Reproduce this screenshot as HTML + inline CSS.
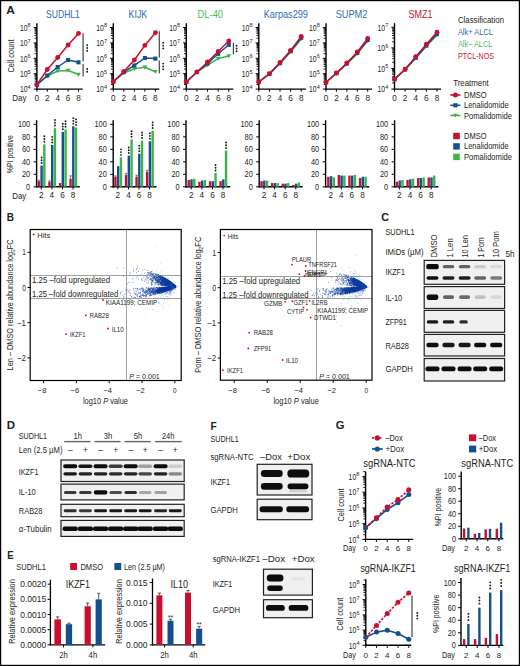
<!DOCTYPE html>
<html><head><meta charset="utf-8"><style>
html,body{margin:0;padding:0;background:#fff;}
svg{display:block;}
text{font-family:"Liberation Sans",sans-serif;}
</style></head><body>
<svg width="520" height="666" viewBox="0 0 520 666">
<defs><filter id="b1" x="-30%" y="-100%" width="160%" height="300%"><feGaussianBlur stdDeviation="0.55"/></filter><filter id="b2" x="-30%" y="-100%" width="160%" height="300%"><feGaussianBlur stdDeviation="0.6"/></filter></defs>
<rect width="520" height="666" fill="#fff"/>
<rect x="0.60" y="0.60" width="518.80" height="664.80" fill="none" stroke="#000" stroke-width="1.2"/>
<text x="6.30" y="14.40" font-size="11.5" fill="#231f20" font-weight="bold" textLength="8.60" lengthAdjust="spacingAndGlyphs">A</text>
<text x="6.80" y="221.00" font-size="11.5" fill="#231f20" font-weight="bold" textLength="7.20" lengthAdjust="spacingAndGlyphs">B</text>
<text x="381.20" y="221.20" font-size="11.5" fill="#231f20" font-weight="bold" textLength="7.80" lengthAdjust="spacingAndGlyphs">C</text>
<text x="6.80" y="429.30" font-size="11.5" fill="#231f20" font-weight="bold" textLength="8.30" lengthAdjust="spacingAndGlyphs">D</text>
<text x="7.30" y="558.80" font-size="11.5" fill="#231f20" font-weight="bold" textLength="6.40" lengthAdjust="spacingAndGlyphs">E</text>
<text x="210.40" y="429.70" font-size="11.5" fill="#231f20" font-weight="bold" textLength="6.20" lengthAdjust="spacingAndGlyphs">F</text>
<text x="335.80" y="429.20" font-size="11.5" fill="#231f20" font-weight="bold" textLength="8.80" lengthAdjust="spacingAndGlyphs">G</text>
<text x="62.95" y="18.40" font-size="10.6" fill="#2d6db0" text-anchor="middle" textLength="33.90" lengthAdjust="spacingAndGlyphs">SUDHL1</text>
<line x1="36.90" y1="23.20" x2="36.90" y2="89.70" stroke="#000" stroke-width="1.4"/>
<line x1="33.70" y1="89.10" x2="36.90" y2="89.10" stroke="#000" stroke-width="1"/>
<text x="27.50" y="92.30" font-size="8.3" fill="#231f20" text-anchor="end" textLength="7.60" lengthAdjust="spacingAndGlyphs">10</text>
<text x="27.60" y="89.00" font-size="6.0" fill="#231f20" textLength="3.10" lengthAdjust="spacingAndGlyphs">4</text>
<line x1="34.60" y1="84.46" x2="36.90" y2="84.46" stroke="#000" stroke-width="0.9"/>
<line x1="34.60" y1="81.75" x2="36.90" y2="81.75" stroke="#000" stroke-width="0.9"/>
<line x1="34.60" y1="79.83" x2="36.90" y2="79.83" stroke="#000" stroke-width="0.9"/>
<line x1="34.60" y1="78.34" x2="36.90" y2="78.34" stroke="#000" stroke-width="0.9"/>
<line x1="34.60" y1="77.12" x2="36.90" y2="77.12" stroke="#000" stroke-width="0.9"/>
<line x1="34.60" y1="76.09" x2="36.90" y2="76.09" stroke="#000" stroke-width="0.9"/>
<line x1="34.60" y1="75.19" x2="36.90" y2="75.19" stroke="#000" stroke-width="0.9"/>
<line x1="34.60" y1="74.40" x2="36.90" y2="74.40" stroke="#000" stroke-width="0.9"/>
<line x1="33.70" y1="73.70" x2="36.90" y2="73.70" stroke="#000" stroke-width="1"/>
<text x="27.50" y="76.90" font-size="8.3" fill="#231f20" text-anchor="end" textLength="7.60" lengthAdjust="spacingAndGlyphs">10</text>
<text x="27.60" y="73.60" font-size="6.0" fill="#231f20" textLength="3.10" lengthAdjust="spacingAndGlyphs">5</text>
<line x1="34.60" y1="69.06" x2="36.90" y2="69.06" stroke="#000" stroke-width="0.9"/>
<line x1="34.60" y1="66.35" x2="36.90" y2="66.35" stroke="#000" stroke-width="0.9"/>
<line x1="34.60" y1="64.43" x2="36.90" y2="64.43" stroke="#000" stroke-width="0.9"/>
<line x1="34.60" y1="62.94" x2="36.90" y2="62.94" stroke="#000" stroke-width="0.9"/>
<line x1="34.60" y1="61.72" x2="36.90" y2="61.72" stroke="#000" stroke-width="0.9"/>
<line x1="34.60" y1="60.69" x2="36.90" y2="60.69" stroke="#000" stroke-width="0.9"/>
<line x1="34.60" y1="59.79" x2="36.90" y2="59.79" stroke="#000" stroke-width="0.9"/>
<line x1="34.60" y1="59.00" x2="36.90" y2="59.00" stroke="#000" stroke-width="0.9"/>
<line x1="33.70" y1="58.30" x2="36.90" y2="58.30" stroke="#000" stroke-width="1"/>
<text x="27.50" y="61.50" font-size="8.3" fill="#231f20" text-anchor="end" textLength="7.60" lengthAdjust="spacingAndGlyphs">10</text>
<text x="27.60" y="58.20" font-size="6.0" fill="#231f20" textLength="3.10" lengthAdjust="spacingAndGlyphs">6</text>
<line x1="34.60" y1="53.66" x2="36.90" y2="53.66" stroke="#000" stroke-width="0.9"/>
<line x1="34.60" y1="50.95" x2="36.90" y2="50.95" stroke="#000" stroke-width="0.9"/>
<line x1="34.60" y1="49.03" x2="36.90" y2="49.03" stroke="#000" stroke-width="0.9"/>
<line x1="34.60" y1="47.54" x2="36.90" y2="47.54" stroke="#000" stroke-width="0.9"/>
<line x1="34.60" y1="46.32" x2="36.90" y2="46.32" stroke="#000" stroke-width="0.9"/>
<line x1="34.60" y1="45.29" x2="36.90" y2="45.29" stroke="#000" stroke-width="0.9"/>
<line x1="34.60" y1="44.39" x2="36.90" y2="44.39" stroke="#000" stroke-width="0.9"/>
<line x1="34.60" y1="43.60" x2="36.90" y2="43.60" stroke="#000" stroke-width="0.9"/>
<line x1="33.70" y1="42.90" x2="36.90" y2="42.90" stroke="#000" stroke-width="1"/>
<text x="27.50" y="46.10" font-size="8.3" fill="#231f20" text-anchor="end" textLength="7.60" lengthAdjust="spacingAndGlyphs">10</text>
<text x="27.60" y="42.80" font-size="6.0" fill="#231f20" textLength="3.10" lengthAdjust="spacingAndGlyphs">7</text>
<line x1="34.60" y1="38.26" x2="36.90" y2="38.26" stroke="#000" stroke-width="0.9"/>
<line x1="34.60" y1="35.55" x2="36.90" y2="35.55" stroke="#000" stroke-width="0.9"/>
<line x1="34.60" y1="33.63" x2="36.90" y2="33.63" stroke="#000" stroke-width="0.9"/>
<line x1="34.60" y1="32.14" x2="36.90" y2="32.14" stroke="#000" stroke-width="0.9"/>
<line x1="34.60" y1="30.92" x2="36.90" y2="30.92" stroke="#000" stroke-width="0.9"/>
<line x1="34.60" y1="29.89" x2="36.90" y2="29.89" stroke="#000" stroke-width="0.9"/>
<line x1="34.60" y1="28.99" x2="36.90" y2="28.99" stroke="#000" stroke-width="0.9"/>
<line x1="34.60" y1="28.20" x2="36.90" y2="28.20" stroke="#000" stroke-width="0.9"/>
<line x1="33.70" y1="27.50" x2="36.90" y2="27.50" stroke="#000" stroke-width="1"/>
<text x="27.50" y="30.70" font-size="8.3" fill="#231f20" text-anchor="end" textLength="7.60" lengthAdjust="spacingAndGlyphs">10</text>
<text x="27.60" y="27.40" font-size="6.0" fill="#231f20" textLength="3.10" lengthAdjust="spacingAndGlyphs">8</text>
<line x1="36.20" y1="89.10" x2="82.80" y2="89.10" stroke="#000" stroke-width="1.4"/>
<line x1="36.90" y1="89.10" x2="36.90" y2="91.70" stroke="#000" stroke-width="1"/>
<text x="36.90" y="100.80" font-size="8.2" fill="#231f20" text-anchor="middle">0</text>
<line x1="47.30" y1="89.10" x2="47.30" y2="91.70" stroke="#000" stroke-width="1"/>
<text x="47.30" y="100.80" font-size="8.2" fill="#231f20" text-anchor="middle">2</text>
<line x1="57.70" y1="89.10" x2="57.70" y2="91.70" stroke="#000" stroke-width="1"/>
<text x="57.70" y="100.80" font-size="8.2" fill="#231f20" text-anchor="middle">4</text>
<line x1="68.10" y1="89.10" x2="68.10" y2="91.70" stroke="#000" stroke-width="1"/>
<text x="68.10" y="100.80" font-size="8.2" fill="#231f20" text-anchor="middle">6</text>
<line x1="78.50" y1="89.10" x2="78.50" y2="91.70" stroke="#000" stroke-width="1"/>
<text x="78.50" y="100.80" font-size="8.2" fill="#231f20" text-anchor="middle">8</text>
<polyline points="36.90,84.70 47.30,76.00 57.70,71.00 68.10,70.50 78.50,74.50" fill="none" stroke="#3cb44b" stroke-width="1.5" stroke-linejoin="round"/>
<path d="M34.50,82.90L39.30,82.90L36.90,86.86Z" fill="#3cb44b"/>
<path d="M44.90,74.20L49.70,74.20L47.30,78.16Z" fill="#3cb44b"/>
<path d="M55.30,69.20L60.10,69.20L57.70,73.16Z" fill="#3cb44b"/>
<path d="M65.70,68.70L70.50,68.70L68.10,72.66Z" fill="#3cb44b"/>
<path d="M76.10,72.70L80.90,72.70L78.50,76.66Z" fill="#3cb44b"/>
<polyline points="36.90,84.70 47.30,75.50 57.70,67.00 68.10,60.00 78.50,62.30" fill="none" stroke="#15508e" stroke-width="1.5" stroke-linejoin="round"/>
<rect x="34.85" y="82.65" width="4.10" height="4.10" fill="#15508e"/>
<rect x="45.25" y="73.45" width="4.10" height="4.10" fill="#15508e"/>
<rect x="55.65" y="64.95" width="4.10" height="4.10" fill="#15508e"/>
<rect x="66.05" y="57.95" width="4.10" height="4.10" fill="#15508e"/>
<rect x="76.45" y="60.25" width="4.10" height="4.10" fill="#15508e"/>
<polyline points="36.90,84.70 47.30,69.50 57.70,57.50 68.10,45.00 78.50,33.40" fill="none" stroke="#c8102e" stroke-width="1.5" stroke-linejoin="round"/>
<circle cx="36.90" cy="84.70" r="2.45" fill="#c8102e"/>
<circle cx="47.30" cy="69.50" r="2.45" fill="#c8102e"/>
<circle cx="57.70" cy="57.50" r="2.45" fill="#c8102e"/>
<circle cx="68.10" cy="45.00" r="2.45" fill="#c8102e"/>
<circle cx="78.50" cy="33.40" r="2.45" fill="#c8102e"/>
<line x1="83.10" y1="33.00" x2="83.10" y2="61.60" stroke="#444" stroke-width="1.2"/>
<circle cx="87.20" cy="45.20" r="0.95" fill="#1a1a1a"/>
<circle cx="87.20" cy="48.00" r="0.95" fill="#1a1a1a"/>
<circle cx="87.20" cy="50.80" r="0.95" fill="#1a1a1a"/>
<line x1="83.10" y1="64.10" x2="83.10" y2="76.60" stroke="#444" stroke-width="1.2"/>
<circle cx="87.20" cy="69.00" r="0.95" fill="#1a1a1a"/>
<circle cx="87.20" cy="71.80" r="0.95" fill="#1a1a1a"/>
<text x="137.90" y="18.40" font-size="10.6" fill="#2d6db0" text-anchor="middle" textLength="18.80" lengthAdjust="spacingAndGlyphs">KIJK</text>
<line x1="113.30" y1="23.20" x2="113.30" y2="89.70" stroke="#000" stroke-width="1.4"/>
<line x1="110.10" y1="89.10" x2="113.30" y2="89.10" stroke="#000" stroke-width="1"/>
<text x="103.90" y="92.30" font-size="8.3" fill="#231f20" text-anchor="end" textLength="7.60" lengthAdjust="spacingAndGlyphs">10</text>
<text x="104.00" y="89.00" font-size="6.0" fill="#231f20" textLength="3.10" lengthAdjust="spacingAndGlyphs">4</text>
<line x1="111.00" y1="84.46" x2="113.30" y2="84.46" stroke="#000" stroke-width="0.9"/>
<line x1="111.00" y1="81.75" x2="113.30" y2="81.75" stroke="#000" stroke-width="0.9"/>
<line x1="111.00" y1="79.83" x2="113.30" y2="79.83" stroke="#000" stroke-width="0.9"/>
<line x1="111.00" y1="78.34" x2="113.30" y2="78.34" stroke="#000" stroke-width="0.9"/>
<line x1="111.00" y1="77.12" x2="113.30" y2="77.12" stroke="#000" stroke-width="0.9"/>
<line x1="111.00" y1="76.09" x2="113.30" y2="76.09" stroke="#000" stroke-width="0.9"/>
<line x1="111.00" y1="75.19" x2="113.30" y2="75.19" stroke="#000" stroke-width="0.9"/>
<line x1="111.00" y1="74.40" x2="113.30" y2="74.40" stroke="#000" stroke-width="0.9"/>
<line x1="110.10" y1="73.70" x2="113.30" y2="73.70" stroke="#000" stroke-width="1"/>
<text x="103.90" y="76.90" font-size="8.3" fill="#231f20" text-anchor="end" textLength="7.60" lengthAdjust="spacingAndGlyphs">10</text>
<text x="104.00" y="73.60" font-size="6.0" fill="#231f20" textLength="3.10" lengthAdjust="spacingAndGlyphs">5</text>
<line x1="111.00" y1="69.06" x2="113.30" y2="69.06" stroke="#000" stroke-width="0.9"/>
<line x1="111.00" y1="66.35" x2="113.30" y2="66.35" stroke="#000" stroke-width="0.9"/>
<line x1="111.00" y1="64.43" x2="113.30" y2="64.43" stroke="#000" stroke-width="0.9"/>
<line x1="111.00" y1="62.94" x2="113.30" y2="62.94" stroke="#000" stroke-width="0.9"/>
<line x1="111.00" y1="61.72" x2="113.30" y2="61.72" stroke="#000" stroke-width="0.9"/>
<line x1="111.00" y1="60.69" x2="113.30" y2="60.69" stroke="#000" stroke-width="0.9"/>
<line x1="111.00" y1="59.79" x2="113.30" y2="59.79" stroke="#000" stroke-width="0.9"/>
<line x1="111.00" y1="59.00" x2="113.30" y2="59.00" stroke="#000" stroke-width="0.9"/>
<line x1="110.10" y1="58.30" x2="113.30" y2="58.30" stroke="#000" stroke-width="1"/>
<text x="103.90" y="61.50" font-size="8.3" fill="#231f20" text-anchor="end" textLength="7.60" lengthAdjust="spacingAndGlyphs">10</text>
<text x="104.00" y="58.20" font-size="6.0" fill="#231f20" textLength="3.10" lengthAdjust="spacingAndGlyphs">6</text>
<line x1="111.00" y1="53.66" x2="113.30" y2="53.66" stroke="#000" stroke-width="0.9"/>
<line x1="111.00" y1="50.95" x2="113.30" y2="50.95" stroke="#000" stroke-width="0.9"/>
<line x1="111.00" y1="49.03" x2="113.30" y2="49.03" stroke="#000" stroke-width="0.9"/>
<line x1="111.00" y1="47.54" x2="113.30" y2="47.54" stroke="#000" stroke-width="0.9"/>
<line x1="111.00" y1="46.32" x2="113.30" y2="46.32" stroke="#000" stroke-width="0.9"/>
<line x1="111.00" y1="45.29" x2="113.30" y2="45.29" stroke="#000" stroke-width="0.9"/>
<line x1="111.00" y1="44.39" x2="113.30" y2="44.39" stroke="#000" stroke-width="0.9"/>
<line x1="111.00" y1="43.60" x2="113.30" y2="43.60" stroke="#000" stroke-width="0.9"/>
<line x1="110.10" y1="42.90" x2="113.30" y2="42.90" stroke="#000" stroke-width="1"/>
<text x="103.90" y="46.10" font-size="8.3" fill="#231f20" text-anchor="end" textLength="7.60" lengthAdjust="spacingAndGlyphs">10</text>
<text x="104.00" y="42.80" font-size="6.0" fill="#231f20" textLength="3.10" lengthAdjust="spacingAndGlyphs">7</text>
<line x1="111.00" y1="38.26" x2="113.30" y2="38.26" stroke="#000" stroke-width="0.9"/>
<line x1="111.00" y1="35.55" x2="113.30" y2="35.55" stroke="#000" stroke-width="0.9"/>
<line x1="111.00" y1="33.63" x2="113.30" y2="33.63" stroke="#000" stroke-width="0.9"/>
<line x1="111.00" y1="32.14" x2="113.30" y2="32.14" stroke="#000" stroke-width="0.9"/>
<line x1="111.00" y1="30.92" x2="113.30" y2="30.92" stroke="#000" stroke-width="0.9"/>
<line x1="111.00" y1="29.89" x2="113.30" y2="29.89" stroke="#000" stroke-width="0.9"/>
<line x1="111.00" y1="28.99" x2="113.30" y2="28.99" stroke="#000" stroke-width="0.9"/>
<line x1="111.00" y1="28.20" x2="113.30" y2="28.20" stroke="#000" stroke-width="0.9"/>
<line x1="110.10" y1="27.50" x2="113.30" y2="27.50" stroke="#000" stroke-width="1"/>
<text x="103.90" y="30.70" font-size="8.3" fill="#231f20" text-anchor="end" textLength="7.60" lengthAdjust="spacingAndGlyphs">10</text>
<text x="104.00" y="27.40" font-size="6.0" fill="#231f20" textLength="3.10" lengthAdjust="spacingAndGlyphs">8</text>
<line x1="112.60" y1="89.10" x2="159.30" y2="89.10" stroke="#000" stroke-width="1.4"/>
<line x1="113.30" y1="89.10" x2="113.30" y2="91.70" stroke="#000" stroke-width="1"/>
<text x="113.30" y="100.80" font-size="8.2" fill="#231f20" text-anchor="middle">0</text>
<line x1="123.83" y1="89.10" x2="123.83" y2="91.70" stroke="#000" stroke-width="1"/>
<text x="123.83" y="100.80" font-size="8.2" fill="#231f20" text-anchor="middle">2</text>
<line x1="134.35" y1="89.10" x2="134.35" y2="91.70" stroke="#000" stroke-width="1"/>
<text x="134.35" y="100.80" font-size="8.2" fill="#231f20" text-anchor="middle">4</text>
<line x1="144.88" y1="89.10" x2="144.88" y2="91.70" stroke="#000" stroke-width="1"/>
<text x="144.88" y="100.80" font-size="8.2" fill="#231f20" text-anchor="middle">6</text>
<line x1="155.40" y1="89.10" x2="155.40" y2="91.70" stroke="#000" stroke-width="1"/>
<text x="155.40" y="100.80" font-size="8.2" fill="#231f20" text-anchor="middle">8</text>
<polyline points="113.30,81.70 123.83,73.00 134.35,68.80 144.88,67.30 155.40,71.70" fill="none" stroke="#3cb44b" stroke-width="1.5" stroke-linejoin="round"/>
<path d="M110.90,79.90L115.70,79.90L113.30,83.86Z" fill="#3cb44b"/>
<path d="M121.42,71.20L126.23,71.20L123.83,75.16Z" fill="#3cb44b"/>
<path d="M131.95,67.00L136.75,67.00L134.35,70.96Z" fill="#3cb44b"/>
<path d="M142.47,65.50L147.28,65.50L144.88,69.46Z" fill="#3cb44b"/>
<path d="M153.00,69.90L157.80,69.90L155.40,73.86Z" fill="#3cb44b"/>
<polyline points="113.30,81.70 123.83,72.10 134.35,65.40 144.88,58.00 155.40,58.60" fill="none" stroke="#15508e" stroke-width="1.5" stroke-linejoin="round"/>
<rect x="111.25" y="79.65" width="4.10" height="4.10" fill="#15508e"/>
<rect x="121.78" y="70.05" width="4.10" height="4.10" fill="#15508e"/>
<rect x="132.30" y="63.35" width="4.10" height="4.10" fill="#15508e"/>
<rect x="142.82" y="55.95" width="4.10" height="4.10" fill="#15508e"/>
<rect x="153.35" y="56.55" width="4.10" height="4.10" fill="#15508e"/>
<polyline points="113.30,81.70 123.83,71.50 134.35,60.00 144.88,45.40 155.40,32.80" fill="none" stroke="#c8102e" stroke-width="1.5" stroke-linejoin="round"/>
<circle cx="113.30" cy="81.70" r="2.45" fill="#c8102e"/>
<circle cx="123.83" cy="71.50" r="2.45" fill="#c8102e"/>
<circle cx="134.35" cy="60.00" r="2.45" fill="#c8102e"/>
<circle cx="144.88" cy="45.40" r="2.45" fill="#c8102e"/>
<circle cx="155.40" cy="32.80" r="2.45" fill="#c8102e"/>
<line x1="159.30" y1="31.30" x2="159.30" y2="57.40" stroke="#444" stroke-width="1.2"/>
<circle cx="163.20" cy="42.80" r="0.95" fill="#1a1a1a"/>
<circle cx="163.20" cy="45.60" r="0.95" fill="#1a1a1a"/>
<circle cx="163.20" cy="48.40" r="0.95" fill="#1a1a1a"/>
<line x1="159.30" y1="60.50" x2="159.30" y2="73.20" stroke="#444" stroke-width="1.2"/>
<circle cx="163.20" cy="63.60" r="0.95" fill="#1a1a1a"/>
<circle cx="163.20" cy="66.40" r="0.95" fill="#1a1a1a"/>
<circle cx="163.20" cy="69.20" r="0.95" fill="#1a1a1a"/>
<text x="210.30" y="18.40" font-size="10.6" fill="#4cbb5e" text-anchor="middle" textLength="25.60" lengthAdjust="spacingAndGlyphs">DL-40</text>
<line x1="186.30" y1="23.20" x2="186.30" y2="89.70" stroke="#000" stroke-width="1.4"/>
<line x1="183.10" y1="89.10" x2="186.30" y2="89.10" stroke="#000" stroke-width="1"/>
<text x="176.90" y="92.30" font-size="8.3" fill="#231f20" text-anchor="end" textLength="7.60" lengthAdjust="spacingAndGlyphs">10</text>
<text x="177.00" y="89.00" font-size="6.0" fill="#231f20" textLength="3.10" lengthAdjust="spacingAndGlyphs">4</text>
<line x1="184.00" y1="84.46" x2="186.30" y2="84.46" stroke="#000" stroke-width="0.9"/>
<line x1="184.00" y1="81.75" x2="186.30" y2="81.75" stroke="#000" stroke-width="0.9"/>
<line x1="184.00" y1="79.83" x2="186.30" y2="79.83" stroke="#000" stroke-width="0.9"/>
<line x1="184.00" y1="78.34" x2="186.30" y2="78.34" stroke="#000" stroke-width="0.9"/>
<line x1="184.00" y1="77.12" x2="186.30" y2="77.12" stroke="#000" stroke-width="0.9"/>
<line x1="184.00" y1="76.09" x2="186.30" y2="76.09" stroke="#000" stroke-width="0.9"/>
<line x1="184.00" y1="75.19" x2="186.30" y2="75.19" stroke="#000" stroke-width="0.9"/>
<line x1="184.00" y1="74.40" x2="186.30" y2="74.40" stroke="#000" stroke-width="0.9"/>
<line x1="183.10" y1="73.70" x2="186.30" y2="73.70" stroke="#000" stroke-width="1"/>
<text x="176.90" y="76.90" font-size="8.3" fill="#231f20" text-anchor="end" textLength="7.60" lengthAdjust="spacingAndGlyphs">10</text>
<text x="177.00" y="73.60" font-size="6.0" fill="#231f20" textLength="3.10" lengthAdjust="spacingAndGlyphs">5</text>
<line x1="184.00" y1="69.06" x2="186.30" y2="69.06" stroke="#000" stroke-width="0.9"/>
<line x1="184.00" y1="66.35" x2="186.30" y2="66.35" stroke="#000" stroke-width="0.9"/>
<line x1="184.00" y1="64.43" x2="186.30" y2="64.43" stroke="#000" stroke-width="0.9"/>
<line x1="184.00" y1="62.94" x2="186.30" y2="62.94" stroke="#000" stroke-width="0.9"/>
<line x1="184.00" y1="61.72" x2="186.30" y2="61.72" stroke="#000" stroke-width="0.9"/>
<line x1="184.00" y1="60.69" x2="186.30" y2="60.69" stroke="#000" stroke-width="0.9"/>
<line x1="184.00" y1="59.79" x2="186.30" y2="59.79" stroke="#000" stroke-width="0.9"/>
<line x1="184.00" y1="59.00" x2="186.30" y2="59.00" stroke="#000" stroke-width="0.9"/>
<line x1="183.10" y1="58.30" x2="186.30" y2="58.30" stroke="#000" stroke-width="1"/>
<text x="176.90" y="61.50" font-size="8.3" fill="#231f20" text-anchor="end" textLength="7.60" lengthAdjust="spacingAndGlyphs">10</text>
<text x="177.00" y="58.20" font-size="6.0" fill="#231f20" textLength="3.10" lengthAdjust="spacingAndGlyphs">6</text>
<line x1="184.00" y1="53.66" x2="186.30" y2="53.66" stroke="#000" stroke-width="0.9"/>
<line x1="184.00" y1="50.95" x2="186.30" y2="50.95" stroke="#000" stroke-width="0.9"/>
<line x1="184.00" y1="49.03" x2="186.30" y2="49.03" stroke="#000" stroke-width="0.9"/>
<line x1="184.00" y1="47.54" x2="186.30" y2="47.54" stroke="#000" stroke-width="0.9"/>
<line x1="184.00" y1="46.32" x2="186.30" y2="46.32" stroke="#000" stroke-width="0.9"/>
<line x1="184.00" y1="45.29" x2="186.30" y2="45.29" stroke="#000" stroke-width="0.9"/>
<line x1="184.00" y1="44.39" x2="186.30" y2="44.39" stroke="#000" stroke-width="0.9"/>
<line x1="184.00" y1="43.60" x2="186.30" y2="43.60" stroke="#000" stroke-width="0.9"/>
<line x1="183.10" y1="42.90" x2="186.30" y2="42.90" stroke="#000" stroke-width="1"/>
<text x="176.90" y="46.10" font-size="8.3" fill="#231f20" text-anchor="end" textLength="7.60" lengthAdjust="spacingAndGlyphs">10</text>
<text x="177.00" y="42.80" font-size="6.0" fill="#231f20" textLength="3.10" lengthAdjust="spacingAndGlyphs">7</text>
<line x1="184.00" y1="38.26" x2="186.30" y2="38.26" stroke="#000" stroke-width="0.9"/>
<line x1="184.00" y1="35.55" x2="186.30" y2="35.55" stroke="#000" stroke-width="0.9"/>
<line x1="184.00" y1="33.63" x2="186.30" y2="33.63" stroke="#000" stroke-width="0.9"/>
<line x1="184.00" y1="32.14" x2="186.30" y2="32.14" stroke="#000" stroke-width="0.9"/>
<line x1="184.00" y1="30.92" x2="186.30" y2="30.92" stroke="#000" stroke-width="0.9"/>
<line x1="184.00" y1="29.89" x2="186.30" y2="29.89" stroke="#000" stroke-width="0.9"/>
<line x1="184.00" y1="28.99" x2="186.30" y2="28.99" stroke="#000" stroke-width="0.9"/>
<line x1="184.00" y1="28.20" x2="186.30" y2="28.20" stroke="#000" stroke-width="0.9"/>
<line x1="183.10" y1="27.50" x2="186.30" y2="27.50" stroke="#000" stroke-width="1"/>
<text x="176.90" y="30.70" font-size="8.3" fill="#231f20" text-anchor="end" textLength="7.60" lengthAdjust="spacingAndGlyphs">10</text>
<text x="177.00" y="27.40" font-size="6.0" fill="#231f20" textLength="3.10" lengthAdjust="spacingAndGlyphs">8</text>
<line x1="185.60" y1="89.10" x2="233.30" y2="89.10" stroke="#000" stroke-width="1.4"/>
<line x1="186.30" y1="89.10" x2="186.30" y2="91.70" stroke="#000" stroke-width="1"/>
<text x="186.30" y="100.80" font-size="8.2" fill="#231f20" text-anchor="middle">0</text>
<line x1="196.93" y1="89.10" x2="196.93" y2="91.70" stroke="#000" stroke-width="1"/>
<text x="196.93" y="100.80" font-size="8.2" fill="#231f20" text-anchor="middle">2</text>
<line x1="207.55" y1="89.10" x2="207.55" y2="91.70" stroke="#000" stroke-width="1"/>
<text x="207.55" y="100.80" font-size="8.2" fill="#231f20" text-anchor="middle">4</text>
<line x1="218.18" y1="89.10" x2="218.18" y2="91.70" stroke="#000" stroke-width="1"/>
<text x="218.18" y="100.80" font-size="8.2" fill="#231f20" text-anchor="middle">6</text>
<line x1="228.80" y1="89.10" x2="228.80" y2="91.70" stroke="#000" stroke-width="1"/>
<text x="228.80" y="100.80" font-size="8.2" fill="#231f20" text-anchor="middle">8</text>
<polyline points="186.30,82.00 196.93,72.00 207.55,65.00 218.18,58.60 228.80,56.00" fill="none" stroke="#3cb44b" stroke-width="1.5" stroke-linejoin="round"/>
<path d="M183.90,80.20L188.70,80.20L186.30,84.16Z" fill="#3cb44b"/>
<path d="M194.53,70.20L199.33,70.20L196.93,74.16Z" fill="#3cb44b"/>
<path d="M205.15,63.20L209.95,63.20L207.55,67.16Z" fill="#3cb44b"/>
<path d="M215.78,56.80L220.58,56.80L218.18,60.76Z" fill="#3cb44b"/>
<path d="M226.40,54.20L231.20,54.20L228.80,58.16Z" fill="#3cb44b"/>
<polyline points="186.30,82.00 196.93,72.00 207.55,63.50 218.18,53.80 228.80,44.80" fill="none" stroke="#15508e" stroke-width="1.5" stroke-linejoin="round"/>
<rect x="184.25" y="79.95" width="4.10" height="4.10" fill="#15508e"/>
<rect x="194.88" y="69.95" width="4.10" height="4.10" fill="#15508e"/>
<rect x="205.50" y="61.45" width="4.10" height="4.10" fill="#15508e"/>
<rect x="216.12" y="51.75" width="4.10" height="4.10" fill="#15508e"/>
<rect x="226.75" y="42.75" width="4.10" height="4.10" fill="#15508e"/>
<polyline points="186.30,82.00 196.93,72.00 207.55,62.00 218.18,51.50 228.80,41.00" fill="none" stroke="#c8102e" stroke-width="1.5" stroke-linejoin="round"/>
<circle cx="186.30" cy="82.00" r="2.45" fill="#c8102e"/>
<circle cx="196.93" cy="72.00" r="2.45" fill="#c8102e"/>
<circle cx="207.55" cy="62.00" r="2.45" fill="#c8102e"/>
<circle cx="218.18" cy="51.50" r="2.45" fill="#c8102e"/>
<circle cx="228.80" cy="41.00" r="2.45" fill="#c8102e"/>
<line x1="233.40" y1="42.70" x2="233.40" y2="54.40" stroke="#444" stroke-width="1.2"/>
<circle cx="236.60" cy="45.70" r="0.95" fill="#1a1a1a"/>
<circle cx="236.60" cy="48.50" r="0.95" fill="#1a1a1a"/>
<circle cx="236.60" cy="51.30" r="0.95" fill="#1a1a1a"/>
<text x="285.80" y="18.40" font-size="10.6" fill="#2d6db0" text-anchor="middle" textLength="44.20" lengthAdjust="spacingAndGlyphs">Karpas299</text>
<line x1="258.80" y1="23.20" x2="258.80" y2="89.70" stroke="#000" stroke-width="1.4"/>
<line x1="255.60" y1="89.10" x2="258.80" y2="89.10" stroke="#000" stroke-width="1"/>
<text x="249.40" y="92.30" font-size="8.3" fill="#231f20" text-anchor="end" textLength="7.60" lengthAdjust="spacingAndGlyphs">10</text>
<text x="249.50" y="89.00" font-size="6.0" fill="#231f20" textLength="3.10" lengthAdjust="spacingAndGlyphs">4</text>
<line x1="256.50" y1="84.46" x2="258.80" y2="84.46" stroke="#000" stroke-width="0.9"/>
<line x1="256.50" y1="81.75" x2="258.80" y2="81.75" stroke="#000" stroke-width="0.9"/>
<line x1="256.50" y1="79.83" x2="258.80" y2="79.83" stroke="#000" stroke-width="0.9"/>
<line x1="256.50" y1="78.34" x2="258.80" y2="78.34" stroke="#000" stroke-width="0.9"/>
<line x1="256.50" y1="77.12" x2="258.80" y2="77.12" stroke="#000" stroke-width="0.9"/>
<line x1="256.50" y1="76.09" x2="258.80" y2="76.09" stroke="#000" stroke-width="0.9"/>
<line x1="256.50" y1="75.19" x2="258.80" y2="75.19" stroke="#000" stroke-width="0.9"/>
<line x1="256.50" y1="74.40" x2="258.80" y2="74.40" stroke="#000" stroke-width="0.9"/>
<line x1="255.60" y1="73.70" x2="258.80" y2="73.70" stroke="#000" stroke-width="1"/>
<text x="249.40" y="76.90" font-size="8.3" fill="#231f20" text-anchor="end" textLength="7.60" lengthAdjust="spacingAndGlyphs">10</text>
<text x="249.50" y="73.60" font-size="6.0" fill="#231f20" textLength="3.10" lengthAdjust="spacingAndGlyphs">5</text>
<line x1="256.50" y1="69.06" x2="258.80" y2="69.06" stroke="#000" stroke-width="0.9"/>
<line x1="256.50" y1="66.35" x2="258.80" y2="66.35" stroke="#000" stroke-width="0.9"/>
<line x1="256.50" y1="64.43" x2="258.80" y2="64.43" stroke="#000" stroke-width="0.9"/>
<line x1="256.50" y1="62.94" x2="258.80" y2="62.94" stroke="#000" stroke-width="0.9"/>
<line x1="256.50" y1="61.72" x2="258.80" y2="61.72" stroke="#000" stroke-width="0.9"/>
<line x1="256.50" y1="60.69" x2="258.80" y2="60.69" stroke="#000" stroke-width="0.9"/>
<line x1="256.50" y1="59.79" x2="258.80" y2="59.79" stroke="#000" stroke-width="0.9"/>
<line x1="256.50" y1="59.00" x2="258.80" y2="59.00" stroke="#000" stroke-width="0.9"/>
<line x1="255.60" y1="58.30" x2="258.80" y2="58.30" stroke="#000" stroke-width="1"/>
<text x="249.40" y="61.50" font-size="8.3" fill="#231f20" text-anchor="end" textLength="7.60" lengthAdjust="spacingAndGlyphs">10</text>
<text x="249.50" y="58.20" font-size="6.0" fill="#231f20" textLength="3.10" lengthAdjust="spacingAndGlyphs">6</text>
<line x1="256.50" y1="53.66" x2="258.80" y2="53.66" stroke="#000" stroke-width="0.9"/>
<line x1="256.50" y1="50.95" x2="258.80" y2="50.95" stroke="#000" stroke-width="0.9"/>
<line x1="256.50" y1="49.03" x2="258.80" y2="49.03" stroke="#000" stroke-width="0.9"/>
<line x1="256.50" y1="47.54" x2="258.80" y2="47.54" stroke="#000" stroke-width="0.9"/>
<line x1="256.50" y1="46.32" x2="258.80" y2="46.32" stroke="#000" stroke-width="0.9"/>
<line x1="256.50" y1="45.29" x2="258.80" y2="45.29" stroke="#000" stroke-width="0.9"/>
<line x1="256.50" y1="44.39" x2="258.80" y2="44.39" stroke="#000" stroke-width="0.9"/>
<line x1="256.50" y1="43.60" x2="258.80" y2="43.60" stroke="#000" stroke-width="0.9"/>
<line x1="255.60" y1="42.90" x2="258.80" y2="42.90" stroke="#000" stroke-width="1"/>
<text x="249.40" y="46.10" font-size="8.3" fill="#231f20" text-anchor="end" textLength="7.60" lengthAdjust="spacingAndGlyphs">10</text>
<text x="249.50" y="42.80" font-size="6.0" fill="#231f20" textLength="3.10" lengthAdjust="spacingAndGlyphs">7</text>
<line x1="256.50" y1="38.26" x2="258.80" y2="38.26" stroke="#000" stroke-width="0.9"/>
<line x1="256.50" y1="35.55" x2="258.80" y2="35.55" stroke="#000" stroke-width="0.9"/>
<line x1="256.50" y1="33.63" x2="258.80" y2="33.63" stroke="#000" stroke-width="0.9"/>
<line x1="256.50" y1="32.14" x2="258.80" y2="32.14" stroke="#000" stroke-width="0.9"/>
<line x1="256.50" y1="30.92" x2="258.80" y2="30.92" stroke="#000" stroke-width="0.9"/>
<line x1="256.50" y1="29.89" x2="258.80" y2="29.89" stroke="#000" stroke-width="0.9"/>
<line x1="256.50" y1="28.99" x2="258.80" y2="28.99" stroke="#000" stroke-width="0.9"/>
<line x1="256.50" y1="28.20" x2="258.80" y2="28.20" stroke="#000" stroke-width="0.9"/>
<line x1="255.60" y1="27.50" x2="258.80" y2="27.50" stroke="#000" stroke-width="1"/>
<text x="249.40" y="30.70" font-size="8.3" fill="#231f20" text-anchor="end" textLength="7.60" lengthAdjust="spacingAndGlyphs">10</text>
<text x="249.50" y="27.40" font-size="6.0" fill="#231f20" textLength="3.10" lengthAdjust="spacingAndGlyphs">8</text>
<line x1="258.10" y1="89.10" x2="306.00" y2="89.10" stroke="#000" stroke-width="1.4"/>
<line x1="258.80" y1="89.10" x2="258.80" y2="91.70" stroke="#000" stroke-width="1"/>
<text x="258.80" y="100.80" font-size="8.2" fill="#231f20" text-anchor="middle">0</text>
<line x1="269.40" y1="89.10" x2="269.40" y2="91.70" stroke="#000" stroke-width="1"/>
<text x="269.40" y="100.80" font-size="8.2" fill="#231f20" text-anchor="middle">2</text>
<line x1="280.00" y1="89.10" x2="280.00" y2="91.70" stroke="#000" stroke-width="1"/>
<text x="280.00" y="100.80" font-size="8.2" fill="#231f20" text-anchor="middle">4</text>
<line x1="290.60" y1="89.10" x2="290.60" y2="91.70" stroke="#000" stroke-width="1"/>
<text x="290.60" y="100.80" font-size="8.2" fill="#231f20" text-anchor="middle">6</text>
<line x1="301.20" y1="89.10" x2="301.20" y2="91.70" stroke="#000" stroke-width="1"/>
<text x="301.20" y="100.80" font-size="8.2" fill="#231f20" text-anchor="middle">8</text>
<polyline points="258.80,82.00 269.40,74.00 280.00,63.50 290.60,52.00 301.20,39.00" fill="none" stroke="#3cb44b" stroke-width="1.5" stroke-linejoin="round"/>
<path d="M256.40,80.20L261.20,80.20L258.80,84.16Z" fill="#3cb44b"/>
<path d="M267.00,72.20L271.80,72.20L269.40,76.16Z" fill="#3cb44b"/>
<path d="M277.60,61.70L282.40,61.70L280.00,65.66Z" fill="#3cb44b"/>
<path d="M288.20,50.20L293.00,50.20L290.60,54.16Z" fill="#3cb44b"/>
<path d="M298.80,37.20L303.60,37.20L301.20,41.16Z" fill="#3cb44b"/>
<polyline points="258.80,82.00 269.40,73.90 280.00,63.20 290.60,51.20 301.20,37.80" fill="none" stroke="#15508e" stroke-width="1.5" stroke-linejoin="round"/>
<rect x="256.75" y="79.95" width="4.10" height="4.10" fill="#15508e"/>
<rect x="267.35" y="71.85" width="4.10" height="4.10" fill="#15508e"/>
<rect x="277.95" y="61.15" width="4.10" height="4.10" fill="#15508e"/>
<rect x="288.55" y="49.15" width="4.10" height="4.10" fill="#15508e"/>
<rect x="299.15" y="35.75" width="4.10" height="4.10" fill="#15508e"/>
<polyline points="258.80,82.00 269.40,73.70 280.00,62.50 290.60,50.40 301.20,36.50" fill="none" stroke="#c8102e" stroke-width="1.5" stroke-linejoin="round"/>
<circle cx="258.80" cy="82.00" r="2.45" fill="#c8102e"/>
<circle cx="269.40" cy="73.70" r="2.45" fill="#c8102e"/>
<circle cx="280.00" cy="62.50" r="2.45" fill="#c8102e"/>
<circle cx="290.60" cy="50.40" r="2.45" fill="#c8102e"/>
<circle cx="301.20" cy="36.50" r="2.45" fill="#c8102e"/>
<text x="351.50" y="18.40" font-size="10.6" fill="#2d6db0" text-anchor="middle" textLength="31.70" lengthAdjust="spacingAndGlyphs">SUPM2</text>
<line x1="326.00" y1="23.20" x2="326.00" y2="89.70" stroke="#000" stroke-width="1.4"/>
<line x1="322.80" y1="89.10" x2="326.00" y2="89.10" stroke="#000" stroke-width="1"/>
<text x="316.60" y="92.30" font-size="8.3" fill="#231f20" text-anchor="end" textLength="7.60" lengthAdjust="spacingAndGlyphs">10</text>
<text x="316.70" y="89.00" font-size="6.0" fill="#231f20" textLength="3.10" lengthAdjust="spacingAndGlyphs">4</text>
<line x1="323.70" y1="84.46" x2="326.00" y2="84.46" stroke="#000" stroke-width="0.9"/>
<line x1="323.70" y1="81.75" x2="326.00" y2="81.75" stroke="#000" stroke-width="0.9"/>
<line x1="323.70" y1="79.83" x2="326.00" y2="79.83" stroke="#000" stroke-width="0.9"/>
<line x1="323.70" y1="78.34" x2="326.00" y2="78.34" stroke="#000" stroke-width="0.9"/>
<line x1="323.70" y1="77.12" x2="326.00" y2="77.12" stroke="#000" stroke-width="0.9"/>
<line x1="323.70" y1="76.09" x2="326.00" y2="76.09" stroke="#000" stroke-width="0.9"/>
<line x1="323.70" y1="75.19" x2="326.00" y2="75.19" stroke="#000" stroke-width="0.9"/>
<line x1="323.70" y1="74.40" x2="326.00" y2="74.40" stroke="#000" stroke-width="0.9"/>
<line x1="322.80" y1="73.70" x2="326.00" y2="73.70" stroke="#000" stroke-width="1"/>
<text x="316.60" y="76.90" font-size="8.3" fill="#231f20" text-anchor="end" textLength="7.60" lengthAdjust="spacingAndGlyphs">10</text>
<text x="316.70" y="73.60" font-size="6.0" fill="#231f20" textLength="3.10" lengthAdjust="spacingAndGlyphs">5</text>
<line x1="323.70" y1="69.06" x2="326.00" y2="69.06" stroke="#000" stroke-width="0.9"/>
<line x1="323.70" y1="66.35" x2="326.00" y2="66.35" stroke="#000" stroke-width="0.9"/>
<line x1="323.70" y1="64.43" x2="326.00" y2="64.43" stroke="#000" stroke-width="0.9"/>
<line x1="323.70" y1="62.94" x2="326.00" y2="62.94" stroke="#000" stroke-width="0.9"/>
<line x1="323.70" y1="61.72" x2="326.00" y2="61.72" stroke="#000" stroke-width="0.9"/>
<line x1="323.70" y1="60.69" x2="326.00" y2="60.69" stroke="#000" stroke-width="0.9"/>
<line x1="323.70" y1="59.79" x2="326.00" y2="59.79" stroke="#000" stroke-width="0.9"/>
<line x1="323.70" y1="59.00" x2="326.00" y2="59.00" stroke="#000" stroke-width="0.9"/>
<line x1="322.80" y1="58.30" x2="326.00" y2="58.30" stroke="#000" stroke-width="1"/>
<text x="316.60" y="61.50" font-size="8.3" fill="#231f20" text-anchor="end" textLength="7.60" lengthAdjust="spacingAndGlyphs">10</text>
<text x="316.70" y="58.20" font-size="6.0" fill="#231f20" textLength="3.10" lengthAdjust="spacingAndGlyphs">6</text>
<line x1="323.70" y1="53.66" x2="326.00" y2="53.66" stroke="#000" stroke-width="0.9"/>
<line x1="323.70" y1="50.95" x2="326.00" y2="50.95" stroke="#000" stroke-width="0.9"/>
<line x1="323.70" y1="49.03" x2="326.00" y2="49.03" stroke="#000" stroke-width="0.9"/>
<line x1="323.70" y1="47.54" x2="326.00" y2="47.54" stroke="#000" stroke-width="0.9"/>
<line x1="323.70" y1="46.32" x2="326.00" y2="46.32" stroke="#000" stroke-width="0.9"/>
<line x1="323.70" y1="45.29" x2="326.00" y2="45.29" stroke="#000" stroke-width="0.9"/>
<line x1="323.70" y1="44.39" x2="326.00" y2="44.39" stroke="#000" stroke-width="0.9"/>
<line x1="323.70" y1="43.60" x2="326.00" y2="43.60" stroke="#000" stroke-width="0.9"/>
<line x1="322.80" y1="42.90" x2="326.00" y2="42.90" stroke="#000" stroke-width="1"/>
<text x="316.60" y="46.10" font-size="8.3" fill="#231f20" text-anchor="end" textLength="7.60" lengthAdjust="spacingAndGlyphs">10</text>
<text x="316.70" y="42.80" font-size="6.0" fill="#231f20" textLength="3.10" lengthAdjust="spacingAndGlyphs">7</text>
<line x1="323.70" y1="38.26" x2="326.00" y2="38.26" stroke="#000" stroke-width="0.9"/>
<line x1="323.70" y1="35.55" x2="326.00" y2="35.55" stroke="#000" stroke-width="0.9"/>
<line x1="323.70" y1="33.63" x2="326.00" y2="33.63" stroke="#000" stroke-width="0.9"/>
<line x1="323.70" y1="32.14" x2="326.00" y2="32.14" stroke="#000" stroke-width="0.9"/>
<line x1="323.70" y1="30.92" x2="326.00" y2="30.92" stroke="#000" stroke-width="0.9"/>
<line x1="323.70" y1="29.89" x2="326.00" y2="29.89" stroke="#000" stroke-width="0.9"/>
<line x1="323.70" y1="28.99" x2="326.00" y2="28.99" stroke="#000" stroke-width="0.9"/>
<line x1="323.70" y1="28.20" x2="326.00" y2="28.20" stroke="#000" stroke-width="0.9"/>
<line x1="322.80" y1="27.50" x2="326.00" y2="27.50" stroke="#000" stroke-width="1"/>
<text x="316.60" y="30.70" font-size="8.3" fill="#231f20" text-anchor="end" textLength="7.60" lengthAdjust="spacingAndGlyphs">10</text>
<text x="316.70" y="27.40" font-size="6.0" fill="#231f20" textLength="3.10" lengthAdjust="spacingAndGlyphs">8</text>
<line x1="325.30" y1="89.10" x2="372.00" y2="89.10" stroke="#000" stroke-width="1.4"/>
<line x1="326.00" y1="89.10" x2="326.00" y2="91.70" stroke="#000" stroke-width="1"/>
<text x="326.00" y="100.80" font-size="8.2" fill="#231f20" text-anchor="middle">0</text>
<line x1="336.43" y1="89.10" x2="336.43" y2="91.70" stroke="#000" stroke-width="1"/>
<text x="336.43" y="100.80" font-size="8.2" fill="#231f20" text-anchor="middle">2</text>
<line x1="346.85" y1="89.10" x2="346.85" y2="91.70" stroke="#000" stroke-width="1"/>
<text x="346.85" y="100.80" font-size="8.2" fill="#231f20" text-anchor="middle">4</text>
<line x1="357.27" y1="89.10" x2="357.27" y2="91.70" stroke="#000" stroke-width="1"/>
<text x="357.27" y="100.80" font-size="8.2" fill="#231f20" text-anchor="middle">6</text>
<line x1="367.70" y1="89.10" x2="367.70" y2="91.70" stroke="#000" stroke-width="1"/>
<text x="367.70" y="100.80" font-size="8.2" fill="#231f20" text-anchor="middle">8</text>
<polyline points="326.00,82.30 336.43,73.40 346.85,64.00 357.27,53.60 367.70,41.00" fill="none" stroke="#3cb44b" stroke-width="1.5" stroke-linejoin="round"/>
<path d="M323.60,80.50L328.40,80.50L326.00,84.46Z" fill="#3cb44b"/>
<path d="M334.03,71.60L338.82,71.60L336.43,75.56Z" fill="#3cb44b"/>
<path d="M344.45,62.20L349.25,62.20L346.85,66.16Z" fill="#3cb44b"/>
<path d="M354.88,51.80L359.67,51.80L357.27,55.76Z" fill="#3cb44b"/>
<path d="M365.30,39.20L370.10,39.20L367.70,43.16Z" fill="#3cb44b"/>
<polyline points="326.00,82.30 336.43,73.20 346.85,63.50 357.27,53.00 367.70,40.00" fill="none" stroke="#15508e" stroke-width="1.5" stroke-linejoin="round"/>
<rect x="323.95" y="80.25" width="4.10" height="4.10" fill="#15508e"/>
<rect x="334.38" y="71.15" width="4.10" height="4.10" fill="#15508e"/>
<rect x="344.80" y="61.45" width="4.10" height="4.10" fill="#15508e"/>
<rect x="355.22" y="50.95" width="4.10" height="4.10" fill="#15508e"/>
<rect x="365.65" y="37.95" width="4.10" height="4.10" fill="#15508e"/>
<polyline points="326.00,82.30 336.43,73.00 346.85,63.00 357.27,52.00 367.70,38.50" fill="none" stroke="#c8102e" stroke-width="1.5" stroke-linejoin="round"/>
<circle cx="326.00" cy="82.30" r="2.45" fill="#c8102e"/>
<circle cx="336.43" cy="73.00" r="2.45" fill="#c8102e"/>
<circle cx="346.85" cy="63.00" r="2.45" fill="#c8102e"/>
<circle cx="357.27" cy="52.00" r="2.45" fill="#c8102e"/>
<circle cx="367.70" cy="38.50" r="2.45" fill="#c8102e"/>
<text x="420.50" y="18.40" font-size="10.6" fill="#c8102e" text-anchor="middle" textLength="24.00" lengthAdjust="spacingAndGlyphs">SMZ1</text>
<line x1="394.50" y1="23.20" x2="394.50" y2="89.70" stroke="#000" stroke-width="1.4"/>
<line x1="391.30" y1="89.10" x2="394.50" y2="89.10" stroke="#000" stroke-width="1"/>
<text x="385.10" y="92.30" font-size="8.3" fill="#231f20" text-anchor="end" textLength="7.60" lengthAdjust="spacingAndGlyphs">10</text>
<text x="385.20" y="89.00" font-size="6.0" fill="#231f20" textLength="3.10" lengthAdjust="spacingAndGlyphs">4</text>
<line x1="392.20" y1="82.90" x2="394.50" y2="82.90" stroke="#000" stroke-width="0.9"/>
<line x1="392.20" y1="79.27" x2="394.50" y2="79.27" stroke="#000" stroke-width="0.9"/>
<line x1="392.20" y1="76.70" x2="394.50" y2="76.70" stroke="#000" stroke-width="0.9"/>
<line x1="392.20" y1="74.70" x2="394.50" y2="74.70" stroke="#000" stroke-width="0.9"/>
<line x1="392.20" y1="73.07" x2="394.50" y2="73.07" stroke="#000" stroke-width="0.9"/>
<line x1="392.20" y1="71.69" x2="394.50" y2="71.69" stroke="#000" stroke-width="0.9"/>
<line x1="392.20" y1="70.50" x2="394.50" y2="70.50" stroke="#000" stroke-width="0.9"/>
<line x1="392.20" y1="69.44" x2="394.50" y2="69.44" stroke="#000" stroke-width="0.9"/>
<line x1="391.30" y1="68.50" x2="394.50" y2="68.50" stroke="#000" stroke-width="1"/>
<text x="385.10" y="71.70" font-size="8.3" fill="#231f20" text-anchor="end" textLength="7.60" lengthAdjust="spacingAndGlyphs">10</text>
<text x="385.20" y="68.40" font-size="6.0" fill="#231f20" textLength="3.10" lengthAdjust="spacingAndGlyphs">5</text>
<line x1="392.20" y1="62.30" x2="394.50" y2="62.30" stroke="#000" stroke-width="0.9"/>
<line x1="392.20" y1="58.67" x2="394.50" y2="58.67" stroke="#000" stroke-width="0.9"/>
<line x1="392.20" y1="56.10" x2="394.50" y2="56.10" stroke="#000" stroke-width="0.9"/>
<line x1="392.20" y1="54.10" x2="394.50" y2="54.10" stroke="#000" stroke-width="0.9"/>
<line x1="392.20" y1="52.47" x2="394.50" y2="52.47" stroke="#000" stroke-width="0.9"/>
<line x1="392.20" y1="51.09" x2="394.50" y2="51.09" stroke="#000" stroke-width="0.9"/>
<line x1="392.20" y1="49.90" x2="394.50" y2="49.90" stroke="#000" stroke-width="0.9"/>
<line x1="392.20" y1="48.84" x2="394.50" y2="48.84" stroke="#000" stroke-width="0.9"/>
<line x1="391.30" y1="47.90" x2="394.50" y2="47.90" stroke="#000" stroke-width="1"/>
<text x="385.10" y="51.10" font-size="8.3" fill="#231f20" text-anchor="end" textLength="7.60" lengthAdjust="spacingAndGlyphs">10</text>
<text x="385.20" y="47.80" font-size="6.0" fill="#231f20" textLength="3.10" lengthAdjust="spacingAndGlyphs">6</text>
<line x1="392.20" y1="41.70" x2="394.50" y2="41.70" stroke="#000" stroke-width="0.9"/>
<line x1="392.20" y1="38.07" x2="394.50" y2="38.07" stroke="#000" stroke-width="0.9"/>
<line x1="392.20" y1="35.50" x2="394.50" y2="35.50" stroke="#000" stroke-width="0.9"/>
<line x1="392.20" y1="33.50" x2="394.50" y2="33.50" stroke="#000" stroke-width="0.9"/>
<line x1="392.20" y1="31.87" x2="394.50" y2="31.87" stroke="#000" stroke-width="0.9"/>
<line x1="392.20" y1="30.49" x2="394.50" y2="30.49" stroke="#000" stroke-width="0.9"/>
<line x1="392.20" y1="29.30" x2="394.50" y2="29.30" stroke="#000" stroke-width="0.9"/>
<line x1="392.20" y1="28.24" x2="394.50" y2="28.24" stroke="#000" stroke-width="0.9"/>
<line x1="391.30" y1="27.30" x2="394.50" y2="27.30" stroke="#000" stroke-width="1"/>
<text x="385.10" y="30.50" font-size="8.3" fill="#231f20" text-anchor="end" textLength="7.60" lengthAdjust="spacingAndGlyphs">10</text>
<text x="385.20" y="27.20" font-size="6.0" fill="#231f20" textLength="3.10" lengthAdjust="spacingAndGlyphs">7</text>
<line x1="393.80" y1="89.10" x2="441.00" y2="89.10" stroke="#000" stroke-width="1.4"/>
<line x1="394.50" y1="89.10" x2="394.50" y2="91.70" stroke="#000" stroke-width="1"/>
<text x="394.50" y="100.80" font-size="8.2" fill="#231f20" text-anchor="middle">0</text>
<line x1="405.12" y1="89.10" x2="405.12" y2="91.70" stroke="#000" stroke-width="1"/>
<text x="405.12" y="100.80" font-size="8.2" fill="#231f20" text-anchor="middle">2</text>
<line x1="415.75" y1="89.10" x2="415.75" y2="91.70" stroke="#000" stroke-width="1"/>
<text x="415.75" y="100.80" font-size="8.2" fill="#231f20" text-anchor="middle">4</text>
<line x1="426.38" y1="89.10" x2="426.38" y2="91.70" stroke="#000" stroke-width="1"/>
<text x="426.38" y="100.80" font-size="8.2" fill="#231f20" text-anchor="middle">6</text>
<line x1="437.00" y1="89.10" x2="437.00" y2="91.70" stroke="#000" stroke-width="1"/>
<text x="437.00" y="100.80" font-size="8.2" fill="#231f20" text-anchor="middle">8</text>
<polyline points="394.50,79.20 405.12,69.60 415.75,58.20 426.38,46.20 437.00,35.00" fill="none" stroke="#3cb44b" stroke-width="1.5" stroke-linejoin="round"/>
<path d="M392.10,77.40L396.90,77.40L394.50,81.36Z" fill="#3cb44b"/>
<path d="M402.73,67.80L407.52,67.80L405.12,71.76Z" fill="#3cb44b"/>
<path d="M413.35,56.40L418.15,56.40L415.75,60.36Z" fill="#3cb44b"/>
<path d="M423.98,44.40L428.77,44.40L426.38,48.36Z" fill="#3cb44b"/>
<path d="M434.60,33.20L439.40,33.20L437.00,37.16Z" fill="#3cb44b"/>
<polyline points="394.50,79.20 405.12,69.50 415.75,57.80 426.38,45.60 437.00,34.00" fill="none" stroke="#15508e" stroke-width="1.5" stroke-linejoin="round"/>
<rect x="392.45" y="77.15" width="4.10" height="4.10" fill="#15508e"/>
<rect x="403.07" y="67.45" width="4.10" height="4.10" fill="#15508e"/>
<rect x="413.70" y="55.75" width="4.10" height="4.10" fill="#15508e"/>
<rect x="424.32" y="43.55" width="4.10" height="4.10" fill="#15508e"/>
<rect x="434.95" y="31.95" width="4.10" height="4.10" fill="#15508e"/>
<polyline points="394.50,79.20 405.12,69.20 415.75,56.70 426.38,44.20 437.00,32.30" fill="none" stroke="#c8102e" stroke-width="1.5" stroke-linejoin="round"/>
<circle cx="394.50" cy="79.20" r="2.45" fill="#c8102e"/>
<circle cx="405.12" cy="69.20" r="2.45" fill="#c8102e"/>
<circle cx="415.75" cy="56.70" r="2.45" fill="#c8102e"/>
<circle cx="426.38" cy="44.20" r="2.45" fill="#c8102e"/>
<circle cx="437.00" cy="32.30" r="2.45" fill="#c8102e"/>
<text x="13.50" y="56.00" font-size="8.5" fill="#231f20" text-anchor="middle" textLength="33.00" lengthAdjust="spacingAndGlyphs" transform="rotate(-90 13.50 56.00)">Cell count</text>
<text x="12.20" y="101.00" font-size="8.5" fill="#231f20" textLength="14.20" lengthAdjust="spacingAndGlyphs">Day</text>
<text x="457.90" y="23.20" font-size="8.6" fill="#231f20" textLength="46.10" lengthAdjust="spacingAndGlyphs">Classification</text>
<text x="457.90" y="35.30" font-size="8.6" fill="#2d6db0" textLength="35.10" lengthAdjust="spacingAndGlyphs">Alk+ ALCL</text>
<text x="457.90" y="46.90" font-size="8.6" fill="#4cbb5e" textLength="34.50" lengthAdjust="spacingAndGlyphs">Alk– ALCL</text>
<text x="457.90" y="59.00" font-size="8.6" fill="#c8102e" textLength="36.20" lengthAdjust="spacingAndGlyphs">PTCL-NOS</text>
<text x="453.20" y="86.20" font-size="8.6" fill="#231f20" textLength="35.60" lengthAdjust="spacingAndGlyphs">Treatment</text>
<line x1="450.30" y1="95.00" x2="460.40" y2="95.00" stroke="#c8102e" stroke-width="1.6"/>
<circle cx="455.40" cy="95.00" r="2.5" fill="#c8102e"/>
<text x="464.00" y="98.00" font-size="8.6" fill="#231f20" textLength="22.60" lengthAdjust="spacingAndGlyphs">DMSO</text>
<line x1="450.30" y1="105.30" x2="460.40" y2="105.30" stroke="#15508e" stroke-width="1.6"/>
<rect x="453.30" y="103.20" width="4.20" height="4.20" fill="#15508e"/>
<text x="464.00" y="108.30" font-size="8.6" fill="#231f20" textLength="44.60" lengthAdjust="spacingAndGlyphs">Lenalidomide</text>
<line x1="450.30" y1="115.50" x2="460.40" y2="115.50" stroke="#3cb44b" stroke-width="1.6"/>
<path d="M453.10,113.78L457.70,113.78L455.40,117.57Z" fill="#3cb44b"/>
<text x="464.00" y="118.50" font-size="8.6" fill="#231f20" textLength="48.00" lengthAdjust="spacingAndGlyphs">Pomalidomide</text>
<rect x="453.20" y="132.80" width="6.60" height="6.40" fill="#c8102e"/>
<text x="464.00" y="139.00" font-size="8.6" fill="#231f20" textLength="22.60" lengthAdjust="spacingAndGlyphs">DMSO</text>
<rect x="453.20" y="143.20" width="6.60" height="6.40" fill="#15508e"/>
<text x="464.00" y="149.40" font-size="8.6" fill="#231f20" textLength="44.60" lengthAdjust="spacingAndGlyphs">Lenalidomide</text>
<rect x="453.20" y="153.70" width="6.60" height="6.40" fill="#3cb44b"/>
<text x="464.00" y="159.90" font-size="8.6" fill="#231f20" textLength="48.00" lengthAdjust="spacingAndGlyphs">Pomalidomide</text>
<line x1="36.60" y1="120.20" x2="36.60" y2="187.40" stroke="#000" stroke-width="1.4"/>
<line x1="35.90" y1="186.80" x2="79.80" y2="186.80" stroke="#000" stroke-width="1.4"/>
<line x1="33.60" y1="186.80" x2="36.60" y2="186.80" stroke="#000" stroke-width="1"/>
<text x="30.20" y="189.80" font-size="8.5" fill="#231f20" text-anchor="end" textLength="4.10" lengthAdjust="spacingAndGlyphs">0</text>
<line x1="33.60" y1="174.32" x2="36.60" y2="174.32" stroke="#000" stroke-width="1"/>
<text x="30.20" y="177.32" font-size="8.5" fill="#231f20" text-anchor="end" textLength="8.20" lengthAdjust="spacingAndGlyphs">20</text>
<line x1="33.60" y1="161.84" x2="36.60" y2="161.84" stroke="#000" stroke-width="1"/>
<text x="30.20" y="164.84" font-size="8.5" fill="#231f20" text-anchor="end" textLength="8.20" lengthAdjust="spacingAndGlyphs">40</text>
<line x1="33.60" y1="149.36" x2="36.60" y2="149.36" stroke="#000" stroke-width="1"/>
<text x="30.20" y="152.36" font-size="8.5" fill="#231f20" text-anchor="end" textLength="8.20" lengthAdjust="spacingAndGlyphs">60</text>
<line x1="33.60" y1="136.88" x2="36.60" y2="136.88" stroke="#000" stroke-width="1"/>
<text x="30.20" y="139.88" font-size="8.5" fill="#231f20" text-anchor="end" textLength="8.20" lengthAdjust="spacingAndGlyphs">80</text>
<line x1="33.60" y1="124.40" x2="36.60" y2="124.40" stroke="#000" stroke-width="1"/>
<text x="30.20" y="127.40" font-size="8.5" fill="#231f20" text-anchor="end" textLength="12.30" lengthAdjust="spacingAndGlyphs">100</text>
<line x1="41.30" y1="186.80" x2="41.30" y2="189.40" stroke="#000" stroke-width="1"/>
<text x="41.30" y="198.40" font-size="8.2" fill="#231f20" text-anchor="middle">2</text>
<rect x="37.65" y="181.18" width="2.40" height="5.62" fill="#c8102e"/>
<line x1="38.85" y1="180.25" x2="38.85" y2="181.18" stroke="#555" stroke-width="0.8"/>
<line x1="37.65" y1="180.25" x2="40.05" y2="180.25" stroke="#555" stroke-width="0.8"/>
<rect x="40.40" y="165.58" width="2.40" height="21.22" fill="#15508e"/>
<circle cx="41.60" cy="162.98" r="0.95" fill="#1a1a1a"/>
<circle cx="41.60" cy="160.23" r="0.95" fill="#1a1a1a"/>
<circle cx="41.60" cy="157.48" r="0.95" fill="#1a1a1a"/>
<rect x="43.15" y="144.37" width="2.40" height="42.43" fill="#3cb44b"/>
<circle cx="44.35" cy="141.77" r="0.95" fill="#1a1a1a"/>
<circle cx="44.35" cy="139.02" r="0.95" fill="#1a1a1a"/>
<circle cx="44.35" cy="136.27" r="0.95" fill="#1a1a1a"/>
<line x1="51.90" y1="186.80" x2="51.90" y2="189.40" stroke="#000" stroke-width="1"/>
<text x="51.90" y="198.40" font-size="8.2" fill="#231f20" text-anchor="middle">4</text>
<rect x="48.25" y="181.81" width="2.40" height="4.99" fill="#c8102e"/>
<line x1="49.45" y1="180.87" x2="49.45" y2="181.81" stroke="#555" stroke-width="0.8"/>
<line x1="48.25" y1="180.87" x2="50.65" y2="180.87" stroke="#555" stroke-width="0.8"/>
<rect x="51.00" y="144.99" width="2.40" height="41.81" fill="#15508e"/>
<circle cx="52.20" cy="142.39" r="0.95" fill="#1a1a1a"/>
<circle cx="52.20" cy="139.64" r="0.95" fill="#1a1a1a"/>
<circle cx="52.20" cy="136.89" r="0.95" fill="#1a1a1a"/>
<rect x="53.75" y="128.14" width="2.40" height="58.66" fill="#3cb44b"/>
<circle cx="54.95" cy="125.54" r="0.95" fill="#1a1a1a"/>
<circle cx="54.95" cy="122.79" r="0.95" fill="#1a1a1a"/>
<circle cx="54.95" cy="120.04" r="0.95" fill="#1a1a1a"/>
<line x1="62.50" y1="186.80" x2="62.50" y2="189.40" stroke="#000" stroke-width="1"/>
<text x="62.50" y="198.40" font-size="8.2" fill="#231f20" text-anchor="middle">6</text>
<rect x="58.85" y="183.06" width="2.40" height="3.74" fill="#c8102e"/>
<rect x="61.60" y="131.89" width="2.40" height="54.91" fill="#15508e"/>
<circle cx="62.80" cy="129.29" r="0.95" fill="#1a1a1a"/>
<circle cx="62.80" cy="126.54" r="0.95" fill="#1a1a1a"/>
<circle cx="62.80" cy="123.79" r="0.95" fill="#1a1a1a"/>
<rect x="64.35" y="129.39" width="2.40" height="57.41" fill="#3cb44b"/>
<circle cx="65.55" cy="126.79" r="0.95" fill="#1a1a1a"/>
<circle cx="65.55" cy="124.04" r="0.95" fill="#1a1a1a"/>
<circle cx="65.55" cy="121.29" r="0.95" fill="#1a1a1a"/>
<line x1="73.00" y1="186.80" x2="73.00" y2="189.40" stroke="#000" stroke-width="1"/>
<text x="73.00" y="198.40" font-size="8.2" fill="#231f20" text-anchor="middle">8</text>
<rect x="69.35" y="178.69" width="2.40" height="8.11" fill="#c8102e"/>
<line x1="70.55" y1="175.88" x2="70.55" y2="178.69" stroke="#555" stroke-width="0.8"/>
<line x1="69.35" y1="175.88" x2="71.75" y2="175.88" stroke="#555" stroke-width="0.8"/>
<rect x="72.10" y="126.27" width="2.40" height="60.53" fill="#15508e"/>
<circle cx="73.30" cy="123.67" r="0.95" fill="#1a1a1a"/>
<circle cx="73.30" cy="120.92" r="0.95" fill="#1a1a1a"/>
<circle cx="73.30" cy="118.17" r="0.95" fill="#1a1a1a"/>
<rect x="74.85" y="127.52" width="2.40" height="59.28" fill="#3cb44b"/>
<circle cx="76.05" cy="124.92" r="0.95" fill="#1a1a1a"/>
<circle cx="76.05" cy="122.17" r="0.95" fill="#1a1a1a"/>
<circle cx="76.05" cy="119.42" r="0.95" fill="#1a1a1a"/>
<line x1="113.20" y1="120.20" x2="113.20" y2="187.40" stroke="#000" stroke-width="1.4"/>
<line x1="112.50" y1="186.80" x2="156.50" y2="186.80" stroke="#000" stroke-width="1.4"/>
<line x1="110.20" y1="186.80" x2="113.20" y2="186.80" stroke="#000" stroke-width="1"/>
<text x="106.80" y="189.80" font-size="8.5" fill="#231f20" text-anchor="end" textLength="4.10" lengthAdjust="spacingAndGlyphs">0</text>
<line x1="110.20" y1="174.32" x2="113.20" y2="174.32" stroke="#000" stroke-width="1"/>
<text x="106.80" y="177.32" font-size="8.5" fill="#231f20" text-anchor="end" textLength="8.20" lengthAdjust="spacingAndGlyphs">20</text>
<line x1="110.20" y1="161.84" x2="113.20" y2="161.84" stroke="#000" stroke-width="1"/>
<text x="106.80" y="164.84" font-size="8.5" fill="#231f20" text-anchor="end" textLength="8.20" lengthAdjust="spacingAndGlyphs">40</text>
<line x1="110.20" y1="149.36" x2="113.20" y2="149.36" stroke="#000" stroke-width="1"/>
<text x="106.80" y="152.36" font-size="8.5" fill="#231f20" text-anchor="end" textLength="8.20" lengthAdjust="spacingAndGlyphs">60</text>
<line x1="110.20" y1="136.88" x2="113.20" y2="136.88" stroke="#000" stroke-width="1"/>
<text x="106.80" y="139.88" font-size="8.5" fill="#231f20" text-anchor="end" textLength="8.20" lengthAdjust="spacingAndGlyphs">80</text>
<line x1="110.20" y1="124.40" x2="113.20" y2="124.40" stroke="#000" stroke-width="1"/>
<text x="106.80" y="127.40" font-size="8.5" fill="#231f20" text-anchor="end" textLength="12.30" lengthAdjust="spacingAndGlyphs">100</text>
<line x1="117.90" y1="186.80" x2="117.90" y2="189.40" stroke="#000" stroke-width="1"/>
<text x="117.90" y="198.40" font-size="8.2" fill="#231f20" text-anchor="middle">2</text>
<rect x="114.25" y="176.82" width="2.40" height="9.98" fill="#c8102e"/>
<line x1="115.45" y1="175.88" x2="115.45" y2="176.82" stroke="#555" stroke-width="0.8"/>
<line x1="114.25" y1="175.88" x2="116.65" y2="175.88" stroke="#555" stroke-width="0.8"/>
<rect x="117.00" y="166.21" width="2.40" height="20.59" fill="#15508e"/>
<rect x="119.75" y="157.47" width="2.40" height="29.33" fill="#3cb44b"/>
<circle cx="120.95" cy="154.87" r="0.95" fill="#1a1a1a"/>
<circle cx="120.95" cy="152.12" r="0.95" fill="#1a1a1a"/>
<circle cx="120.95" cy="149.37" r="0.95" fill="#1a1a1a"/>
<line x1="128.50" y1="186.80" x2="128.50" y2="189.40" stroke="#000" stroke-width="1"/>
<text x="128.50" y="198.40" font-size="8.2" fill="#231f20" text-anchor="middle">4</text>
<rect x="124.85" y="174.94" width="2.40" height="11.86" fill="#c8102e"/>
<line x1="126.05" y1="173.38" x2="126.05" y2="174.94" stroke="#555" stroke-width="0.8"/>
<line x1="124.85" y1="173.38" x2="127.25" y2="173.38" stroke="#555" stroke-width="0.8"/>
<rect x="127.60" y="155.60" width="2.40" height="31.20" fill="#15508e"/>
<circle cx="128.80" cy="153.00" r="0.95" fill="#1a1a1a"/>
<circle cx="128.80" cy="150.25" r="0.95" fill="#1a1a1a"/>
<circle cx="128.80" cy="147.50" r="0.95" fill="#1a1a1a"/>
<rect x="130.35" y="139.38" width="2.40" height="47.42" fill="#3cb44b"/>
<circle cx="131.55" cy="136.78" r="0.95" fill="#1a1a1a"/>
<circle cx="131.55" cy="134.03" r="0.95" fill="#1a1a1a"/>
<circle cx="131.55" cy="131.28" r="0.95" fill="#1a1a1a"/>
<line x1="139.00" y1="186.80" x2="139.00" y2="189.40" stroke="#000" stroke-width="1"/>
<text x="139.00" y="198.40" font-size="8.2" fill="#231f20" text-anchor="middle">6</text>
<rect x="135.35" y="176.82" width="2.40" height="9.98" fill="#c8102e"/>
<line x1="136.55" y1="175.26" x2="136.55" y2="176.82" stroke="#555" stroke-width="0.8"/>
<line x1="135.35" y1="175.26" x2="137.75" y2="175.26" stroke="#555" stroke-width="0.8"/>
<rect x="138.10" y="153.73" width="2.40" height="33.07" fill="#15508e"/>
<circle cx="139.30" cy="151.13" r="0.95" fill="#1a1a1a"/>
<circle cx="139.30" cy="148.38" r="0.95" fill="#1a1a1a"/>
<circle cx="139.30" cy="145.63" r="0.95" fill="#1a1a1a"/>
<rect x="140.85" y="140.62" width="2.40" height="46.18" fill="#3cb44b"/>
<circle cx="142.05" cy="138.02" r="0.95" fill="#1a1a1a"/>
<circle cx="142.05" cy="135.27" r="0.95" fill="#1a1a1a"/>
<circle cx="142.05" cy="132.52" r="0.95" fill="#1a1a1a"/>
<line x1="149.60" y1="186.80" x2="149.60" y2="189.40" stroke="#000" stroke-width="1"/>
<text x="149.60" y="198.40" font-size="8.2" fill="#231f20" text-anchor="middle">8</text>
<rect x="145.95" y="171.82" width="2.40" height="14.98" fill="#c8102e"/>
<line x1="147.15" y1="170.26" x2="147.15" y2="171.82" stroke="#555" stroke-width="0.8"/>
<line x1="145.95" y1="170.26" x2="148.35" y2="170.26" stroke="#555" stroke-width="0.8"/>
<rect x="148.70" y="141.25" width="2.40" height="45.55" fill="#15508e"/>
<circle cx="149.90" cy="138.65" r="0.95" fill="#1a1a1a"/>
<circle cx="149.90" cy="135.90" r="0.95" fill="#1a1a1a"/>
<circle cx="149.90" cy="133.15" r="0.95" fill="#1a1a1a"/>
<rect x="151.45" y="130.64" width="2.40" height="56.16" fill="#3cb44b"/>
<circle cx="152.65" cy="128.04" r="0.95" fill="#1a1a1a"/>
<circle cx="152.65" cy="125.29" r="0.95" fill="#1a1a1a"/>
<circle cx="152.65" cy="122.54" r="0.95" fill="#1a1a1a"/>
<line x1="186.00" y1="120.20" x2="186.00" y2="187.40" stroke="#000" stroke-width="1.4"/>
<line x1="185.30" y1="186.80" x2="230.20" y2="186.80" stroke="#000" stroke-width="1.4"/>
<line x1="183.00" y1="186.80" x2="186.00" y2="186.80" stroke="#000" stroke-width="1"/>
<text x="179.60" y="189.80" font-size="8.5" fill="#231f20" text-anchor="end" textLength="4.10" lengthAdjust="spacingAndGlyphs">0</text>
<line x1="183.00" y1="174.32" x2="186.00" y2="174.32" stroke="#000" stroke-width="1"/>
<text x="179.60" y="177.32" font-size="8.5" fill="#231f20" text-anchor="end" textLength="8.20" lengthAdjust="spacingAndGlyphs">20</text>
<line x1="183.00" y1="161.84" x2="186.00" y2="161.84" stroke="#000" stroke-width="1"/>
<text x="179.60" y="164.84" font-size="8.5" fill="#231f20" text-anchor="end" textLength="8.20" lengthAdjust="spacingAndGlyphs">40</text>
<line x1="183.00" y1="149.36" x2="186.00" y2="149.36" stroke="#000" stroke-width="1"/>
<text x="179.60" y="152.36" font-size="8.5" fill="#231f20" text-anchor="end" textLength="8.20" lengthAdjust="spacingAndGlyphs">60</text>
<line x1="183.00" y1="136.88" x2="186.00" y2="136.88" stroke="#000" stroke-width="1"/>
<text x="179.60" y="139.88" font-size="8.5" fill="#231f20" text-anchor="end" textLength="8.20" lengthAdjust="spacingAndGlyphs">80</text>
<line x1="183.00" y1="124.40" x2="186.00" y2="124.40" stroke="#000" stroke-width="1"/>
<text x="179.60" y="127.40" font-size="8.5" fill="#231f20" text-anchor="end" textLength="12.30" lengthAdjust="spacingAndGlyphs">100</text>
<line x1="191.20" y1="186.80" x2="191.20" y2="189.40" stroke="#000" stroke-width="1"/>
<text x="191.20" y="198.40" font-size="8.2" fill="#231f20" text-anchor="middle">2</text>
<rect x="187.55" y="179.94" width="2.40" height="6.86" fill="#c8102e"/>
<rect x="190.30" y="179.31" width="2.40" height="7.49" fill="#15508e"/>
<rect x="193.05" y="178.69" width="2.40" height="8.11" fill="#3cb44b"/>
<line x1="201.90" y1="186.80" x2="201.90" y2="189.40" stroke="#000" stroke-width="1"/>
<text x="201.90" y="198.40" font-size="8.2" fill="#231f20" text-anchor="middle">4</text>
<rect x="198.25" y="181.81" width="2.40" height="4.99" fill="#c8102e"/>
<rect x="201.00" y="180.56" width="2.40" height="6.24" fill="#15508e"/>
<rect x="203.75" y="179.94" width="2.40" height="6.86" fill="#3cb44b"/>
<line x1="212.50" y1="186.80" x2="212.50" y2="189.40" stroke="#000" stroke-width="1"/>
<text x="212.50" y="198.40" font-size="8.2" fill="#231f20" text-anchor="middle">6</text>
<rect x="208.85" y="181.18" width="2.40" height="5.62" fill="#c8102e"/>
<rect x="211.60" y="181.18" width="2.40" height="5.62" fill="#15508e"/>
<rect x="214.35" y="173.07" width="2.40" height="13.73" fill="#3cb44b"/>
<circle cx="215.55" cy="170.47" r="0.95" fill="#1a1a1a"/>
<circle cx="215.55" cy="167.72" r="0.95" fill="#1a1a1a"/>
<circle cx="215.55" cy="164.97" r="0.95" fill="#1a1a1a"/>
<line x1="223.00" y1="186.80" x2="223.00" y2="189.40" stroke="#000" stroke-width="1"/>
<text x="223.00" y="198.40" font-size="8.2" fill="#231f20" text-anchor="middle">8</text>
<rect x="219.35" y="181.18" width="2.40" height="5.62" fill="#c8102e"/>
<rect x="222.10" y="179.31" width="2.40" height="7.49" fill="#15508e"/>
<rect x="224.85" y="150.61" width="2.40" height="36.19" fill="#3cb44b"/>
<circle cx="226.05" cy="148.01" r="0.95" fill="#1a1a1a"/>
<circle cx="226.05" cy="145.26" r="0.95" fill="#1a1a1a"/>
<circle cx="226.05" cy="142.51" r="0.95" fill="#1a1a1a"/>
<line x1="259.20" y1="120.20" x2="259.20" y2="187.40" stroke="#000" stroke-width="1.4"/>
<line x1="258.50" y1="186.80" x2="302.70" y2="186.80" stroke="#000" stroke-width="1.4"/>
<line x1="256.20" y1="186.80" x2="259.20" y2="186.80" stroke="#000" stroke-width="1"/>
<text x="252.80" y="189.80" font-size="8.5" fill="#231f20" text-anchor="end" textLength="4.10" lengthAdjust="spacingAndGlyphs">0</text>
<line x1="256.20" y1="174.32" x2="259.20" y2="174.32" stroke="#000" stroke-width="1"/>
<text x="252.80" y="177.32" font-size="8.5" fill="#231f20" text-anchor="end" textLength="8.20" lengthAdjust="spacingAndGlyphs">20</text>
<line x1="256.20" y1="161.84" x2="259.20" y2="161.84" stroke="#000" stroke-width="1"/>
<text x="252.80" y="164.84" font-size="8.5" fill="#231f20" text-anchor="end" textLength="8.20" lengthAdjust="spacingAndGlyphs">40</text>
<line x1="256.20" y1="149.36" x2="259.20" y2="149.36" stroke="#000" stroke-width="1"/>
<text x="252.80" y="152.36" font-size="8.5" fill="#231f20" text-anchor="end" textLength="8.20" lengthAdjust="spacingAndGlyphs">60</text>
<line x1="256.20" y1="136.88" x2="259.20" y2="136.88" stroke="#000" stroke-width="1"/>
<text x="252.80" y="139.88" font-size="8.5" fill="#231f20" text-anchor="end" textLength="8.20" lengthAdjust="spacingAndGlyphs">80</text>
<line x1="256.20" y1="124.40" x2="259.20" y2="124.40" stroke="#000" stroke-width="1"/>
<text x="252.80" y="127.40" font-size="8.5" fill="#231f20" text-anchor="end" textLength="12.30" lengthAdjust="spacingAndGlyphs">100</text>
<line x1="264.00" y1="186.80" x2="264.00" y2="189.40" stroke="#000" stroke-width="1"/>
<text x="264.00" y="198.40" font-size="8.2" fill="#231f20" text-anchor="middle">2</text>
<rect x="260.35" y="181.18" width="2.40" height="5.62" fill="#c8102e"/>
<rect x="263.10" y="180.56" width="2.40" height="6.24" fill="#15508e"/>
<rect x="265.85" y="180.56" width="2.40" height="6.24" fill="#3cb44b"/>
<line x1="274.60" y1="186.80" x2="274.60" y2="189.40" stroke="#000" stroke-width="1"/>
<text x="274.60" y="198.40" font-size="8.2" fill="#231f20" text-anchor="middle">4</text>
<rect x="270.95" y="183.06" width="2.40" height="3.74" fill="#c8102e"/>
<rect x="273.70" y="183.06" width="2.40" height="3.74" fill="#15508e"/>
<rect x="276.45" y="183.06" width="2.40" height="3.74" fill="#3cb44b"/>
<line x1="285.20" y1="186.80" x2="285.20" y2="189.40" stroke="#000" stroke-width="1"/>
<text x="285.20" y="198.40" font-size="8.2" fill="#231f20" text-anchor="middle">6</text>
<rect x="281.55" y="183.68" width="2.40" height="3.12" fill="#c8102e"/>
<rect x="284.30" y="183.68" width="2.40" height="3.12" fill="#15508e"/>
<rect x="287.05" y="183.06" width="2.40" height="3.74" fill="#3cb44b"/>
<line x1="295.80" y1="186.80" x2="295.80" y2="189.40" stroke="#000" stroke-width="1"/>
<text x="295.80" y="198.40" font-size="8.2" fill="#231f20" text-anchor="middle">8</text>
<rect x="292.15" y="184.93" width="2.40" height="1.87" fill="#c8102e"/>
<rect x="294.90" y="183.68" width="2.40" height="3.12" fill="#15508e"/>
<rect x="297.65" y="182.43" width="2.40" height="4.37" fill="#3cb44b"/>
<line x1="325.60" y1="120.20" x2="325.60" y2="187.40" stroke="#000" stroke-width="1.4"/>
<line x1="324.90" y1="186.80" x2="369.20" y2="186.80" stroke="#000" stroke-width="1.4"/>
<line x1="322.60" y1="186.80" x2="325.60" y2="186.80" stroke="#000" stroke-width="1"/>
<text x="319.20" y="189.80" font-size="8.5" fill="#231f20" text-anchor="end" textLength="4.10" lengthAdjust="spacingAndGlyphs">0</text>
<line x1="322.60" y1="174.32" x2="325.60" y2="174.32" stroke="#000" stroke-width="1"/>
<text x="319.20" y="177.32" font-size="8.5" fill="#231f20" text-anchor="end" textLength="8.20" lengthAdjust="spacingAndGlyphs">20</text>
<line x1="322.60" y1="161.84" x2="325.60" y2="161.84" stroke="#000" stroke-width="1"/>
<text x="319.20" y="164.84" font-size="8.5" fill="#231f20" text-anchor="end" textLength="8.20" lengthAdjust="spacingAndGlyphs">40</text>
<line x1="322.60" y1="149.36" x2="325.60" y2="149.36" stroke="#000" stroke-width="1"/>
<text x="319.20" y="152.36" font-size="8.5" fill="#231f20" text-anchor="end" textLength="8.20" lengthAdjust="spacingAndGlyphs">60</text>
<line x1="322.60" y1="136.88" x2="325.60" y2="136.88" stroke="#000" stroke-width="1"/>
<text x="319.20" y="139.88" font-size="8.5" fill="#231f20" text-anchor="end" textLength="8.20" lengthAdjust="spacingAndGlyphs">80</text>
<line x1="322.60" y1="124.40" x2="325.60" y2="124.40" stroke="#000" stroke-width="1"/>
<text x="319.20" y="127.40" font-size="8.5" fill="#231f20" text-anchor="end" textLength="12.30" lengthAdjust="spacingAndGlyphs">100</text>
<line x1="330.80" y1="186.80" x2="330.80" y2="189.40" stroke="#000" stroke-width="1"/>
<text x="330.80" y="198.40" font-size="8.2" fill="#231f20" text-anchor="middle">2</text>
<rect x="327.15" y="176.82" width="2.40" height="9.98" fill="#c8102e"/>
<rect x="329.90" y="176.19" width="2.40" height="10.61" fill="#15508e"/>
<rect x="332.65" y="177.44" width="2.40" height="9.36" fill="#3cb44b"/>
<line x1="341.30" y1="186.80" x2="341.30" y2="189.40" stroke="#000" stroke-width="1"/>
<text x="341.30" y="198.40" font-size="8.2" fill="#231f20" text-anchor="middle">4</text>
<rect x="337.65" y="174.94" width="2.40" height="11.86" fill="#c8102e"/>
<rect x="340.40" y="175.57" width="2.40" height="11.23" fill="#15508e"/>
<rect x="343.15" y="175.57" width="2.40" height="11.23" fill="#3cb44b"/>
<line x1="351.90" y1="186.80" x2="351.90" y2="189.40" stroke="#000" stroke-width="1"/>
<text x="351.90" y="198.40" font-size="8.2" fill="#231f20" text-anchor="middle">6</text>
<rect x="348.25" y="175.57" width="2.40" height="11.23" fill="#c8102e"/>
<rect x="351.00" y="175.57" width="2.40" height="11.23" fill="#15508e"/>
<rect x="353.75" y="174.94" width="2.40" height="11.86" fill="#3cb44b"/>
<line x1="362.50" y1="186.80" x2="362.50" y2="189.40" stroke="#000" stroke-width="1"/>
<text x="362.50" y="198.40" font-size="8.2" fill="#231f20" text-anchor="middle">8</text>
<rect x="358.85" y="178.06" width="2.40" height="8.74" fill="#c8102e"/>
<rect x="361.60" y="176.82" width="2.40" height="9.98" fill="#15508e"/>
<rect x="364.35" y="176.82" width="2.40" height="9.98" fill="#3cb44b"/>
<line x1="394.60" y1="120.20" x2="394.60" y2="187.40" stroke="#000" stroke-width="1.4"/>
<line x1="393.90" y1="186.80" x2="438.30" y2="186.80" stroke="#000" stroke-width="1.4"/>
<line x1="391.60" y1="186.80" x2="394.60" y2="186.80" stroke="#000" stroke-width="1"/>
<text x="388.20" y="189.80" font-size="8.5" fill="#231f20" text-anchor="end" textLength="4.10" lengthAdjust="spacingAndGlyphs">0</text>
<line x1="391.60" y1="174.32" x2="394.60" y2="174.32" stroke="#000" stroke-width="1"/>
<text x="388.20" y="177.32" font-size="8.5" fill="#231f20" text-anchor="end" textLength="8.20" lengthAdjust="spacingAndGlyphs">20</text>
<line x1="391.60" y1="161.84" x2="394.60" y2="161.84" stroke="#000" stroke-width="1"/>
<text x="388.20" y="164.84" font-size="8.5" fill="#231f20" text-anchor="end" textLength="8.20" lengthAdjust="spacingAndGlyphs">40</text>
<line x1="391.60" y1="149.36" x2="394.60" y2="149.36" stroke="#000" stroke-width="1"/>
<text x="388.20" y="152.36" font-size="8.5" fill="#231f20" text-anchor="end" textLength="8.20" lengthAdjust="spacingAndGlyphs">60</text>
<line x1="391.60" y1="136.88" x2="394.60" y2="136.88" stroke="#000" stroke-width="1"/>
<text x="388.20" y="139.88" font-size="8.5" fill="#231f20" text-anchor="end" textLength="8.20" lengthAdjust="spacingAndGlyphs">80</text>
<line x1="391.60" y1="124.40" x2="394.60" y2="124.40" stroke="#000" stroke-width="1"/>
<text x="388.20" y="127.40" font-size="8.5" fill="#231f20" text-anchor="end" textLength="12.30" lengthAdjust="spacingAndGlyphs">100</text>
<line x1="399.40" y1="186.80" x2="399.40" y2="189.40" stroke="#000" stroke-width="1"/>
<text x="399.40" y="198.40" font-size="8.2" fill="#231f20" text-anchor="middle">2</text>
<rect x="395.75" y="181.81" width="2.40" height="4.99" fill="#c8102e"/>
<rect x="398.50" y="180.56" width="2.40" height="6.24" fill="#15508e"/>
<rect x="401.25" y="179.94" width="2.40" height="6.86" fill="#3cb44b"/>
<line x1="410.00" y1="186.80" x2="410.00" y2="189.40" stroke="#000" stroke-width="1"/>
<text x="410.00" y="198.40" font-size="8.2" fill="#231f20" text-anchor="middle">4</text>
<rect x="406.35" y="179.94" width="2.40" height="6.86" fill="#c8102e"/>
<rect x="409.10" y="179.31" width="2.40" height="7.49" fill="#15508e"/>
<rect x="411.85" y="178.69" width="2.40" height="8.11" fill="#3cb44b"/>
<line x1="420.60" y1="186.80" x2="420.60" y2="189.40" stroke="#000" stroke-width="1"/>
<text x="420.60" y="198.40" font-size="8.2" fill="#231f20" text-anchor="middle">6</text>
<rect x="416.95" y="178.06" width="2.40" height="8.74" fill="#c8102e"/>
<rect x="419.70" y="178.06" width="2.40" height="8.74" fill="#15508e"/>
<rect x="422.45" y="177.44" width="2.40" height="9.36" fill="#3cb44b"/>
<line x1="431.20" y1="186.80" x2="431.20" y2="189.40" stroke="#000" stroke-width="1"/>
<text x="431.20" y="198.40" font-size="8.2" fill="#231f20" text-anchor="middle">8</text>
<rect x="427.55" y="177.44" width="2.40" height="9.36" fill="#c8102e"/>
<rect x="430.30" y="177.44" width="2.40" height="9.36" fill="#15508e"/>
<rect x="433.05" y="175.57" width="2.40" height="11.23" fill="#3cb44b"/>
<text x="13.30" y="154.20" font-size="8.5" fill="#231f20" text-anchor="middle" textLength="38.00" lengthAdjust="spacingAndGlyphs" transform="rotate(-90 13.30 154.20)">%PI positive</text>
<text x="12.30" y="198.60" font-size="8.5" fill="#231f20" textLength="14.00" lengthAdjust="spacingAndGlyphs">Day</text>
<path d="M171.6,288.4h.01M162.7,288.5h.01M167.3,289.8h.01M173.2,285.6h.01M166.5,281.9h.01M166.4,289.1h.01M166.4,280.1h.01M169.1,287.2h.01M149.7,295.4h.01M169.4,286.0h.01M163.4,281.1h.01M163.8,280.4h.01M169.6,282.7h.01M167.1,283.3h.01M171.9,284.2h.01M170.3,289.0h.01M169.3,289.1h.01M173.7,287.1h.01M171.7,287.6h.01M174.9,286.9h.01M153.9,280.4h.01M170.3,285.0h.01M154.0,294.5h.01M167.9,281.3h.01M173.2,285.8h.01M164.7,280.4h.01M171.5,284.1h.01M167.7,289.5h.01M171.7,287.6h.01M169.4,284.8h.01M161.8,276.9h.01M164.8,281.9h.01M169.2,284.9h.01M173.0,285.4h.01M134.5,292.0h.01M166.0,279.0h.01M171.2,286.1h.01M173.1,285.4h.01M164.3,287.5h.01M173.7,286.2h.01M151.7,274.2h.01M166.8,289.0h.01M172.5,286.1h.01M173.6,287.7h.01M151.0,291.8h.01M173.1,287.5h.01M169.2,284.6h.01M170.6,287.8h.01M170.5,285.6h.01M174.1,287.1h.01M174.8,286.1h.01M175.4,286.8h.01M169.5,281.9h.01M170.6,284.3h.01M174.2,286.4h.01M174.4,286.2h.01M171.0,289.1h.01M167.6,281.6h.01M165.7,290.3h.01M174.2,287.1h.01M165.3,290.5h.01M143.3,294.1h.01M157.1,290.8h.01M171.9,284.5h.01M172.4,285.0h.01M165.2,281.5h.01M171.3,284.3h.01M173.2,285.3h.01M164.2,291.0h.01M157.0,280.4h.01M174.2,287.2h.01M167.5,284.0h.01M142.5,294.1h.01M157.1,289.7h.01M175.5,286.5h.01M173.5,287.6h.01M171.7,286.9h.01M174.2,286.8h.01M159.9,290.2h.01M172.0,284.4h.01M169.7,282.2h.01M168.7,289.0h.01M158.6,293.3h.01M175.3,286.7h.01M175.8,286.7h.01M170.0,289.5h.01M157.2,292.3h.01M172.9,284.5h.01M162.1,277.9h.01M173.4,286.1h.01M165.2,283.4h.01M174.6,287.1h.01M167.3,283.3h.01M172.7,287.4h.01M168.9,282.7h.01M171.5,287.7h.01M170.5,283.5h.01M152.5,280.4h.01M153.4,277.4h.01M173.7,285.9h.01M170.6,287.5h.01M171.9,287.6h.01M173.0,285.9h.01M173.3,287.6h.01M173.4,287.4h.01M167.8,280.6h.01M133.9,293.0h.01M164.8,291.2h.01M170.1,284.4h.01M173.0,285.1h.01M169.7,288.1h.01M169.5,287.7h.01M171.3,285.2h.01M161.9,291.2h.01M174.6,286.2h.01M158.1,291.5h.01M152.0,289.2h.01M147.0,275.1h.01M172.9,284.6h.01M157.8,292.1h.01M172.7,284.4h.01M173.8,287.1h.01M162.2,289.5h.01M162.1,285.4h.01M173.0,287.5h.01M170.0,282.9h.01M174.3,285.6h.01M165.2,278.5h.01M163.1,284.6h.01M144.4,281.4h.01M164.1,289.8h.01M172.4,287.0h.01M173.2,286.0h.01M170.1,282.4h.01M162.3,289.2h.01M172.1,283.4h.01M161.1,289.6h.01M174.0,286.0h.01M171.2,287.4h.01M164.3,289.0h.01M168.7,289.9h.01M173.9,287.1h.01M171.4,284.1h.01M162.9,291.8h.01M169.7,283.6h.01M174.2,287.0h.01M157.9,282.2h.01M172.9,284.3h.01M173.9,286.4h.01M162.9,289.6h.01M173.9,286.5h.01M170.7,289.3h.01M150.3,294.5h.01M173.4,287.3h.01M149.3,288.9h.01M162.7,288.8h.01M175.1,286.6h.01M168.2,283.1h.01M169.8,281.8h.01M165.0,282.4h.01M147.5,278.3h.01M172.7,288.1h.01M172.8,287.3h.01M174.1,286.6h.01M174.1,286.8h.01M162.8,283.9h.01M172.3,287.3h.01M170.0,287.8h.01M171.1,283.6h.01M167.1,290.1h.01M164.2,280.9h.01M167.1,287.9h.01M165.3,288.2h.01M158.2,276.6h.01M172.4,285.6h.01M167.8,285.6h.01M174.4,286.8h.01M169.4,289.0h.01M167.8,288.8h.01M174.7,286.0h.01M167.6,287.3h.01M175.0,286.9h.01M170.5,288.4h.01M165.8,289.0h.01M157.8,291.5h.01M169.3,283.2h.01M173.6,285.9h.01M168.5,284.4h.01M172.8,285.4h.01M136.6,272.6h.01M173.5,286.2h.01M150.9,290.9h.01M165.3,279.9h.01M164.0,290.4h.01M174.9,286.6h.01M156.5,291.8h.01M172.7,285.7h.01M168.9,281.8h.01M171.8,288.4h.01M160.3,289.4h.01M172.2,288.6h.01M171.5,287.5h.01M169.8,287.9h.01M133.2,271.9h.01M151.9,295.0h.01M170.1,282.1h.01M163.1,291.6h.01M172.7,288.1h.01M173.1,287.5h.01M171.1,285.3h.01M174.8,286.0h.01M176.0,286.6h.01M158.1,275.0h.01M167.6,289.8h.01M172.6,287.9h.01M160.3,282.7h.01M169.5,289.3h.01M174.2,286.9h.01M172.3,284.2h.01M171.8,287.6h.01M155.0,293.2h.01M166.6,279.7h.01M145.2,295.3h.01M171.5,288.5h.01M168.4,289.6h.01M171.9,285.4h.01M165.0,288.7h.01M149.2,289.7h.01M156.6,290.4h.01M170.7,287.2h.01M171.8,285.7h.01M167.9,289.7h.01M155.4,291.4h.01M175.1,286.8h.01M163.4,279.2h.01M173.5,285.8h.01M167.0,288.0h.01M174.5,285.9h.01M173.2,287.1h.01M155.8,288.5h.01M175.0,286.3h.01M169.3,283.8h.01M167.4,282.3h.01M162.0,289.5h.01M166.8,284.8h.01M155.6,278.7h.01M166.6,282.9h.01M171.1,289.4h.01M167.2,289.7h.01M170.2,282.2h.01M172.6,284.4h.01M172.6,287.0h.01M174.7,286.5h.01M150.5,278.3h.01M172.4,285.8h.01M170.7,282.3h.01M171.4,284.8h.01M166.8,288.0h.01M160.6,288.0h.01M159.7,276.6h.01M170.4,286.3h.01M168.4,288.2h.01M148.0,272.7h.01M160.9,277.9h.01M175.0,286.6h.01M170.2,282.4h.01M173.9,287.1h.01M165.8,281.9h.01M163.3,282.5h.01M171.9,287.7h.01M169.6,287.8h.01M174.2,285.3h.01M148.7,274.6h.01M172.5,288.3h.01M172.5,285.0h.01M167.7,287.4h.01M160.5,282.9h.01M174.0,287.1h.01M159.9,289.3h.01M168.7,287.6h.01M159.2,288.5h.01M172.2,284.6h.01M171.5,285.0h.01M164.3,283.0h.01M167.7,288.5h.01M175.0,286.3h.01M171.4,285.9h.01M165.4,287.4h.01M162.1,292.5h.01M169.3,288.4h.01M174.0,285.3h.01M171.0,284.9h.01M136.3,291.8h.01M154.3,292.6h.01M166.1,289.4h.01M161.0,289.8h.01M172.2,287.5h.01M173.4,286.9h.01M175.1,286.7h.01M170.2,284.9h.01M154.0,288.2h.01M161.0,279.0h.01M173.4,287.5h.01M168.8,287.2h.01M150.4,288.0h.01M166.8,280.1h.01M173.4,284.9h.01M165.9,284.0h.01M170.8,285.1h.01M159.3,291.1h.01M166.5,288.7h.01M171.7,284.5h.01M163.9,289.3h.01M169.1,288.2h.01M171.5,284.8h.01M143.2,296.0h.01M172.4,287.7h.01M174.2,286.4h.01M172.0,285.4h.01M157.5,290.1h.01M138.0,296.7h.01M168.6,285.0h.01M165.8,290.2h.01M165.4,287.4h.01M173.7,287.4h.01M168.4,282.9h.01M170.9,284.6h.01M163.3,288.2h.01M159.6,282.2h.01M175.0,286.5h.01M172.2,288.0h.01M158.2,275.4h.01M170.3,289.0h.01M173.2,285.5h.01M165.7,290.3h.01M173.9,286.0h.01M170.8,288.3h.01M160.8,279.2h.01M173.5,285.4h.01M168.9,281.8h.01M165.7,284.9h.01M167.3,281.5h.01M161.9,291.4h.01M169.7,284.0h.01M167.4,285.9h.01M169.2,287.3h.01M170.1,289.0h.01M163.2,289.1h.01M171.8,284.1h.01M149.2,273.8h.01M172.1,285.6h.01M174.5,286.1h.01M173.7,285.5h.01M168.1,282.5h.01M165.6,278.9h.01M170.9,284.3h.01M161.7,287.3h.01M162.2,278.2h.01M164.7,284.4h.01M169.2,289.1h.01M167.5,283.7h.01M168.4,287.1h.01M161.8,280.2h.01M170.4,283.1h.01M157.9,287.9h.01M169.2,287.6h.01M166.9,283.7h.01M173.2,287.2h.01M168.0,288.5h.01M173.0,286.4h.01M157.1,280.7h.01M169.5,282.5h.01M171.3,287.2h.01M160.1,289.6h.01M167.4,285.2h.01M167.4,289.8h.01M171.4,285.2h.01M173.2,285.8h.01M174.5,286.5h.01M172.8,287.7h.01M156.8,282.7h.01M163.4,281.3h.01M172.1,287.2h.01M170.2,283.8h.01M158.1,281.3h.01M173.1,286.0h.01M147.9,288.8h.01M170.4,289.2h.01M173.2,287.1h.01M173.5,286.9h.01M167.0,288.0h.01M168.7,289.6h.01M173.8,287.3h.01M172.4,287.3h.01M168.1,281.1h.01M172.6,285.3h.01M147.2,290.6h.01M172.3,284.1h.01M128.0,291.4h.01M165.8,288.1h.01M148.4,273.0h.01M174.9,286.7h.01M171.1,285.5h.01M163.0,278.3h.01M170.3,283.5h.01M161.8,290.2h.01M164.4,288.4h.01M143.5,295.8h.01M166.4,282.3h.01M162.7,287.7h.01M171.5,288.1h.01M171.4,287.3h.01M169.4,287.6h.01M171.9,284.1h.01M162.2,281.8h.01M171.3,287.2h.01M174.3,286.8h.01M173.4,286.0h.01M165.4,287.3h.01M162.5,282.3h.01M167.4,288.2h.01M173.8,287.5h.01M172.6,284.4h.01M155.2,292.0h.01M174.6,286.3h.01M164.6,289.2h.01M173.8,285.0h.01M174.7,286.3h.01M173.9,287.3h.01M171.2,288.4h.01M173.1,287.1h.01M151.1,282.8h.01M146.0,295.5h.01M162.6,290.6h.01M175.0,286.8h.01M168.4,285.5h.01M172.8,284.6h.01M148.1,289.4h.01M173.2,287.8h.01M171.3,283.1h.01M169.2,288.7h.01M167.8,283.6h.01M170.8,284.4h.01M173.9,286.9h.01M171.8,285.0h.01M170.2,285.4h.01M168.1,288.1h.01M170.8,288.5h.01M172.4,287.1h.01M164.4,288.8h.01M170.3,283.3h.01M169.8,288.2h.01M170.3,287.6h.01M164.6,289.5h.01M156.1,294.6h.01M163.7,283.9h.01M141.8,288.7h.01M175.3,286.6h.01M173.4,286.9h.01M170.6,284.1h.01M169.3,281.4h.01M149.9,293.2h.01M170.6,284.5h.01M174.4,285.9h.01M164.9,291.3h.01M158.3,275.7h.01M159.5,289.7h.01M173.2,287.9h.01M165.2,282.3h.01M164.5,289.3h.01M172.2,284.7h.01M174.7,286.4h.01M169.2,288.1h.01M164.3,289.5h.01M166.5,290.3h.01M143.0,291.9h.01M155.2,290.9h.01M155.0,290.2h.01M160.9,278.6h.01M164.1,278.3h.01M172.7,285.5h.01M166.9,283.9h.01M163.9,284.9h.01M170.0,287.7h.01M168.0,282.8h.01M168.0,282.4h.01M172.5,283.7h.01M137.8,289.2h.01M137.3,288.8h.01M175.3,286.7h.01M172.2,285.5h.01M166.7,280.0h.01M172.9,287.6h.01M157.8,280.4h.01M165.0,290.0h.01M172.7,285.2h.01M147.4,292.6h.01M175.0,286.5h.01M167.6,283.0h.01M172.2,284.9h.01M166.2,284.7h.01M170.6,288.8h.01M153.2,292.9h.01M173.8,286.0h.01M173.9,287.2h.01M172.8,286.4h.01M169.6,282.7h.01M168.8,289.2h.01M170.6,284.0h.01M174.4,286.6h.01M140.8,290.3h.01M165.9,289.9h.01M175.1,286.3h.01M165.4,290.8h.01M166.0,289.5h.01M173.3,285.4h.01M170.1,281.7h.01M171.8,288.1h.01M174.5,285.6h.01M175.0,286.7h.01M173.2,284.8h.01M164.0,289.2h.01M169.1,283.5h.01M168.6,281.6h.01M170.1,288.6h.01M171.8,287.4h.01M175.0,286.1h.01M170.4,289.0h.01M174.0,286.1h.01M158.7,285.9h.01M164.8,284.4h.01M174.7,286.6h.01M168.8,282.3h.01M170.1,287.1h.01M171.7,287.6h.01M173.6,285.1h.01M168.4,282.3h.01M172.2,285.7h.01M171.7,287.2h.01M170.9,283.0h.01M173.0,287.0h.01M173.2,287.8h.01M164.8,288.1h.01M173.9,287.2h.01M163.2,290.5h.01M168.5,282.6h.01M174.0,286.2h.01M163.7,283.4h.01M158.9,275.2h.01M174.3,286.4h.01M174.2,286.5h.01M169.8,288.1h.01M170.5,284.4h.01M175.1,286.5h.01M171.2,285.5h.01M170.2,285.5h.01M172.2,288.1h.01M173.0,286.1h.01M157.1,284.0h.01M168.1,280.4h.01M172.6,286.1h.01M172.0,284.9h.01M174.5,286.4h.01M167.1,280.0h.01M171.8,285.8h.01M174.7,286.7h.01M163.1,277.5h.01M163.8,292.0h.01M172.7,285.3h.01M168.8,284.0h.01M143.8,290.1h.01M173.1,286.4h.01M164.6,287.6h.01M171.3,288.7h.01M173.8,287.3h.01M170.2,283.0h.01M147.3,294.9h.01M166.6,289.9h.01M167.8,289.4h.01M174.3,285.7h.01M172.4,288.6h.01M173.3,287.0h.01M171.4,285.0h.01M166.4,279.8h.01M165.9,283.0h.01M169.9,288.0h.01M168.5,289.0h.01M172.8,287.9h.01M159.1,289.4h.01M168.7,287.7h.01M149.4,293.5h.01M165.2,288.5h.01M174.0,287.4h.01M168.9,288.6h.01M169.4,284.1h.01M164.6,285.2h.01M173.8,285.7h.01M162.1,287.9h.01M173.5,286.9h.01M172.9,284.6h.01M168.9,287.3h.01M160.3,292.6h.01M169.5,284.1h.01M158.6,284.8h.01M158.7,283.1h.01M164.1,283.7h.01M167.8,284.7h.01M161.0,276.9h.01M170.2,288.4h.01M175.0,286.4h.01M170.9,287.5h.01M152.0,292.4h.01M169.9,288.8h.01M173.6,286.3h.01M174.5,286.2h.01M170.2,289.1h.01M171.7,286.3h.01M172.2,284.8h.01M159.3,287.9h.01M172.5,287.9h.01M163.3,280.2h.01M171.7,286.2h.01M126.2,291.0h.01M165.6,283.1h.01M173.7,287.5h.01M174.8,286.5h.01M160.9,293.3h.01M159.3,276.9h.01M171.2,284.3h.01M171.8,284.7h.01M163.0,289.5h.01M168.4,287.7h.01M160.9,282.0h.01M164.6,279.6h.01M169.8,288.6h.01M144.2,289.6h.01M172.4,284.1h.01M147.6,294.0h.01M173.5,285.7h.01M160.5,290.5h.01M171.0,285.1h.01M154.4,291.3h.01M150.3,295.6h.01M168.9,287.9h.01M167.3,283.2h.01M160.2,292.0h.01M170.6,289.0h.01M172.1,285.1h.01M170.0,283.0h.01M160.5,288.5h.01M167.9,288.3h.01M172.3,284.5h.01M153.8,291.0h.01M174.5,285.7h.01M171.7,285.1h.01M173.7,286.9h.01M172.5,284.5h.01M168.5,282.5h.01M174.1,285.4h.01M173.0,284.8h.01M174.0,285.5h.01M168.6,285.6h.01M171.7,284.7h.01M168.3,283.0h.01M160.3,277.9h.01M171.8,285.6h.01M174.4,286.8h.01M162.9,292.2h.01M168.6,280.8h.01M155.2,289.0h.01M168.6,285.2h.01M170.7,284.3h.01M166.0,279.0h.01M166.5,287.6h.01M172.2,284.5h.01M172.1,288.6h.01M161.5,279.6h.01M175.1,286.9h.01M172.2,288.9h.01M129.9,292.8h.01M174.2,286.0h.01M160.6,291.3h.01M152.9,274.7h.01M173.0,287.4h.01M172.4,284.1h.01M157.7,276.9h.01M171.3,287.3h.01M169.5,282.3h.01M173.5,285.6h.01M173.6,287.0h.01M175.4,286.6h.01M161.5,284.1h.01M173.0,285.3h.01M166.7,283.2h.01M170.8,285.5h.01M167.4,289.5h.01M163.0,290.3h.01M142.3,290.9h.01M158.4,288.7h.01M154.8,278.1h.01M174.3,286.8h.01M162.5,287.7h.01M171.1,287.9h.01M160.9,290.8h.01M170.3,287.7h.01M171.5,283.6h.01M173.9,287.3h.01M171.5,284.9h.01M156.1,282.8h.01M174.9,286.9h.01M169.9,288.1h.01M172.3,285.5h.01M171.9,287.4h.01M174.6,287.0h.01M161.2,283.5h.01M156.7,278.4h.01M165.4,281.5h.01M163.9,289.7h.01M163.2,289.2h.01M172.1,287.1h.01M169.7,281.6h.01M159.8,292.8h.01M175.4,286.7h.01M166.6,281.0h.01M172.0,285.9h.01M173.5,286.1h.01M171.4,286.9h.01M169.9,289.4h.01M171.4,284.3h.01M170.2,285.8h.01M165.1,279.7h.01M171.8,285.7h.01M167.0,287.3h.01M164.2,280.8h.01M174.6,285.9h.01M171.2,284.3h.01M173.7,287.5h.01M169.5,288.9h.01M172.0,284.7h.01M163.6,278.4h.01M167.4,281.0h.01M174.6,287.0h.01M171.7,287.6h.01M172.9,285.8h.01M171.8,288.5h.01M174.9,286.1h.01M169.9,288.5h.01M168.5,283.0h.01M171.3,288.4h.01M171.8,285.3h.01M169.4,285.4h.01M164.2,287.8h.01M169.3,283.2h.01M170.9,282.7h.01M172.0,282.9h.01M170.6,282.0h.01M158.4,279.6h.01M165.5,283.3h.01M172.2,285.3h.01M171.0,284.3h.01M172.6,286.0h.01M152.5,290.0h.01M170.1,282.4h.01M169.9,282.7h.01M174.3,286.5h.01M156.4,287.8h.01M175.0,286.7h.01M171.7,283.4h.01M152.7,290.8h.01M174.7,286.3h.01M175.4,286.9h.01M173.1,287.1h.01M162.7,277.0h.01M170.9,287.2h.01M167.5,281.5h.01M172.5,285.1h.01M161.4,279.5h.01M174.9,286.7h.01M154.5,289.0h.01M174.4,286.3h.01M173.1,286.9h.01M171.8,284.6h.01M174.1,285.5h.01M161.3,291.6h.01M174.3,287.3h.01M151.7,275.8h.01M150.6,293.5h.01M168.4,280.4h.01M167.9,280.2h.01M169.5,282.5h.01M161.1,288.5h.01M157.7,275.0h.01M173.8,287.3h.01M170.7,287.8h.01M165.7,282.4h.01M160.4,289.6h.01M173.2,286.3h.01M159.1,290.8h.01M171.8,288.7h.01M168.2,289.0h.01M169.8,288.4h.01M171.3,284.0h.01M174.9,286.8h.01M170.8,284.9h.01M174.0,286.8h.01M174.2,286.9h.01M166.7,290.2h.01M169.1,281.4h.01M163.5,279.5h.01M150.8,288.5h.01M175.8,286.7h.01M163.4,281.7h.01M167.3,288.3h.01M142.7,280.3h.01M174.1,286.1h.01M174.1,286.8h.01M173.2,285.5h.01M174.6,286.6h.01M132.8,278.8h.01M173.5,286.4h.01M167.9,282.7h.01M173.6,285.6h.01M171.8,288.0h.01M169.1,289.8h.01M146.1,291.3h.01M166.2,287.8h.01M173.4,285.7h.01M164.8,279.8h.01M174.3,286.3h.01M172.1,285.7h.01M159.6,291.5h.01M165.4,283.2h.01M169.4,281.4h.01M164.5,291.3h.01M173.9,286.3h.01M154.9,277.2h.01M161.9,290.9h.01M156.8,290.6h.01M168.3,281.4h.01M170.6,287.9h.01M161.4,281.0h.01M171.1,284.1h.01M147.4,291.5h.01M171.0,284.0h.01M175.5,286.6h.01M164.7,290.4h.01M174.9,286.8h.01M172.7,283.5h.01M174.5,287.4h.01M174.4,286.4h.01M168.0,288.5h.01M157.7,277.8h.01M169.3,284.7h.01M161.7,283.8h.01M155.3,292.7h.01M174.3,285.0h.01M160.3,290.0h.01M168.2,289.6h.01M160.2,290.8h.01M169.6,282.2h.01M166.7,290.0h.01M173.4,287.3h.01M140.1,292.8h.01M172.3,285.6h.01M166.3,285.8h.01M171.3,283.6h.01M162.0,282.0h.01M175.1,286.7h.01M174.1,286.4h.01M165.4,283.6h.01M163.5,280.6h.01M166.2,281.8h.01M170.2,282.8h.01M164.8,289.1h.01M167.0,281.6h.01M173.2,284.9h.01M170.7,287.8h.01M148.9,273.0h.01M166.8,282.4h.01M171.6,287.6h.01M167.9,288.7h.01M148.7,287.9h.01M173.1,284.7h.01M167.2,280.9h.01M167.5,280.3h.01M172.1,285.0h.01M164.6,281.0h.01M160.9,275.7h.01M163.6,290.5h.01M169.6,282.2h.01M173.1,284.8h.01M172.4,287.9h.01M169.4,284.8h.01M169.4,283.1h.01M173.6,284.9h.01M173.8,286.8h.01M149.6,289.9h.01M166.6,288.5h.01M170.3,288.2h.01M171.1,283.6h.01M152.8,281.0h.01M173.2,287.2h.01M166.5,288.7h.01M168.4,288.7h.01M173.8,286.9h.01M170.9,284.5h.01M167.3,282.0h.01M157.0,290.4h.01M173.7,286.0h.01M170.5,284.6h.01M167.1,287.5h.01M157.5,292.7h.01M171.7,287.3h.01M172.0,283.5h.01M174.8,286.6h.01M153.5,274.5h.01M174.8,286.9h.01M172.3,287.3h.01M165.5,278.5h.01M161.7,288.0h.01M173.0,284.7h.01M169.2,282.8h.01M171.6,284.2h.01M172.0,284.0h.01M170.7,284.8h.01M173.3,286.3h.01M159.5,293.3h.01M174.4,286.5h.01M169.5,288.0h.01M154.0,289.3h.01M172.7,285.3h.01M172.4,285.7h.01M175.1,286.7h.01M165.1,279.4h.01M170.6,283.7h.01M166.7,281.6h.01M162.7,290.8h.01M173.6,286.8h.01M168.6,283.8h.01M172.5,284.5h.01M175.0,286.6h.01M174.1,286.1h.01M175.0,286.8h.01M169.2,288.9h.01M173.4,285.0h.01M173.1,284.7h.01M175.0,286.6h.01M159.4,289.1h.01M165.0,290.1h.01M171.7,287.5h.01M165.0,288.4h.01M160.0,281.5h.01M174.5,287.0h.01M174.6,285.8h.01M161.6,288.9h.01M159.0,279.0h.01M172.3,285.4h.01M169.6,289.1h.01M173.1,287.5h.01M169.4,283.8h.01M174.6,286.6h.01M148.9,290.9h.01M175.4,286.3h.01M174.3,286.7h.01M170.3,282.1h.01M157.4,291.6h.01M174.8,286.4h.01M170.2,285.3h.01M172.4,284.1h.01M139.8,292.7h.01M175.0,286.3h.01M173.2,287.9h.01M155.9,291.8h.01M172.2,284.9h.01M167.8,285.7h.01M169.7,288.5h.01M169.6,282.1h.01M167.5,288.3h.01M174.4,286.1h.01M174.4,287.1h.01M166.8,283.0h.01M164.7,290.6h.01M159.9,287.7h.01M171.7,284.5h.01M173.5,287.2h.01M169.4,288.5h.01M172.2,286.0h.01M172.9,284.2h.01M174.7,286.2h.01M170.7,283.2h.01M164.7,290.7h.01M171.3,282.3h.01M168.3,287.4h.01M165.5,288.2h.01M168.5,288.5h.01M155.1,293.8h.01M171.3,287.4h.01M150.6,273.3h.01M155.1,289.7h.01M171.9,283.4h.01M162.5,289.2h.01M163.8,287.2h.01M170.9,287.8h.01M172.6,287.8h.01M174.7,286.3h.01M169.4,284.6h.01M151.8,271.9h.01M173.7,285.9h.01M168.5,281.3h.01M168.8,288.7h.01M173.9,287.5h.01M172.4,285.7h.01M165.5,279.4h.01M174.4,286.0h.01M170.8,285.9h.01M173.6,285.9h.01M173.1,287.9h.01M167.6,284.9h.01M174.1,286.1h.01M167.4,279.9h.01M174.0,287.2h.01M168.0,282.3h.01M172.7,284.6h.01M175.0,286.4h.01M172.6,287.1h.01M174.2,286.3h.01M162.2,292.1h.01M170.3,284.3h.01M145.3,292.2h.01M168.5,284.3h.01M160.1,277.1h.01M174.0,287.0h.01M129.9,299.1h.01M160.9,283.5h.01M174.0,285.3h.01M165.1,289.2h.01M158.4,282.5h.01M168.9,282.1h.01M170.2,288.7h.01M169.1,283.4h.01M168.8,283.5h.01M166.0,281.4h.01M172.9,285.5h.01M172.1,283.9h.01M161.3,288.5h.01M163.0,283.4h.01M171.7,283.3h.01M173.4,287.0h.01M164.3,288.6h.01M174.3,287.0h.01M169.8,285.3h.01M174.8,286.7h.01M173.9,287.0h.01M171.3,283.5h.01M159.2,288.8h.01M166.9,284.9h.01M155.9,278.8h.01M164.9,283.0h.01M139.0,293.7h.01M124.0,297.4h.01M170.1,287.2h.01M172.6,284.3h.01M154.2,291.8h.01M173.1,287.2h.01M174.8,286.2h.01M172.1,283.7h.01M171.6,287.7h.01M173.5,285.7h.01M158.3,292.9h.01M152.1,292.0h.01M174.9,286.6h.01M170.4,288.5h.01M172.6,285.6h.01M170.1,284.1h.01M170.7,283.8h.01M149.1,289.5h.01M159.6,276.9h.01M173.5,286.9h.01M155.5,280.4h.01M143.5,290.4h.01M170.2,288.2h.01M172.3,283.7h.01M171.9,287.4h.01M174.3,287.2h.01M160.0,279.5h.01M156.4,279.8h.01M167.8,285.9h.01M171.6,287.9h.01M171.2,283.8h.01M169.7,285.2h.01M171.3,283.6h.01M169.3,287.6h.01M173.6,287.3h.01M172.9,287.6h.01M148.6,281.0h.01M168.3,290.1h.01M174.6,286.6h.01M170.7,282.2h.01M168.7,288.4h.01M174.0,286.0h.01M175.3,286.7h.01M161.0,289.5h.01M162.2,282.0h.01M170.0,289.2h.01M173.5,286.2h.01M173.1,287.1h.01M166.5,281.9h.01M156.4,277.5h.01M151.8,291.2h.01M174.2,286.2h.01M164.1,283.5h.01M174.2,286.6h.01M152.2,278.7h.01M170.4,288.5h.01M155.7,289.0h.01M162.5,291.4h.01M165.6,282.2h.01M174.0,286.9h.01M144.0,295.4h.01M172.5,285.3h.01M172.7,287.3h.01M164.5,283.3h.01M173.4,287.4h.01M148.1,290.1h.01M169.7,288.4h.01M173.5,287.0h.01M173.0,287.8h.01M164.9,281.3h.01M174.4,287.1h.01M172.9,284.4h.01M172.3,284.8h.01M165.5,282.9h.01M162.8,290.9h.01M169.9,287.9h.01M164.6,288.0h.01M167.8,282.2h.01M173.7,285.6h.01M172.2,285.0h.01M142.8,295.3h.01M161.6,291.0h.01M157.7,277.5h.01M151.2,292.0h.01M172.9,287.1h.01M173.4,285.6h.01M151.8,280.7h.01M175.2,286.5h.01M166.2,289.8h.01M167.1,288.8h.01M164.6,282.2h.01M171.5,284.9h.01M172.7,286.2h.01M166.6,287.6h.01M171.5,288.7h.01M149.7,288.4h.01M152.9,273.4h.01M174.3,286.2h.01M172.6,287.0h.01M168.8,289.6h.01M170.0,288.4h.01M169.6,283.8h.01M170.1,287.9h.01M173.6,286.1h.01M145.5,290.1h.01M159.7,280.6h.01M172.4,285.8h.01M174.1,287.0h.01M168.6,282.9h.01M172.0,288.2h.01M166.3,289.0h.01M175.5,286.6h.01M174.3,286.6h.01M172.8,287.1h.01M171.8,285.7h.01M160.4,290.3h.01M166.3,289.6h.01M170.2,284.3h.01M174.6,286.3h.01M164.5,289.3h.01M168.8,281.3h.01M159.0,280.4h.01M174.0,286.5h.01M173.0,286.3h.01M173.8,285.3h.01M175.1,286.8h.01M170.0,288.8h.01M151.8,292.3h.01M165.4,279.1h.01M133.3,268.1h.01M173.4,285.4h.01M160.4,289.5h.01M153.7,278.3h.01M174.3,286.4h.01M170.0,287.3h.01M170.1,282.5h.01M170.9,283.4h.01M160.0,287.8h.01M171.4,284.2h.01M174.9,286.8h.01M165.0,283.2h.01M170.0,285.4h.01M166.8,283.5h.01M131.8,296.5h.01M165.6,282.4h.01M173.3,287.9h.01M171.0,287.7h.01M168.3,289.4h.01M172.0,284.2h.01M168.4,282.6h.01M174.1,286.0h.01M173.5,287.5h.01M172.3,287.5h.01M156.6,279.2h.01M161.3,287.5h.01M155.2,291.0h.01M171.9,287.0h.01M165.7,289.1h.01M168.3,289.0h.01M164.5,287.9h.01M172.5,283.5h.01M174.0,286.6h.01M170.4,288.2h.01M162.4,279.4h.01M171.4,283.0h.01M163.9,290.1h.01M170.0,287.4h.01M173.8,287.1h.01M171.1,288.1h.01M172.0,285.6h.01M171.7,288.0h.01M158.3,289.5h.01M173.2,286.2h.01M175.3,286.7h.01M172.1,285.2h.01M166.6,289.0h.01M164.1,282.3h.01M163.9,279.8h.01M168.0,287.1h.01M166.3,288.6h.01M163.4,288.0h.01M172.0,287.3h.01M168.7,281.9h.01M166.5,280.9h.01M173.9,285.2h.01M174.3,286.4h.01M174.7,286.2h.01M171.5,288.5h.01M166.3,289.0h.01M158.1,292.6h.01M161.3,277.7h.01M173.2,284.9h.01M151.7,293.0h.01M156.4,274.4h.01M174.0,287.0h.01M174.4,286.5h.01M173.7,287.4h.01M175.1,286.4h.01M174.7,286.5h.01M164.0,289.4h.01M174.3,287.0h.01M172.9,287.7h.01M172.7,288.0h.01M173.6,286.4h.01M166.3,283.1h.01M171.4,287.2h.01M166.7,288.4h.01M171.0,285.7h.01M171.4,287.8h.01M171.7,285.5h.01M160.7,283.4h.01M171.9,286.9h.01M149.2,291.9h.01M168.1,287.2h.01M171.8,287.2h.01M171.7,283.4h.01M173.6,286.8h.01M174.4,286.3h.01M171.1,285.0h.01M172.8,286.2h.01M170.6,284.6h.01M166.9,280.6h.01M167.9,282.3h.01M170.3,284.8h.01M129.2,282.5h.01M167.3,283.4h.01M172.9,287.3h.01M170.8,288.7h.01M160.7,276.8h.01M162.7,290.4h.01M174.4,286.8h.01M171.6,284.7h.01M146.9,290.6h.01M173.4,286.2h.01M156.2,291.4h.01M170.3,287.3h.01M172.4,285.1h.01M172.5,287.4h.01M174.6,287.1h.01M173.6,287.4h.01M173.8,286.9h.01M173.7,287.5h.01M166.6,282.4h.01M171.3,288.1h.01M167.7,283.5h.01M168.2,283.9h.01M166.5,288.0h.01M165.6,279.9h.01M174.5,286.2h.01M173.6,286.9h.01M157.9,291.7h.01M161.7,290.1h.01M162.4,277.4h.01M170.3,289.2h.01M174.4,286.6h.01M174.7,287.0h.01M143.7,290.1h.01M174.9,287.2h.01M166.9,279.7h.01M170.4,283.0h.01M152.9,291.8h.01M160.0,281.1h.01M171.7,288.8h.01M169.8,284.2h.01M173.2,285.9h.01M171.7,287.1h.01M171.6,288.8h.01M164.9,288.9h.01M168.4,289.3h.01M167.1,280.3h.01M166.3,290.5h.01M150.5,279.1h.01M172.9,286.8h.01M164.4,283.7h.01M171.6,285.4h.01M173.8,285.8h.01M163.9,291.1h.01M174.5,286.9h.01M161.8,290.2h.01M174.8,286.8h.01M169.8,281.8h.01M109.9,291.8h.01M160.3,283.7h.01M162.1,289.4h.01M172.6,286.2h.01M168.9,288.4h.01M171.8,283.9h.01M174.0,285.6h.01M173.0,285.1h.01M175.1,286.5h.01M166.2,279.8h.01M170.5,288.1h.01M173.4,287.0h.01M172.3,286.4h.01M174.8,286.3h.01M175.0,286.8h.01M170.3,286.2h.01M157.0,287.9h.01M172.6,285.5h.01M168.6,281.3h.01M163.2,278.2h.01M173.7,285.7h.01M166.2,282.0h.01M172.8,284.3h.01M163.5,288.1h.01M174.9,286.8h.01M173.3,285.0h.01M171.5,288.8h.01M169.1,283.0h.01M159.7,291.0h.01M168.4,284.3h.01M174.1,286.6h.01M173.7,287.4h.01M173.3,287.4h.01M168.5,281.9h.01M173.7,285.9h.01M172.1,288.2h.01M173.9,287.1h.01M170.6,289.1h.01M158.7,290.1h.01M168.3,289.8h.01M153.9,292.7h.01M171.4,288.0h.01M165.1,278.9h.01M167.1,284.8h.01M173.0,287.4h.01M147.9,290.9h.01M173.6,285.1h.01M156.6,276.5h.01M173.3,286.2h.01M163.9,290.7h.01M170.3,285.5h.01M148.1,293.4h.01M157.0,277.2h.01M168.6,290.1h.01M172.8,287.5h.01M171.9,285.7h.01M167.3,285.2h.01M172.4,286.1h.01M173.4,287.4h.01M174.5,286.4h.01M167.4,282.1h.01M168.6,283.9h.01M172.8,284.8h.01M160.0,292.8h.01M160.1,290.5h.01M174.6,287.3h.01M155.8,292.7h.01M171.5,287.8h.01M163.2,277.2h.01M165.3,289.2h.01M166.9,290.6h.01M149.7,292.1h.01M164.2,291.7h.01M175.4,286.9h.01M173.8,285.9h.01M172.9,287.4h.01M173.8,286.3h.01M164.8,280.1h.01M170.1,284.6h.01M157.3,280.0h.01M174.3,285.8h.01M170.0,283.8h.01M170.1,285.9h.01M174.9,286.8h.01M174.2,287.4h.01M166.2,287.8h.01M164.6,291.2h.01M169.7,281.8h.01M168.9,285.3h.01M168.8,283.4h.01M172.0,284.8h.01M175.1,286.7h.01M154.0,277.6h.01M174.7,287.0h.01M172.7,287.3h.01M166.8,284.9h.01M173.9,287.4h.01M174.4,285.5h.01M174.2,286.3h.01M166.7,281.6h.01M173.9,285.1h.01M173.5,286.1h.01M171.6,284.8h.01M170.9,287.3h.01M173.2,285.0h.01M169.2,283.5h.01M174.1,287.4h.01M172.7,284.3h.01M155.5,293.3h.01M162.2,291.8h.01M171.8,287.8h.01M147.0,276.8h.01M172.9,285.2h.01M171.4,284.2h.01M172.0,283.8h.01M167.0,280.4h.01M157.2,282.0h.01M169.1,289.7h.01M157.6,290.3h.01M159.4,288.0h.01M163.8,289.8h.01M166.4,280.9h.01M171.2,288.1h.01M168.3,286.0h.01M174.5,286.2h.01M172.7,287.2h.01M174.8,286.0h.01M165.3,282.9h.01M174.4,286.5h.01M174.2,286.9h.01M174.3,285.4h.01M173.9,286.6h.01M162.8,290.0h.01M168.6,282.5h.01M172.3,288.0h.01M173.2,285.7h.01M173.0,287.5h.01M174.2,286.3h.01M170.7,287.6h.01M155.9,290.2h.01M170.0,287.3h.01M172.5,283.3h.01M172.5,285.3h.01M174.9,286.5h.01M165.7,284.5h.01M170.8,284.4h.01M170.8,283.4h.01M171.6,288.9h.01M163.6,291.4h.01M147.1,291.3h.01M162.4,291.1h.01M175.2,286.5h.01M163.8,280.2h.01M138.6,278.9h.01M175.6,286.6h.01M159.3,277.1h.01M162.5,288.2h.01M165.5,283.4h.01M170.0,284.5h.01M166.5,279.3h.01M169.3,289.3h.01M172.0,287.2h.01M149.1,289.6h.01M161.4,277.1h.01M171.8,283.3h.01M172.5,286.2h.01M169.5,283.4h.01M173.0,287.7h.01M168.4,289.2h.01M173.8,287.1h.01M174.5,286.1h.01M174.1,286.4h.01M172.5,288.1h.01M165.7,288.7h.01M172.3,288.3h.01M156.7,281.1h.01M173.4,285.7h.01M161.4,292.7h.01M146.6,295.8h.01M167.6,283.4h.01M173.9,285.9h.01M172.0,284.4h.01M166.3,279.6h.01M169.0,288.4h.01M167.8,287.9h.01M170.2,289.6h.01M170.5,286.0h.01M167.1,283.0h.01M166.9,288.4h.01M139.9,288.7h.01M172.7,285.2h.01M175.6,286.5h.01M153.4,294.5h.01M161.6,290.3h.01M169.8,283.0h.01M168.0,281.8h.01M168.2,288.3h.01M170.2,284.8h.01M167.3,288.2h.01M171.8,287.9h.01M175.2,286.2h.01M159.5,281.5h.01M150.3,274.1h.01M168.4,282.8h.01M170.6,284.0h.01M160.7,282.4h.01M157.8,279.4h.01M171.8,283.6h.01M166.7,290.5h.01M158.0,281.5h.01M148.8,283.1h.01M163.3,290.3h.01M175.3,286.7h.01M171.0,284.3h.01M169.4,282.0h.01M174.7,286.8h.01M160.3,284.0h.01M166.7,288.6h.01M172.8,287.2h.01M169.7,283.7h.01M162.6,281.9h.01M135.3,293.8h.01M169.6,283.6h.01M160.4,290.5h.01M156.6,293.0h.01M168.0,289.7h.01M172.4,287.6h.01M151.2,279.5h.01M171.4,288.0h.01M175.0,285.9h.01M169.2,282.2h.01M173.2,284.9h.01M173.6,285.2h.01M173.6,287.4h.01M173.1,287.2h.01M165.3,280.5h.01M171.1,284.6h.01M159.8,282.5h.01M172.9,284.8h.01M173.7,287.2h.01M172.0,288.5h.01M173.5,287.0h.01M153.0,292.9h.01M169.9,287.3h.01M171.0,285.0h.01M165.7,282.3h.01M174.2,286.4h.01M164.8,288.8h.01M170.5,284.3h.01M167.0,279.8h.01M168.6,283.8h.01M175.0,286.3h.01M171.7,288.3h.01M170.2,283.9h.01M171.7,285.7h.01M174.6,286.8h.01M157.1,293.3h.01M169.5,289.9h.01M172.6,287.8h.01M165.4,280.3h.01M169.7,289.2h.01M173.1,287.2h.01M172.5,284.4h.01M160.1,276.0h.01M163.2,278.6h.01M169.4,283.0h.01M165.4,283.1h.01M170.6,285.1h.01M171.8,284.9h.01M172.3,285.8h.01M172.1,285.4h.01M168.0,281.6h.01M173.9,285.8h.01M167.6,282.5h.01M170.5,287.4h.01M150.8,279.5h.01M171.2,283.9h.01M169.8,289.0h.01M167.6,282.3h.01M164.0,284.3h.01M172.9,287.3h.01M168.1,288.8h.01M171.9,287.6h.01M165.0,288.1h.01M170.9,287.4h.01M159.6,291.5h.01M174.8,286.6h.01M162.0,290.7h.01M172.4,284.1h.01M167.1,283.0h.01M167.7,284.6h.01M172.9,285.0h.01M170.9,283.2h.01M167.3,288.7h.01M145.9,288.1h.01M174.8,287.2h.01M169.8,282.6h.01M174.9,286.8h.01M128.1,298.1h.01M163.1,279.7h.01M164.9,285.9h.01M160.0,276.2h.01M174.3,286.3h.01M169.2,281.8h.01M173.5,287.0h.01M174.8,286.5h.01M167.5,288.1h.01M170.4,289.0h.01M171.0,287.7h.01M174.0,285.8h.01M167.7,287.8h.01M168.9,288.1h.01M123.8,296.7h.01M168.5,282.5h.01M172.0,287.9h.01M168.3,287.7h.01M174.6,286.4h.01M173.3,285.5h.01M174.5,285.6h.01M170.6,284.4h.01M170.6,281.8h.01M165.8,281.5h.01M171.9,284.4h.01M143.0,294.9h.01M175.3,286.7h.01M161.2,283.2h.01M170.4,282.1h.01M165.7,279.6h.01M150.3,275.9h.01M172.7,287.4h.01M165.8,281.1h.01M174.6,287.2h.01M149.4,279.7h.01M169.7,282.5h.01M166.7,287.5h.01M169.7,287.6h.01M162.4,282.8h.01M158.4,277.4h.01M169.5,283.3h.01M174.2,286.4h.01M171.0,287.0h.01M168.7,288.7h.01M171.7,288.1h.01M168.2,289.8h.01M169.8,282.1h.01M170.6,286.0h.01M166.9,284.0h.01M165.2,288.3h.01M174.5,286.3h.01M168.4,283.4h.01M175.0,286.8h.01M173.7,285.5h.01M167.3,281.8h.01M172.2,284.0h.01M171.1,288.4h.01M153.9,275.8h.01M165.9,284.2h.01M170.6,285.4h.01M122.9,295.1h.01M164.5,282.4h.01M175.0,286.8h.01M173.5,285.7h.01M163.5,289.4h.01M169.7,284.0h.01M169.2,288.7h.01M159.3,284.2h.01M171.5,288.8h.01M167.3,290.8h.01M160.5,278.7h.01M174.1,285.5h.01M157.7,293.1h.01M172.5,284.9h.01M166.7,284.6h.01M120.1,296.0h.01M169.0,284.2h.01M173.7,285.7h.01M168.6,282.9h.01M169.8,283.0h.01M162.8,281.0h.01M172.0,284.9h.01M173.7,285.0h.01M168.7,285.4h.01M175.2,286.5h.01M170.2,288.3h.01M172.1,284.8h.01M166.3,281.8h.01M157.2,291.9h.01M170.7,283.8h.01M171.3,284.7h.01M166.9,281.7h.01M164.0,283.8h.01M175.0,286.7h.01M173.3,287.5h.01M174.2,287.2h.01M173.8,286.5h.01M172.7,285.0h.01M169.8,281.7h.01M175.2,286.6h.01M170.4,289.0h.01M162.2,277.1h.01M170.6,285.1h.01M174.9,286.7h.01M174.1,287.4h.01M170.1,286.3h.01M162.9,290.8h.01M165.9,279.7h.01M167.0,290.4h.01M175.0,286.6h.01M159.6,289.4h.01M175.1,286.3h.01M169.8,284.6h.01M162.5,291.8h.01M171.6,287.7h.01M174.3,286.8h.01M170.2,288.6h.01M172.5,285.8h.01M164.0,279.3h.01M167.9,282.9h.01M172.7,284.2h.01M168.0,288.9h.01M165.7,283.8h.01M173.3,286.4h.01M171.8,283.9h.01M158.6,282.5h.01M173.8,285.9h.01M168.3,284.9h.01M173.7,287.3h.01M172.9,287.5h.01M171.1,284.3h.01M174.1,287.1h.01M157.8,291.3h.01M171.4,284.5h.01M174.0,287.1h.01M163.2,288.4h.01M174.4,287.2h.01M174.2,285.7h.01M173.0,287.8h.01M172.0,286.9h.01M174.1,286.1h.01M167.7,280.1h.01M173.8,287.0h.01M170.0,287.2h.01M166.9,286.0h.01M171.6,287.6h.01M168.6,282.5h.01M173.3,287.1h.01M170.3,284.0h.01M174.7,286.4h.01M172.4,285.1h.01M169.5,283.8h.01M151.0,295.2h.01M166.9,280.0h.01M171.5,284.6h.01M173.5,287.8h.01M173.9,285.5h.01M166.1,280.4h.01M155.6,292.3h.01M166.7,279.9h.01M143.5,288.5h.01M174.3,286.9h.01M161.9,285.0h.01M172.8,287.5h.01M174.1,287.1h.01M173.4,287.8h.01M173.3,285.0h.01M157.8,281.1h.01M175.1,286.7h.01M172.1,285.3h.01M159.4,280.0h.01M159.1,292.3h.01M154.6,290.3h.01M162.3,278.2h.01M149.7,290.9h.01M173.4,286.1h.01M171.8,284.9h.01M174.1,285.9h.01M162.7,291.9h.01M169.5,282.5h.01M174.6,286.8h.01M163.4,288.4h.01M174.6,286.3h.01M172.6,288.2h.01M169.5,281.4h.01M173.0,287.7h.01M170.2,287.4h.01M152.5,291.4h.01M154.1,287.9h.01M169.4,287.2h.01M173.3,287.5h.01M174.2,285.7h.01M138.5,292.9h.01M152.5,274.5h.01M172.8,284.3h.01M159.1,275.8h.01M175.1,286.9h.01M171.2,287.1h.01M168.7,282.7h.01M164.2,291.7h.01M173.5,285.6h.01M171.5,283.4h.01M158.1,289.5h.01M170.6,288.8h.01M167.1,289.8h.01M152.8,278.1h.01M170.3,283.8h.01M173.8,287.0h.01M171.2,285.4h.01M162.2,288.8h.01M166.5,289.0h.01M174.2,286.1h.01M165.4,290.0h.01M171.5,284.2h.01M172.8,287.0h.01M170.5,287.9h.01M171.4,283.6h.01M170.9,287.3h.01M170.4,288.0h.01M160.0,288.8h.01M173.4,284.7h.01M173.8,287.6h.01M174.3,286.8h.01M173.7,285.0h.01M154.0,290.9h.01M173.8,286.9h.01M173.3,285.9h.01M165.5,288.5h.01M173.1,285.8h.01M171.7,288.0h.01M163.6,291.8h.01M163.6,288.8h.01M171.8,284.6h.01M164.6,288.4h.01M172.4,287.8h.01M165.8,287.5h.01M160.7,283.2h.01M168.4,288.7h.01M167.2,287.4h.01M173.1,285.9h.01M169.1,284.2h.01M174.4,286.0h.01M172.5,284.3h.01M173.9,285.5h.01M170.7,284.6h.01M168.8,283.1h.01M169.8,289.4h.01M173.4,285.2h.01M173.1,287.8h.01M151.9,273.7h.01M173.3,285.9h.01M174.5,287.3h.01M162.9,281.8h.01M150.7,295.2h.01M158.8,276.0h.01M172.9,287.1h.01M163.9,291.4h.01M168.6,282.9h.01M174.2,286.0h.01M153.4,291.2h.01M168.0,282.6h.01M163.9,289.8h.01M171.9,284.6h.01M158.1,274.6h.01M168.5,289.8h.01M173.1,287.2h.01M173.4,287.6h.01M164.8,289.4h.01M174.3,286.4h.01M171.1,288.6h.01M162.1,292.8h.01M175.3,286.7h.01M161.5,290.8h.01M166.0,288.9h.01M169.0,280.8h.01M171.1,288.9h.01M169.2,288.2h.01M171.1,287.2h.01M157.8,291.0h.01M175.0,286.9h.01M160.1,288.5h.01M172.1,284.6h.01M161.4,288.9h.01M169.5,282.9h.01M174.1,287.0h.01M174.3,285.9h.01M162.1,280.7h.01M170.2,288.0h.01M173.5,286.4h.01M136.5,269.0h.01M173.0,285.2h.01M157.2,291.7h.01M172.9,284.8h.01M166.8,288.6h.01M170.9,283.8h.01M173.9,286.5h.01M171.5,288.5h.01M173.2,287.6h.01M173.4,287.3h.01M171.4,287.7h.01M166.9,281.8h.01M167.2,290.6h.01M173.4,286.9h.01M155.5,279.5h.01M170.6,288.7h.01M157.2,293.1h.01M173.6,286.2h.01M173.4,287.3h.01M150.2,274.5h.01M175.4,286.7h.01M174.5,287.2h.01M171.2,283.0h.01M169.8,287.2h.01M173.8,285.3h.01M171.1,283.0h.01M139.7,296.5h.01M165.1,290.0h.01M164.5,283.7h.01M172.9,285.9h.01M175.1,286.8h.01M168.7,288.8h.01M170.2,288.8h.01M173.7,285.1h.01M167.6,280.3h.01M175.0,286.6h.01M171.6,284.2h.01M171.5,283.4h.01M174.8,286.5h.01M167.0,280.4h.01M173.3,285.6h.01M174.0,286.3h.01M161.9,285.1h.01M148.6,288.2h.01M144.0,292.5h.01M158.0,289.8h.01M162.0,291.9h.01M153.6,293.7h.01M173.1,287.8h.01M174.2,286.2h.01M174.6,286.8h.01M165.1,284.4h.01M166.4,290.6h.01M174.3,287.4h.01M163.3,289.2h.01M162.6,281.7h.01M172.1,287.1h.01M165.1,278.8h.01M173.2,287.7h.01M166.7,281.8h.01M175.1,286.6h.01M174.2,286.0h.01M172.0,285.0h.01M171.3,287.7h.01M162.3,281.7h.01M169.9,285.8h.01M166.9,289.5h.01M167.2,287.8h.01M171.7,287.2h.01M151.6,271.6h.01M151.6,276.6h.01M171.7,287.9h.01M156.7,280.9h.01M172.8,285.8h.01M173.9,285.7h.01M116.8,268.1h.01M165.2,289.5h.01M174.1,287.5h.01M173.7,287.1h.01M171.7,288.3h.01M171.1,287.4h.01M170.5,287.0h.01M173.6,286.5h.01M173.8,286.1h.01M171.4,284.0h.01M169.3,288.9h.01M174.6,286.8h.01M158.5,289.4h.01M171.6,284.4h.01M163.3,291.7h.01M173.5,285.8h.01M173.8,287.2h.01M162.7,290.8h.01M160.6,288.0h.01M164.1,290.1h.01M166.6,287.3h.01M172.8,287.5h.01M166.4,280.0h.01M174.7,286.7h.01M160.5,279.9h.01M174.0,285.3h.01M169.9,282.3h.01M168.8,285.1h.01M170.9,283.6h.01M171.6,287.2h.01M168.8,282.2h.01M170.0,283.3h.01M175.5,287.1h.01M141.7,278.7h.01M152.4,276.4h.01M174.7,286.6h.01M173.0,285.3h.01M167.9,281.0h.01M125.8,290.2h.01M145.7,279.3h.01M130.0,289.6h.01M172.0,287.9h.01M171.9,287.1h.01M163.0,285.6h.01M166.2,283.4h.01M171.9,284.3h.01M169.0,286.2h.01M165.7,288.9h.01M170.5,284.8h.01M167.2,288.6h.01M172.9,286.9h.01M174.5,286.5h.01M173.9,286.4h.01M162.4,290.6h.01M160.8,291.5h.01M174.3,285.9h.01M173.0,286.8h.01M174.7,286.3h.01M169.4,282.9h.01M158.6,274.8h.01M164.2,290.9h.01M169.7,282.4h.01M174.2,285.6h.01M172.4,287.7h.01M151.3,284.9h.01M167.6,290.2h.01M162.2,290.0h.01M165.8,287.7h.01M174.8,286.1h.01M156.7,290.3h.01M171.9,284.2h.01M164.7,281.2h.01M172.3,284.7h.01M164.6,279.4h.01M162.8,279.7h.01M173.6,287.3h.01M173.2,287.8h.01M153.3,278.4h.01M173.0,284.9h.01M164.2,278.8h.01M150.7,289.6h.01M173.8,287.3h.01M160.3,293.1h.01M171.0,285.5h.01M172.2,287.0h.01M173.7,287.1h.01M170.8,285.1h.01M174.9,286.8h.01M168.0,288.5h.01M171.2,288.5h.01M171.8,284.0h.01M172.3,288.1h.01M172.9,286.9h.01M172.9,285.3h.01M162.9,279.7h.01M174.5,286.6h.01M169.2,287.2h.01M173.7,287.0h.01M175.1,286.4h.01M129.0,290.3h.01M168.8,289.5h.01M155.7,274.5h.01M170.7,288.9h.01M171.0,288.0h.01M164.9,280.8h.01M174.2,286.3h.01M171.5,287.6h.01M158.6,290.7h.01M174.6,286.5h.01M163.2,277.8h.01M172.4,283.4h.01M158.6,289.0h.01M163.8,290.4h.01M173.4,287.3h.01M159.0,291.6h.01M153.1,294.3h.01M155.7,289.9h.01M175.0,287.2h.01M172.7,284.6h.01M169.1,284.3h.01M173.2,285.4h.01M165.7,290.6h.01M162.4,284.9h.01M166.8,282.9h.01M165.2,283.8h.01M172.6,285.2h.01M174.1,286.8h.01M170.2,287.2h.01M174.2,286.9h.01M172.5,284.2h.01M171.8,285.2h.01M166.3,283.2h.01M171.1,287.4h.01M168.6,280.8h.01M167.7,287.5h.01M167.2,283.0h.01M170.2,284.7h.01M174.6,286.7h.01M175.4,286.5h.01M174.7,286.6h.01M171.2,285.7h.01M166.9,290.1h.01M164.1,279.4h.01M167.5,288.8h.01M167.3,281.6h.01M160.2,291.8h.01M173.0,284.8h.01M173.1,286.0h.01M166.3,289.0h.01M157.3,290.8h.01M168.5,289.6h.01M168.4,283.7h.01M164.4,289.7h.01M164.2,281.5h.01M172.1,288.5h.01M162.8,288.2h.01M161.9,289.9h.01M164.8,289.3h.01M171.1,287.7h.01M172.8,288.0h.01M167.8,283.4h.01M173.8,287.0h.01M166.9,287.4h.01M171.5,284.9h.01M162.0,280.3h.01M156.3,291.3h.01M173.0,287.5h.01M173.8,284.6h.01M151.8,292.1h.01M171.5,285.2h.01M169.3,289.0h.01M163.7,290.4h.01M160.8,280.0h.01M174.5,286.0h.01M172.6,285.2h.01M166.7,281.0h.01M137.0,288.5h.01M167.0,289.0h.01M160.3,291.0h.01M173.1,285.7h.01M172.1,287.2h.01M173.8,286.4h.01M172.7,288.0h.01M172.7,287.7h.01M173.9,285.9h.01M173.2,286.9h.01M135.5,294.1h.01M171.3,288.6h.01M168.3,288.7h.01M173.2,287.1h.01M173.2,285.6h.01M172.8,284.9h.01M173.1,286.9h.01M165.1,288.7h.01M173.9,286.0h.01M166.8,288.9h.01M166.6,284.6h.01M168.2,286.1h.01M169.5,285.7h.01M172.4,288.3h.01M173.0,285.8h.01M167.5,283.4h.01M165.0,282.9h.01M174.5,286.6h.01M139.1,289.5h.01M172.5,284.9h.01M169.5,285.7h.01M160.0,290.9h.01M171.5,284.7h.01M169.9,284.7h.01M173.8,287.4h.01M159.3,287.8h.01M153.8,289.2h.01M162.8,280.3h.01M156.2,287.5h.01M173.5,285.7h.01M164.0,282.5h.01M171.5,283.3h.01M154.2,287.9h.01M172.2,287.8h.01M171.2,285.5h.01M175.0,286.5h.01M173.5,287.0h.01M170.6,287.2h.01M174.1,285.7h.01M172.3,284.3h.01M153.4,287.6h.01M170.0,289.3h.01M171.9,284.4h.01M170.6,284.2h.01M170.4,281.8h.01M173.9,285.9h.01M174.1,285.8h.01M175.0,286.2h.01M173.1,287.3h.01M169.5,282.7h.01M163.5,287.8h.01M152.0,287.8h.01M152.7,281.2h.01M174.0,287.1h.01M165.3,285.0h.01M161.3,289.2h.01M173.5,287.8h.01M170.9,288.2h.01M169.4,284.6h.01M170.3,289.3h.01M172.9,287.1h.01M137.0,295.1h.01M172.4,287.9h.01M170.5,283.4h.01M171.6,288.2h.01M172.2,287.6h.01M166.5,289.5h.01M160.0,284.6h.01M171.5,287.1h.01M160.0,281.4h.01M167.4,288.7h.01M172.9,284.6h.01M173.7,285.9h.01M165.8,289.7h.01M162.3,277.3h.01M169.2,285.0h.01M174.4,286.6h.01M175.4,286.8h.01M172.5,284.3h.01M172.2,285.0h.01M173.4,287.5h.01M163.5,289.9h.01M166.0,290.6h.01M151.0,295.1h.01M173.7,285.9h.01M173.3,287.0h.01M171.8,289.1h.01M166.7,288.3h.01M175.3,286.8h.01M172.3,284.6h.01M168.8,284.1h.01M165.8,287.3h.01M173.0,287.7h.01M172.3,286.3h.01M170.6,283.2h.01M161.8,292.4h.01M175.7,286.5h.01M171.8,287.9h.01M173.7,285.6h.01M173.8,287.1h.01M174.9,286.6h.01M174.7,286.6h.01M171.5,284.7h.01M173.9,287.0h.01M154.4,294.4h.01M161.8,283.7h.01M163.1,291.1h.01M171.6,287.2h.01M160.7,277.2h.01M173.2,287.5h.01M174.9,285.9h.01M164.5,290.0h.01M174.2,286.3h.01M149.0,289.9h.01M162.2,278.4h.01M149.9,291.0h.01M167.2,282.5h.01M169.0,282.9h.01M172.1,287.0h.01M173.5,286.0h.01M170.5,283.4h.01M167.2,284.4h.01M130.2,295.6h.01M160.7,279.5h.01M172.2,285.9h.01M172.9,286.3h.01M174.0,285.0h.01M166.0,290.6h.01M173.1,284.5h.01M171.1,287.9h.01M170.9,288.9h.01M159.8,289.0h.01M172.7,284.8h.01M174.7,286.1h.01M167.1,282.2h.01M174.6,286.4h.01M170.7,285.7h.01M158.8,287.5h.01M169.2,288.9h.01M171.5,284.5h.01M154.0,279.5h.01M173.6,287.2h.01M154.9,292.4h.01M143.6,275.6h.01M172.1,287.2h.01M152.1,293.6h.01M174.2,287.2h.01M173.5,287.4h.01M167.5,289.9h.01M165.5,281.9h.01M167.7,289.3h.01M174.0,286.4h.01M167.4,290.2h.01M171.6,283.8h.01M174.5,286.6h.01M174.4,286.9h.01M171.9,284.0h.01M172.5,287.5h.01M139.8,297.5h.01M174.3,286.8h.01M164.1,289.2h.01M169.7,287.2h.01M172.8,287.1h.01M167.2,288.2h.01M173.0,287.5h.01M165.5,279.5h.01M171.2,284.7h.01M166.8,283.9h.01M166.4,279.3h.01M173.2,284.9h.01M174.3,287.0h.01M172.8,284.9h.01M171.9,284.9h.01M173.0,287.6h.01M172.4,284.9h.01M173.2,285.0h.01M168.0,289.2h.01M165.3,291.4h.01M174.4,285.5h.01M170.9,285.6h.01M166.5,281.6h.01M172.0,287.2h.01M167.0,288.2h.01M164.4,281.2h.01M153.6,289.4h.01M166.3,279.8h.01M172.6,287.8h.01M168.9,282.7h.01M165.9,282.9h.01M172.7,285.4h.01M175.2,286.4h.01M167.5,288.0h.01M151.3,290.6h.01M167.1,287.5h.01M157.0,291.3h.01M174.9,286.5h.01M155.9,282.5h.01M175.3,286.8h.01M172.6,287.5h.01M145.5,275.8h.01M172.4,288.1h.01M140.4,292.9h.01M168.7,288.8h.01M171.2,285.4h.01M169.3,288.3h.01M162.9,281.1h.01M166.8,281.8h.01M165.1,280.8h.01M173.3,285.9h.01M171.7,284.5h.01M165.9,287.6h.01M140.9,296.5h.01M142.2,288.0h.01M174.1,285.2h.01M160.3,277.1h.01M172.3,288.2h.01M173.8,287.2h.01M164.2,280.1h.01M175.1,286.6h.01M174.2,286.9h.01M162.1,287.4h.01M165.3,288.4h.01M157.6,292.6h.01M161.9,283.5h.01M172.3,285.4h.01M154.2,292.9h.01M166.5,287.9h.01M166.5,288.3h.01M155.7,283.1h.01M174.6,286.4h.01M169.8,284.9h.01M174.4,286.9h.01M168.0,290.5h.01M167.7,283.6h.01M164.8,291.0h.01M166.4,281.9h.01M169.8,283.8h.01M146.0,293.9h.01M165.4,281.8h.01M168.4,281.4h.01M172.4,284.7h.01M151.1,278.9h.01M170.5,284.4h.01M170.1,286.0h.01M172.5,286.9h.01M173.7,285.8h.01M174.4,286.2h.01M171.4,287.9h.01M173.1,286.4h.01M173.7,285.0h.01M139.6,296.4h.01M133.2,297.6h.01M158.2,291.7h.01M170.6,288.4h.01M174.2,286.1h.01M174.6,286.7h.01M168.4,289.9h.01M174.2,287.2h.01M174.1,285.8h.01M166.2,282.2h.01M163.0,289.8h.01M171.0,289.1h.01M151.9,288.9h.01M171.4,283.3h.01M172.4,287.9h.01M172.7,287.5h.01M163.4,288.5h.01M170.1,288.8h.01M173.5,285.7h.01M145.7,296.5h.01M140.4,295.1h.01M174.9,286.8h.01M160.4,283.9h.01M172.0,287.5h.01M171.7,284.8h.01M175.0,286.7h.01M155.0,291.8h.01M165.7,281.9h.01M170.0,288.9h.01M146.3,292.0h.01M173.5,286.2h.01M171.0,288.3h.01M172.7,284.6h.01M173.5,285.7h.01M174.9,286.7h.01M165.4,290.0h.01M170.7,284.9h.01M164.1,282.3h.01M168.1,280.5h.01M172.8,287.0h.01M174.9,286.4h.01M146.6,287.8h.01M172.5,287.5h.01M137.7,288.9h.01M171.0,282.8h.01M170.2,284.1h.01M150.5,289.3h.01M172.4,288.1h.01M164.1,288.3h.01M162.4,291.6h.01M144.6,295.7h.01M173.4,287.5h.01M159.7,279.6h.01M172.3,284.6h.01M166.4,283.3h.01M174.9,286.5h.01M171.1,285.8h.01M169.7,284.8h.01M167.6,283.6h.01M171.0,283.2h.01M174.6,286.3h.01M173.2,287.1h.01M166.7,290.0h.01M157.7,290.7h.01M151.3,288.9h.01M173.6,287.4h.01M157.9,282.3h.01M172.0,285.3h.01M171.4,288.5h.01M168.9,289.1h.01M166.7,283.7h.01M172.6,285.6h.01M140.4,289.0h.01M169.5,289.1h.01M120.5,293.7h.01M175.3,286.7h.01M173.6,287.7h.01M159.5,289.2h.01M173.2,284.7h.01M173.3,285.8h.01M164.5,289.4h.01M170.8,283.3h.01M168.1,288.6h.01M166.6,281.5h.01M169.3,289.0h.01M146.2,296.5h.01M168.2,285.8h.01M173.5,286.8h.01M172.7,287.2h.01M169.7,289.3h.01M168.0,285.1h.01M169.9,283.8h.01M170.5,288.9h.01M170.3,288.6h.01M158.1,289.5h.01M162.6,290.7h.01M163.6,285.1h.01M174.1,286.7h.01M172.6,287.8h.01M165.9,288.4h.01M173.1,284.1h.01M171.2,287.5h.01M165.5,280.0h.01M172.5,287.3h.01M168.9,288.2h.01M173.8,286.9h.01M173.6,286.3h.01M172.4,284.7h.01M175.2,286.6h.01M175.0,286.8h.01M167.6,282.3h.01M163.7,280.4h.01M171.9,283.1h.01M161.9,281.3h.01M160.4,290.5h.01M174.5,286.9h.01M170.3,287.9h.01M171.2,287.6h.01M160.1,289.7h.01M173.3,285.2h.01M162.1,277.6h.01M168.2,287.9h.01M172.2,285.5h.01M174.3,287.2h.01M167.8,284.4h.01M174.6,287.2h.01M174.5,286.2h.01M175.2,286.5h.01M174.3,286.5h.01M159.6,292.9h.01M174.2,286.9h.01M168.9,287.8h.01M171.5,283.4h.01M163.8,278.1h.01M166.2,289.1h.01M174.3,286.7h.01M145.1,291.6h.01M175.0,286.9h.01M172.4,287.4h.01M165.8,284.8h.01M141.7,295.1h.01M172.7,285.8h.01M173.2,286.3h.01M171.7,284.3h.01M158.2,291.4h.01M170.6,288.3h.01M174.2,286.8h.01M172.4,283.7h.01M167.3,287.9h.01M171.2,287.6h.01M166.4,288.6h.01M174.4,286.9h.01M172.9,286.9h.01M170.5,284.2h.01M171.4,284.4h.01M174.2,286.6h.01M171.5,288.1h.01M162.2,277.3h.01M171.8,284.2h.01M174.9,286.0h.01M173.1,285.3h.01M173.6,286.0h.01M164.5,281.5h.01M167.5,288.8h.01M161.4,279.7h.01M172.7,285.0h.01M155.9,291.2h.01M142.1,295.0h.01M170.5,288.3h.01M174.1,287.1h.01M174.2,287.0h.01M172.0,284.1h.01M159.6,279.5h.01M165.5,288.3h.01M171.2,285.1h.01M172.6,286.9h.01M173.7,285.6h.01M157.0,277.2h.01M168.1,289.7h.01M174.3,286.1h.01M170.4,285.8h.01M171.2,288.2h.01M174.1,286.1h.01M170.6,288.3h.01M151.5,284.6h.01M164.4,282.3h.01M173.9,285.4h.01M167.6,281.4h.01M175.1,286.6h.01M168.6,287.8h.01M171.5,284.6h.01M171.0,285.4h.01M164.4,278.6h.01M157.0,290.8h.01M153.7,292.5h.01M174.2,286.2h.01M153.4,288.6h.01M158.5,291.0h.01M161.3,282.9h.01M172.4,285.9h.01M170.4,287.3h.01M174.2,286.6h.01M173.7,287.0h.01M167.4,281.2h.01M167.4,282.9h.01M173.7,285.9h.01M159.2,277.2h.01M168.0,284.6h.01M171.3,285.9h.01M170.0,282.9h.01M172.8,287.2h.01M164.9,280.4h.01M175.2,286.6h.01M172.7,283.6h.01M157.4,293.4h.01M173.8,285.7h.01M171.4,288.0h.01M171.4,285.2h.01M166.8,288.7h.01M174.8,286.6h.01M175.3,286.5h.01M174.1,286.4h.01M174.4,287.1h.01M167.4,280.7h.01M173.6,285.9h.01M174.5,286.1h.01M169.8,287.2h.01M172.6,285.9h.01M174.6,285.9h.01M166.9,287.8h.01M154.4,293.2h.01M158.5,289.4h.01M174.9,286.7h.01M167.4,281.3h.01M173.7,286.1h.01M165.7,279.2h.01M175.0,286.8h.01M173.0,285.6h.01M174.6,286.5h.01M164.4,287.8h.01M144.3,292.3h.01M166.0,290.0h.01M170.6,284.0h.01M174.5,286.4h.01M165.2,287.4h.01M167.2,288.3h.01M166.7,289.9h.01M162.5,289.2h.01M171.6,287.1h.01M171.6,285.7h.01M168.0,289.0h.01M172.0,283.8h.01M163.1,280.9h.01M170.3,283.0h.01M168.2,280.7h.01M172.3,284.5h.01M173.1,286.1h.01M173.3,284.9h.01M174.0,287.0h.01M174.4,286.0h.01M174.5,286.3h.01M150.5,294.2h.01M164.4,289.9h.01M170.8,287.6h.01M165.9,290.6h.01M120.7,292.7h.01M158.8,291.8h.01M172.8,287.8h.01M148.9,277.7h.01M158.1,275.8h.01M131.6,296.8h.01M171.7,284.4h.01M172.7,287.1h.01M165.7,280.8h.01M173.5,284.7h.01M166.5,290.0h.01M168.6,289.9h.01M174.7,286.4h.01M171.5,285.4h.01M173.5,287.2h.01M163.0,288.7h.01M151.4,282.5h.01M160.4,287.8h.01M173.5,287.2h.01M146.2,295.6h.01M169.4,287.2h.01M148.7,290.1h.01M168.6,288.7h.01M167.1,289.7h.01M167.5,289.2h.01M175.2,286.4h.01M174.3,286.4h.01M166.6,287.7h.01M174.2,286.2h.01M167.7,287.4h.01M157.5,292.9h.01M174.1,287.3h.01M170.7,283.5h.01M169.7,282.2h.01M173.8,286.8h.01M164.0,277.6h.01M172.1,287.3h.01M164.6,281.0h.01M168.0,282.2h.01M172.6,285.3h.01M164.9,284.5h.01M171.4,285.0h.01M174.3,286.3h.01M170.6,288.3h.01M163.8,291.2h.01M174.3,286.2h.01M173.3,286.0h.01M173.2,285.9h.01M161.9,290.2h.01M167.1,284.9h.01M172.3,287.5h.01M165.0,284.0h.01M171.9,284.7h.01M172.7,285.1h.01M147.1,288.0h.01M170.5,282.8h.01M173.8,287.0h.01M159.1,291.8h.01M174.8,286.4h.01M169.4,285.0h.01M171.7,287.6h.01M174.5,286.8h.01M168.4,281.8h.01M167.6,282.0h.01M174.0,286.4h.01M167.3,289.6h.01M169.3,288.8h.01M165.6,288.6h.01M173.0,287.5h.01M170.2,288.5h.01M165.4,282.7h.01M173.5,287.7h.01M171.0,282.7h.01M147.0,290.6h.01M170.8,283.2h.01M172.6,286.0h.01M140.6,296.5h.01M173.9,286.0h.01M159.0,288.5h.01M157.3,288.3h.01M172.7,287.6h.01M170.3,285.9h.01M157.9,291.7h.01M174.3,286.8h.01M170.0,283.5h.01M160.4,290.6h.01M170.6,284.6h.01M170.5,285.4h.01M171.7,284.2h.01M174.4,285.7h.01M163.5,289.2h.01M171.6,288.3h.01M172.3,286.2h.01M172.4,285.1h.01M173.7,287.7h.01M154.6,279.0h.01M173.9,285.6h.01M160.1,289.5h.01M175.0,287.0h.01M148.6,288.3h.01M172.3,287.2h.01M170.5,282.6h.01M168.7,284.2h.01M164.4,288.7h.01M165.3,289.0h.01M175.2,286.6h.01M173.9,285.8h.01M171.9,284.9h.01M171.1,284.8h.01M162.0,280.6h.01M168.0,281.2h.01M174.0,286.1h.01M157.0,280.3h.01M169.0,289.8h.01M166.9,283.6h.01M159.4,290.3h.01M164.4,289.3h.01M169.8,287.8h.01M169.2,284.7h.01M175.7,286.7h.01M167.3,279.5h.01M174.1,287.4h.01M174.3,286.8h.01M163.1,278.2h.01M174.8,286.7h.01M162.5,289.1h.01M164.2,285.2h.01M173.0,287.5h.01M171.0,284.9h.01M172.4,285.2h.01M173.0,288.1h.01M168.3,289.5h.01M173.5,287.2h.01M160.2,275.8h.01M170.6,285.0h.01M170.3,285.7h.01M161.3,277.8h.01M168.3,283.5h.01M148.6,289.8h.01M169.4,289.6h.01M171.3,287.1h.01M163.4,291.0h.01M159.5,291.7h.01M157.1,287.7h.01M171.8,288.5h.01M165.6,289.7h.01M158.0,292.4h.01M163.6,291.0h.01M174.5,285.8h.01M174.5,286.4h.01M173.9,287.0h.01M169.7,282.1h.01M146.1,291.9h.01M169.1,282.0h.01M172.4,286.2h.01M169.0,284.4h.01M170.3,285.8h.01M174.0,285.8h.01M171.1,285.4h.01M153.1,292.5h.01M169.0,281.3h.01M174.5,286.5h.01M152.8,289.3h.01M167.3,288.4h.01M155.6,279.9h.01M168.5,286.0h.01M172.5,288.3h.01M172.6,286.2h.01M171.1,285.1h.01M170.1,288.0h.01M175.1,286.2h.01M173.9,286.2h.01M173.6,286.8h.01M169.8,289.2h.01M174.5,286.6h.01M174.1,285.3h.01M174.1,286.2h.01M167.3,288.0h.01M167.0,283.5h.01M175.6,286.7h.01M174.7,286.1h.01M166.4,287.9h.01M174.4,287.0h.01M165.4,278.5h.01M171.7,287.8h.01M164.2,289.1h.01M171.9,283.7h.01M170.3,288.3h.01M174.7,286.6h.01M174.4,286.9h.01M161.4,279.0h.01M172.2,286.1h.01M169.8,284.8h.01M172.9,287.1h.01M175.5,286.7h.01M136.7,293.9h.01M170.4,283.6h.01M159.5,281.0h.01M174.0,285.7h.01M175.3,286.8h.01M140.8,295.8h.01M171.7,283.5h.01M162.4,282.6h.01M171.8,287.7h.01M171.2,284.4h.01M159.0,291.8h.01M174.7,286.9h.01M174.9,286.6h.01M168.9,289.5h.01M147.0,282.9h.01M171.6,285.4h.01M167.8,281.7h.01M173.8,285.8h.01M153.3,277.1h.01M175.1,286.7h.01M172.4,288.3h.01M156.9,274.2h.01M174.8,285.9h.01M162.2,289.0h.01M167.0,289.3h.01M173.2,287.8h.01M169.6,287.9h.01M161.6,290.4h.01M167.0,287.7h.01M169.7,288.1h.01M164.4,284.6h.01M164.2,278.4h.01M174.9,286.7h.01M167.6,281.3h.01M158.9,275.5h.01M163.2,290.5h.01M159.3,293.1h.01M165.6,283.4h.01M163.0,289.0h.01M174.2,285.6h.01M169.0,287.3h.01M173.3,287.5h.01M162.5,289.5h.01M163.4,279.4h.01M172.8,287.4h.01M158.5,276.1h.01M154.4,276.9h.01M171.9,287.4h.01M167.0,283.0h.01M173.3,285.1h.01M174.8,287.0h.01M175.0,286.6h.01M174.3,286.8h.01M173.4,287.3h.01M171.5,283.8h.01M171.0,288.4h.01M162.0,289.7h.01M173.0,287.2h.01M158.6,290.4h.01M162.8,291.1h.01M170.1,283.9h.01M174.1,287.1h.01M169.8,284.7h.01M164.8,280.0h.01M174.3,286.3h.01M168.4,281.8h.01M163.8,287.3h.01M174.4,286.8h.01M166.0,283.8h.01M153.4,290.4h.01M170.8,285.4h.01M173.4,287.0h.01M163.8,279.8h.01M160.5,290.1h.01M167.6,288.3h.01M174.0,285.7h.01M158.1,282.2h.01M162.4,284.5h.01M163.8,287.4h.01M174.5,285.5h.01M169.1,289.1h.01M172.7,285.0h.01M174.9,286.9h.01M166.9,290.7h.01M174.8,286.4h.01M174.9,286.4h.01M167.5,288.9h.01M171.7,283.4h.01M174.4,286.6h.01M173.3,286.2h.01M172.0,287.4h.01M175.1,286.1h.01M170.2,282.9h.01M170.8,288.4h.01M171.9,287.6h.01M169.4,288.7h.01M173.5,285.4h.01M163.4,281.0h.01M174.5,286.5h.01M173.8,287.3h.01M159.5,289.8h.01M170.5,285.6h.01M158.0,291.5h.01M158.2,282.0h.01M157.0,287.9h.01M171.9,288.3h.01M151.0,295.6h.01M160.7,288.7h.01M175.3,286.5h.01M170.4,287.4h.01M171.6,284.1h.01M171.1,288.7h.01M165.7,288.8h.01M173.2,287.1h.01M148.7,292.5h.01M169.8,284.5h.01M173.2,286.9h.01M160.7,283.3h.01M168.9,284.8h.01M168.8,280.6h.01M168.3,289.1h.01M173.3,287.4h.01M173.9,286.9h.01M157.9,278.6h.01M164.0,280.3h.01M173.0,288.0h.01M170.3,283.2h.01M166.1,289.0h.01M172.2,286.2h.01M162.1,285.5h.01M164.8,282.9h.01M171.5,283.1h.01M159.5,279.4h.01M170.3,285.4h.01M165.6,290.1h.01M151.7,284.1h.01M174.2,286.1h.01M172.9,285.8h.01M170.0,283.3h.01M169.7,284.4h.01M161.0,284.3h.01M168.7,289.2h.01M173.5,285.7h.01M171.2,285.5h.01M171.0,288.7h.01M167.2,281.0h.01M172.0,287.6h.01M136.0,290.4h.01M171.8,284.6h.01M160.4,277.6h.01M172.5,288.1h.01M174.5,286.8h.01M141.4,297.5h.01M166.6,287.3h.01M170.5,288.3h.01M168.5,290.3h.01M174.3,287.3h.01M161.7,282.5h.01M164.2,285.6h.01M168.0,283.8h.01M172.5,288.0h.01M171.8,287.7h.01M174.9,286.7h.01M169.9,284.3h.01M162.3,288.7h.01M170.1,285.0h.01M171.2,284.0h.01M171.9,287.4h.01M173.1,284.9h.01M168.8,284.0h.01M174.0,287.2h.01M164.2,289.1h.01M170.5,288.3h.01M169.0,284.1h.01M169.9,287.5h.01M157.5,293.2h.01M167.5,281.4h.01M166.7,280.0h.01M166.2,290.0h.01M164.5,278.2h.01M156.0,280.1h.01M172.5,287.5h.01M168.5,283.0h.01M173.6,285.1h.01M169.7,282.5h.01M169.4,287.4h.01M171.7,287.7h.01M163.7,281.5h.01M171.2,287.2h.01M163.8,281.5h.01M169.8,288.2h.01M174.2,285.9h.01M152.2,289.1h.01M174.2,286.9h.01M165.5,290.7h.01M174.8,286.2h.01M174.7,286.6h.01M163.3,288.5h.01M159.1,288.5h.01M173.8,286.0h.01M173.8,286.1h.01M145.2,269.7h.01M163.2,290.0h.01M175.5,286.6h.01M174.7,286.7h.01M173.9,284.9h.01M169.5,287.8h.01M175.3,286.4h.01M169.9,287.6h.01M166.1,289.2h.01M172.0,283.8h.01M146.0,290.4h.01M168.7,286.3h.01M149.1,293.9h.01M171.8,286.1h.01M172.7,285.7h.01M170.4,287.8h.01M169.3,282.0h.01M156.5,280.9h.01M152.2,288.4h.01M174.1,285.5h.01M169.9,283.8h.01M167.8,288.6h.01M166.4,287.4h.01M164.8,280.1h.01M163.8,283.5h.01M163.9,289.6h.01M165.2,285.4h.01M175.3,286.7h.01M174.1,287.2h.01M147.9,270.6h.01M167.8,288.6h.01M175.4,286.5h.01M172.7,285.6h.01M174.8,287.1h.01M167.9,281.4h.01M161.8,282.4h.01M150.8,288.5h.01M170.1,289.2h.01M173.2,287.1h.01M160.2,276.7h.01M173.8,286.5h.01M161.9,280.7h.01M171.2,284.6h.01M171.9,284.7h.01M174.2,287.0h.01M167.4,282.3h.01M172.1,284.7h.01M166.8,289.3h.01M170.5,282.1h.01M167.7,290.4h.01M158.2,289.5h.01M173.2,287.5h.01M169.4,283.0h.01M175.3,286.7h.01M168.6,280.6h.01M169.8,283.8h.01M175.0,286.7h.01M145.3,280.0h.01M167.2,280.5h.01M154.2,290.2h.01M171.9,285.6h.01M158.0,278.9h.01M164.7,291.5h.01M167.1,279.9h.01M168.9,282.6h.01M162.8,287.4h.01M173.6,286.3h.01M172.2,285.7h.01M169.7,288.3h.01M173.4,285.7h.01M172.0,287.4h.01M149.6,291.1h.01M172.3,287.7h.01M168.1,281.4h.01M170.4,282.5h.01M173.8,287.0h.01M173.9,287.4h.01M166.2,280.2h.01M172.7,284.8h.01M166.9,282.7h.01M164.8,284.5h.01M151.0,274.0h.01M167.3,280.3h.01M171.4,287.1h.01M161.7,278.6h.01M150.6,272.1h.01M170.3,285.9h.01M174.6,286.5h.01M172.3,284.2h.01M152.5,289.0h.01M170.4,284.8h.01M164.7,285.1h.01M170.0,288.3h.01M175.2,286.8h.01M168.9,289.8h.01M174.3,286.8h.01M175.0,286.2h.01M167.2,284.2h.01M173.8,285.8h.01M162.1,292.7h.01M173.0,287.7h.01M133.6,270.9h.01M166.8,290.3h.01M166.2,289.2h.01M170.9,289.1h.01M167.0,285.0h.01M172.2,284.3h.01M154.5,273.7h.01M172.3,288.1h.01M172.5,288.1h.01M171.8,287.8h.01M168.7,287.9h.01M163.4,291.6h.01M171.3,284.9h.01M174.9,286.7h.01M166.3,281.2h.01M167.5,287.4h.01M168.0,282.0h.01M162.5,291.4h.01M168.1,289.2h.01M167.4,281.0h.01M169.7,287.5h.01M164.1,288.5h.01M171.8,283.6h.01M171.2,287.1h.01M170.8,284.1h.01M174.5,286.9h.01M172.9,287.3h.01M138.1,291.0h.01M172.8,284.6h.01M169.2,287.8h.01M171.5,288.4h.01M173.8,285.8h.01M173.5,286.0h.01M153.1,273.7h.01M166.2,279.4h.01M170.9,282.9h.01M170.0,287.1h.01M172.0,287.9h.01M167.4,283.1h.01M168.8,288.3h.01M175.1,286.8h.01M157.7,290.0h.01M167.4,289.4h.01M165.7,281.1h.01M174.4,286.8h.01M165.3,279.3h.01M164.0,279.4h.01M166.0,282.2h.01M164.7,288.4h.01M160.6,291.5h.01M174.8,286.3h.01M168.5,288.8h.01M173.1,286.9h.01M162.3,291.7h.01M167.2,282.9h.01M167.9,280.3h.01M173.9,285.3h.01M169.9,288.3h.01M173.1,285.1h.01M165.8,279.5h.01M166.6,280.1h.01M168.7,282.7h.01M163.4,285.8h.01M168.1,281.7h.01M166.3,288.6h.01M166.5,279.6h.01M159.5,291.2h.01M172.6,287.5h.01M167.9,282.6h.01M167.1,289.0h.01M167.2,287.9h.01M168.4,282.3h.01M172.5,287.5h.01M171.7,288.1h.01M163.7,280.5h.01M165.1,289.0h.01M174.2,286.2h.01M169.8,284.5h.01M175.1,286.5h.01M166.2,280.9h.01M173.7,284.8h.01M170.3,285.1h.01M162.8,285.0h.01M174.8,286.8h.01M158.7,290.5h.01M173.9,286.5h.01M171.5,282.9h.01M173.0,288.3h.01M169.3,284.3h.01M164.8,284.0h.01M172.8,288.0h.01M169.7,281.9h.01M174.7,286.8h.01M173.3,286.9h.01M172.9,285.1h.01M163.6,280.6h.01M170.2,288.6h.01M158.3,277.0h.01M173.9,287.1h.01M163.4,291.2h.01M156.0,274.4h.01M159.4,287.4h.01M175.1,286.8h.01M170.5,285.7h.01M173.4,285.2h.01M172.3,284.1h.01M151.6,291.7h.01M174.4,286.6h.01M170.0,283.9h.01M160.9,290.5h.01M166.4,285.6h.01M170.3,288.3h.01M170.8,283.5h.01M164.6,284.1h.01M159.8,278.2h.01M173.6,286.9h.01M174.2,287.1h.01M163.4,278.9h.01M174.1,286.0h.01M149.7,272.3h.01M153.2,276.0h.01M164.0,277.9h.01M134.4,297.2h.01M173.8,285.6h.01M172.2,284.7h.01M175.3,286.7h.01M168.2,282.3h.01M160.8,287.9h.01M161.3,284.9h.01M155.2,293.9h.01M174.2,285.7h.01M156.8,291.6h.01M172.6,287.5h.01M171.3,284.6h.01M163.3,288.3h.01M169.5,289.8h.01M141.7,288.9h.01M156.8,289.3h.01M171.1,283.0h.01M160.2,275.6h.01M166.8,288.3h.01M173.6,287.3h.01M173.6,285.9h.01M164.9,279.0h.01M172.4,284.0h.01M146.3,290.3h.01M170.3,282.3h.01M166.0,289.7h.01M172.4,287.8h.01M155.6,293.7h.01M153.2,291.1h.01M170.8,287.9h.01M172.6,287.7h.01M160.7,283.6h.01M173.6,287.4h.01M173.1,285.9h.01M167.1,289.6h.01M173.0,285.5h.01M169.1,288.1h.01M168.2,284.7h.01M174.6,287.0h.01M164.8,288.4h.01M167.4,290.0h.01M174.4,287.3h.01M175.0,286.5h.01M169.3,289.4h.01M173.2,285.2h.01M173.6,284.6h.01M166.0,289.3h.01M175.2,286.7h.01M155.2,293.4h.01M168.7,283.8h.01M149.0,289.2h.01M167.5,290.3h.01M173.7,287.1h.01M173.2,286.1h.01M157.1,288.1h.01M169.4,285.1h.01M161.6,291.3h.01M168.0,287.5h.01M172.9,287.6h.01M169.9,288.0h.01M164.0,290.4h.01M164.1,288.9h.01M174.5,286.5h.01M174.7,286.3h.01M174.5,287.0h.01M169.8,288.5h.01M168.4,289.5h.01M170.4,283.7h.01M174.5,286.2h.01M167.7,282.0h.01M170.0,289.4h.01M160.3,289.9h.01M168.4,284.1h.01M171.0,285.8h.01M172.3,284.9h.01M174.1,286.0h.01M173.7,285.8h.01M172.1,287.8h.01M169.4,282.6h.01M161.8,291.9h.01M167.8,283.8h.01M172.9,286.9h.01M167.6,282.1h.01M137.6,294.3h.01M144.9,293.5h.01M174.0,286.1h.01M174.1,287.2h.01M170.0,287.1h.01M171.4,288.5h.01M172.6,284.6h.01M155.9,290.8h.01M153.9,291.9h.01M168.8,288.1h.01M166.1,281.6h.01M164.9,281.4h.01M166.7,287.9h.01M160.8,283.2h.01M173.1,285.7h.01M172.2,284.5h.01M161.6,288.8h.01M168.2,288.4h.01M165.6,288.5h.01M171.7,288.2h.01M164.0,279.4h.01M169.3,288.9h.01M174.6,287.0h.01M175.6,286.8h.01M171.3,287.5h.01M172.8,285.3h.01M171.6,284.0h.01M150.5,290.9h.01M170.9,283.5h.01M173.4,285.3h.01M168.0,288.3h.01M169.3,287.7h.01M165.7,288.9h.01M172.5,287.1h.01M174.3,286.3h.01M159.7,288.3h.01M171.3,285.1h.01M164.7,284.5h.01M160.7,291.6h.01M159.0,291.9h.01M173.5,287.3h.01M169.4,283.6h.01M170.2,283.6h.01M171.8,287.2h.01M168.8,288.8h.01M174.0,286.1h.01M160.7,288.9h.01M172.2,284.6h.01M167.0,285.7h.01M171.0,288.7h.01M167.6,280.5h.01M150.4,292.6h.01M166.5,287.6h.01M173.8,285.1h.01M173.9,286.8h.01M167.0,279.9h.01M166.2,280.1h.01M173.4,285.2h.01M175.9,286.7h.01M171.1,287.4h.01M168.3,288.4h.01M172.7,285.2h.01M169.0,284.8h.01M174.1,286.9h.01M169.0,288.1h.01M157.4,293.4h.01M172.3,286.1h.01M142.3,290.2h.01M167.7,288.8h.01M168.4,289.0h.01M174.5,285.9h.01M171.5,288.9h.01M174.7,286.4h.01M171.6,285.3h.01M162.0,290.6h.01M171.1,288.4h.01M164.4,280.4h.01M173.6,284.9h.01M171.6,284.6h.01M172.9,287.0h.01M171.5,287.1h.01M169.8,282.8h.01M174.9,286.8h.01M163.4,290.7h.01M170.8,282.1h.01M161.8,287.9h.01M173.7,286.2h.01M174.1,286.3h.01M173.5,287.1h.01M174.8,286.7h.01M174.0,286.3h.01M161.1,291.7h.01M172.2,285.6h.01M173.2,284.8h.01M171.1,288.4h.01M171.1,285.4h.01M167.7,281.4h.01M174.0,287.5h.01M159.6,289.8h.01M163.1,289.0h.01M174.5,285.9h.01M174.3,287.0h.01M173.4,287.0h.01M169.5,282.2h.01M168.3,288.5h.01M174.0,285.8h.01M172.9,288.3h.01M173.1,285.2h.01M173.9,286.1h.01M168.1,282.5h.01M172.0,288.0h.01M163.1,277.7h.01M169.7,289.5h.01M169.5,282.2h.01M172.3,283.4h.01M168.3,281.9h.01M173.9,287.1h.01M144.7,273.2h.01M174.4,286.8h.01M167.5,282.1h.01M162.0,292.3h.01M165.2,290.2h.01M166.2,282.1h.01M175.2,286.6h.01M167.5,281.5h.01M152.0,281.0h.01M170.5,284.2h.01M169.4,288.8h.01M160.2,292.9h.01M173.1,285.1h.01M173.7,285.2h.01M168.6,287.7h.01M166.3,283.7h.01M161.4,279.5h.01M174.0,286.2h.01M170.1,284.9h.01M169.0,283.5h.01M173.8,286.9h.01M170.6,283.6h.01M172.2,285.7h.01M167.8,287.5h.01M162.9,284.2h.01M171.6,283.6h.01M170.5,282.0h.01M173.4,286.3h.01M175.1,286.9h.01M163.7,277.9h.01M153.6,275.8h.01M172.6,285.2h.01M158.5,280.6h.01M169.6,288.4h.01M171.8,284.2h.01M172.0,284.8h.01M168.6,285.1h.01M170.6,288.3h.01M171.4,283.7h.01M171.9,287.4h.01M172.6,287.5h.01M174.7,286.2h.01M174.5,286.4h.01M166.4,290.6h.01M165.9,281.4h.01M171.7,283.5h.01M170.3,283.7h.01M170.9,288.2h.01M172.3,288.1h.01M168.6,287.8h.01M171.9,288.1h.01M169.8,282.8h.01M168.8,289.4h.01M126.0,293.7h.01M163.7,288.7h.01M174.2,286.9h.01M174.1,287.2h.01M173.5,287.6h.01M163.3,279.9h.01M163.6,284.9h.01M172.8,284.1h.01M173.3,287.3h.01M166.4,288.3h.01M163.0,290.2h.01M170.0,283.8h.01M151.4,273.6h.01M174.8,286.7h.01M174.4,286.0h.01M170.6,284.3h.01M167.9,280.9h.01M174.6,287.4h.01M172.6,288.3h.01M171.4,282.6h.01M160.4,277.1h.01M172.7,285.8h.01M171.0,288.7h.01M170.2,289.1h.01M154.6,277.8h.01M170.7,287.3h.01M159.2,284.4h.01M169.4,283.5h.01M171.0,288.1h.01M159.4,289.4h.01M173.2,287.6h.01M174.2,285.9h.01M169.7,284.3h.01M166.1,283.0h.01M174.7,286.9h.01M174.1,286.9h.01M170.3,287.6h.01M164.8,283.9h.01M174.4,286.8h.01M173.2,285.3h.01M172.6,288.3h.01M173.9,287.1h.01M173.7,287.3h.01M173.5,287.0h.01M174.2,286.5h.01M166.7,281.2h.01M174.1,287.0h.01M174.3,286.9h.01M175.1,286.3h.01M174.4,286.3h.01M172.5,287.6h.01M158.2,291.9h.01M163.5,289.4h.01M174.5,285.4h.01M171.3,288.9h.01M163.9,288.1h.01M170.0,287.2h.01M170.6,288.1h.01M170.1,288.3h.01M141.9,288.1h.01M174.1,286.5h.01M173.2,286.3h.01M171.3,288.9h.01M168.4,288.1h.01M174.1,287.6h.01M160.4,277.9h.01M173.1,285.9h.01M164.7,290.4h.01M168.2,288.7h.01M170.0,282.5h.01M171.7,287.0h.01M171.6,284.6h.01M170.7,287.3h.01M149.7,276.0h.01M172.2,285.2h.01M143.7,291.1h.01M174.0,286.2h.01M164.9,278.0h.01M171.6,284.4h.01M166.2,284.8h.01M167.3,284.7h.01M174.5,286.3h.01M135.6,297.6h.01M168.7,283.9h.01M171.0,287.3h.01M172.5,288.3h.01M172.9,287.1h.01M175.1,286.0h.01M161.7,290.5h.01M173.6,285.9h.01M172.5,285.4h.01M164.7,292.1h.01M175.2,286.7h.01M170.2,285.9h.01M172.5,285.1h.01M175.0,287.0h.01M173.5,285.5h.01M154.1,285.2h.01M169.8,286.2h.01M174.7,286.7h.01M174.8,286.0h.01M170.7,288.6h.01M173.0,285.7h.01M170.4,282.0h.01M175.0,286.8h.01M165.5,289.2h.01M163.1,290.8h.01M158.1,277.8h.01M169.9,289.4h.01M174.4,286.5h.01M170.0,287.9h.01M167.0,281.4h.01M173.6,286.4h.01M173.1,287.4h.01M173.5,287.0h.01M162.8,291.8h.01M171.2,287.8h.01M165.4,283.6h.01M173.9,285.5h.01M169.5,288.2h.01M159.8,283.3h.01M171.2,287.5h.01M170.3,287.0h.01M169.4,284.6h.01M174.2,286.0h.01M174.9,286.4h.01M169.9,284.0h.01M174.2,286.5h.01M162.5,280.3h.01M137.0,295.9h.01M163.8,279.5h.01M167.5,288.8h.01M173.9,285.7h.01M174.2,286.3h.01M165.1,289.2h.01M174.2,286.7h.01M164.1,289.7h.01M169.2,282.3h.01M123.2,299.3h.01M168.7,288.1h.01M147.0,276.8h.01M174.1,286.1h.01M164.3,280.8h.01M152.2,278.3h.01M162.1,283.1h.01M172.4,284.0h.01M170.0,284.0h.01M161.4,283.9h.01M166.4,283.3h.01M173.6,285.5h.01M171.7,284.6h.01M169.7,287.8h.01M169.2,284.2h.01M173.3,287.2h.01M168.7,281.2h.01M174.6,286.9h.01M160.3,276.1h.01M168.4,283.9h.01M162.7,278.9h.01M166.4,289.5h.01M159.3,277.9h.01M167.2,287.5h.01M171.2,287.3h.01M173.6,285.4h.01M152.8,274.9h.01M157.4,279.9h.01M170.9,285.9h.01M162.7,291.1h.01M157.5,284.2h.01M171.3,287.5h.01M172.4,284.6h.01M175.0,286.6h.01M174.7,286.8h.01M168.4,283.4h.01M158.3,289.0h.01M167.2,283.1h.01M172.7,284.3h.01M173.2,285.2h.01M173.0,286.4h.01M164.1,291.1h.01M167.4,288.0h.01M173.2,285.1h.01M162.0,290.5h.01M174.4,287.5h.01M168.5,281.5h.01M158.1,289.2h.01M172.5,284.5h.01M159.4,292.2h.01M154.9,277.5h.01M174.1,286.3h.01M165.0,280.3h.01M172.4,287.9h.01M170.2,282.8h.01M171.7,288.0h.01M165.2,288.1h.01M170.1,281.8h.01M174.5,286.2h.01M172.9,287.8h.01M169.8,284.3h.01M158.2,276.9h.01M173.0,285.7h.01M173.4,286.9h.01M135.4,288.6h.01M121.8,291.5h.01M168.0,289.0h.01M170.6,283.5h.01M168.8,289.2h.01M172.1,287.5h.01M174.7,286.4h.01M152.9,289.0h.01M173.4,285.0h.01M161.6,290.5h.01M174.0,287.1h.01M173.2,288.1h.01M167.5,290.6h.01M160.9,287.6h.01M172.2,284.7h.01M169.4,282.5h.01M173.2,286.2h.01M165.0,287.7h.01M169.5,285.3h.01M173.3,284.4h.01M171.2,284.5h.01M167.1,290.5h.01M174.5,286.5h.01M170.3,287.4h.01M174.7,286.7h.01M173.2,287.0h.01M171.5,287.8h.01M166.0,282.1h.01M171.2,284.4h.01M173.0,285.0h.01M172.8,284.9h.01M174.5,286.2h.01M173.5,285.8h.01M170.8,285.9h.01M163.8,278.4h.01M147.9,278.7h.01M167.2,289.1h.01M173.6,287.0h.01M168.6,281.6h.01M171.5,283.9h.01M172.5,284.4h.01M173.3,285.2h.01M169.7,285.3h.01M173.6,285.3h.01M174.8,286.4h.01M164.6,289.7h.01M174.5,285.7h.01M171.6,288.1h.01M146.6,280.0h.01M171.1,286.1h.01M175.4,286.4h.01M174.4,286.1h.01M173.0,285.2h.01M172.4,285.8h.01M166.6,289.3h.01M172.0,284.2h.01M172.8,284.7h.01M152.4,281.1h.01M162.3,287.3h.01M172.0,287.2h.01M169.0,289.4h.01M173.7,285.5h.01M174.4,286.8h.01M170.7,287.1h.01M167.6,282.7h.01M168.2,289.4h.01M174.1,287.5h.01M160.9,280.3h.01M157.8,282.8h.01M158.1,291.2h.01M174.8,286.1h.01M172.1,284.4h.01M170.7,288.2h.01M165.8,288.4h.01M173.9,286.2h.01M170.9,283.9h.01M172.6,287.3h.01M174.9,287.1h.01M171.7,284.6h.01M170.5,288.1h.01M166.1,280.9h.01M160.1,290.7h.01M164.4,283.8h.01M170.9,287.7h.01M172.4,285.8h.01M163.6,288.6h.01M174.2,286.2h.01M165.8,282.3h.01M152.0,279.2h.01M173.7,286.2h.01M160.7,278.4h.01M161.3,282.5h.01M157.6,292.7h.01M162.3,284.6h.01M161.5,291.1h.01M147.9,274.5h.01M157.6,287.9h.01M165.8,288.9h.01M170.8,287.7h.01M175.0,286.8h.01M172.4,285.8h.01M166.5,282.8h.01M170.3,283.3h.01M162.6,291.4h.01M167.5,282.7h.01M173.9,287.1h.01M133.0,282.3h.01M171.1,287.7h.01M169.3,281.9h.01M165.0,289.9h.01M174.8,287.1h.01M172.1,285.7h.01M165.0,289.0h.01M172.6,283.9h.01M174.5,286.5h.01M152.5,284.3h.01M152.8,282.2h.01M173.9,287.2h.01M158.4,279.5h.01M170.2,285.8h.01M174.4,286.4h.01M170.9,287.7h.01M161.9,290.6h.01M169.1,284.4h.01M163.7,289.2h.01M164.7,290.3h.01M170.2,288.4h.01M162.9,277.1h.01M170.4,283.6h.01M163.9,278.1h.01M173.3,287.1h.01M172.4,287.9h.01M173.2,285.9h.01M156.6,292.2h.01M174.6,286.6h.01M155.8,277.1h.01M172.2,287.9h.01M173.4,287.5h.01M173.8,285.6h.01M172.5,285.5h.01M162.4,282.8h.01M162.2,290.7h.01M172.8,285.2h.01M171.1,289.1h.01M171.8,288.5h.01M155.8,278.9h.01M169.5,289.7h.01M170.5,283.5h.01M160.8,288.6h.01M163.3,280.3h.01M174.5,285.6h.01M174.7,286.2h.01M173.8,285.1h.01M165.4,279.7h.01M172.8,286.4h.01M167.4,284.2h.01M161.4,281.0h.01M173.7,286.2h.01M174.2,286.8h.01M173.7,286.9h.01M174.7,286.5h.01M167.2,290.3h.01M171.4,288.2h.01M164.3,283.3h.01M173.6,285.3h.01M169.9,288.9h.01M172.3,283.8h.01M166.4,283.8h.01M152.5,293.8h.01M174.8,286.8h.01M169.2,289.7h.01M169.3,285.6h.01M174.1,286.6h.01M174.6,286.6h.01M165.3,285.5h.01M159.5,291.7h.01M164.5,288.4h.01M154.0,276.3h.01M174.3,286.6h.01M165.6,283.0h.01M173.7,286.3h.01M172.4,287.3h.01M161.5,289.9h.01M161.5,281.0h.01M148.7,294.5h.01M163.4,288.8h.01M171.1,283.6h.01M152.9,292.6h.01M168.8,288.2h.01M151.5,291.9h.01M155.8,278.7h.01M172.4,285.7h.01M171.8,283.8h.01M173.6,287.3h.01M170.9,289.3h.01M167.4,281.4h.01M165.4,290.4h.01M169.7,284.2h.01M169.5,288.4h.01M165.6,288.4h.01M174.7,286.7h.01M174.9,287.0h.01M175.1,286.7h.01M173.0,285.6h.01M167.8,290.3h.01M173.4,287.4h.01M159.5,281.0h.01M168.5,281.1h.01M171.2,285.5h.01M168.3,281.3h.01M171.9,285.2h.01M172.7,284.2h.01M174.6,286.4h.01M156.6,275.1h.01M157.9,289.3h.01M174.4,287.2h.01M160.5,285.2h.01M172.1,287.2h.01M157.3,292.2h.01M166.6,282.4h.01M170.6,288.5h.01M173.1,286.3h.01M152.0,277.9h.01M137.6,267.1h.01M171.8,287.6h.01M175.1,286.7h.01M146.3,292.8h.01M130.4,299.2h.01M167.6,280.4h.01M173.4,287.3h.01M173.4,285.4h.01M166.8,279.3h.01M173.4,286.9h.01M172.5,284.5h.01M171.1,288.8h.01M173.7,286.1h.01M164.1,278.6h.01M169.3,287.7h.01M163.9,282.2h.01M168.0,289.4h.01M158.3,281.3h.01M167.0,281.7h.01M161.7,289.2h.01M174.8,286.7h.01M161.4,282.8h.01M173.1,286.0h.01M172.7,287.1h.01M166.3,282.8h.01M147.3,292.8h.01M168.0,289.5h.01M168.5,287.3h.01M175.3,286.7h.01M174.6,286.9h.01M172.4,284.2h.01M168.8,287.6h.01M174.8,286.8h.01M165.7,279.3h.01M172.2,284.5h.01M170.7,282.9h.01M170.2,284.4h.01M174.7,286.8h.01M172.9,287.0h.01M172.9,286.0h.01M171.7,287.3h.01M150.5,289.8h.01M164.2,285.7h.01M130.6,273.2h.01M174.0,286.1h.01M166.9,289.5h.01M166.8,288.5h.01M143.9,277.5h.01M174.0,286.8h.01M171.2,288.9h.01M169.6,287.9h.01M169.9,281.9h.01M168.0,281.2h.01M171.5,284.6h.01M174.7,286.9h.01M156.1,275.9h.01M173.4,285.6h.01M162.6,289.7h.01M169.0,284.8h.01M161.0,289.2h.01M123.6,268.0h.01M173.4,286.1h.01M172.1,284.0h.01M174.6,286.6h.01M169.6,282.0h.01M174.0,286.1h.01M172.1,287.3h.01M174.1,285.7h.01M170.7,287.3h.01M173.7,286.0h.01M159.7,288.3h.01M173.3,287.1h.01M145.1,292.2h.01M170.6,288.3h.01M143.7,295.9h.01M165.8,282.1h.01M165.7,279.3h.01M173.4,286.1h.01M174.7,286.4h.01M166.2,289.0h.01M166.6,280.1h.01M172.1,283.9h.01M172.4,287.3h.01M171.1,284.6h.01M168.2,288.3h.01M170.6,284.2h.01M146.1,277.6h.01M172.1,283.9h.01M175.3,286.6h.01M171.9,287.1h.01M150.2,272.9h.01M166.0,279.0h.01M133.8,288.4h.01M170.1,289.8h.01M172.1,285.4h.01M172.5,285.2h.01M164.4,281.6h.01M172.5,285.4h.01M166.3,281.5h.01M173.2,286.2h.01M167.0,288.5h.01M161.5,284.8h.01M174.9,286.8h.01M166.7,290.1h.01M171.0,286.0h.01M172.9,286.4h.01M175.1,286.2h.01M127.3,283.7h.01M171.6,283.6h.01M162.3,290.7h.01M172.7,285.6h.01M164.7,280.7h.01M172.8,287.5h.01M169.5,282.2h.01M141.9,274.1h.01M171.0,285.6h.01M173.5,285.8h.01M168.1,288.2h.01M174.2,286.0h.01M174.4,286.1h.01M167.3,289.4h.01M175.2,286.6h.01M171.2,288.4h.01M169.7,282.5h.01M175.0,286.8h.01M173.8,287.4h.01M174.5,286.4h.01M145.9,294.5h.01M157.6,275.4h.01M172.3,288.3h.01M144.0,291.8h.01M172.6,285.1h.01M175.3,286.8h.01M170.8,284.1h.01M168.9,281.2h.01M168.8,289.2h.01M171.8,287.8h.01M173.8,287.1h.01M151.0,291.8h.01M156.3,290.6h.01M171.5,288.5h.01M173.4,287.5h.01M151.4,275.2h.01M163.9,283.4h.01M171.0,285.4h.01M175.5,286.4h.01M172.3,284.0h.01M170.3,288.4h.01M174.7,286.8h.01M175.1,286.8h.01M167.3,282.4h.01M164.7,282.8h.01M162.5,281.5h.01M171.1,288.2h.01M166.2,285.4h.01M167.1,283.2h.01M169.0,288.9h.01M165.7,283.5h.01M174.0,287.2h.01M161.2,277.0h.01M173.0,284.8h.01M172.2,284.4h.01M161.7,278.4h.01M166.4,289.5h.01M174.0,286.3h.01M166.9,281.7h.01M172.4,287.2h.01M165.4,281.7h.01M174.9,286.8h.01M160.4,292.9h.01M170.7,288.1h.01M157.9,290.8h.01M165.3,287.2h.01M173.4,285.9h.01M165.3,290.7h.01M166.6,281.9h.01M174.3,286.4h.01M172.1,284.3h.01M158.5,274.6h.01M157.6,280.7h.01M139.8,275.0h.01M174.4,286.7h.01M173.8,285.4h.01M170.3,284.9h.01M162.6,280.0h.01M173.1,285.3h.01M151.2,287.8h.01M172.5,285.4h.01M168.8,287.4h.01M168.5,282.5h.01M171.2,285.5h.01M159.6,287.9h.01M173.1,284.9h.01M158.2,290.0h.01M168.2,282.6h.01M166.3,285.6h.01M170.9,283.3h.01M163.9,291.0h.01M173.2,284.7h.01M173.0,287.4h.01M172.9,284.2h.01M174.8,286.8h.01M169.9,284.5h.01M173.2,284.8h.01M173.0,287.5h.01M167.3,290.7h.01M168.6,283.4h.01M174.1,285.2h.01M174.4,286.6h.01M167.8,288.3h.01M138.5,271.4h.01M149.6,291.1h.01M174.3,287.0h.01M152.9,289.1h.01M162.3,277.4h.01M168.8,281.8h.01M172.6,286.1h.01M167.0,283.1h.01M163.9,282.9h.01M171.7,287.8h.01M164.7,280.8h.01M171.8,287.2h.01M175.0,286.7h.01M174.6,286.7h.01M158.3,284.2h.01M170.1,284.4h.01M166.6,288.9h.01M149.4,296.0h.01M174.0,286.9h.01M174.1,286.4h.01M171.7,285.0h.01M171.4,287.5h.01M171.5,287.3h.01M166.7,286.0h.01M171.3,287.8h.01M172.7,284.8h.01M165.8,291.1h.01M173.8,285.9h.01M172.8,287.3h.01M130.8,293.6h.01M156.0,276.6h.01M165.2,279.4h.01M173.7,285.8h.01M175.4,286.5h.01M171.2,283.3h.01M173.5,285.1h.01M164.9,283.3h.01M162.3,285.1h.01M174.4,285.8h.01M168.7,289.4h.01M169.3,283.5h.01M173.5,287.6h.01M123.4,276.1h.01M160.3,279.8h.01M137.4,296.0h.01M173.3,286.0h.01M175.1,286.2h.01M173.2,284.1h.01M147.9,293.6h.01M169.1,285.1h.01M157.6,278.1h.01M175.3,286.7h.01M169.3,280.9h.01M173.1,287.5h.01M174.2,286.1h.01M165.9,289.8h.01M174.0,287.5h.01M148.9,277.8h.01M171.8,283.6h.01M172.2,288.3h.01M174.1,286.3h.01M175.2,286.7h.01M174.1,285.7h.01M166.0,280.9h.01M152.9,289.5h.01M141.8,279.7h.01M156.5,291.3h.01M171.6,283.9h.01M171.6,284.0h.01M162.8,281.4h.01M173.6,285.1h.01M162.5,280.0h.01M158.1,293.0h.01M169.4,289.5h.01M168.5,281.9h.01M175.0,286.8h.01M173.4,285.7h.01M171.9,284.8h.01M160.3,282.4h.01M167.3,288.6h.01M161.7,281.0h.01M175.0,286.8h.01M174.0,285.7h.01M166.9,288.9h.01M173.2,285.0h.01M171.9,284.0h.01M170.8,289.2h.01M173.8,286.5h.01M173.4,287.3h.01M157.6,291.3h.01M175.7,286.5h.01M172.9,285.4h.01M173.9,285.5h.01M173.6,285.3h.01M158.4,274.7h.01M175.0,286.6h.01M173.8,287.3h.01M157.2,289.4h.01M170.0,287.2h.01M173.3,285.3h.01M174.0,285.6h.01M174.0,287.1h.01M171.2,288.2h.01M160.3,289.1h.01M172.4,286.3h.01M159.4,278.0h.01M174.2,287.3h.01M142.4,269.9h.01M169.6,283.2h.01M172.0,287.3h.01M163.7,280.0h.01M173.3,287.0h.01M165.6,282.4h.01M174.7,286.3h.01M174.6,285.8h.01M165.6,289.9h.01M169.2,284.6h.01M172.5,287.0h.01M168.3,282.6h.01M167.1,290.4h.01M172.3,284.0h.01M172.8,286.0h.01M173.7,286.3h.01M174.8,286.7h.01M158.3,280.0h.01M161.1,290.1h.01M161.2,278.7h.01M174.0,287.2h.01M175.4,286.8h.01M174.6,285.3h.01M173.7,285.8h.01M162.1,289.6h.01M172.6,287.7h.01M160.0,288.3h.01M158.7,276.1h.01M173.1,287.3h.01M173.3,285.3h.01M169.2,281.2h.01M172.3,287.8h.01M170.4,282.6h.01M170.1,282.9h.01M169.1,283.2h.01M169.9,282.7h.01M174.9,286.5h.01M170.8,288.0h.01M168.2,280.1h.01M159.9,288.1h.01M159.9,292.7h.01M169.5,287.9h.01M166.0,291.0h.01M173.6,285.6h.01M174.4,285.7h.01M173.8,285.8h.01M174.8,285.7h.01M167.6,282.9h.01M157.1,289.8h.01M165.9,287.5h.01M173.6,286.9h.01M173.7,286.5h.01M173.7,287.4h.01M165.3,288.6h.01M169.3,283.2h.01M136.8,277.8h.01M167.4,281.0h.01M167.6,283.9h.01M171.6,288.5h.01M166.2,281.8h.01M152.1,280.3h.01M174.0,285.3h.01M165.1,287.7h.01M164.9,282.5h.01M157.4,291.8h.01M171.5,284.0h.01M170.1,287.5h.01M165.3,290.3h.01M167.8,287.3h.01M166.3,287.3h.01M151.1,281.0h.01M171.9,284.3h.01M169.9,283.6h.01M169.6,283.1h.01M174.7,286.4h.01M171.4,287.0h.01M173.4,284.9h.01M173.7,285.4h.01M174.0,287.5h.01M173.0,287.7h.01M166.9,288.4h.01M174.3,286.3h.01M159.2,277.8h.01M166.8,288.4h.01M171.3,285.1h.01M167.4,290.0h.01M171.2,284.5h.01M172.4,285.9h.01M163.5,289.3h.01M155.1,292.5h.01M168.6,288.4h.01M158.3,289.2h.01M171.6,287.3h.01M174.1,286.5h.01M154.3,276.7h.01M173.9,285.6h.01M172.4,287.6h.01M162.7,277.1h.01M174.5,286.3h.01M161.5,281.4h.01M172.5,285.1h.01M171.7,284.2h.01M162.9,287.7h.01M169.4,287.6h.01M167.8,280.2h.01M172.8,284.1h.01M164.1,283.8h.01M169.8,284.5h.01M170.0,283.9h.01M168.3,281.7h.01M174.0,285.7h.01M170.9,282.9h.01M162.0,290.7h.01M167.6,285.3h.01M124.7,294.6h.01M168.6,289.1h.01M156.7,280.4h.01M173.1,287.3h.01M173.2,287.2h.01M175.4,286.6h.01M174.5,286.7h.01M171.6,284.4h.01M151.3,283.8h.01M174.5,286.2h.01M174.6,286.5h.01M170.7,288.3h.01M175.3,286.5h.01M167.3,281.1h.01M174.2,287.4h.01M173.6,286.3h.01M166.2,281.8h.01M162.0,288.7h.01M151.8,291.2h.01M170.4,288.4h.01M168.8,285.6h.01M170.0,288.6h.01M163.4,280.9h.01M166.5,288.0h.01M166.1,283.6h.01M171.4,284.5h.01M171.4,288.8h.01M169.2,287.9h.01M170.0,288.6h.01M163.7,278.0h.01M161.6,279.2h.01M173.5,286.0h.01M171.6,286.0h.01M173.1,285.6h.01M155.4,276.2h.01M167.9,284.0h.01M174.1,286.3h.01M172.7,287.9h.01M162.7,282.2h.01M127.2,289.5h.01M163.2,282.3h.01M174.6,286.0h.01M172.0,287.5h.01M171.6,283.7h.01M174.8,286.7h.01M173.7,285.8h.01M169.7,284.1h.01M173.8,284.9h.01M171.6,287.8h.01M163.2,289.0h.01M174.4,286.5h.01M171.8,288.6h.01M174.7,286.4h.01M148.5,290.3h.01M170.7,284.7h.01M172.8,285.7h.01M142.6,291.4h.01M171.6,282.8h.01M173.2,287.1h.01M174.1,286.9h.01M167.8,283.3h.01M160.2,290.5h.01M175.1,286.5h.01M173.1,287.7h.01M174.3,285.8h.01M166.6,280.0h.01M169.5,283.8h.01M174.3,286.0h.01M173.8,285.5h.01M173.8,286.8h.01M173.7,287.1h.01M145.8,293.0h.01M146.1,294.6h.01M155.1,282.4h.01M170.8,287.0h.01M174.2,286.9h.01M166.1,280.1h.01M165.0,282.0h.01M169.4,281.8h.01M163.8,281.5h.01M170.4,284.2h.01M172.0,284.9h.01M164.8,290.5h.01M170.7,284.6h.01M166.0,287.7h.01M165.9,281.0h.01M173.7,287.1h.01M170.6,287.2h.01M172.1,284.5h.01M171.8,288.1h.01M171.2,283.2h.01M170.4,282.7h.01M172.8,287.3h.01M173.3,285.3h.01M164.9,288.0h.01M172.8,285.2h.01M174.0,285.8h.01M174.3,287.2h.01M168.0,290.1h.01M164.2,287.7h.01M164.2,282.8h.01M155.9,287.6h.01M168.3,283.0h.01M174.5,286.9h.01M172.8,284.3h.01M168.6,287.6h.01M171.3,287.5h.01M174.4,285.7h.01M170.5,282.8h.01M174.8,285.8h.01M166.3,290.4h.01M173.1,286.4h.01M162.7,288.3h.01M171.2,287.5h.01M165.6,285.4h.01M169.2,290.0h.01M158.4,279.0h.01M172.7,285.1h.01M173.5,285.8h.01M158.9,290.9h.01M147.5,272.6h.01M173.2,287.2h.01M170.4,287.2h.01M171.6,287.9h.01M168.0,284.2h.01M166.4,289.4h.01M170.4,288.2h.01M165.1,281.0h.01M170.9,285.5h.01M152.4,290.6h.01M149.7,292.7h.01M155.0,277.2h.01M173.6,285.1h.01M163.6,292.1h.01M159.9,280.5h.01M168.4,290.4h.01M166.5,291.4h.01M171.8,283.2h.01M165.7,290.8h.01M159.1,291.0h.01M162.9,290.0h.01M173.5,287.2h.01M174.7,286.8h.01M175.2,286.8h.01M166.6,281.8h.01M173.1,284.5h.01M145.4,291.7h.01M170.0,282.2h.01M174.2,286.9h.01M167.2,289.6h.01M144.8,292.7h.01M175.1,287.0h.01M170.1,289.2h.01M167.3,288.3h.01M166.0,289.3h.01M172.4,288.4h.01M170.6,285.7h.01M171.7,285.5h.01M164.1,289.7h.01M137.5,276.2h.01M171.5,287.5h.01M168.2,283.7h.01M152.3,291.3h.01M137.0,269.0h.01M142.4,289.2h.01M172.3,287.5h.01M171.7,287.7h.01M174.8,286.3h.01M171.9,283.5h.01M174.1,286.8h.01M173.6,285.6h.01M175.2,286.7h.01M172.3,287.6h.01M167.8,289.2h.01M161.5,285.2h.01M173.9,287.3h.01M174.6,286.7h.01M173.2,286.3h.01M175.1,286.9h.01M162.9,291.0h.01M167.8,288.9h.01M169.5,283.3h.01M170.4,288.2h.01M173.3,287.5h.01M172.6,286.1h.01M174.3,286.8h.01M172.5,284.4h.01M167.5,288.6h.01M163.8,291.3h.01M172.7,287.8h.01M174.8,286.7h.01M172.5,285.0h.01M170.9,285.0h.01M170.8,287.5h.01M154.5,277.0h.01M169.6,283.8h.01M164.7,284.9h.01M168.8,287.4h.01M161.9,280.6h.01M164.2,289.3h.01M174.3,286.9h.01M175.5,286.8h.01M166.9,290.5h.01M172.4,287.2h.01M170.6,282.7h.01M174.8,286.6h.01M171.6,288.4h.01M170.9,287.6h.01M156.2,291.3h.01M174.2,287.0h.01M173.1,286.1h.01M174.6,286.4h.01M172.7,288.1h.01M150.2,292.0h.01M172.2,284.6h.01M168.3,280.6h.01M170.2,281.9h.01M173.5,285.6h.01M166.7,279.7h.01M163.5,277.7h.01M173.1,285.3h.01M173.8,286.3h.01M172.4,285.4h.01M174.0,286.1h.01M167.4,281.9h.01M173.8,285.3h.01M128.8,292.2h.01M166.4,288.3h.01M162.4,283.2h.01M170.6,283.6h.01M153.8,282.7h.01M166.2,291.5h.01M170.4,285.2h.01M167.1,288.2h.01M152.5,291.4h.01M135.2,293.9h.01M173.7,287.3h.01M158.3,281.7h.01M174.5,286.2h.01M170.9,284.8h.01M165.0,288.5h.01M170.0,287.7h.01M160.4,282.6h.01M170.8,285.6h.01M174.2,285.6h.01M155.8,282.4h.01M173.3,284.7h.01M164.9,284.1h.01M169.3,289.3h.01M170.7,284.4h.01M171.9,287.5h.01M167.9,282.7h.01M156.0,281.1h.01M166.0,281.6h.01M173.9,285.6h.01M158.7,291.0h.01M173.8,285.5h.01M168.6,286.0h.01M146.6,292.4h.01M140.7,292.5h.01M168.2,284.0h.01M155.8,279.8h.01M159.5,292.6h.01M153.6,279.7h.01M155.4,274.2h.01M174.1,286.1h.01M174.6,287.3h.01M170.2,285.4h.01M175.1,286.7h.01M165.5,286.1h.01M159.7,282.1h.01M173.0,285.9h.01M160.7,288.3h.01M173.5,287.4h.01M160.3,275.8h.01M172.6,288.1h.01M171.2,283.6h.01M162.0,288.5h.01M167.7,282.2h.01M170.2,288.5h.01M168.9,285.9h.01M167.7,290.6h.01M169.7,284.8h.01M173.3,287.5h.01M167.4,282.4h.01M163.7,289.8h.01M165.6,288.9h.01M173.3,287.5h.01M174.7,286.5h.01M171.6,284.3h.01M174.5,286.8h.01M174.8,286.7h.01M174.6,286.3h.01M174.3,286.2h.01M149.9,288.9h.01M174.6,286.8h.01M175.4,286.7h.01M172.9,285.7h.01M172.8,284.9h.01M169.0,283.1h.01M172.9,285.4h.01M158.6,276.3h.01M174.9,286.7h.01M171.3,288.4h.01M169.6,283.5h.01M171.7,288.6h.01M173.9,285.3h.01M174.4,286.4h.01M166.8,288.2h.01M165.8,281.0h.01M175.1,286.2h.01M159.0,288.0h.01M171.2,285.3h.01M164.6,280.0h.01M168.6,288.0h.01M154.9,278.0h.01M168.4,288.2h.01M157.3,280.3h.01M169.5,288.5h.01M166.7,285.6h.01M171.4,283.3h.01M174.2,287.0h.01M172.4,287.8h.01M174.7,286.5h.01M175.1,286.7h.01M172.0,285.9h.01M173.3,284.7h.01M156.5,277.5h.01M169.2,289.1h.01M168.9,289.5h.01M169.1,288.8h.01M173.1,287.9h.01M168.3,281.2h.01M170.3,282.0h.01M172.8,284.4h.01M170.0,285.0h.01M173.8,287.2h.01M171.7,284.7h.01M158.4,289.3h.01M170.7,288.9h.01M151.8,291.2h.01M173.7,287.5h.01M163.9,287.8h.01M155.3,284.3h.01M174.7,286.9h.01M170.2,282.5h.01M174.5,286.8h.01M166.1,281.3h.01M166.6,289.5h.01M173.9,285.1h.01M170.6,287.5h.01M171.1,286.9h.01M171.3,283.7h.01M158.4,291.2h.01M133.6,290.0h.01M170.0,287.3h.01M168.2,283.8h.01M173.5,285.6h.01M166.4,280.0h.01M162.3,283.6h.01M173.1,288.1h.01M174.7,286.9h.01M170.1,288.9h.01M163.7,278.8h.01M173.8,285.7h.01M157.3,290.6h.01M166.5,288.9h.01M152.3,281.2h.01M162.1,277.7h.01M160.3,277.0h.01" stroke="#0b3a9e" stroke-width="1.0" stroke-linecap="round" opacity="0.62" fill="none"/>
<path d="M169.9,290.4h.01M155.2,294.6h.01M170.3,295.0h.01M159.2,302.5h.01M168.0,291.9h.01M171.3,284.7h.01M173.5,285.2h.01M170.5,290.3h.01M165.8,293.9h.01M162.8,278.1h.01M161.7,305.5h.01M160.5,276.0h.01M172.6,289.1h.01M171.9,285.7h.01M167.1,299.3h.01M173.7,286.2h.01M174.2,286.4h.01M172.1,289.0h.01M165.2,293.1h.01M165.7,280.1h.01M174.7,286.7h.01M173.7,281.2h.01M160.6,282.2h.01M168.0,291.8h.01M173.8,287.3h.01M165.4,273.9h.01M169.9,284.4h.01M172.8,293.3h.01M172.5,287.9h.01M154.0,296.0h.01M170.4,283.6h.01M171.5,286.7h.01M160.4,296.8h.01M171.9,290.4h.01M171.9,284.6h.01M156.9,279.9h.01M172.2,290.0h.01M171.8,286.4h.01M171.1,283.9h.01M170.6,292.1h.01M158.4,300.0h.01M166.4,290.8h.01M159.8,275.8h.01M164.4,283.4h.01M163.3,279.5h.01M172.0,286.8h.01M171.9,290.6h.01M165.1,279.4h.01M166.2,297.7h.01M169.9,284.1h.01M170.0,286.5h.01M173.0,288.0h.01M174.1,288.6h.01M174.0,286.8h.01M159.6,303.3h.01M174.1,288.3h.01M157.4,311.9h.01M167.7,296.9h.01M163.2,291.6h.01M163.7,296.8h.01M176.4,287.2h.01M149.5,298.8h.01M172.0,282.2h.01M171.0,288.1h.01M176.3,286.2h.01M162.7,279.3h.01M174.5,289.3h.01M152.2,278.0h.01M170.9,285.7h.01M170.9,292.4h.01M174.1,287.4h.01M166.9,280.7h.01M163.4,296.0h.01M173.4,285.6h.01M170.3,292.0h.01M172.3,285.7h.01M170.0,293.6h.01M167.5,281.3h.01M165.0,279.4h.01M172.1,288.3h.01M170.0,286.2h.01M167.6,285.2h.01M170.1,283.7h.01M169.5,291.0h.01M165.8,281.5h.01M165.9,294.2h.01M170.0,289.3h.01M172.6,287.6h.01M168.5,306.0h.01M165.4,293.1h.01M172.5,285.8h.01M171.9,286.7h.01M169.5,283.3h.01M156.7,298.4h.01M168.0,284.1h.01M158.4,303.1h.01M171.4,278.5h.01M161.8,278.6h.01M168.8,294.7h.01M165.3,275.8h.01M161.0,297.8h.01M171.2,285.6h.01M155.0,298.8h.01M174.4,288.2h.01M173.9,292.5h.01M171.3,289.7h.01M170.2,289.7h.01M175.0,289.1h.01M171.7,290.8h.01M171.6,283.5h.01M173.1,287.9h.01M172.2,288.9h.01M169.2,297.1h.01M144.8,297.1h.01M165.0,298.5h.01M160.9,271.0h.01M152.7,309.6h.01M167.6,296.3h.01M167.9,291.0h.01M175.4,287.1h.01M175.5,289.3h.01M167.6,279.0h.01M171.4,283.9h.01M169.5,294.1h.01M158.3,297.8h.01M170.0,284.0h.01M167.3,278.0h.01M163.0,280.8h.01M164.9,279.4h.01M171.6,287.4h.01M172.4,284.0h.01M167.7,292.6h.01M171.0,289.1h.01M154.9,283.6h.01M172.4,288.1h.01M158.5,302.7h.01M168.8,289.0h.01M173.4,288.2h.01M168.0,292.1h.01M163.6,303.5h.01M168.3,280.9h.01M169.9,292.1h.01M174.4,292.7h.01M164.7,283.2h.01M175.4,282.4h.01M162.7,292.8h.01M167.1,293.4h.01M168.6,278.2h.01M170.0,290.9h.01M162.4,280.6h.01M139.4,268.4h.01M161.8,294.8h.01M174.3,287.9h.01M163.9,308.1h.01M165.6,280.7h.01M174.4,289.2h.01M129.5,272.5h.01M166.4,280.1h.01M175.0,286.5h.01M162.4,317.4h.01M172.9,285.8h.01M171.6,285.8h.01M158.1,298.2h.01M169.3,293.1h.01M160.0,272.6h.01M166.9,279.6h.01M166.0,294.1h.01M174.7,287.0h.01M171.1,284.7h.01M173.4,289.5h.01M158.8,281.0h.01M168.6,290.2h.01M153.1,303.6h.01M165.8,279.2h.01M172.8,289.5h.01M154.0,301.8h.01M175.3,288.3h.01M162.2,275.2h.01M174.8,283.9h.01M167.5,279.9h.01M167.8,293.2h.01M170.2,283.2h.01M172.6,287.8h.01M171.8,286.2h.01M169.4,292.5h.01M169.1,280.3h.01M161.4,275.8h.01M155.1,246.2h.01M171.1,290.4h.01M174.6,285.0h.01M172.0,291.5h.01M171.2,285.6h.01M167.0,293.0h.01M168.1,280.3h.01M162.4,275.0h.01M171.9,295.4h.01M166.7,283.1h.01M167.3,285.0h.01M172.4,285.9h.01M168.8,282.7h.01M171.5,290.9h.01M173.1,285.7h.01M169.7,285.5h.01M171.7,289.7h.01M165.1,282.5h.01M170.2,283.8h.01M173.7,287.6h.01M172.2,282.4h.01M165.5,283.7h.01M165.4,280.5h.01M153.1,303.6h.01M169.9,284.2h.01M166.3,283.4h.01M168.1,290.7h.01M159.2,282.1h.01M162.2,272.1h.01M155.3,273.7h.01M163.4,280.0h.01M152.9,270.4h.01M170.4,290.7h.01M173.9,288.5h.01M169.4,299.2h.01M170.9,292.7h.01M171.3,289.4h.01M170.6,291.0h.01M170.0,289.8h.01M174.8,284.5h.01M171.6,293.0h.01M164.5,302.3h.01M160.4,263.7h.01M164.1,291.1h.01M138.5,299.4h.01M172.4,288.8h.01M172.5,289.1h.01M175.2,288.0h.01M164.8,294.7h.01M172.4,286.1h.01M165.9,292.8h.01M145.9,314.9h.01M158.5,296.0h.01M164.4,299.8h.01M170.0,291.6h.01M163.0,293.8h.01M171.5,282.6h.01M166.1,291.1h.01M157.8,298.1h.01M168.3,281.5h.01M170.2,281.8h.01M171.8,286.1h.01M156.4,276.8h.01M170.4,291.2h.01M169.8,291.3h.01M169.6,280.7h.01M172.2,289.2h.01M170.0,293.2h.01M162.6,292.7h.01M165.5,277.8h.01M171.3,287.8h.01M175.2,286.6h.01M159.6,276.3h.01M164.2,278.6h.01M170.4,285.5h.01M155.7,302.2h.01M145.5,298.3h.01M165.9,292.6h.01M170.3,289.7h.01M170.5,290.9h.01M168.2,293.0h.01M170.0,286.0h.01M166.5,285.3h.01M161.1,294.8h.01M173.0,290.3h.01M167.9,281.5h.01M163.8,291.6h.01M175.8,285.9h.01M171.3,290.4h.01M171.2,285.3h.01M169.8,291.0h.01M170.9,294.5h.01M162.7,294.8h.01M155.9,297.6h.01M169.4,294.0h.01M162.4,308.0h.01M162.0,278.6h.01M173.6,287.9h.01M156.1,271.2h.01M166.1,296.5h.01M166.8,281.7h.01M173.2,288.8h.01M164.0,292.3h.01M173.1,288.4h.01M158.7,293.7h.01M171.1,288.4h.01M165.0,281.9h.01M174.5,285.2h.01M165.9,281.9h.01M163.4,275.9h.01M166.6,292.0h.01M172.8,282.7h.01M172.3,286.4h.01" stroke="#2a5ab8" stroke-width="0.9" stroke-linecap="round" opacity="0.35" fill="none"/>
<line x1="126.50" y1="229.50" x2="126.50" y2="380.50" stroke="#888" stroke-width="0.8"/>
<line x1="30.20" y1="275.50" x2="181.20" y2="275.50" stroke="#888" stroke-width="0.8"/>
<line x1="30.20" y1="298.50" x2="181.20" y2="298.50" stroke="#888" stroke-width="0.8"/>
<rect x="30.20" y="229.50" width="151.00" height="151.00" fill="none" stroke="#000" stroke-width="1.2"/>
<line x1="27.50" y1="252.30" x2="30.20" y2="252.30" stroke="#000" stroke-width="1"/>
<text x="25.90" y="255.30" font-size="8.6" fill="#231f20" text-anchor="end" textLength="3.60" lengthAdjust="spacingAndGlyphs">1</text>
<line x1="27.50" y1="287.50" x2="30.20" y2="287.50" stroke="#000" stroke-width="1"/>
<text x="25.90" y="290.50" font-size="8.6" fill="#231f20" text-anchor="end" textLength="3.60" lengthAdjust="spacingAndGlyphs">0</text>
<line x1="27.50" y1="322.70" x2="30.20" y2="322.70" stroke="#000" stroke-width="1"/>
<text x="25.90" y="325.70" font-size="8.6" fill="#231f20" text-anchor="end" textLength="9.00" lengthAdjust="spacingAndGlyphs">−1</text>
<line x1="27.50" y1="357.90" x2="30.20" y2="357.90" stroke="#000" stroke-width="1"/>
<text x="25.90" y="360.90" font-size="8.6" fill="#231f20" text-anchor="end" textLength="9.00" lengthAdjust="spacingAndGlyphs">−2</text>
<line x1="43.60" y1="380.50" x2="43.60" y2="383.20" stroke="#000" stroke-width="1"/>
<text x="42.10" y="393.40" font-size="8" fill="#231f20" text-anchor="middle" textLength="8.60" lengthAdjust="spacingAndGlyphs">−8</text>
<line x1="76.40" y1="380.50" x2="76.40" y2="383.20" stroke="#000" stroke-width="1"/>
<text x="74.90" y="393.40" font-size="8" fill="#231f20" text-anchor="middle" textLength="8.60" lengthAdjust="spacingAndGlyphs">−6</text>
<line x1="109.20" y1="380.50" x2="109.20" y2="383.20" stroke="#000" stroke-width="1"/>
<text x="107.70" y="393.40" font-size="8" fill="#231f20" text-anchor="middle" textLength="8.60" lengthAdjust="spacingAndGlyphs">−4</text>
<line x1="142.00" y1="380.50" x2="142.00" y2="383.20" stroke="#000" stroke-width="1"/>
<text x="140.50" y="393.40" font-size="8" fill="#231f20" text-anchor="middle" textLength="8.60" lengthAdjust="spacingAndGlyphs">−2</text>
<line x1="174.80" y1="380.50" x2="174.80" y2="383.20" stroke="#000" stroke-width="1"/>
<text x="174.80" y="393.40" font-size="8" fill="#231f20" text-anchor="middle" textLength="3.60" lengthAdjust="spacingAndGlyphs">0</text>
<text x="82.90" y="404.3" font-size="8.3" fill="#231f20" textLength="45.10" lengthAdjust="spacingAndGlyphs">log10 <tspan font-style="italic">P</tspan> value</text>
<text x="13.30" y="370.40" font-size="8.3" fill="#231f20" transform="rotate(-90 13.30 370.40)" textLength="131" lengthAdjust="spacingAndGlyphs">Len – DMSO relative abundance log<tspan font-size="5.5" dy="2">2</tspan><tspan dy="-2">FC</tspan></text>
<circle cx="33.70" cy="234.40" r="0.9" fill="#c8102e"/>
<text x="37.30" y="237.80" font-size="7" fill="#231f20" textLength="12.90" lengthAdjust="spacingAndGlyphs">Hits</text>
<text x="32.00" y="282.80" font-size="8.3" fill="#231f20" textLength="78.00" lengthAdjust="spacingAndGlyphs">1.25 –fold upregulated</text>
<text x="32.00" y="296.80" font-size="8.3" fill="#231f20" textLength="86.30" lengthAdjust="spacingAndGlyphs">1.25 –fold downregulated</text>
<text x="129.30" y="378.60" font-size="1" fill="#231f20"></text>
<text x="129.30" y="378.5" font-size="7.8" fill="#231f20" textLength="30.5" lengthAdjust="spacingAndGlyphs"><tspan font-style="italic">P</tspan> = 0.001</text>
<circle cx="103.00" cy="300.00" r="0.9" fill="#c8102e"/>
<text x="105.80" y="305.00" font-size="6.6" fill="#231f20" textLength="51.50" lengthAdjust="spacingAndGlyphs">KIAA1199; CEMIP</text>
<circle cx="85.80" cy="315.40" r="0.9" fill="#c8102e"/>
<text x="89.60" y="318.40" font-size="6.6" fill="#231f20" textLength="19.20" lengthAdjust="spacingAndGlyphs">RAB28</text>
<circle cx="107.90" cy="328.50" r="0.9" fill="#c8102e"/>
<text x="111.70" y="331.50" font-size="6.6" fill="#231f20" textLength="12.10" lengthAdjust="spacingAndGlyphs">IL10</text>
<circle cx="66.00" cy="334.20" r="0.9" fill="#c8102e"/>
<text x="70.00" y="337.20" font-size="6.6" fill="#231f20" textLength="15.40" lengthAdjust="spacingAndGlyphs">IKZF1</text>
<path d="M358.7,284.5h.01M362.3,285.7h.01M317.3,289.3h.01M364.0,286.0h.01M359.4,283.3h.01M357.5,289.3h.01M361.6,284.8h.01M365.6,286.8h.01M363.9,287.1h.01M351.6,291.4h.01M358.2,283.3h.01M362.3,284.2h.01M365.1,287.2h.01M345.7,278.4h.01M360.8,284.9h.01M355.1,287.8h.01M361.1,288.1h.01M363.6,284.8h.01M356.7,290.4h.01M363.2,287.3h.01M365.5,287.0h.01M363.2,286.5h.01M360.7,289.5h.01M352.4,284.4h.01M365.2,286.7h.01M354.4,287.8h.01M357.1,280.8h.01M364.2,287.3h.01M361.9,287.4h.01M342.1,277.9h.01M365.6,286.7h.01M361.9,285.3h.01M353.4,279.6h.01M358.2,290.1h.01M363.3,284.6h.01M361.5,285.5h.01M362.5,287.9h.01M366.1,286.7h.01M340.4,293.9h.01M365.6,286.8h.01M358.8,282.3h.01M348.4,280.2h.01M352.1,282.2h.01M364.3,286.2h.01M365.9,286.9h.01M361.6,288.9h.01M359.1,284.9h.01M355.6,280.8h.01M345.7,278.3h.01M361.8,288.9h.01M363.9,286.0h.01M364.0,287.4h.01M364.5,286.5h.01M359.8,283.1h.01M347.1,293.7h.01M350.1,292.9h.01M358.9,284.3h.01M361.1,282.1h.01M358.9,283.3h.01M362.8,285.4h.01M363.3,286.2h.01M359.6,289.2h.01M363.2,285.9h.01M362.5,285.6h.01M364.9,287.0h.01M357.0,282.0h.01M363.5,284.8h.01M361.6,288.3h.01M338.2,292.8h.01M361.2,285.3h.01M363.7,287.1h.01M362.7,285.3h.01M365.3,286.3h.01M359.0,282.2h.01M348.1,280.3h.01M364.1,287.6h.01M365.3,286.6h.01M362.1,287.6h.01M365.6,286.7h.01M361.4,284.1h.01M364.7,285.9h.01M348.2,290.4h.01M365.8,287.1h.01M361.3,284.3h.01M357.8,284.0h.01M364.0,284.9h.01M365.2,287.1h.01M365.1,286.7h.01M363.4,284.4h.01M365.1,286.5h.01M363.0,286.3h.01M354.2,288.6h.01M364.9,287.2h.01M362.7,287.8h.01M360.0,287.4h.01M363.3,287.5h.01M342.7,288.9h.01M355.6,287.8h.01M356.8,280.7h.01M341.2,292.9h.01M365.7,286.9h.01M359.8,285.1h.01M352.1,289.7h.01M358.2,290.6h.01M356.1,290.1h.01M360.0,285.9h.01M360.6,283.5h.01M353.8,284.1h.01M356.7,288.2h.01M355.7,284.7h.01M356.6,282.4h.01M366.1,286.7h.01M357.4,283.7h.01M345.5,294.3h.01M361.6,288.1h.01M359.5,282.8h.01M361.4,283.0h.01M363.7,284.5h.01M326.3,295.1h.01M360.5,285.4h.01M351.0,282.8h.01M361.0,283.9h.01M348.0,292.9h.01M358.0,289.4h.01M359.8,284.1h.01M351.4,291.7h.01M342.4,285.0h.01M363.6,284.3h.01M357.9,282.2h.01M360.9,285.0h.01M363.5,287.5h.01M364.5,285.7h.01M357.8,282.5h.01M362.5,287.6h.01M348.7,290.7h.01M361.2,289.3h.01M357.7,290.0h.01M361.1,286.0h.01M361.5,287.8h.01M356.3,291.2h.01M363.5,285.6h.01M363.3,285.3h.01M365.2,286.3h.01M355.1,289.1h.01M362.4,287.4h.01M359.5,287.4h.01M361.7,288.2h.01M365.7,286.0h.01M323.6,290.2h.01M352.1,281.4h.01M362.1,284.1h.01M356.4,285.1h.01M364.0,285.8h.01M361.9,285.7h.01M363.7,287.4h.01M360.2,288.6h.01M357.3,283.2h.01M365.4,287.0h.01M363.6,286.4h.01M357.9,289.2h.01M361.3,283.8h.01M365.6,287.1h.01M363.2,286.4h.01M356.6,288.9h.01M364.8,287.4h.01M363.4,285.7h.01M363.1,285.4h.01M360.7,287.5h.01M362.9,286.0h.01M363.6,285.8h.01M365.7,287.0h.01M338.1,275.9h.01M365.2,286.4h.01M363.7,287.4h.01M346.6,289.1h.01M355.6,291.5h.01M362.5,288.0h.01M349.2,291.7h.01M358.6,281.7h.01M364.1,287.3h.01M363.7,284.7h.01M346.2,291.0h.01M361.7,286.3h.01M356.1,282.7h.01M365.8,286.9h.01M360.5,287.5h.01M364.5,287.3h.01M362.3,288.8h.01M360.3,288.0h.01M363.7,286.1h.01M351.4,291.5h.01M359.3,286.2h.01M355.5,287.5h.01M364.0,287.5h.01M365.0,287.3h.01M349.8,292.1h.01M360.9,282.6h.01M345.5,290.2h.01M356.2,282.7h.01M332.8,291.3h.01M347.8,283.2h.01M364.8,286.7h.01M358.2,287.8h.01M363.6,286.4h.01M363.5,284.5h.01M347.9,288.2h.01M364.1,285.6h.01M351.3,288.1h.01M363.1,286.0h.01M360.8,287.3h.01M365.3,286.6h.01M360.4,285.4h.01M361.2,284.4h.01M364.4,287.8h.01M358.1,283.3h.01M361.9,284.9h.01M360.2,285.2h.01M361.3,283.4h.01M363.9,287.7h.01M364.1,285.8h.01M360.4,288.4h.01M365.1,287.1h.01M353.9,282.7h.01M364.2,286.2h.01M363.8,285.3h.01M365.6,287.0h.01M348.1,291.1h.01M362.8,285.1h.01M365.1,286.1h.01M361.7,288.6h.01M360.1,289.0h.01M341.3,284.2h.01M365.7,286.7h.01M352.3,290.8h.01M358.2,288.2h.01M358.9,284.7h.01M365.6,286.6h.01M363.4,285.5h.01M351.2,282.5h.01M358.7,284.5h.01M362.0,284.8h.01M365.3,286.8h.01M356.9,284.5h.01M359.1,287.8h.01M361.3,288.0h.01M365.5,286.6h.01M358.8,284.7h.01M358.6,284.5h.01M360.6,289.3h.01M365.7,287.0h.01M359.3,285.6h.01M349.3,287.7h.01M358.1,288.0h.01M365.0,286.8h.01M345.7,291.5h.01M352.4,278.8h.01M362.8,285.6h.01M363.4,287.6h.01M363.5,285.6h.01M360.0,288.2h.01M362.9,287.3h.01M364.5,287.7h.01M364.2,286.1h.01M361.3,285.1h.01M340.7,292.8h.01M363.6,287.6h.01M358.2,288.8h.01M364.8,287.0h.01M355.5,289.3h.01M358.3,283.7h.01M361.3,285.5h.01M363.7,285.2h.01M364.1,287.7h.01M360.2,283.7h.01M355.1,290.2h.01M358.4,285.8h.01M355.9,281.3h.01M334.7,294.5h.01M364.4,285.1h.01M354.3,280.2h.01M365.2,286.6h.01M365.0,287.2h.01M353.7,286.3h.01M363.1,285.9h.01M353.0,282.2h.01M341.0,293.4h.01M365.1,286.4h.01M363.2,285.8h.01M354.6,283.1h.01M354.9,282.4h.01M356.8,289.2h.01M365.5,286.7h.01M362.1,288.5h.01M344.4,290.5h.01M356.9,290.1h.01M365.4,287.3h.01M350.9,282.8h.01M361.2,288.1h.01M366.1,286.8h.01M358.5,281.5h.01M360.2,282.7h.01M314.3,295.9h.01M356.1,280.2h.01M364.9,286.1h.01M365.6,286.6h.01M340.1,289.8h.01M364.9,286.6h.01M364.3,285.9h.01M363.4,287.1h.01M364.3,285.7h.01M365.3,286.8h.01M364.1,287.1h.01M361.8,289.0h.01M365.9,287.1h.01M356.7,281.4h.01M337.1,292.5h.01M361.6,283.4h.01M362.4,286.2h.01M364.0,287.2h.01M358.0,281.2h.01M361.4,284.2h.01M363.6,286.3h.01M354.7,279.0h.01M360.5,284.3h.01M363.9,287.1h.01M362.1,289.0h.01M363.6,285.5h.01M365.0,284.8h.01M351.3,287.8h.01M365.4,286.4h.01M362.6,285.8h.01M354.3,283.1h.01M360.6,282.9h.01M364.5,286.6h.01M354.1,288.3h.01M364.8,287.3h.01M361.5,288.0h.01M350.8,290.9h.01M364.3,285.1h.01M361.7,289.0h.01M364.5,286.4h.01M357.9,284.7h.01M362.7,288.7h.01M354.5,289.5h.01M330.2,292.5h.01M351.7,288.1h.01M343.6,292.0h.01M352.8,280.9h.01M358.1,285.6h.01M361.6,284.7h.01M361.6,284.5h.01M353.9,291.6h.01M364.8,285.6h.01M364.4,286.3h.01M364.2,287.4h.01M350.6,281.6h.01M361.0,287.5h.01M365.0,286.8h.01M364.7,285.8h.01M361.0,287.6h.01M355.1,288.6h.01M361.0,285.1h.01M365.6,286.7h.01M351.1,289.4h.01M357.0,282.0h.01M357.5,282.7h.01M361.8,283.9h.01M361.0,283.1h.01M363.3,288.0h.01M366.2,286.9h.01M361.9,287.9h.01M364.8,286.1h.01M360.3,283.2h.01M357.9,290.5h.01M365.8,286.6h.01M365.6,286.8h.01M365.3,286.7h.01M364.1,285.2h.01M359.3,281.3h.01M364.8,286.4h.01M364.2,287.4h.01M359.0,283.6h.01M359.7,285.8h.01M365.7,286.9h.01M347.3,291.5h.01M365.5,286.4h.01M355.8,281.0h.01M363.3,288.1h.01M364.3,287.3h.01M356.5,288.1h.01M363.2,286.6h.01M364.2,286.7h.01M365.4,287.4h.01M358.9,288.4h.01M363.2,287.7h.01M355.2,290.5h.01M361.6,285.9h.01M330.4,271.6h.01M360.4,288.4h.01M365.6,287.1h.01M357.1,291.0h.01M359.8,288.4h.01M357.7,281.8h.01M359.3,283.1h.01M357.8,288.1h.01M365.8,286.8h.01M354.7,290.6h.01M359.6,288.2h.01M346.8,290.8h.01M360.3,286.4h.01M365.2,286.2h.01M364.5,287.3h.01M356.7,284.3h.01M312.2,295.1h.01M364.7,285.9h.01M352.1,278.7h.01M360.0,285.8h.01M315.8,293.2h.01M358.6,288.2h.01M361.8,285.3h.01M353.3,287.4h.01M337.7,289.2h.01M365.3,286.7h.01M356.6,289.2h.01M358.4,287.7h.01M360.8,289.4h.01M336.9,280.3h.01M361.8,287.3h.01M365.1,286.4h.01M341.2,291.9h.01M361.2,289.3h.01M360.0,284.9h.01M350.7,279.7h.01M362.8,286.3h.01M363.7,285.0h.01M360.6,288.8h.01M365.6,286.9h.01M361.2,282.6h.01M364.7,286.5h.01M361.0,283.5h.01M350.1,291.8h.01M365.3,286.4h.01M365.0,287.2h.01M351.4,289.6h.01M364.1,287.6h.01M365.8,286.8h.01M365.3,287.2h.01M359.3,288.6h.01M362.7,288.2h.01M364.8,287.2h.01M364.5,287.2h.01M361.6,286.1h.01M362.2,288.1h.01M363.7,285.7h.01M365.2,286.2h.01M345.5,291.4h.01M354.7,280.8h.01M356.2,288.5h.01M359.4,282.3h.01M359.3,287.9h.01M364.9,287.0h.01M357.8,288.2h.01M353.8,287.6h.01M350.9,278.2h.01M354.5,279.4h.01M357.4,281.2h.01M358.0,283.5h.01M360.5,283.0h.01M356.0,282.1h.01M357.5,280.4h.01M332.8,291.2h.01M364.7,286.3h.01M361.7,288.5h.01M355.7,280.4h.01M365.4,286.9h.01M360.2,287.9h.01M361.2,286.0h.01M352.4,291.3h.01M356.7,283.6h.01M362.3,285.3h.01M364.9,286.2h.01M355.1,280.9h.01M362.8,284.8h.01M365.5,287.2h.01M364.5,285.4h.01M357.0,282.1h.01M365.2,287.3h.01M360.3,282.5h.01M358.0,283.4h.01M364.5,285.5h.01M361.0,287.1h.01M352.4,287.6h.01M365.2,287.2h.01M361.9,288.3h.01M353.4,279.5h.01M364.4,287.1h.01M357.6,283.4h.01M354.5,283.1h.01M362.6,287.7h.01M357.8,289.3h.01M365.8,286.9h.01M359.7,282.9h.01M340.9,279.6h.01M366.0,286.3h.01M365.3,287.0h.01M358.6,289.6h.01M358.9,289.4h.01M354.8,291.0h.01M355.0,289.5h.01M338.2,284.0h.01M361.8,288.6h.01M361.6,285.2h.01M359.9,283.9h.01M358.0,287.5h.01M345.3,292.6h.01M364.3,287.3h.01M362.6,287.3h.01M365.0,286.6h.01M361.1,288.1h.01M363.1,288.1h.01M358.1,288.4h.01M358.5,288.3h.01M364.1,286.1h.01M354.6,287.5h.01M362.4,285.7h.01M359.1,288.2h.01M358.5,284.2h.01M354.4,290.9h.01M347.9,283.4h.01M364.8,288.0h.01M346.1,293.4h.01M355.5,290.9h.01M358.8,289.9h.01M366.1,286.9h.01M365.5,286.8h.01M360.5,284.7h.01M361.2,288.1h.01M365.0,287.0h.01M361.4,288.5h.01M363.6,285.1h.01M350.5,278.5h.01M363.2,284.3h.01M366.1,286.5h.01M362.6,285.3h.01M365.6,286.9h.01M363.1,284.7h.01M365.3,287.2h.01M357.5,280.8h.01M362.7,285.4h.01M353.2,279.6h.01M363.5,287.6h.01M356.3,279.8h.01M357.2,286.1h.01M356.8,289.1h.01M340.8,274.2h.01M348.6,289.6h.01M362.4,285.6h.01M355.0,288.7h.01M366.3,286.8h.01M365.4,286.6h.01M360.1,288.7h.01M360.5,287.7h.01M361.5,288.4h.01M363.9,287.5h.01M350.4,288.0h.01M346.6,293.6h.01M359.6,287.3h.01M343.4,280.7h.01M364.5,287.0h.01M347.7,277.4h.01M363.5,285.1h.01M361.6,283.2h.01M361.0,285.0h.01M365.8,286.2h.01M355.1,282.2h.01M343.1,289.1h.01M360.6,288.6h.01M357.7,290.5h.01M346.0,291.6h.01M327.7,297.1h.01M361.3,289.2h.01M358.8,289.5h.01M360.5,287.9h.01M365.8,286.8h.01M357.0,285.9h.01M365.3,287.1h.01M348.3,279.2h.01M356.5,287.9h.01M363.9,286.5h.01M363.6,285.0h.01M363.4,287.3h.01M358.7,285.0h.01M363.6,285.6h.01M361.5,283.0h.01M364.3,285.7h.01M359.5,283.7h.01M353.1,289.6h.01M363.5,285.1h.01M363.4,285.0h.01M362.3,287.8h.01M363.9,287.3h.01M344.0,278.4h.01M363.4,286.4h.01M364.9,286.1h.01M364.3,285.9h.01M337.4,280.4h.01M356.7,283.0h.01M364.2,286.4h.01M364.5,285.9h.01M364.0,284.9h.01M344.6,288.0h.01M364.1,285.4h.01M363.4,284.6h.01M362.9,285.4h.01M356.2,281.6h.01M359.8,285.8h.01M360.3,285.3h.01M365.5,286.9h.01M343.8,289.0h.01M365.3,286.7h.01M365.9,286.5h.01M362.5,284.9h.01M351.1,283.1h.01M361.1,283.4h.01M348.5,288.9h.01M365.1,286.8h.01M364.7,286.5h.01M359.0,289.3h.01M364.8,287.5h.01M350.6,280.8h.01M361.0,288.1h.01M364.3,286.1h.01M349.2,282.6h.01M365.9,286.9h.01M357.2,289.6h.01M364.7,287.5h.01M343.1,293.0h.01M361.8,288.2h.01M363.7,287.4h.01M341.4,288.8h.01M359.8,285.7h.01M364.8,287.3h.01M346.8,277.5h.01M337.7,277.5h.01M361.0,283.3h.01M365.6,286.6h.01M357.8,290.2h.01M336.5,288.7h.01M365.4,287.1h.01M364.5,286.5h.01M362.9,284.5h.01M364.5,284.7h.01M365.0,287.5h.01M365.4,286.9h.01M364.4,287.5h.01M356.4,289.9h.01M353.5,279.8h.01M363.5,287.9h.01M358.3,284.0h.01M345.2,290.0h.01M365.9,286.8h.01M356.3,289.3h.01M359.4,287.5h.01M353.4,278.4h.01M365.7,286.5h.01M355.0,288.5h.01M350.7,283.3h.01M361.2,285.7h.01M353.5,278.2h.01M364.1,285.8h.01M343.8,292.1h.01M342.8,289.0h.01M357.5,285.0h.01M360.8,288.9h.01M340.5,294.7h.01M365.2,286.7h.01M354.6,283.7h.01M363.4,288.1h.01M354.8,281.2h.01M350.1,293.1h.01M364.4,286.3h.01M362.8,287.6h.01M336.6,291.2h.01M362.6,284.8h.01M365.5,287.1h.01M353.8,280.2h.01M357.1,282.5h.01M361.2,283.1h.01M352.0,279.8h.01M354.4,288.4h.01M364.6,286.2h.01M353.1,290.2h.01M350.5,281.2h.01M328.7,295.1h.01M362.1,283.3h.01M363.9,285.6h.01M352.0,278.0h.01M365.3,286.2h.01M364.4,285.8h.01M365.0,286.1h.01M350.1,290.7h.01M353.9,292.0h.01M329.0,292.2h.01M364.1,285.5h.01M353.1,289.4h.01M364.4,286.5h.01M365.8,287.2h.01M365.2,287.2h.01M364.7,287.2h.01M364.2,286.3h.01M357.1,280.5h.01M349.0,291.1h.01M362.2,289.1h.01M342.3,291.7h.01M360.3,284.0h.01M362.3,286.3h.01M364.0,287.7h.01M364.2,285.8h.01M360.9,288.8h.01M355.1,291.0h.01M360.2,285.5h.01M357.6,284.7h.01M362.2,284.2h.01M361.9,287.6h.01M357.6,288.2h.01M365.9,286.6h.01M358.8,284.0h.01M349.2,291.6h.01M361.3,285.4h.01M357.4,287.4h.01M361.7,287.2h.01M323.2,288.6h.01M357.2,282.3h.01M330.1,292.8h.01M326.4,292.3h.01M363.4,287.3h.01M355.4,280.3h.01M337.8,291.0h.01M359.2,283.8h.01M357.6,281.2h.01M361.4,285.0h.01M361.3,283.2h.01M359.1,283.2h.01M342.0,276.0h.01M357.8,288.0h.01M363.5,287.5h.01M349.0,289.5h.01M353.6,288.9h.01M366.0,286.8h.01M360.1,285.0h.01M363.1,284.5h.01M359.2,285.0h.01M362.8,285.1h.01M364.4,285.8h.01M358.1,282.1h.01M349.8,283.6h.01M365.3,287.0h.01M364.2,285.3h.01M357.5,288.8h.01M350.3,284.1h.01M359.3,284.1h.01M365.5,286.3h.01M363.5,286.7h.01M360.4,283.1h.01M359.2,287.5h.01M348.0,290.2h.01M357.7,284.5h.01M364.0,287.4h.01M347.4,290.9h.01M363.0,287.5h.01M361.2,284.0h.01M333.5,290.7h.01M361.8,286.6h.01M360.6,288.1h.01M365.0,287.0h.01M355.2,287.7h.01M363.1,288.2h.01M358.1,287.5h.01M364.6,286.4h.01M365.0,287.0h.01M363.5,287.3h.01M366.0,286.7h.01M352.1,288.3h.01M361.4,287.8h.01M359.2,282.9h.01M365.5,287.5h.01M358.5,286.1h.01M353.3,284.9h.01M345.9,284.7h.01M362.2,284.8h.01M341.8,290.0h.01M338.0,290.0h.01M363.8,285.1h.01M339.0,279.1h.01M362.7,286.3h.01M354.9,289.4h.01M360.7,285.6h.01M365.6,286.8h.01M360.5,284.0h.01M351.0,284.9h.01M348.4,276.7h.01M365.6,287.1h.01M360.7,282.7h.01M364.7,287.0h.01M361.3,285.0h.01M349.1,292.2h.01M361.4,284.8h.01M359.5,283.5h.01M356.2,279.7h.01M314.5,298.4h.01M358.1,289.4h.01M361.8,288.1h.01M365.4,286.6h.01M343.5,283.4h.01M358.9,283.4h.01M360.8,282.8h.01M362.3,287.7h.01M355.6,283.9h.01M340.7,284.0h.01M362.8,284.4h.01M360.7,289.2h.01M359.7,284.0h.01M359.6,283.2h.01M345.4,289.5h.01M355.2,288.4h.01M365.5,286.6h.01M362.5,285.5h.01M352.3,288.3h.01M356.8,282.2h.01M360.2,287.7h.01M359.2,285.0h.01M357.8,290.8h.01M364.1,285.4h.01M356.7,285.7h.01M343.7,290.2h.01M363.8,285.8h.01M364.1,287.3h.01M365.0,286.9h.01M362.1,284.5h.01M355.1,290.0h.01M344.8,287.8h.01M363.8,287.2h.01M359.3,282.0h.01M364.3,285.8h.01M362.8,284.4h.01M354.6,288.0h.01M353.5,290.7h.01M364.9,286.5h.01M359.3,282.9h.01M355.7,290.5h.01M359.8,285.4h.01M362.5,286.2h.01M363.7,287.4h.01M361.8,284.6h.01M359.6,284.0h.01M351.4,285.5h.01M342.7,292.0h.01M363.0,286.2h.01M356.6,280.0h.01M364.3,287.1h.01M366.5,286.8h.01M358.2,284.6h.01M365.1,287.1h.01M365.8,286.9h.01M322.6,295.5h.01M365.3,287.0h.01M353.5,287.4h.01M361.5,288.4h.01M363.5,287.1h.01M364.1,285.7h.01M357.9,282.9h.01M365.1,287.2h.01M365.2,287.2h.01M354.8,291.5h.01M362.7,285.8h.01M363.5,287.8h.01M363.6,284.9h.01M364.0,287.6h.01M349.3,289.9h.01M364.5,286.5h.01M363.6,285.8h.01M363.6,287.7h.01M318.5,288.9h.01M357.6,287.3h.01M361.3,283.3h.01M341.5,275.2h.01M354.2,282.6h.01M352.9,290.3h.01M357.7,290.5h.01M356.2,285.0h.01M364.2,287.3h.01M364.1,287.5h.01M358.4,283.3h.01M364.8,287.1h.01M366.2,286.9h.01M361.9,285.6h.01M363.3,284.7h.01M354.4,282.0h.01M361.1,289.0h.01M362.6,283.8h.01M359.5,288.8h.01M365.5,286.4h.01M342.0,290.1h.01M353.3,278.3h.01M352.1,282.3h.01M360.4,283.6h.01M331.8,291.5h.01M347.7,289.0h.01M355.9,290.7h.01M355.2,289.3h.01M361.9,289.0h.01M354.8,288.6h.01M359.0,285.7h.01M361.8,285.3h.01M364.5,287.6h.01M355.9,281.7h.01M363.5,288.1h.01M363.3,286.3h.01M364.9,286.6h.01M363.9,286.5h.01M362.8,285.0h.01M351.0,288.6h.01M339.1,278.4h.01M346.8,292.6h.01M365.1,286.2h.01M363.4,285.2h.01M364.1,285.0h.01M358.6,281.5h.01M363.1,285.7h.01M357.7,288.7h.01M365.4,286.9h.01M361.9,288.1h.01M365.2,286.4h.01M361.6,284.2h.01M362.0,284.1h.01M364.4,287.0h.01M365.2,286.6h.01M358.4,288.7h.01M365.1,286.4h.01M358.3,290.1h.01M364.9,286.7h.01M356.2,282.5h.01M364.3,285.3h.01M365.4,287.1h.01M362.5,287.3h.01M361.8,283.0h.01M363.4,285.7h.01M352.1,291.5h.01M362.7,284.9h.01M364.8,285.9h.01M356.5,287.3h.01M364.5,287.5h.01M361.5,283.9h.01M360.8,287.9h.01M362.1,287.8h.01M347.6,279.8h.01M364.0,287.3h.01M362.4,287.5h.01M364.2,287.6h.01M364.0,287.5h.01M362.0,287.4h.01M363.2,287.9h.01M345.5,291.0h.01M362.5,284.3h.01M364.4,287.1h.01M360.7,288.3h.01M358.9,282.2h.01M354.2,289.4h.01M364.8,285.7h.01M364.5,287.2h.01M355.1,290.8h.01M361.1,283.2h.01M364.2,287.4h.01M361.2,284.6h.01M362.9,284.5h.01M361.0,283.8h.01M363.3,285.8h.01M347.8,290.7h.01M363.8,285.3h.01M365.7,286.7h.01M364.7,287.1h.01M359.9,284.4h.01M351.9,289.4h.01M353.0,278.7h.01M354.5,289.4h.01M360.5,282.9h.01M358.5,287.7h.01M357.3,288.0h.01M348.9,292.8h.01M360.9,283.1h.01M364.0,287.6h.01M359.1,284.6h.01M360.6,287.9h.01M364.1,287.3h.01M364.7,286.1h.01M360.4,282.4h.01M360.5,287.4h.01M362.3,289.2h.01M361.6,288.2h.01M365.5,286.8h.01M362.2,288.1h.01M365.3,286.7h.01M358.5,283.8h.01M356.0,289.4h.01M365.3,287.5h.01M355.2,289.9h.01M360.6,283.1h.01M353.1,281.6h.01M356.0,290.3h.01M361.6,284.4h.01M363.6,285.7h.01M349.0,288.4h.01M365.3,287.2h.01M364.8,285.9h.01M353.7,289.5h.01M357.9,282.7h.01M364.9,286.1h.01M361.8,284.9h.01M359.8,284.2h.01M358.9,288.5h.01M345.1,280.5h.01M346.8,276.2h.01M358.2,289.2h.01M354.6,288.9h.01M344.7,290.5h.01M359.7,285.7h.01M346.5,291.8h.01M356.1,284.5h.01M344.3,282.9h.01M360.1,288.7h.01M361.2,283.5h.01M352.9,280.1h.01M364.4,285.6h.01M364.6,286.6h.01M354.7,279.0h.01M355.5,289.6h.01M346.7,280.8h.01M359.8,284.7h.01M362.6,284.9h.01M364.0,287.5h.01M362.9,283.8h.01M365.3,286.8h.01M351.4,291.7h.01M362.7,287.2h.01M360.6,283.6h.01M360.2,287.3h.01M358.6,283.6h.01M365.5,286.7h.01M347.1,289.3h.01M359.7,285.7h.01M361.2,284.0h.01M363.4,285.7h.01M360.2,285.3h.01M365.3,287.3h.01M355.9,288.3h.01M364.0,286.4h.01M364.5,285.8h.01M356.2,289.0h.01M364.4,287.2h.01M362.6,288.1h.01M363.9,287.6h.01M359.2,284.8h.01M362.9,287.8h.01M358.3,288.3h.01M365.4,286.5h.01M361.9,284.5h.01M366.0,286.8h.01M343.6,289.5h.01M349.8,289.9h.01M360.2,282.5h.01M356.8,290.1h.01M334.1,289.1h.01M346.9,276.3h.01M360.0,282.7h.01M356.5,282.7h.01M362.8,286.1h.01M364.7,285.3h.01M362.8,287.3h.01M357.4,281.1h.01M360.7,284.8h.01M356.0,289.9h.01M363.2,284.4h.01M361.6,285.5h.01M363.2,284.8h.01M349.8,285.6h.01M362.3,284.9h.01M365.8,286.9h.01M364.3,287.1h.01M354.3,287.7h.01M363.6,288.0h.01M348.0,292.1h.01M363.1,283.9h.01M358.2,288.1h.01M355.3,289.2h.01M360.5,285.7h.01M357.2,283.8h.01M356.7,281.9h.01M361.3,287.6h.01M365.1,286.3h.01M364.4,286.2h.01M355.6,289.0h.01M358.6,289.6h.01M360.8,289.4h.01M353.7,291.8h.01M363.4,284.7h.01M361.7,286.2h.01M355.8,290.2h.01M360.6,287.9h.01M364.0,287.2h.01M355.6,284.0h.01M356.6,290.7h.01M364.9,286.5h.01M358.5,284.2h.01M347.8,287.5h.01M360.0,284.5h.01M355.0,281.5h.01M336.1,289.5h.01M345.5,293.8h.01M355.1,278.6h.01M362.3,287.6h.01M359.6,289.2h.01M341.3,289.0h.01M360.6,285.0h.01M360.5,283.2h.01M361.3,284.2h.01M359.5,281.8h.01M359.9,287.8h.01M355.0,289.0h.01M363.7,284.7h.01M359.9,284.8h.01M361.3,283.3h.01M349.3,290.1h.01M364.9,287.0h.01M365.0,286.0h.01M363.4,287.4h.01M364.5,287.5h.01M354.3,287.7h.01M359.4,285.1h.01M349.6,289.6h.01M350.2,290.4h.01M364.6,287.3h.01M358.8,283.2h.01M361.6,284.3h.01M362.5,284.6h.01M361.6,283.8h.01M358.1,282.2h.01M364.5,287.3h.01M365.4,286.9h.01M359.9,289.4h.01M365.2,287.1h.01M346.8,285.1h.01M363.8,286.5h.01M352.8,284.2h.01M353.6,288.3h.01M363.0,288.3h.01M364.6,287.6h.01M343.1,294.7h.01M364.1,287.5h.01M356.0,289.2h.01M356.5,290.2h.01M364.5,287.3h.01M363.2,287.2h.01M364.4,287.1h.01M351.8,291.7h.01M363.0,284.8h.01M364.4,286.1h.01M361.9,287.7h.01M350.5,278.8h.01M364.9,286.1h.01M363.4,285.5h.01M364.7,287.5h.01M362.2,285.0h.01M359.6,289.3h.01M350.8,281.0h.01M356.7,290.4h.01M355.0,290.7h.01M354.8,291.4h.01M366.3,286.6h.01M363.7,287.7h.01M363.1,287.9h.01M361.2,287.3h.01M344.2,277.6h.01M359.0,285.5h.01M312.2,295.6h.01M355.8,288.9h.01M361.6,284.8h.01M363.4,287.5h.01M359.5,287.7h.01M356.9,282.6h.01M347.8,291.1h.01M357.1,281.0h.01M362.2,283.9h.01M360.6,284.5h.01M358.9,282.8h.01M346.3,288.6h.01M359.5,287.4h.01M365.5,286.5h.01M357.5,282.1h.01M364.9,286.2h.01M352.9,289.8h.01M350.9,292.6h.01M339.4,282.1h.01M365.4,286.7h.01M364.2,285.0h.01M360.4,284.5h.01M365.5,287.0h.01M363.6,288.1h.01M364.0,286.2h.01M327.0,288.3h.01M360.0,284.7h.01M364.1,286.0h.01M359.7,289.1h.01M364.9,286.2h.01M363.5,287.7h.01M317.4,293.5h.01M363.8,285.6h.01M363.5,287.3h.01M364.1,286.2h.01M353.4,291.0h.01M362.0,283.7h.01M365.6,287.1h.01M350.4,288.7h.01M336.3,288.7h.01M364.4,285.7h.01M362.4,288.2h.01M365.6,286.8h.01M345.6,292.4h.01M359.2,285.5h.01M359.7,282.8h.01M359.0,289.1h.01M359.9,283.0h.01M357.7,289.3h.01M362.3,285.2h.01M357.7,287.8h.01M364.1,287.8h.01M356.3,289.6h.01M365.0,286.4h.01M355.0,283.2h.01M364.3,287.5h.01M364.5,286.5h.01M364.5,285.9h.01M360.6,288.0h.01M357.6,284.0h.01M363.0,287.5h.01M353.5,289.5h.01M357.9,287.5h.01M365.4,286.7h.01M364.9,287.2h.01M363.7,287.8h.01M363.7,287.2h.01M364.8,287.2h.01M363.2,284.9h.01M363.5,287.9h.01M362.4,288.4h.01M365.2,286.7h.01M360.9,283.3h.01M360.7,288.6h.01M349.2,283.4h.01M343.5,279.6h.01M364.1,288.1h.01M363.3,287.7h.01M348.2,288.9h.01M359.9,287.3h.01M357.0,288.0h.01M364.1,285.6h.01M352.2,282.5h.01M361.2,284.4h.01M363.2,285.0h.01M364.3,287.3h.01M362.2,285.3h.01M361.5,285.8h.01M363.0,284.5h.01M351.8,278.3h.01M360.4,287.5h.01M354.4,283.7h.01M363.0,284.4h.01M364.3,287.2h.01M365.0,286.2h.01M353.9,281.8h.01M365.5,287.0h.01M357.4,283.3h.01M365.7,287.0h.01M357.7,290.8h.01M364.8,286.2h.01M355.3,291.1h.01M351.4,280.4h.01M365.4,287.3h.01M365.6,286.1h.01M359.6,284.5h.01M356.6,283.6h.01M359.8,283.8h.01M363.9,285.6h.01M360.9,284.0h.01M365.2,286.7h.01M364.8,286.2h.01M356.5,287.9h.01M343.5,282.3h.01M354.7,283.0h.01M365.1,287.3h.01M359.8,284.1h.01M365.4,287.0h.01M319.4,291.1h.01M355.2,291.0h.01M365.2,286.4h.01M365.2,286.9h.01M362.1,285.3h.01M363.9,286.4h.01M345.3,288.3h.01M359.1,285.4h.01M363.0,287.1h.01M358.2,288.0h.01M364.5,285.9h.01M349.1,289.4h.01M363.5,285.6h.01M338.2,292.2h.01M351.5,283.1h.01M357.6,281.5h.01M355.1,288.9h.01M364.7,285.9h.01M356.1,284.9h.01M344.1,292.3h.01M360.6,283.5h.01M355.7,283.9h.01M362.7,286.3h.01M353.8,288.2h.01M347.1,288.0h.01M362.6,287.4h.01M364.7,286.0h.01M361.6,284.0h.01M363.8,285.7h.01M360.8,284.4h.01M359.2,284.2h.01M361.5,287.9h.01M363.4,284.8h.01M362.2,284.7h.01M359.2,288.7h.01M364.4,286.5h.01M362.7,284.0h.01M357.2,288.5h.01M344.4,292.7h.01M359.2,283.8h.01M363.0,287.6h.01M365.1,285.7h.01M363.5,287.5h.01M365.2,287.3h.01M358.4,290.7h.01M366.1,286.8h.01M363.9,285.4h.01M352.2,289.9h.01M360.3,282.0h.01M359.8,282.0h.01M345.8,292.9h.01M357.8,288.3h.01M354.5,291.5h.01M364.7,286.3h.01M363.2,287.2h.01M353.5,281.6h.01M361.2,283.9h.01M365.8,286.8h.01M361.7,285.6h.01M358.3,280.6h.01M364.3,286.3h.01M365.5,287.6h.01M358.6,282.0h.01M359.5,281.8h.01M363.5,287.8h.01M361.0,288.3h.01M340.2,293.5h.01M364.5,287.2h.01M364.5,287.3h.01M363.2,285.9h.01M365.0,287.2h.01M354.4,282.1h.01M335.8,289.5h.01M365.3,286.8h.01M362.6,286.4h.01M359.3,283.1h.01M364.2,286.0h.01M358.0,287.6h.01M360.5,289.2h.01M364.2,287.6h.01M361.0,285.8h.01M358.9,281.4h.01M364.4,286.4h.01M358.0,289.4h.01M364.6,286.2h.01M359.1,282.7h.01M365.3,286.7h.01M359.5,287.8h.01M364.3,287.1h.01M361.7,286.4h.01M363.8,287.6h.01M355.7,284.2h.01M360.5,288.7h.01M358.4,281.4h.01M362.2,284.1h.01M359.8,287.6h.01M364.9,286.8h.01M363.3,286.3h.01M361.9,287.6h.01M356.4,289.8h.01M341.1,288.5h.01M362.3,284.2h.01M362.5,284.0h.01M365.3,286.9h.01M364.7,285.6h.01M361.6,285.0h.01M363.5,285.5h.01M364.8,287.2h.01M364.2,285.4h.01M361.2,288.9h.01M364.2,285.3h.01M364.3,286.0h.01M360.2,283.8h.01M363.4,284.7h.01M365.5,286.5h.01M365.0,285.7h.01M361.0,288.7h.01M365.8,287.0h.01M362.9,286.0h.01M363.4,286.0h.01M357.7,289.1h.01M350.5,282.7h.01M352.7,281.9h.01M365.1,287.2h.01M364.4,285.7h.01M357.0,289.1h.01M351.6,292.0h.01M363.1,286.1h.01M364.0,286.2h.01M362.1,284.7h.01M363.7,288.1h.01M364.5,287.1h.01M359.7,284.6h.01M355.8,283.9h.01M359.5,283.3h.01M363.3,285.9h.01M347.8,283.3h.01M364.3,287.8h.01M350.3,289.7h.01M355.8,290.3h.01M363.3,287.8h.01M339.3,290.7h.01M360.2,287.7h.01M363.4,285.2h.01M361.5,287.7h.01M363.2,286.3h.01M353.7,277.9h.01M365.0,287.0h.01M349.6,280.9h.01M354.5,282.7h.01M340.6,288.2h.01M360.9,284.0h.01M360.4,283.7h.01M365.0,286.1h.01M361.6,283.4h.01M341.8,289.4h.01M361.8,286.1h.01M350.5,290.4h.01M357.2,280.3h.01M355.3,288.7h.01M362.8,288.4h.01M353.2,289.1h.01M361.0,288.3h.01M366.1,286.9h.01M364.9,286.7h.01M359.8,288.5h.01M361.4,284.7h.01M356.8,283.3h.01M357.9,288.8h.01M353.0,289.2h.01M357.2,289.0h.01M362.6,285.6h.01M358.7,288.9h.01M361.3,283.7h.01M361.4,289.0h.01M362.8,285.4h.01M357.6,289.2h.01M359.9,285.9h.01M360.0,283.0h.01M358.6,289.0h.01M365.3,287.2h.01M340.6,290.7h.01M360.1,284.4h.01M364.3,286.5h.01M363.6,287.8h.01M362.7,287.1h.01M365.5,287.1h.01M365.8,287.0h.01M358.0,290.1h.01M362.9,286.0h.01M362.2,285.0h.01M331.4,277.8h.01M349.4,291.5h.01M353.0,284.4h.01M341.2,288.8h.01M365.2,287.2h.01M365.6,287.0h.01M349.1,289.6h.01M358.5,283.5h.01M349.1,293.2h.01M363.0,286.0h.01M361.7,286.2h.01M362.0,285.5h.01M338.1,290.6h.01M360.6,287.6h.01M361.5,285.4h.01M365.2,286.1h.01M356.8,288.8h.01M364.4,287.0h.01M360.4,284.0h.01M363.1,284.1h.01M360.0,288.6h.01M364.8,287.1h.01M355.0,289.3h.01M358.9,283.7h.01M365.1,286.3h.01M335.6,293.6h.01M360.4,282.2h.01M352.0,278.7h.01M365.9,286.4h.01M363.2,288.7h.01M343.5,276.4h.01M362.8,286.2h.01M355.1,291.2h.01M354.2,290.7h.01M352.6,289.6h.01M365.7,286.4h.01M364.3,287.6h.01M354.9,285.9h.01M364.1,287.2h.01M339.6,293.0h.01M360.9,288.3h.01M325.7,291.4h.01M363.2,285.9h.01M352.8,288.2h.01M359.5,284.1h.01M363.5,288.1h.01M364.8,286.2h.01M364.6,287.3h.01M349.3,282.8h.01M364.4,286.6h.01M338.1,291.6h.01M357.9,288.6h.01M362.0,288.6h.01M365.3,286.5h.01M364.0,287.6h.01M359.2,287.3h.01M363.0,288.0h.01M364.2,285.4h.01M358.2,285.5h.01M323.3,288.7h.01M363.5,285.1h.01M354.4,289.4h.01M362.5,284.4h.01M364.3,286.1h.01M359.6,283.6h.01M363.1,285.8h.01M349.1,289.4h.01M360.7,287.2h.01M352.8,291.0h.01M361.5,288.2h.01M361.6,287.6h.01M353.9,282.7h.01M363.3,284.9h.01M362.0,284.5h.01M351.5,277.3h.01M362.6,287.9h.01M360.6,289.1h.01M356.6,291.2h.01M364.3,287.3h.01M352.0,291.8h.01M360.4,288.4h.01M357.6,284.8h.01M349.4,283.0h.01M364.8,286.5h.01M365.5,286.5h.01M352.1,289.5h.01M361.7,285.9h.01M362.3,284.7h.01M342.4,291.0h.01M361.6,286.6h.01M362.1,284.7h.01M350.3,292.3h.01M364.1,286.5h.01M353.9,280.7h.01M356.1,289.8h.01M358.4,284.0h.01M354.3,288.1h.01M349.5,290.7h.01M361.4,286.6h.01M362.5,284.1h.01M357.3,287.7h.01M355.4,281.3h.01M361.4,284.2h.01M333.1,294.2h.01M354.7,282.7h.01M365.1,287.0h.01M356.8,290.0h.01M328.8,293.9h.01M354.6,279.7h.01M344.2,293.6h.01M366.2,286.9h.01M364.0,285.0h.01M364.6,286.1h.01M360.9,284.3h.01M336.1,279.3h.01M362.8,284.0h.01M342.7,293.2h.01M362.9,285.5h.01M360.2,284.0h.01M344.8,276.4h.01M365.8,286.7h.01M364.6,287.7h.01M352.4,289.1h.01M358.5,282.0h.01M348.3,288.1h.01M361.6,283.8h.01M361.8,285.4h.01M331.9,291.4h.01M356.9,290.2h.01M364.8,286.6h.01M364.2,287.5h.01M349.3,290.2h.01M353.7,280.4h.01M363.6,286.5h.01M358.1,283.2h.01M360.3,283.2h.01M356.9,280.8h.01M355.4,282.2h.01M358.7,287.8h.01M352.8,290.4h.01M362.4,285.9h.01M359.7,286.6h.01M346.1,278.3h.01M363.9,286.0h.01M359.2,283.2h.01M364.7,286.5h.01M355.3,290.9h.01M354.4,282.1h.01M365.7,286.9h.01M362.3,288.2h.01M362.9,284.6h.01M361.2,289.1h.01M352.9,278.3h.01M365.7,286.8h.01M358.1,283.2h.01M356.6,290.1h.01M364.5,286.3h.01M362.7,288.1h.01M365.5,286.1h.01M363.4,285.1h.01M353.5,288.9h.01M343.6,293.8h.01M364.8,286.5h.01M348.7,292.5h.01M361.9,288.1h.01M360.4,285.0h.01M351.8,291.1h.01M359.5,289.0h.01M357.4,285.2h.01M360.6,288.7h.01M364.7,287.1h.01M342.5,291.6h.01M353.4,288.3h.01M364.4,287.4h.01M358.6,289.3h.01M360.2,283.8h.01M358.0,288.6h.01M359.3,288.9h.01M352.5,290.4h.01M366.0,286.9h.01M354.2,284.7h.01M345.2,277.0h.01M357.5,288.3h.01M360.5,285.1h.01M358.1,285.4h.01M338.0,288.3h.01M362.5,285.9h.01M362.3,283.2h.01M365.2,286.3h.01M365.2,286.7h.01M363.4,287.5h.01M365.3,286.2h.01M349.4,284.6h.01M364.9,286.6h.01M363.5,284.3h.01M352.0,289.2h.01M359.1,284.8h.01M362.6,284.0h.01M349.9,292.6h.01M356.5,281.6h.01M363.9,285.8h.01M362.4,284.5h.01M363.0,288.7h.01M362.1,286.2h.01M356.7,281.3h.01M361.4,285.4h.01M341.8,277.9h.01M339.7,274.1h.01M342.5,292.7h.01M325.8,289.3h.01M350.1,288.4h.01M365.5,287.2h.01M353.1,287.6h.01M364.0,287.8h.01M354.4,290.4h.01M364.6,287.3h.01M348.3,280.4h.01M360.7,283.0h.01M355.1,289.4h.01M363.7,285.5h.01M354.2,281.9h.01M361.7,288.4h.01M355.0,282.6h.01M364.4,287.5h.01M354.9,291.6h.01M363.2,285.2h.01M362.7,288.8h.01M365.3,286.4h.01M359.1,286.2h.01M361.6,287.3h.01M353.5,287.4h.01M362.0,287.1h.01M365.7,286.4h.01M363.1,287.4h.01M362.2,287.1h.01M347.1,289.9h.01M360.3,288.4h.01M363.4,285.4h.01M364.6,287.7h.01M337.1,293.2h.01M364.3,287.9h.01M366.1,287.0h.01M362.2,283.7h.01M364.4,287.2h.01M362.7,284.1h.01M364.8,285.9h.01M361.6,284.4h.01M359.2,282.3h.01M353.7,290.5h.01M363.9,286.2h.01M363.1,288.1h.01M350.2,279.6h.01M361.3,287.8h.01M364.3,286.6h.01M359.2,284.3h.01M357.8,283.7h.01M356.4,289.3h.01M358.8,281.7h.01M363.1,284.1h.01M355.6,289.8h.01M361.0,283.2h.01M362.2,284.5h.01M358.9,283.7h.01M342.2,287.9h.01M359.4,281.5h.01M359.4,283.8h.01M366.1,286.9h.01M359.7,289.2h.01M357.7,289.7h.01M359.0,283.3h.01M339.0,288.0h.01M361.9,284.2h.01M363.3,284.6h.01M355.8,281.6h.01M354.3,291.4h.01M362.2,287.2h.01M362.4,288.4h.01M364.0,285.2h.01M356.5,288.6h.01M339.5,291.0h.01M335.9,292.0h.01M358.0,282.1h.01M350.7,279.9h.01M362.1,284.8h.01M358.8,286.1h.01M361.5,283.5h.01M358.1,289.9h.01M352.3,290.6h.01M365.1,286.8h.01M363.6,285.3h.01M359.1,289.4h.01M358.0,287.3h.01M360.0,288.5h.01M355.1,290.0h.01M349.5,290.9h.01M364.4,286.0h.01M358.1,288.5h.01M365.4,286.9h.01M364.1,287.1h.01M365.5,286.8h.01M363.1,284.9h.01M353.0,278.7h.01M361.2,286.0h.01M365.0,286.4h.01M365.6,287.1h.01M363.6,285.6h.01M365.8,286.7h.01M359.8,283.0h.01M351.9,280.2h.01M365.4,287.1h.01M346.0,275.9h.01M365.4,287.1h.01M358.1,290.5h.01M364.4,287.3h.01M345.8,290.8h.01M362.1,285.0h.01M357.7,286.4h.01M362.0,286.1h.01M363.8,286.3h.01M363.9,287.2h.01M359.9,283.3h.01M363.5,287.1h.01M357.5,282.5h.01M354.6,285.4h.01M364.3,287.3h.01M363.4,285.1h.01M358.6,284.4h.01M353.5,279.3h.01M364.5,287.2h.01M356.4,287.9h.01M341.4,280.9h.01M362.2,284.1h.01M360.5,286.2h.01M361.9,283.4h.01M366.0,287.0h.01M363.8,286.5h.01M364.0,287.2h.01M358.5,289.5h.01M361.2,287.9h.01M354.8,279.7h.01M363.1,287.5h.01M362.9,284.6h.01M363.8,287.3h.01M360.0,289.3h.01M363.6,287.8h.01M364.0,284.8h.01M359.3,287.8h.01M365.5,287.0h.01M363.6,284.9h.01M365.1,287.0h.01M362.9,284.8h.01M366.2,287.0h.01M355.9,289.7h.01M364.5,287.2h.01M363.0,285.3h.01M358.4,283.4h.01M365.4,287.0h.01M363.5,286.3h.01M364.8,285.7h.01M358.6,282.7h.01M341.6,287.8h.01M363.7,285.1h.01M364.2,287.4h.01M346.1,288.5h.01M357.5,290.1h.01M352.0,291.0h.01M365.8,286.5h.01M346.2,289.8h.01M355.8,280.0h.01M364.0,286.0h.01M357.0,280.3h.01M358.6,283.3h.01M354.6,280.3h.01M363.8,285.2h.01M344.5,292.8h.01M353.7,289.7h.01M361.5,283.2h.01M364.3,285.9h.01M363.8,286.2h.01M344.0,284.5h.01M364.3,285.4h.01M365.3,287.0h.01M358.7,284.0h.01M362.6,287.8h.01M363.8,287.8h.01M357.6,289.2h.01M365.1,286.5h.01M363.2,285.8h.01M349.7,292.8h.01M364.4,287.2h.01M356.4,289.0h.01M361.5,286.0h.01M358.4,281.4h.01M355.2,287.4h.01M362.7,285.1h.01M353.5,282.0h.01M362.0,286.6h.01M348.4,291.8h.01M365.4,286.9h.01M363.7,287.3h.01M349.5,284.0h.01M363.8,285.1h.01M343.1,289.2h.01M364.7,287.1h.01M365.5,286.8h.01M355.5,289.8h.01M362.9,284.2h.01M365.3,287.3h.01M365.4,287.3h.01M355.5,280.7h.01M365.5,286.8h.01M352.8,286.3h.01M365.1,286.0h.01M358.8,289.6h.01M339.9,293.3h.01M363.0,287.3h.01M361.7,283.8h.01M358.4,287.9h.01M353.2,287.5h.01M360.8,282.9h.01M353.8,280.5h.01M360.2,282.8h.01M364.5,287.2h.01M362.6,285.0h.01M359.9,289.0h.01M361.7,284.5h.01M362.8,284.2h.01M364.7,287.1h.01M364.8,287.3h.01M363.6,287.5h.01M356.9,291.0h.01M364.2,284.8h.01M358.9,289.0h.01M362.3,288.7h.01M354.4,289.4h.01M359.7,289.5h.01M358.1,283.1h.01M353.8,290.3h.01M364.3,286.3h.01M356.3,287.9h.01M363.4,284.8h.01M347.2,276.4h.01M355.0,289.9h.01M350.3,282.2h.01M351.0,290.3h.01M361.1,284.1h.01M363.2,285.9h.01M364.9,286.7h.01M356.0,288.1h.01M361.6,288.1h.01M358.7,287.5h.01M363.3,285.8h.01M352.6,292.2h.01M360.7,285.0h.01M350.1,289.4h.01M339.8,287.7h.01M349.0,276.7h.01M363.2,287.9h.01M363.4,285.5h.01M357.9,288.7h.01M357.0,283.1h.01M350.9,292.4h.01M364.5,287.5h.01M361.0,284.7h.01M364.5,286.4h.01M354.7,288.5h.01M361.9,284.7h.01M364.3,286.6h.01M363.3,286.5h.01M362.8,286.5h.01M364.0,285.2h.01M363.5,285.5h.01M361.6,289.3h.01M356.0,282.1h.01M354.1,281.5h.01M366.0,286.7h.01M356.6,282.6h.01M360.2,286.5h.01M354.2,288.9h.01M361.5,288.2h.01M343.6,291.6h.01M356.3,289.5h.01M355.5,285.7h.01M362.6,287.9h.01M354.4,288.5h.01M356.2,290.0h.01M364.9,285.9h.01M359.4,287.4h.01M361.4,284.5h.01M342.6,293.0h.01M355.7,290.6h.01M358.5,288.4h.01M357.1,285.0h.01M358.2,289.9h.01M364.2,285.1h.01M350.4,280.0h.01M360.3,284.1h.01M351.3,291.4h.01M359.6,285.4h.01M365.6,286.8h.01M351.5,291.8h.01M362.5,284.4h.01M354.5,278.7h.01M354.8,279.3h.01M354.2,288.6h.01M362.4,287.2h.01M361.9,287.6h.01M365.3,286.5h.01M366.0,286.8h.01M364.2,287.7h.01M365.0,287.1h.01M360.4,287.3h.01M362.9,285.3h.01M363.1,285.1h.01M365.4,286.3h.01M357.3,289.5h.01M364.4,286.1h.01M364.3,288.0h.01M361.0,286.1h.01M365.0,286.6h.01M359.6,288.7h.01M359.1,288.3h.01M361.6,284.1h.01M355.8,285.6h.01M357.9,284.3h.01M355.5,281.3h.01M361.7,287.9h.01M364.7,285.4h.01M358.5,288.7h.01M358.9,289.4h.01M363.3,287.9h.01M365.0,286.3h.01M359.5,282.8h.01M359.5,282.0h.01M360.2,285.5h.01M363.2,285.7h.01M365.5,286.8h.01M365.7,287.0h.01M365.0,286.4h.01M349.1,290.0h.01M358.0,281.7h.01M363.2,285.6h.01M351.4,290.1h.01M358.4,282.8h.01M356.3,282.9h.01M357.6,286.0h.01M363.3,287.1h.01M364.7,286.3h.01M362.7,287.4h.01M352.4,278.6h.01M358.9,288.7h.01M343.8,280.2h.01M364.2,286.7h.01M363.7,286.2h.01M356.8,286.3h.01M364.8,287.0h.01M366.0,286.7h.01M362.4,287.3h.01M359.8,288.1h.01M363.7,285.8h.01M329.0,293.6h.01M363.2,287.8h.01M358.1,282.1h.01M362.1,283.9h.01M361.9,285.7h.01M353.7,290.2h.01M350.8,292.2h.01M360.9,288.9h.01M363.8,285.5h.01M363.8,286.1h.01M364.6,285.5h.01M363.6,286.1h.01M360.7,285.6h.01M359.2,284.7h.01M358.3,289.0h.01M361.3,283.0h.01M357.9,281.7h.01M337.5,292.3h.01M364.1,286.7h.01M364.8,286.1h.01M365.2,286.0h.01M359.9,286.2h.01M364.8,287.3h.01M360.6,289.0h.01M359.9,288.6h.01M365.7,286.4h.01M364.2,287.2h.01M365.2,286.6h.01M357.1,283.5h.01M362.4,287.9h.01M363.1,284.5h.01M359.4,281.9h.01M358.2,283.4h.01M365.2,287.0h.01M360.5,284.3h.01M364.5,286.5h.01M363.0,285.0h.01M363.8,284.7h.01M358.3,289.6h.01M364.5,285.9h.01M337.1,287.8h.01M362.5,287.9h.01M344.0,276.6h.01M359.4,283.5h.01M364.1,285.6h.01M355.4,289.6h.01M356.6,289.0h.01M364.5,285.4h.01M357.7,284.7h.01M364.6,287.3h.01M365.7,287.3h.01M348.6,287.7h.01M353.4,281.0h.01M338.4,293.2h.01M361.4,282.9h.01M360.5,283.5h.01M362.3,285.8h.01M358.0,289.5h.01M350.5,291.2h.01M359.3,290.2h.01M358.4,284.8h.01M361.3,287.4h.01M362.8,285.1h.01M363.3,286.4h.01M357.6,281.6h.01M364.4,287.6h.01M361.0,282.5h.01M344.5,288.9h.01M364.4,287.8h.01M365.0,287.2h.01M365.3,286.9h.01M360.5,286.5h.01M364.2,285.9h.01M365.7,287.0h.01M360.9,283.3h.01M363.9,287.6h.01M365.3,286.8h.01M363.0,286.1h.01M343.9,287.7h.01M363.7,287.5h.01M352.9,290.0h.01M362.6,284.8h.01M363.9,285.0h.01M365.0,287.6h.01M365.9,287.0h.01M349.7,290.6h.01M366.0,287.1h.01M364.3,287.2h.01M363.6,288.1h.01M361.0,288.3h.01M365.1,287.3h.01M352.3,282.8h.01M361.9,284.1h.01M360.0,282.2h.01M355.6,284.6h.01M358.5,290.2h.01M363.1,288.1h.01M357.6,288.8h.01M331.9,292.7h.01M363.9,285.1h.01M353.2,289.0h.01M319.5,290.9h.01M364.4,286.3h.01M364.7,286.7h.01M360.1,283.2h.01M364.2,286.5h.01M344.8,292.8h.01M363.6,285.2h.01M356.4,290.6h.01M361.9,288.9h.01M361.9,285.5h.01M352.7,281.1h.01M362.9,287.9h.01M365.5,286.6h.01M352.5,281.1h.01M357.1,280.3h.01M356.4,280.7h.01M364.6,287.1h.01M355.0,284.5h.01M360.6,287.9h.01M354.1,291.1h.01M363.0,286.7h.01M361.7,287.4h.01M346.9,288.2h.01M363.3,287.9h.01M363.8,286.7h.01M363.4,284.8h.01M363.6,287.5h.01M361.6,289.1h.01M361.2,283.0h.01M365.4,286.9h.01M356.3,279.9h.01M361.0,284.0h.01M335.3,294.4h.01M363.4,285.8h.01M359.3,283.5h.01M328.7,297.2h.01M364.4,287.4h.01M363.1,287.7h.01M363.2,285.4h.01M360.3,283.7h.01M365.2,286.5h.01M360.9,288.0h.01M352.9,288.7h.01M361.8,283.7h.01M355.2,291.1h.01M313.8,294.6h.01M354.2,289.3h.01M363.5,285.1h.01M365.8,286.8h.01M365.2,286.3h.01M343.6,290.4h.01M354.9,279.6h.01M362.7,288.0h.01M354.7,290.5h.01M365.4,286.2h.01M357.9,289.7h.01M363.0,286.5h.01M357.3,288.2h.01M357.6,282.3h.01M340.6,290.5h.01M357.2,283.7h.01M365.1,286.6h.01M354.6,281.1h.01M366.0,286.9h.01M354.5,287.9h.01M357.2,280.9h.01M362.9,285.1h.01M359.3,290.2h.01M362.4,283.7h.01M362.7,284.4h.01M346.4,290.7h.01M356.8,287.7h.01M353.9,284.4h.01M363.2,287.4h.01M362.9,287.1h.01M345.1,291.7h.01M345.5,291.6h.01M361.7,289.1h.01M355.2,290.2h.01M364.7,287.7h.01M363.5,285.4h.01M364.5,287.3h.01M328.5,290.8h.01M356.9,288.9h.01M360.0,281.8h.01M359.9,287.8h.01M336.9,280.8h.01M362.9,287.2h.01M351.4,278.8h.01M362.7,285.1h.01M360.5,287.5h.01M353.7,284.4h.01M363.2,284.6h.01M355.2,287.5h.01M359.6,288.3h.01M364.9,287.3h.01M354.3,292.0h.01M330.6,296.7h.01M365.0,285.7h.01M349.7,292.3h.01M357.1,290.3h.01M355.9,281.7h.01M361.5,287.5h.01M364.5,287.1h.01M364.7,287.4h.01M353.0,289.5h.01M347.6,290.8h.01M359.5,283.2h.01M362.2,289.1h.01M362.4,284.1h.01M362.6,288.6h.01M353.9,291.0h.01M365.1,287.1h.01M352.5,289.3h.01M359.2,288.9h.01M362.5,285.0h.01M361.0,285.5h.01M362.7,284.2h.01M358.7,282.6h.01M335.2,292.7h.01M363.6,285.3h.01M364.6,287.1h.01M366.0,286.8h.01M363.4,285.7h.01M366.1,286.7h.01M361.5,287.7h.01M365.4,287.1h.01M365.1,287.4h.01M361.7,286.3h.01M363.1,287.7h.01M360.0,284.1h.01M364.1,285.8h.01M359.9,287.4h.01M357.9,281.3h.01M359.1,289.2h.01M348.6,288.5h.01M365.4,286.8h.01M366.0,287.1h.01M356.9,283.4h.01M366.0,286.7h.01M365.6,286.8h.01M364.9,287.1h.01M362.8,285.3h.01M352.0,284.3h.01M363.0,284.2h.01M360.9,285.4h.01M361.8,288.3h.01M357.7,280.6h.01M363.5,287.2h.01M361.9,287.9h.01M344.7,292.7h.01M363.2,287.8h.01M351.5,287.6h.01M349.5,292.3h.01M358.1,289.0h.01M355.4,281.8h.01M358.5,281.8h.01M364.8,286.3h.01M363.9,286.1h.01M359.5,288.6h.01M365.6,287.2h.01M361.5,283.4h.01M361.4,284.9h.01M350.1,277.5h.01M364.7,287.2h.01M363.2,288.6h.01M359.5,287.6h.01M359.9,288.4h.01M360.5,283.4h.01M364.6,287.6h.01M366.2,286.9h.01M360.0,288.1h.01M357.1,283.3h.01M361.9,285.7h.01M361.1,284.8h.01M353.6,284.2h.01M357.7,281.0h.01M363.8,287.8h.01M365.1,286.8h.01M363.8,288.2h.01M347.6,284.3h.01M362.6,284.9h.01M358.6,288.1h.01M358.3,287.8h.01M364.8,285.7h.01M351.7,282.7h.01M364.4,286.4h.01M360.2,288.5h.01M359.4,283.0h.01M359.3,282.4h.01M364.3,285.4h.01M363.7,285.4h.01M362.8,288.4h.01M364.2,285.6h.01M357.3,289.2h.01M361.8,287.7h.01M363.6,285.9h.01M365.1,286.4h.01M345.8,280.7h.01M346.0,289.0h.01M362.8,284.2h.01M362.9,285.6h.01M363.1,286.5h.01M364.1,287.6h.01M364.3,287.2h.01M360.5,287.5h.01M360.4,282.4h.01M361.7,287.4h.01M356.6,287.3h.01M365.2,287.1h.01M364.8,286.4h.01M354.7,282.6h.01M360.6,283.5h.01M360.9,282.6h.01M358.6,284.5h.01M360.7,288.2h.01M362.7,284.1h.01M365.3,286.4h.01M363.5,288.4h.01M360.9,287.4h.01M364.1,287.1h.01M350.2,290.2h.01M353.7,290.8h.01M362.9,285.2h.01M325.4,294.2h.01M365.2,286.4h.01M363.7,285.4h.01M365.3,287.5h.01M358.8,287.8h.01M354.2,279.7h.01M317.9,294.8h.01M365.8,286.9h.01M348.5,285.0h.01M365.7,287.0h.01M363.1,287.7h.01M358.2,289.0h.01M357.6,289.1h.01M354.5,288.0h.01M362.5,285.6h.01M363.6,287.8h.01M358.1,288.0h.01M365.5,287.0h.01M346.2,288.0h.01M365.9,286.9h.01M364.0,285.3h.01M360.7,285.2h.01M345.1,291.2h.01M364.5,287.2h.01M346.8,287.7h.01M364.7,285.9h.01M363.3,285.3h.01M365.6,286.0h.01M364.9,287.3h.01M359.2,288.6h.01M363.9,286.0h.01M363.6,287.8h.01M365.3,286.8h.01M359.7,288.1h.01M324.3,294.1h.01M344.8,292.2h.01M361.6,285.3h.01M364.6,285.7h.01M365.5,287.0h.01M357.5,282.8h.01M361.7,288.9h.01M361.5,286.3h.01M357.5,282.2h.01M360.5,285.2h.01M351.7,288.8h.01M354.2,281.5h.01M361.0,284.8h.01M364.1,285.9h.01M356.6,289.0h.01M362.9,284.2h.01M356.7,283.0h.01M356.7,289.5h.01M360.7,283.2h.01M358.7,285.2h.01M362.2,288.5h.01M363.5,285.6h.01M359.8,282.2h.01M365.5,287.2h.01M347.3,285.5h.01M360.7,287.7h.01M358.9,289.4h.01M364.7,286.3h.01M364.0,287.7h.01M357.2,288.1h.01M362.3,284.4h.01M341.7,292.9h.01M365.4,287.2h.01M364.4,287.1h.01M359.1,282.9h.01M358.8,285.6h.01M359.6,287.7h.01M341.0,292.2h.01M365.1,286.6h.01M360.2,284.0h.01M364.7,287.4h.01M354.5,289.2h.01M363.3,288.1h.01M353.4,281.5h.01M356.1,289.9h.01M365.3,286.8h.01M349.1,288.3h.01M365.3,286.2h.01M366.0,286.9h.01M363.5,285.5h.01M338.4,289.3h.01M346.3,291.2h.01M360.6,288.0h.01M364.6,286.1h.01M354.9,288.7h.01M354.9,281.2h.01M363.3,286.1h.01M364.0,285.4h.01M362.6,288.1h.01M344.6,291.2h.01M361.4,288.0h.01M366.6,286.9h.01M364.7,287.6h.01M363.6,285.4h.01M364.5,287.1h.01M350.7,289.9h.01M364.8,285.9h.01M351.0,287.7h.01M363.0,286.1h.01M358.4,283.9h.01M366.1,286.7h.01M363.6,285.3h.01M363.4,284.8h.01M335.7,280.6h.01M364.9,286.8h.01M362.4,285.4h.01M332.2,295.5h.01M354.5,285.8h.01M322.4,288.9h.01M362.3,283.5h.01M363.8,284.9h.01M363.7,284.8h.01M337.7,288.0h.01M365.0,286.4h.01M355.5,280.0h.01M365.3,286.8h.01M363.2,287.8h.01M361.1,283.7h.01M360.8,284.1h.01M356.4,288.3h.01M363.1,288.1h.01M361.8,283.2h.01M358.1,284.6h.01M347.3,292.2h.01M359.1,283.8h.01M356.7,285.2h.01M356.0,288.7h.01M353.0,290.0h.01M365.0,286.7h.01M362.4,285.7h.01M336.4,290.5h.01M361.6,287.6h.01M364.9,286.1h.01M363.2,285.8h.01M358.0,290.2h.01M365.1,286.8h.01M353.8,279.0h.01M359.1,284.9h.01M365.7,287.0h.01M360.3,282.9h.01M359.3,282.4h.01M360.7,289.0h.01M341.9,291.5h.01M365.0,286.7h.01M340.6,288.7h.01M353.5,290.3h.01M361.0,284.7h.01M358.7,287.9h.01M362.8,285.9h.01M349.1,291.6h.01M358.6,288.4h.01M361.3,284.9h.01M356.7,282.6h.01M364.3,285.6h.01M365.8,287.1h.01M353.7,278.6h.01M365.7,286.8h.01M364.4,285.3h.01M356.6,288.1h.01M359.3,289.2h.01M363.1,284.4h.01M365.3,286.3h.01M361.9,285.4h.01M361.2,284.3h.01M362.2,287.2h.01M356.9,283.4h.01M336.8,290.1h.01M364.1,286.0h.01M355.5,279.5h.01M360.6,283.1h.01M365.5,287.0h.01M358.1,288.3h.01M359.0,283.0h.01M362.0,285.6h.01M364.8,285.6h.01M365.3,286.7h.01M365.4,286.8h.01M365.5,286.9h.01M361.6,288.0h.01M365.3,286.2h.01M355.3,288.2h.01M356.0,280.9h.01M365.5,287.3h.01M364.0,287.5h.01M364.6,286.7h.01M353.2,291.3h.01M363.3,285.2h.01M345.9,291.3h.01M331.3,291.6h.01M357.8,280.9h.01M365.2,287.0h.01M355.1,289.4h.01M364.1,285.6h.01M359.4,285.9h.01M365.5,286.8h.01M361.3,285.2h.01M357.8,290.1h.01M352.6,282.1h.01M362.8,287.4h.01M365.4,286.7h.01M360.8,284.6h.01M359.4,288.9h.01M359.3,282.4h.01M364.4,287.0h.01M352.1,279.5h.01M361.8,285.7h.01M354.0,282.0h.01M357.9,290.2h.01M351.8,292.4h.01M363.3,285.2h.01M353.8,280.9h.01M364.9,286.7h.01M349.5,290.7h.01M334.8,291.9h.01M362.6,288.3h.01M364.6,287.7h.01M358.2,281.8h.01M362.3,284.3h.01M355.2,288.4h.01M364.9,285.7h.01M358.0,282.6h.01M363.7,287.5h.01M364.9,286.4h.01M352.7,280.1h.01M356.7,288.2h.01M349.5,287.8h.01M361.7,287.4h.01M356.4,291.2h.01M362.5,288.4h.01M359.0,282.1h.01M360.2,287.8h.01M353.4,283.0h.01M363.5,285.6h.01M350.5,278.8h.01M363.3,285.5h.01M357.4,288.6h.01M364.0,286.5h.01M362.3,284.4h.01M305.4,292.3h.01M359.0,287.7h.01M365.1,287.4h.01M358.7,290.3h.01M354.8,290.7h.01M365.3,287.8h.01M347.4,288.5h.01M363.3,288.0h.01M361.0,288.5h.01M354.3,279.2h.01M364.2,285.8h.01M361.6,288.4h.01M357.0,280.0h.01M365.7,287.1h.01M356.4,283.5h.01M365.4,286.7h.01M363.1,285.6h.01M361.2,282.9h.01M361.3,288.9h.01M364.0,286.5h.01M358.4,288.2h.01M345.0,293.0h.01M358.8,283.6h.01M358.0,288.7h.01M362.2,288.6h.01M360.3,282.1h.01M361.6,288.1h.01M362.9,285.0h.01M352.6,278.9h.01M365.1,286.0h.01M352.9,286.3h.01M363.9,285.4h.01M363.5,285.8h.01M335.6,293.7h.01M342.6,281.8h.01M361.8,288.2h.01M365.8,286.9h.01M363.7,287.1h.01M364.6,285.8h.01M349.2,289.0h.01M359.9,287.5h.01M362.4,287.9h.01M362.2,286.5h.01M357.6,290.1h.01M354.0,290.4h.01M358.0,281.6h.01M351.9,285.0h.01M365.5,286.8h.01M362.4,288.0h.01M365.5,287.2h.01M362.2,288.7h.01M358.5,283.0h.01M337.5,276.6h.01M365.7,286.8h.01M357.1,281.2h.01M364.9,285.9h.01M359.4,287.6h.01M342.8,288.2h.01M359.5,281.8h.01M360.1,284.6h.01M365.3,287.0h.01M365.5,287.0h.01M363.3,287.9h.01M362.3,288.5h.01M362.6,284.2h.01M345.2,290.3h.01M363.2,285.5h.01M359.2,282.1h.01M361.5,287.8h.01M359.2,288.4h.01M345.8,289.5h.01M356.2,290.7h.01M364.4,286.1h.01M355.6,283.5h.01M358.9,285.2h.01M362.1,286.0h.01M359.1,283.3h.01M357.7,284.3h.01M364.8,286.6h.01M361.4,286.4h.01M363.2,284.7h.01M361.3,287.5h.01M357.3,280.9h.01M358.6,281.4h.01M363.9,285.5h.01M363.0,287.4h.01M357.4,290.0h.01M364.1,284.6h.01M362.4,284.1h.01M334.9,291.0h.01M353.3,287.5h.01M364.2,285.8h.01M360.3,284.2h.01M360.9,286.1h.01M351.0,279.1h.01M359.9,283.6h.01M356.8,282.2h.01M358.6,281.3h.01M363.3,287.9h.01M356.9,286.0h.01M355.6,283.9h.01M357.1,288.9h.01M350.1,291.5h.01M360.6,284.1h.01M357.7,283.5h.01M350.7,284.1h.01M343.7,289.7h.01M364.0,285.3h.01M352.2,279.1h.01M333.6,288.1h.01M337.0,289.8h.01M360.5,288.7h.01M362.3,287.9h.01M358.7,289.3h.01M365.6,286.7h.01M355.1,285.3h.01M363.3,288.0h.01M362.4,284.9h.01M351.1,291.7h.01M341.2,293.6h.01M360.9,288.1h.01M365.0,287.6h.01M349.5,292.2h.01M360.5,288.8h.01M363.6,285.6h.01M365.6,287.2h.01M364.3,286.2h.01M361.3,287.7h.01M363.7,285.5h.01M364.1,285.9h.01M358.2,288.3h.01M354.4,279.8h.01M365.3,286.9h.01M365.0,286.5h.01M365.5,287.2h.01M355.6,281.7h.01M363.6,286.4h.01M362.2,286.1h.01M364.7,286.1h.01M354.0,290.0h.01M362.2,285.4h.01M357.2,290.7h.01M358.0,289.8h.01M360.3,289.0h.01M364.2,285.6h.01M364.8,286.2h.01M357.7,280.9h.01M328.4,282.4h.01M350.0,291.5h.01M365.9,286.8h.01M352.1,279.9h.01M357.9,284.2h.01M342.2,276.9h.01M354.4,290.5h.01M362.8,288.0h.01M356.2,281.5h.01M361.9,287.4h.01M358.7,284.8h.01M361.7,286.3h.01M359.1,281.6h.01M347.0,290.3h.01M358.5,288.6h.01M365.6,286.2h.01M357.2,288.5h.01M358.9,288.6h.01M362.8,286.4h.01M355.2,289.7h.01M365.5,286.4h.01M332.8,295.3h.01M340.3,291.0h.01M365.6,286.6h.01M363.6,287.7h.01M363.3,285.8h.01M361.3,283.6h.01M364.8,286.2h.01M354.4,289.2h.01M365.2,287.2h.01M356.7,288.3h.01M360.6,289.4h.01M365.1,287.1h.01M365.2,286.5h.01M359.3,285.0h.01M364.4,287.2h.01M357.0,279.9h.01M362.8,287.5h.01M358.6,281.6h.01M352.6,283.8h.01M364.0,285.9h.01M329.9,290.9h.01M358.4,289.1h.01M364.0,286.1h.01M363.7,287.5h.01M358.9,285.0h.01M365.8,286.9h.01M363.3,288.1h.01M361.0,288.6h.01M360.3,282.1h.01M364.2,287.3h.01M363.7,287.9h.01M364.7,287.2h.01M346.2,281.4h.01M335.7,282.3h.01M365.2,287.2h.01M364.3,287.1h.01M359.9,287.4h.01M364.5,285.6h.01M365.4,287.2h.01M362.2,287.5h.01M322.6,297.5h.01M352.9,291.8h.01M361.5,284.0h.01M356.3,284.4h.01M364.8,286.0h.01M346.0,291.4h.01M360.7,287.9h.01M359.7,281.7h.01M351.3,288.2h.01M338.0,288.3h.01M362.7,287.5h.01M359.7,284.3h.01M357.4,290.3h.01M345.2,293.8h.01M365.1,287.1h.01M361.1,284.8h.01M348.4,277.1h.01M347.7,292.7h.01M365.6,287.0h.01M355.0,285.5h.01M365.5,286.9h.01M364.6,286.2h.01M364.2,285.0h.01M365.1,286.0h.01M361.9,285.4h.01M356.5,283.7h.01M364.4,286.4h.01M358.7,281.4h.01M355.8,289.0h.01M362.7,287.8h.01M361.3,285.7h.01M364.1,285.4h.01M362.5,287.7h.01M365.6,287.0h.01M360.4,282.6h.01M358.3,285.7h.01M364.0,287.1h.01M363.4,285.6h.01M364.9,287.2h.01M363.8,285.7h.01M363.5,284.6h.01M350.1,284.1h.01M361.3,288.0h.01M363.1,288.2h.01M353.3,289.4h.01M364.8,287.0h.01M350.4,289.9h.01M365.0,286.0h.01M362.3,285.8h.01M364.5,287.6h.01M350.1,288.7h.01M361.8,284.1h.01M355.1,281.8h.01M365.4,286.5h.01M361.5,285.6h.01M364.9,287.5h.01M346.1,275.8h.01M354.2,288.4h.01M357.4,289.9h.01M364.5,285.6h.01M360.2,283.1h.01M346.9,293.3h.01M364.3,287.1h.01M365.5,286.6h.01M353.8,291.3h.01M361.9,287.7h.01M366.1,287.0h.01M359.1,288.9h.01M332.3,296.8h.01M361.9,288.7h.01M358.3,288.7h.01M363.3,284.8h.01M342.3,293.2h.01M364.6,286.5h.01M361.8,286.0h.01M359.8,284.7h.01M344.8,289.6h.01M352.9,290.4h.01M362.2,284.4h.01M357.0,287.5h.01M365.7,286.8h.01M366.0,286.6h.01M356.9,290.3h.01M365.6,287.0h.01M348.9,280.2h.01M365.6,286.9h.01M356.8,283.9h.01M365.3,286.9h.01M364.9,285.9h.01M352.9,290.2h.01M354.3,290.9h.01M362.5,288.8h.01M360.7,286.3h.01M361.7,287.5h.01M361.7,287.6h.01M363.2,287.7h.01M363.6,285.0h.01M357.9,283.1h.01M364.9,286.7h.01M361.7,284.0h.01M365.2,286.5h.01M365.8,287.1h.01M363.6,287.8h.01M362.1,288.8h.01M363.8,285.2h.01M364.5,286.2h.01M364.9,286.5h.01M363.3,287.7h.01M359.8,284.5h.01M340.3,283.6h.01M365.1,286.8h.01M356.7,289.4h.01M355.4,288.1h.01M355.8,283.2h.01M358.6,284.2h.01M363.8,287.5h.01M357.2,288.9h.01M364.0,285.6h.01M364.7,285.6h.01M354.8,289.2h.01M361.2,289.0h.01M359.3,281.7h.01M358.3,289.2h.01M354.4,288.9h.01M360.2,289.2h.01M360.8,289.0h.01M362.9,284.4h.01M357.3,288.6h.01M360.8,288.4h.01M364.0,286.1h.01M356.7,289.2h.01M350.3,288.4h.01M353.2,281.5h.01M352.9,291.2h.01M358.8,284.1h.01M365.4,286.9h.01M363.0,285.1h.01M356.2,288.7h.01M352.6,290.2h.01M365.7,286.9h.01M365.9,286.7h.01M365.2,286.3h.01M356.6,285.7h.01M330.5,293.7h.01M353.9,288.6h.01M341.7,294.7h.01M350.1,287.9h.01M365.0,286.6h.01M359.4,287.7h.01M359.6,288.8h.01M365.2,286.6h.01M351.5,286.0h.01M361.9,283.0h.01M364.4,287.5h.01M359.2,289.9h.01M362.4,284.2h.01M363.0,286.1h.01M348.8,288.2h.01M345.9,287.7h.01M352.9,282.5h.01M349.5,293.1h.01M364.5,285.6h.01M361.6,285.6h.01M362.2,285.4h.01M364.9,285.4h.01M360.6,289.7h.01M362.8,285.8h.01M349.2,280.8h.01M363.4,288.1h.01M361.8,288.1h.01M363.4,287.7h.01M365.3,286.8h.01M362.6,288.3h.01M364.8,287.0h.01M360.2,283.7h.01M364.1,287.4h.01M349.7,292.9h.01M354.4,289.6h.01M353.5,283.7h.01M358.6,283.9h.01M363.6,288.2h.01M342.7,290.9h.01M346.9,280.3h.01M350.9,288.8h.01M366.1,287.0h.01M363.1,287.4h.01M365.2,286.3h.01M355.8,281.4h.01M358.6,282.2h.01M354.5,283.2h.01M347.2,290.1h.01M361.9,284.3h.01M361.1,285.4h.01M363.7,287.1h.01M352.4,290.4h.01M365.9,286.9h.01M359.5,284.3h.01M359.3,284.5h.01M356.8,284.4h.01M364.3,286.0h.01M361.9,288.4h.01M365.1,286.2h.01M330.5,293.3h.01M364.5,286.1h.01M354.9,287.8h.01M343.1,289.1h.01M359.0,285.9h.01M363.3,287.7h.01M352.5,284.6h.01M360.8,289.1h.01M366.2,286.9h.01M352.6,290.1h.01M363.0,286.6h.01M361.5,287.3h.01M365.7,286.1h.01M364.5,285.8h.01M354.5,280.0h.01M353.1,289.3h.01M359.2,285.6h.01M359.9,285.5h.01M364.0,285.5h.01M359.6,282.7h.01M362.3,287.6h.01M359.5,289.4h.01M361.5,288.0h.01M356.5,283.5h.01M362.1,284.2h.01M361.2,283.6h.01M358.8,284.6h.01M361.2,289.2h.01M355.0,290.4h.01M363.0,284.3h.01M354.7,291.1h.01M355.0,288.5h.01M365.3,286.7h.01M360.7,286.6h.01M362.0,284.5h.01M352.9,289.7h.01M362.8,284.2h.01M364.4,286.2h.01M364.8,287.4h.01M355.5,282.5h.01M363.7,288.0h.01M325.1,290.9h.01M356.3,287.8h.01M358.4,289.7h.01M357.3,290.2h.01M357.5,285.6h.01M361.3,285.9h.01M356.4,289.1h.01M366.1,286.8h.01M361.5,283.2h.01M349.8,291.8h.01M361.8,284.1h.01M313.3,293.1h.01M361.6,284.1h.01M344.7,289.6h.01M353.1,291.2h.01M364.3,286.6h.01M362.6,288.0h.01M360.3,284.4h.01M360.1,288.3h.01M351.6,280.4h.01M355.8,290.0h.01M351.3,277.8h.01M363.0,287.8h.01M352.0,290.6h.01M351.1,288.3h.01M364.2,287.1h.01M337.9,293.5h.01M351.9,278.3h.01M360.3,286.1h.01M358.0,288.5h.01M353.9,288.9h.01M364.8,287.3h.01M338.1,288.5h.01M351.8,283.4h.01M365.6,287.3h.01M363.7,284.9h.01M357.6,288.4h.01M358.6,285.3h.01M362.5,285.0h.01M357.4,283.9h.01M363.3,285.9h.01M360.5,282.5h.01M366.0,286.9h.01M340.5,294.2h.01M363.5,285.8h.01M361.6,285.7h.01M364.6,287.2h.01M354.4,280.7h.01M356.4,284.4h.01M363.6,287.6h.01M365.3,285.6h.01M362.9,287.9h.01M354.6,288.8h.01M366.0,287.0h.01M365.1,287.2h.01M365.4,286.8h.01M363.0,284.1h.01M366.0,286.9h.01M359.9,282.9h.01M351.2,288.1h.01M358.4,281.3h.01M364.6,286.1h.01M365.5,287.1h.01M354.9,289.9h.01M361.5,285.3h.01M355.8,289.3h.01M356.2,281.8h.01M362.3,287.7h.01M326.1,290.7h.01M356.9,281.3h.01M363.3,287.3h.01M365.6,286.5h.01M364.3,285.9h.01M360.5,287.3h.01M351.7,280.4h.01M364.7,286.2h.01M357.4,290.7h.01M364.2,287.6h.01M359.9,285.1h.01M365.2,287.0h.01M364.0,285.7h.01M345.4,289.5h.01M335.5,291.1h.01M359.5,287.7h.01M363.1,288.0h.01M362.1,284.6h.01M359.9,289.2h.01M355.6,279.4h.01M365.1,287.2h.01M362.4,285.4h.01M364.8,286.2h.01M364.5,285.8h.01M355.6,284.0h.01M344.1,292.4h.01M362.5,286.1h.01M341.2,291.1h.01M365.2,285.9h.01M365.4,286.8h.01M354.8,288.6h.01M362.4,284.5h.01M365.5,286.8h.01M362.4,285.9h.01M361.4,285.3h.01M362.1,284.3h.01M357.1,283.5h.01M363.3,285.9h.01M356.9,284.3h.01M341.3,293.1h.01M363.5,285.4h.01M343.3,288.9h.01M363.5,286.4h.01M359.5,285.1h.01M360.8,282.2h.01M364.0,285.1h.01M355.1,283.7h.01M358.7,289.5h.01M361.6,286.5h.01M355.5,280.7h.01M365.1,286.6h.01M358.6,290.2h.01M360.0,283.5h.01M355.3,281.6h.01M360.0,288.1h.01M366.0,286.7h.01M353.9,289.3h.01M362.1,284.0h.01M365.1,286.2h.01M361.5,284.3h.01M362.9,287.7h.01M364.6,287.3h.01M360.2,284.6h.01M362.6,288.3h.01M362.8,287.7h.01M361.4,284.3h.01M358.1,288.0h.01M365.0,287.2h.01M361.1,284.7h.01M359.4,283.4h.01M361.5,283.0h.01M362.2,285.8h.01M355.0,289.3h.01M363.6,286.4h.01M365.7,286.7h.01M364.3,287.4h.01M359.9,284.3h.01M356.8,282.7h.01M365.1,286.5h.01M363.0,287.5h.01M365.9,286.9h.01M365.0,287.1h.01M354.5,283.7h.01M363.7,287.5h.01M360.3,282.7h.01M365.2,286.8h.01M365.1,287.3h.01M364.9,286.1h.01M347.2,277.0h.01M358.1,288.6h.01M360.2,288.1h.01M362.8,284.2h.01M364.4,286.3h.01M363.5,285.1h.01M359.7,289.0h.01M360.9,283.6h.01M356.4,282.3h.01M365.0,287.1h.01M363.1,285.2h.01M366.0,286.9h.01M358.6,289.5h.01M356.4,280.0h.01M365.3,286.8h.01M357.0,290.6h.01M364.5,287.2h.01M363.5,285.7h.01M362.8,285.2h.01M358.5,284.2h.01M360.8,285.7h.01M365.1,287.4h.01M355.4,287.3h.01M362.9,285.1h.01M359.9,283.7h.01M362.9,287.8h.01M365.8,287.0h.01M361.3,284.6h.01M355.6,283.0h.01M363.4,285.9h.01M365.0,286.6h.01M365.0,286.2h.01M361.4,283.6h.01M355.6,289.6h.01M364.6,287.3h.01M356.9,288.4h.01M364.1,285.8h.01M353.1,288.5h.01M348.9,280.5h.01M354.5,288.8h.01M364.3,286.6h.01M356.0,283.3h.01M363.9,284.5h.01M353.3,290.5h.01M364.6,287.3h.01M356.4,288.6h.01M365.2,286.2h.01M344.1,276.3h.01M354.7,291.0h.01M360.0,283.1h.01M344.0,289.4h.01M365.4,286.7h.01M347.1,277.6h.01M357.3,286.0h.01M364.6,286.2h.01M354.8,284.8h.01M359.8,288.0h.01M363.9,285.2h.01M356.9,290.3h.01M364.4,285.5h.01M364.4,286.3h.01M348.5,291.4h.01M365.3,287.0h.01M362.8,286.0h.01M359.8,283.2h.01M345.0,290.7h.01M363.3,285.2h.01M364.4,286.6h.01M364.7,286.4h.01M362.5,285.7h.01M360.9,282.7h.01M333.7,292.1h.01M362.2,283.5h.01M358.2,288.2h.01M358.7,285.2h.01M355.9,284.6h.01M365.7,286.5h.01M348.4,291.5h.01M360.7,284.2h.01M364.0,285.6h.01M358.7,283.5h.01M365.6,286.4h.01M361.6,284.9h.01M361.9,287.5h.01M352.6,290.3h.01M364.6,287.2h.01M361.8,283.9h.01M361.1,283.5h.01M364.5,287.1h.01M355.7,289.1h.01M354.1,279.2h.01M357.5,283.0h.01M362.7,284.5h.01M359.9,283.3h.01M365.3,287.1h.01M365.8,286.7h.01M365.5,286.5h.01M359.8,282.3h.01M363.0,287.7h.01M352.6,288.5h.01M342.2,290.8h.01M360.9,283.0h.01M361.0,285.7h.01M318.5,296.8h.01M361.7,284.3h.01M362.3,288.3h.01M359.5,285.2h.01M358.0,285.1h.01M360.4,285.8h.01M365.2,286.6h.01M365.6,286.8h.01M363.5,287.4h.01M364.0,285.2h.01M359.3,281.1h.01M359.4,287.6h.01M359.9,282.1h.01M356.0,282.0h.01M358.6,289.1h.01M365.3,287.2h.01M359.7,289.1h.01M365.7,286.9h.01M343.4,290.4h.01M363.6,287.6h.01M357.6,284.2h.01M366.8,287.0h.01M352.7,287.9h.01M365.4,287.0h.01M365.4,287.2h.01M360.7,289.0h.01M358.5,288.9h.01M362.7,285.0h.01M364.4,285.0h.01M363.1,285.9h.01M358.8,283.3h.01M354.6,289.6h.01M359.0,282.9h.01M361.9,287.2h.01M362.7,284.7h.01M364.0,287.2h.01M361.1,284.1h.01M355.9,288.1h.01M361.7,288.4h.01M361.5,287.5h.01M366.2,287.0h.01M362.2,283.7h.01M358.0,289.8h.01M362.1,283.5h.01M353.1,281.4h.01M360.8,283.9h.01M364.8,286.7h.01M354.5,291.4h.01M356.3,280.2h.01M364.9,287.1h.01M361.1,287.4h.01M365.1,287.1h.01M363.6,285.1h.01M346.7,279.4h.01M365.4,286.6h.01M362.0,285.7h.01M355.5,289.0h.01M364.8,287.5h.01M359.2,288.3h.01M364.7,287.4h.01M346.1,292.8h.01M365.0,287.5h.01M359.4,281.4h.01M360.0,288.8h.01M362.1,283.0h.01M364.7,286.5h.01M359.5,289.5h.01M357.0,282.9h.01M341.2,292.8h.01M364.5,287.1h.01M363.6,285.3h.01M358.5,284.0h.01M361.8,288.0h.01M358.0,281.5h.01M357.6,289.2h.01M337.3,295.2h.01M363.5,284.9h.01M356.5,289.3h.01M362.3,283.7h.01M360.1,288.8h.01M346.6,291.6h.01M364.8,286.7h.01M365.7,287.3h.01M365.6,286.3h.01M325.2,292.1h.01M331.5,291.5h.01M360.0,284.1h.01M361.9,283.5h.01M361.3,288.7h.01M351.1,282.3h.01M361.3,288.3h.01M364.4,287.2h.01M336.4,273.2h.01M363.5,287.4h.01M348.8,279.9h.01M358.5,280.6h.01M356.0,289.7h.01M362.9,284.9h.01M359.1,282.6h.01M364.1,285.5h.01M360.0,285.9h.01M364.8,287.0h.01M341.1,288.2h.01M364.9,286.5h.01M359.8,285.1h.01M360.7,289.1h.01M363.1,288.1h.01M361.4,286.2h.01M356.9,288.9h.01M357.6,288.9h.01M365.1,287.2h.01M359.8,288.0h.01M364.7,286.2h.01M360.3,287.7h.01M364.6,286.5h.01M318.8,297.5h.01M358.2,287.8h.01M349.1,288.3h.01M364.1,286.4h.01M366.4,287.0h.01M348.3,281.5h.01M357.4,280.6h.01M359.9,282.9h.01M361.2,283.0h.01M362.7,287.5h.01M364.0,285.3h.01M343.1,278.9h.01M361.7,286.3h.01M366.4,286.8h.01M359.7,289.4h.01M357.3,288.0h.01M356.2,283.6h.01M364.1,287.3h.01M364.1,286.0h.01M361.3,287.9h.01M364.1,287.2h.01M347.9,277.9h.01M364.7,286.6h.01M362.8,285.2h.01M361.4,286.6h.01M362.4,287.2h.01M358.4,288.7h.01M365.8,287.0h.01M364.3,288.1h.01M364.1,287.3h.01M363.6,286.4h.01M360.3,285.4h.01M365.2,286.5h.01M364.9,286.8h.01M365.0,286.3h.01M363.1,288.3h.01M364.6,286.1h.01M362.0,285.5h.01M365.5,287.0h.01M363.5,287.8h.01M363.4,286.1h.01M322.8,293.5h.01M362.1,283.6h.01M360.4,283.1h.01M356.0,284.5h.01M326.7,291.0h.01M360.2,285.8h.01M351.5,289.1h.01M365.3,285.5h.01M358.2,284.0h.01M334.4,290.3h.01M350.2,291.3h.01M361.5,288.7h.01M365.0,286.8h.01M364.2,286.5h.01M364.3,287.5h.01M364.4,287.4h.01M357.6,280.4h.01M364.7,286.8h.01M342.0,280.1h.01M360.3,288.6h.01M364.1,287.8h.01M366.3,286.9h.01M355.6,289.0h.01M365.9,286.9h.01M336.6,276.8h.01M364.0,284.7h.01M357.9,288.5h.01M357.2,281.2h.01M360.0,284.5h.01M350.7,289.7h.01M365.3,286.2h.01M365.0,286.7h.01M365.8,286.7h.01M356.2,288.9h.01M352.7,288.3h.01M365.2,286.2h.01M361.9,285.0h.01M365.0,287.3h.01M364.3,287.1h.01M361.5,286.0h.01M345.2,282.4h.01M365.4,287.0h.01M354.2,288.3h.01M363.9,287.7h.01M365.6,287.0h.01M363.9,287.6h.01M365.3,286.6h.01M360.2,288.3h.01M339.3,290.0h.01M360.7,282.8h.01M346.7,289.0h.01M343.2,290.3h.01M349.3,290.9h.01M350.4,291.6h.01M364.9,286.7h.01M355.8,288.4h.01M359.9,283.1h.01M355.0,288.9h.01M362.3,287.4h.01M360.4,283.0h.01M359.0,289.3h.01M363.7,287.1h.01M355.7,288.4h.01M361.8,289.0h.01M360.7,289.6h.01M363.2,286.3h.01M354.8,283.2h.01M353.4,288.4h.01M354.5,281.9h.01M365.4,287.1h.01M364.3,287.2h.01M354.3,290.9h.01M362.4,285.3h.01M364.9,287.6h.01M354.3,291.0h.01M345.5,289.6h.01M360.4,287.9h.01M353.6,290.4h.01M357.9,282.3h.01M357.8,282.9h.01M353.3,288.1h.01M356.4,290.3h.01M362.2,284.5h.01M357.3,284.7h.01M366.2,286.7h.01M361.6,287.4h.01M342.6,291.2h.01M365.4,286.7h.01M362.6,284.9h.01M357.8,287.8h.01M358.6,282.5h.01M364.3,286.8h.01M365.4,286.4h.01M347.4,293.1h.01M364.1,285.7h.01M359.6,283.9h.01M364.1,287.3h.01M362.1,285.6h.01M358.3,282.9h.01M365.3,286.5h.01M360.7,283.1h.01M359.6,288.5h.01M365.9,287.2h.01M362.6,287.8h.01M362.7,285.2h.01M365.1,287.4h.01M366.0,287.1h.01M357.0,284.7h.01M360.0,283.6h.01M355.0,291.2h.01M361.1,289.0h.01M355.8,281.7h.01M364.5,285.5h.01M360.5,289.0h.01M357.4,284.7h.01M364.1,286.1h.01M364.0,286.5h.01M365.5,287.0h.01M355.2,280.0h.01M364.2,287.3h.01M358.4,281.8h.01M344.6,290.5h.01M363.9,286.5h.01M362.3,285.1h.01M364.0,287.5h.01M356.5,284.6h.01M364.7,285.8h.01M356.9,287.6h.01M361.7,284.7h.01M361.2,285.6h.01M365.1,286.9h.01M362.0,284.1h.01M342.6,290.5h.01M341.0,287.6h.01M363.9,287.1h.01M335.6,289.7h.01M329.6,291.8h.01M352.6,281.2h.01M338.8,294.5h.01M361.2,283.8h.01M358.9,281.1h.01M354.2,288.0h.01M366.0,286.8h.01M344.3,290.7h.01M359.2,287.9h.01M365.4,287.0h.01M364.2,286.0h.01M364.7,285.9h.01M357.3,283.4h.01M361.9,284.2h.01M364.2,287.2h.01M342.9,290.9h.01M322.2,296.7h.01M364.8,286.6h.01M355.9,284.3h.01M345.7,291.3h.01M357.5,284.5h.01M347.4,276.3h.01M365.2,286.6h.01M365.5,286.4h.01M354.2,279.0h.01M364.8,285.5h.01M363.4,287.1h.01M362.3,287.3h.01M361.9,284.4h.01M362.7,287.5h.01M363.7,284.7h.01M352.0,289.9h.01M356.2,281.0h.01M358.6,284.4h.01M362.0,285.1h.01M362.6,283.9h.01M358.2,284.1h.01M332.5,292.3h.01M364.8,285.8h.01M362.9,284.2h.01M342.5,290.9h.01M360.0,283.5h.01M360.2,285.2h.01M346.2,290.0h.01M357.0,290.5h.01M365.5,287.3h.01M365.5,287.0h.01M356.5,289.9h.01M356.3,283.1h.01M359.6,283.2h.01M356.2,289.3h.01M364.2,287.7h.01M365.2,287.0h.01M365.2,286.4h.01M356.0,289.1h.01M365.1,287.3h.01M361.8,287.9h.01M360.4,282.9h.01M362.2,285.3h.01M353.1,289.2h.01M362.8,285.3h.01M363.4,284.6h.01M365.5,286.8h.01M361.8,285.9h.01M363.3,284.6h.01M354.0,286.1h.01M358.4,289.6h.01M358.1,282.6h.01M364.3,286.3h.01M361.6,284.0h.01M346.1,290.9h.01M361.0,287.8h.01M352.6,288.2h.01M364.4,287.0h.01M348.7,279.5h.01M359.6,282.6h.01M362.7,284.4h.01M358.2,285.1h.01M364.1,285.7h.01M362.7,284.8h.01M365.7,286.8h.01M363.9,286.7h.01M343.8,274.2h.01M359.9,284.7h.01M363.1,287.7h.01M360.4,289.1h.01M364.3,286.5h.01M363.2,287.4h.01M362.0,284.6h.01M346.1,289.9h.01M364.9,287.3h.01M363.0,284.3h.01M365.3,286.6h.01M359.1,286.3h.01M361.6,283.5h.01M337.2,292.9h.01M346.6,288.0h.01M365.6,286.7h.01M351.9,291.3h.01M355.5,281.7h.01M331.7,289.6h.01M353.7,288.8h.01M350.1,280.7h.01M363.0,287.7h.01M342.5,289.7h.01M361.6,285.0h.01M366.1,286.9h.01M363.9,286.4h.01M358.8,284.9h.01M355.4,288.7h.01M361.0,284.4h.01M362.2,288.2h.01M362.5,284.4h.01M362.5,284.9h.01M364.4,287.4h.01M358.2,289.2h.01M364.5,286.5h.01M365.1,287.1h.01M359.9,289.8h.01M363.2,285.5h.01M365.7,286.6h.01M364.3,286.0h.01M356.2,289.0h.01M351.1,287.5h.01M363.2,286.4h.01M348.0,290.9h.01M362.0,284.9h.01M353.6,280.2h.01M364.6,287.2h.01M353.0,291.8h.01M357.0,290.9h.01M363.2,284.4h.01M354.0,291.0h.01M363.3,285.6h.01M355.4,288.1h.01M348.6,281.4h.01M365.3,287.3h.01M356.2,289.8h.01M360.1,286.0h.01M364.9,285.8h.01M360.0,287.6h.01M365.4,286.6h.01M363.4,287.3h.01M359.4,285.0h.01M347.4,293.5h.01M365.4,286.8h.01M355.5,291.2h.01M365.6,286.5h.01M348.8,289.7h.01M365.3,286.9h.01M363.0,284.3h.01M359.9,287.8h.01M357.1,288.0h.01M364.0,287.3h.01M363.1,285.3h.01M351.0,289.9h.01M363.5,287.8h.01M360.9,284.1h.01M361.7,287.2h.01M365.2,286.3h.01M345.2,290.2h.01M364.6,286.3h.01M356.4,281.0h.01M362.4,285.6h.01M365.0,286.0h.01M352.5,288.1h.01M357.1,287.9h.01M362.4,285.4h.01M358.5,285.3h.01M362.1,283.7h.01M354.1,284.9h.01M365.4,287.4h.01M349.0,290.0h.01M339.8,290.8h.01M361.8,285.2h.01M361.1,285.2h.01M360.2,285.5h.01M365.0,287.3h.01M362.1,284.6h.01M343.2,283.1h.01M352.5,291.2h.01M363.2,288.2h.01M365.3,286.5h.01M343.4,289.5h.01M353.4,291.6h.01M363.5,288.0h.01M342.4,281.0h.01M362.0,287.4h.01M363.9,285.1h.01M362.8,285.3h.01M353.2,288.7h.01M365.4,286.0h.01M353.4,288.8h.01M364.1,287.1h.01M364.8,287.1h.01M347.6,293.6h.01M348.1,289.6h.01M360.4,285.7h.01M364.3,285.4h.01M359.3,284.3h.01M347.5,276.4h.01M365.3,287.4h.01M358.9,289.8h.01M361.1,289.5h.01M360.7,282.7h.01M330.4,291.5h.01M365.3,287.2h.01M355.2,279.2h.01M363.4,287.5h.01M354.2,290.5h.01M351.4,289.0h.01M351.3,289.3h.01M357.7,282.9h.01M355.7,289.2h.01M354.8,289.9h.01M362.5,288.0h.01M362.7,283.6h.01M350.0,284.8h.01M344.1,288.7h.01M359.0,288.5h.01M362.5,286.1h.01M363.7,288.0h.01M357.2,285.0h.01M362.9,284.9h.01M360.4,283.9h.01M364.2,284.8h.01M354.7,281.0h.01M364.9,287.0h.01M364.5,286.0h.01M365.1,286.5h.01M364.0,285.9h.01M350.3,288.0h.01M362.9,284.5h.01M366.2,286.9h.01M364.7,285.8h.01M328.4,294.4h.01M364.1,286.0h.01M363.2,286.3h.01M360.4,285.0h.01M363.3,286.0h.01M365.5,287.1h.01M364.1,285.8h.01M358.2,290.0h.01M364.4,285.7h.01M364.5,287.1h.01M355.8,289.6h.01M366.0,286.9h.01M365.6,286.6h.01M365.5,286.7h.01M349.2,282.2h.01M357.7,288.3h.01M356.9,288.0h.01M365.7,286.7h.01M348.9,290.8h.01M355.2,290.2h.01M340.7,291.8h.01M363.7,287.4h.01M350.6,291.2h.01M365.7,287.0h.01M364.4,286.2h.01M357.4,287.4h.01M362.9,287.5h.01M363.7,286.3h.01M339.2,293.4h.01M365.4,286.7h.01M362.3,284.0h.01M347.9,287.7h.01M344.9,292.6h.01M361.0,284.4h.01M362.3,284.6h.01M356.0,279.7h.01M346.5,276.2h.01M365.6,287.0h.01M359.1,288.3h.01M365.6,286.5h.01M360.6,289.2h.01M364.0,287.3h.01M356.5,283.1h.01M347.4,288.9h.01M361.1,283.7h.01M343.0,292.2h.01M352.0,288.9h.01M360.2,284.4h.01M366.3,286.9h.01M358.9,283.6h.01M365.4,286.7h.01M365.1,287.2h.01M364.9,286.7h.01M362.2,287.4h.01M364.4,287.2h.01M364.5,286.7h.01M344.8,289.7h.01M351.7,286.0h.01M360.7,285.3h.01M359.3,288.7h.01M360.2,289.1h.01M363.4,286.4h.01M355.3,290.1h.01M362.8,287.9h.01M363.9,287.2h.01M361.7,288.7h.01M317.3,291.1h.01M357.3,289.7h.01M350.6,285.4h.01M366.0,286.3h.01M365.7,287.1h.01M358.0,282.2h.01M363.1,285.8h.01M365.4,287.0h.01M365.5,287.0h.01M354.7,289.4h.01M354.5,290.1h.01M340.5,293.3h.01M363.7,285.0h.01M319.6,272.6h.01M324.6,294.3h.01M348.0,291.6h.01M360.7,285.2h.01M357.8,281.0h.01M358.1,283.8h.01M360.4,288.5h.01M362.1,283.8h.01M359.5,283.5h.01M354.3,281.5h.01M338.0,288.6h.01M359.8,283.3h.01M357.0,282.3h.01M356.1,290.1h.01M357.7,286.2h.01M359.5,286.1h.01M357.2,283.6h.01M365.7,286.8h.01M357.8,282.4h.01M337.1,293.0h.01M362.9,284.5h.01M344.5,281.3h.01M356.9,285.8h.01M364.1,286.0h.01M359.2,288.2h.01M363.1,287.2h.01M360.1,282.9h.01M360.6,283.1h.01M349.9,289.1h.01M365.7,287.0h.01M365.3,287.2h.01M363.0,287.8h.01M364.1,286.1h.01M363.6,287.7h.01M363.5,284.9h.01M357.9,287.9h.01M359.1,289.5h.01M358.8,281.8h.01M353.7,283.1h.01M362.9,288.2h.01M335.9,293.1h.01M364.3,285.8h.01M363.6,284.9h.01M362.7,284.5h.01M362.2,287.6h.01M365.1,286.2h.01M351.8,280.5h.01M366.3,286.7h.01M365.1,287.1h.01M362.7,285.2h.01M363.3,285.1h.01M345.4,293.2h.01M363.2,284.6h.01M365.6,286.9h.01M365.8,287.0h.01M365.3,286.9h.01M354.4,279.3h.01M365.9,287.0h.01M360.9,288.7h.01M357.7,281.0h.01M364.5,286.3h.01M360.3,285.5h.01M364.8,286.5h.01M344.0,289.3h.01M344.7,274.9h.01M358.1,285.1h.01M362.1,286.3h.01M358.2,288.7h.01M345.3,289.4h.01M361.6,285.6h.01M347.0,291.4h.01M364.2,285.8h.01M363.4,286.5h.01M347.0,289.7h.01M361.8,284.1h.01M357.7,289.7h.01M364.9,287.1h.01M361.4,287.9h.01M357.2,283.6h.01M363.8,287.7h.01M364.6,287.8h.01M362.8,287.1h.01M358.9,286.1h.01M364.3,287.4h.01M356.1,283.8h.01M364.6,286.3h.01M350.0,280.7h.01M357.2,289.4h.01M352.8,281.1h.01M363.7,285.3h.01M355.2,279.3h.01M351.5,279.4h.01M356.7,284.2h.01M358.4,288.7h.01M359.3,289.9h.01M352.9,282.8h.01M361.1,282.8h.01M353.3,279.5h.01M355.5,288.7h.01M361.0,284.3h.01M352.5,290.4h.01M365.1,287.1h.01M361.6,287.5h.01M353.3,281.9h.01M355.0,289.0h.01M338.0,288.8h.01M365.4,286.7h.01M359.6,288.7h.01M360.5,288.9h.01M355.8,280.0h.01M345.6,275.5h.01M362.0,284.1h.01M361.5,287.5h.01M363.2,286.1h.01M345.9,289.0h.01M355.9,284.4h.01M358.6,287.4h.01M363.1,287.8h.01M354.5,289.5h.01M360.4,285.5h.01M364.8,287.4h.01M342.0,289.4h.01M348.1,277.2h.01M362.2,288.2h.01M362.0,287.7h.01M363.8,287.7h.01M358.7,287.5h.01M365.9,286.9h.01M357.9,282.1h.01M360.9,284.1h.01M362.9,288.1h.01M365.4,286.9h.01M339.6,288.6h.01M365.4,286.8h.01M359.5,289.0h.01M364.9,287.1h.01M355.3,288.0h.01M365.0,285.9h.01M359.4,281.5h.01M355.9,284.3h.01M354.1,280.9h.01M357.7,281.9h.01M347.2,284.2h.01M352.5,288.8h.01M355.2,284.8h.01M359.0,287.8h.01M360.6,285.6h.01M360.8,283.1h.01M347.6,291.0h.01M363.1,288.1h.01M363.7,287.8h.01M353.9,282.5h.01M361.1,284.3h.01M354.0,283.2h.01M347.6,292.3h.01M361.3,287.2h.01M361.0,285.4h.01M353.8,291.3h.01M365.8,286.7h.01M357.8,280.8h.01M347.1,291.4h.01M360.1,282.5h.01M365.2,287.2h.01M362.9,288.1h.01M334.3,293.8h.01M360.3,289.2h.01M365.5,286.8h.01M359.5,284.4h.01M357.1,290.3h.01M361.9,287.8h.01M362.5,284.4h.01M353.4,291.1h.01M356.5,280.7h.01M360.4,288.5h.01M364.4,287.8h.01M360.0,288.8h.01M365.1,286.6h.01M359.8,288.9h.01M356.7,288.5h.01M363.8,287.7h.01M365.5,287.2h.01M363.1,288.2h.01M353.1,289.7h.01M365.0,286.2h.01M363.1,286.1h.01M365.3,287.2h.01M340.2,294.5h.01M342.5,290.2h.01M363.8,284.8h.01M343.2,282.8h.01M361.7,288.2h.01M359.4,283.6h.01M363.6,286.2h.01M357.1,279.9h.01M347.4,289.5h.01M364.2,287.4h.01M349.5,292.1h.01M365.7,286.8h.01M364.8,287.2h.01M361.8,285.0h.01M356.8,280.1h.01M363.8,287.5h.01M365.4,287.1h.01M365.1,286.3h.01M362.9,287.5h.01M364.0,285.7h.01M364.1,286.2h.01M365.5,286.8h.01M341.1,294.4h.01M364.8,287.4h.01M356.4,291.3h.01M337.4,293.5h.01M363.9,285.6h.01M363.5,285.8h.01M364.3,285.4h.01M364.2,286.3h.01M359.8,282.4h.01M364.9,287.1h.01M362.8,283.9h.01M364.0,288.2h.01M359.9,288.7h.01M357.6,283.3h.01M353.7,280.2h.01M357.5,282.5h.01M357.6,283.7h.01M358.8,289.0h.01M364.0,287.2h.01M351.9,291.1h.01M366.1,287.2h.01M344.5,288.5h.01M363.3,287.5h.01M357.7,289.7h.01M362.1,288.3h.01M355.8,289.6h.01M361.0,288.6h.01M362.9,286.6h.01M362.4,283.7h.01M362.0,286.4h.01M355.9,290.5h.01M362.0,286.4h.01M362.5,287.6h.01M359.3,282.6h.01M366.2,286.7h.01M364.7,286.0h.01M344.9,291.3h.01M365.8,286.5h.01M335.5,293.8h.01M357.2,283.9h.01M349.8,288.3h.01M346.6,282.8h.01M363.3,287.7h.01M365.4,287.3h.01M364.6,285.8h.01M361.1,283.3h.01M362.5,288.1h.01M334.2,295.9h.01M360.1,284.4h.01M362.9,285.6h.01M348.8,291.8h.01M352.9,291.0h.01M359.8,285.7h.01M358.8,281.7h.01M365.2,286.7h.01M364.5,287.6h.01M337.5,294.0h.01M364.7,287.7h.01M325.1,293.9h.01M364.2,286.0h.01M347.4,293.2h.01M356.4,288.9h.01M346.5,293.1h.01M362.0,287.8h.01M359.0,288.4h.01M364.9,287.1h.01M354.1,287.8h.01M363.6,287.4h.01M360.5,283.2h.01M361.0,284.7h.01M363.8,287.2h.01M364.6,287.3h.01M355.9,280.7h.01M354.6,281.5h.01M358.6,288.2h.01M361.7,283.4h.01M336.8,293.7h.01M364.7,287.1h.01M364.8,286.0h.01M351.1,291.6h.01M362.4,287.7h.01M365.2,287.4h.01M360.1,288.8h.01M346.4,288.4h.01M361.6,282.9h.01M344.7,289.0h.01M364.1,285.4h.01M364.7,285.6h.01M358.4,288.9h.01M351.9,288.7h.01M362.4,288.3h.01M365.4,287.2h.01M348.5,291.5h.01M349.5,290.8h.01M365.3,286.4h.01M353.4,290.3h.01M364.1,285.1h.01M361.4,285.9h.01M334.8,289.8h.01M356.6,290.5h.01M360.8,287.9h.01M359.9,284.3h.01M339.2,290.2h.01M365.6,286.2h.01M355.8,289.0h.01M359.2,289.2h.01M363.3,284.2h.01M358.8,282.7h.01M360.0,283.1h.01M350.1,285.0h.01M361.5,283.8h.01M364.3,287.5h.01M357.4,288.1h.01M363.3,286.0h.01M354.5,282.1h.01M359.2,282.9h.01M363.5,284.8h.01M358.1,281.2h.01M348.7,279.7h.01M364.7,287.1h.01M365.2,286.4h.01M346.0,275.3h.01M364.4,285.5h.01M359.5,289.7h.01M361.4,284.1h.01M363.6,286.2h.01M360.8,287.8h.01M361.2,288.4h.01M364.5,286.2h.01M363.3,287.5h.01M359.1,284.9h.01M362.6,284.3h.01M362.8,287.6h.01M366.2,286.9h.01M364.3,286.0h.01M366.1,286.6h.01M359.7,283.0h.01M355.4,282.3h.01M355.4,288.9h.01M365.3,287.1h.01M359.5,289.5h.01M333.7,287.9h.01M356.2,281.8h.01M362.1,284.5h.01M363.8,287.1h.01M363.7,285.9h.01M362.3,287.4h.01M355.1,281.3h.01M348.0,288.5h.01M362.7,284.8h.01M365.7,286.8h.01M356.9,284.9h.01M359.5,285.1h.01M363.4,286.4h.01M354.4,288.9h.01M350.2,291.1h.01M364.9,286.2h.01M365.1,287.1h.01M358.9,282.5h.01M366.3,286.9h.01M336.0,288.7h.01M349.5,278.6h.01M361.1,283.4h.01M362.5,285.8h.01M358.9,289.7h.01M363.7,287.8h.01M338.1,281.8h.01M362.1,285.3h.01M351.7,281.4h.01M355.9,281.0h.01M364.2,285.3h.01M363.3,285.2h.01M356.4,290.4h.01M356.1,280.5h.01M362.3,284.6h.01M359.1,282.6h.01M364.6,286.1h.01M362.8,285.7h.01M365.6,286.9h.01M338.1,289.4h.01M365.1,286.6h.01M353.6,284.7h.01M360.9,284.2h.01M363.2,288.3h.01M360.4,287.4h.01M362.4,288.1h.01M365.9,286.8h.01M360.3,289.1h.01M363.0,287.5h.01M365.1,287.2h.01M357.7,284.7h.01M360.1,283.4h.01M348.9,289.0h.01M363.3,288.2h.01M360.5,282.4h.01M358.5,283.0h.01M350.9,279.0h.01M363.7,285.6h.01M354.1,284.3h.01M364.8,286.3h.01M365.3,287.0h.01M361.9,284.1h.01M352.3,288.7h.01M364.1,285.1h.01M363.3,285.6h.01M361.6,284.0h.01M351.9,288.5h.01M342.1,279.3h.01M365.2,287.2h.01M364.1,285.2h.01M363.7,285.6h.01M365.1,287.4h.01M352.5,284.3h.01M362.1,284.4h.01M352.8,288.3h.01M351.8,282.9h.01M327.6,294.5h.01M341.3,288.7h.01M347.0,291.8h.01M363.9,285.4h.01M362.6,288.2h.01M364.8,286.2h.01M334.6,293.9h.01M365.4,287.1h.01M359.4,281.1h.01M364.5,285.8h.01M360.7,288.1h.01M340.9,293.1h.01M363.4,288.2h.01M363.3,288.1h.01M342.6,294.1h.01M358.3,284.0h.01M361.4,282.8h.01M357.0,288.7h.01M362.4,283.6h.01M364.7,287.6h.01M363.2,287.9h.01M341.5,289.4h.01M356.6,287.9h.01M354.5,288.9h.01M358.7,288.8h.01M353.6,289.4h.01M356.2,281.3h.01M364.3,287.6h.01M364.1,287.1h.01M363.6,285.8h.01M365.9,286.8h.01M360.4,283.6h.01M336.5,279.8h.01M354.2,289.4h.01M361.2,283.2h.01M353.0,289.4h.01M365.6,286.9h.01M364.1,285.4h.01M364.2,285.9h.01M365.0,286.1h.01M348.7,288.0h.01M362.7,285.7h.01M361.3,283.9h.01M364.6,287.3h.01M363.0,285.6h.01M364.7,286.5h.01M353.0,289.2h.01M362.7,288.3h.01M354.7,288.4h.01M364.8,286.1h.01M364.8,287.0h.01M360.8,285.7h.01M365.4,286.7h.01M321.0,294.0h.01M352.8,278.7h.01M346.2,289.3h.01M362.9,288.1h.01M362.0,289.0h.01M364.5,286.8h.01M363.0,287.8h.01M360.5,284.2h.01M364.5,287.8h.01M364.1,286.0h.01M364.8,287.1h.01M362.9,285.5h.01M363.8,287.4h.01M359.7,288.0h.01M348.9,281.2h.01M361.0,288.8h.01M364.8,287.1h.01M356.5,289.5h.01M344.7,290.2h.01M363.0,286.6h.01M363.8,286.0h.01M363.1,286.7h.01M365.0,287.5h.01M359.4,284.9h.01M351.6,289.1h.01M353.1,280.4h.01M365.8,286.3h.01M361.6,287.9h.01M362.8,287.8h.01M360.4,289.6h.01M362.0,288.4h.01M361.4,288.8h.01M365.0,286.5h.01M355.6,279.4h.01M354.3,289.0h.01M346.1,274.9h.01M355.9,289.3h.01M364.4,285.8h.01M359.1,284.3h.01M357.3,281.0h.01M356.0,290.8h.01M355.4,282.4h.01M361.4,284.4h.01M365.6,286.8h.01M365.6,287.1h.01M354.8,281.2h.01M364.8,286.6h.01M363.8,287.9h.01M365.0,286.3h.01M356.2,282.1h.01M340.8,294.8h.01M361.5,284.1h.01M339.4,290.6h.01M354.6,279.4h.01M362.7,288.1h.01M359.9,285.3h.01M351.3,290.6h.01M359.4,288.0h.01M361.3,286.0h.01M361.1,284.2h.01M356.2,289.4h.01M365.7,286.6h.01M361.1,286.2h.01M334.8,294.6h.01M340.8,289.7h.01M360.1,287.8h.01M348.1,291.3h.01M360.3,288.0h.01M365.9,286.8h.01M363.9,286.3h.01M362.7,288.3h.01M362.5,287.8h.01M358.9,288.1h.01M349.5,289.3h.01M365.4,286.8h.01M360.8,283.8h.01M364.8,286.1h.01M364.7,286.1h.01M359.8,285.4h.01M363.6,285.9h.01M365.3,286.6h.01M364.3,286.5h.01M352.7,291.0h.01M360.8,283.0h.01M363.6,287.5h.01M357.9,289.6h.01M354.2,279.3h.01M364.2,285.5h.01M365.4,286.8h.01M363.6,287.6h.01M355.7,284.8h.01M363.5,286.4h.01M355.5,283.5h.01M364.1,285.6h.01M359.6,285.4h.01M363.6,287.7h.01M359.1,285.0h.01M360.8,287.3h.01M363.5,285.9h.01M364.2,285.7h.01M345.3,289.2h.01M366.2,286.8h.01M360.6,285.9h.01M364.6,287.5h.01M364.5,287.6h.01M359.9,284.9h.01M354.0,285.5h.01M364.6,286.4h.01M348.9,277.8h.01M345.3,289.4h.01M360.7,284.7h.01M338.3,291.7h.01M337.0,290.5h.01M353.2,292.4h.01M362.3,289.0h.01M365.9,285.8h.01M339.6,274.6h.01M353.8,285.7h.01M355.1,289.9h.01M364.8,287.0h.01M356.1,284.4h.01M356.2,288.1h.01M361.0,284.3h.01M350.0,291.3h.01M364.1,285.7h.01M365.3,286.6h.01M357.2,288.9h.01M359.8,283.2h.01M357.4,289.3h.01M365.6,286.7h.01M349.1,292.9h.01M360.4,289.5h.01M365.2,287.1h.01M344.5,292.8h.01M360.9,284.7h.01M363.5,285.1h.01M364.5,287.2h.01M348.6,282.2h.01M346.8,292.9h.01M360.5,288.9h.01M363.6,285.6h.01M350.5,291.5h.01M360.9,285.3h.01M352.0,280.6h.01M362.7,284.6h.01M364.9,285.8h.01M362.7,288.0h.01M349.3,292.8h.01M363.2,284.8h.01M356.2,289.1h.01M355.3,287.8h.01M358.3,289.7h.01M357.5,287.8h.01M359.6,289.1h.01M361.5,288.9h.01M346.2,292.2h.01M360.2,284.7h.01M364.5,287.5h.01M357.1,282.0h.01M332.2,295.6h.01M341.5,290.8h.01M353.0,291.1h.01M364.9,287.2h.01M355.9,282.9h.01M358.9,284.6h.01M355.1,286.1h.01M357.6,280.6h.01M364.4,286.3h.01M352.2,289.7h.01M364.4,285.6h.01M351.1,289.1h.01M362.7,286.6h.01M363.0,287.3h.01M363.7,286.3h.01M359.8,289.0h.01M347.1,288.2h.01M365.3,287.2h.01M365.6,286.7h.01M358.3,288.8h.01M363.8,285.1h.01M345.0,288.6h.01M356.3,286.0h.01M363.0,284.5h.01M365.3,286.8h.01M349.8,292.4h.01M362.9,284.1h.01M362.1,288.0h.01M359.8,284.5h.01M365.7,286.2h.01M361.2,285.6h.01M364.0,284.8h.01M362.2,287.8h.01M359.1,287.9h.01M358.3,285.1h.01M360.9,289.3h.01M351.7,291.5h.01M365.4,287.1h.01M362.2,288.5h.01M352.0,283.8h.01M360.5,288.0h.01M356.7,279.8h.01M365.3,286.7h.01M365.2,286.2h.01M345.0,290.5h.01M351.8,285.2h.01M353.2,280.2h.01M346.8,289.5h.01M361.7,287.7h.01M347.8,280.0h.01M364.4,286.1h.01M354.6,284.8h.01M363.8,285.4h.01M351.8,289.1h.01M359.6,288.1h.01M362.9,285.5h.01M363.8,285.3h.01M365.9,286.8h.01M358.3,289.4h.01M362.8,287.5h.01M365.9,286.8h.01M357.5,281.8h.01M334.0,293.7h.01M365.3,286.4h.01M363.5,285.5h.01M363.9,287.4h.01M365.5,286.7h.01M364.3,285.2h.01M365.4,286.2h.01M362.1,288.0h.01M364.5,285.8h.01M359.8,289.0h.01M348.5,275.8h.01M362.1,288.5h.01M365.1,286.5h.01M357.8,281.1h.01M364.6,287.1h.01M349.2,288.7h.01M360.9,282.8h.01M365.4,286.8h.01M361.9,283.6h.01M358.6,284.2h.01M361.5,288.3h.01M364.5,285.9h.01M358.7,285.1h.01M357.0,288.2h.01M361.5,282.4h.01M359.2,288.5h.01M364.4,286.7h.01M355.0,288.3h.01M362.2,287.9h.01M365.1,285.8h.01M347.6,290.6h.01M365.0,287.2h.01M358.6,287.6h.01M365.6,287.0h.01M353.3,289.0h.01M364.1,286.4h.01M364.2,285.6h.01M363.5,286.0h.01M364.8,287.1h.01M361.6,286.1h.01M364.7,286.0h.01M364.4,286.0h.01M365.5,286.8h.01M356.8,283.9h.01M365.0,286.1h.01M361.0,288.0h.01M354.8,280.8h.01M362.1,285.0h.01M318.3,297.3h.01M363.6,288.2h.01M365.3,286.9h.01M364.7,286.3h.01M366.0,287.0h.01M356.7,288.3h.01M365.2,287.3h.01M361.4,288.1h.01M364.1,287.3h.01M362.8,288.1h.01M364.3,287.7h.01M362.3,288.3h.01M353.5,289.8h.01M348.6,288.3h.01M362.5,286.1h.01M365.2,286.1h.01M333.8,292.6h.01M362.6,287.3h.01M332.9,294.6h.01M364.4,285.8h.01M359.1,284.0h.01M353.1,289.3h.01M362.0,288.4h.01M364.8,285.5h.01M359.6,283.2h.01M353.7,288.1h.01M345.3,288.2h.01M365.6,287.1h.01M356.2,284.9h.01M362.2,284.9h.01M353.1,279.7h.01M363.1,285.2h.01M350.5,289.6h.01M357.3,288.7h.01M353.6,290.6h.01M366.5,286.9h.01M361.8,284.2h.01M332.4,288.3h.01M365.4,286.9h.01M356.7,283.6h.01M359.4,284.7h.01M361.2,282.8h.01M363.3,287.1h.01M365.1,286.7h.01M358.4,285.2h.01M351.5,288.2h.01M362.6,288.2h.01M356.6,290.4h.01M356.9,282.5h.01M364.1,285.7h.01M364.3,287.4h.01M365.5,286.7h.01M360.5,282.9h.01M365.1,286.4h.01M365.1,286.1h.01M363.3,285.5h.01M360.5,289.5h.01M365.1,287.1h.01M362.1,288.3h.01M363.3,286.3h.01M353.6,284.7h.01M362.8,287.5h.01M355.5,288.9h.01M354.0,290.9h.01M338.3,279.5h.01M358.4,289.2h.01M364.2,286.0h.01M363.8,287.5h.01M337.6,290.0h.01M358.6,287.9h.01M361.4,287.9h.01M353.1,281.3h.01M363.1,284.8h.01M359.6,284.7h.01M310.9,290.2h.01M361.3,287.5h.01M365.2,286.2h.01M347.3,292.7h.01M326.8,289.5h.01M347.4,290.5h.01M362.2,288.0h.01M365.5,286.8h.01M363.9,288.2h.01M364.3,287.3h.01M364.7,285.9h.01M361.5,288.8h.01M364.5,285.3h.01M365.6,286.9h.01M360.9,282.6h.01M365.8,286.5h.01M353.9,279.9h.01M349.7,289.0h.01M360.0,282.1h.01M360.7,284.7h.01M351.1,288.1h.01M353.8,279.5h.01M363.1,284.9h.01M358.7,288.5h.01M361.8,285.6h.01M362.1,287.6h.01M365.6,286.6h.01M348.5,291.4h.01M362.3,287.3h.01M364.2,285.7h.01M358.5,282.4h.01M348.5,288.6h.01M362.4,284.9h.01M350.9,289.1h.01M363.4,287.5h.01M359.1,288.4h.01M357.4,288.2h.01M359.6,288.2h.01M355.2,288.5h.01M343.0,294.5h.01M353.6,278.2h.01M361.8,286.0h.01M364.2,285.9h.01M337.4,278.4h.01M358.9,283.4h.01" stroke="#0b3a9e" stroke-width="1.0" stroke-linecap="round" opacity="0.62" fill="none"/>
<path d="M362.8,285.4h.01M360.3,294.1h.01M356.3,273.0h.01M359.3,298.3h.01M359.9,295.5h.01M359.4,280.4h.01M364.7,290.1h.01M363.7,286.4h.01M342.8,270.6h.01M354.1,273.3h.01M360.4,281.3h.01M358.4,295.8h.01M355.6,283.1h.01M364.7,287.6h.01M357.1,280.1h.01M360.0,279.3h.01M358.0,274.6h.01M362.2,284.6h.01M354.3,277.0h.01M355.9,292.7h.01M365.4,286.2h.01M363.3,287.8h.01M360.5,284.4h.01M352.3,274.0h.01M356.7,281.0h.01M347.7,261.9h.01M357.1,289.4h.01M348.8,298.7h.01M357.0,296.1h.01M362.1,291.9h.01M351.4,279.6h.01M359.7,293.6h.01M354.2,278.3h.01M368.0,287.5h.01M365.0,286.1h.01M358.6,298.0h.01M362.4,289.2h.01M353.5,276.9h.01M362.0,289.5h.01M354.2,276.1h.01M358.5,284.9h.01M362.4,284.6h.01M365.0,287.6h.01M361.8,283.9h.01M361.6,286.0h.01M356.3,281.5h.01M358.4,277.7h.01M344.0,298.1h.01M360.6,290.0h.01M341.1,325.8h.01M363.9,285.9h.01M363.0,288.1h.01M360.4,290.8h.01M340.5,278.7h.01M364.4,286.2h.01M356.1,281.3h.01M357.3,296.2h.01M355.5,279.1h.01M348.6,302.3h.01M358.4,293.1h.01M362.6,284.3h.01M358.4,293.4h.01M351.5,280.9h.01M353.3,276.3h.01M362.1,292.8h.01M357.3,285.3h.01M362.0,285.9h.01M338.4,308.0h.01M349.4,296.4h.01M352.2,293.7h.01M351.2,307.4h.01M352.7,291.8h.01M360.3,281.3h.01M341.9,303.3h.01M355.4,278.6h.01M362.8,291.9h.01M344.2,296.5h.01M364.6,286.9h.01M360.3,283.4h.01M358.2,303.4h.01M352.9,293.1h.01M357.7,282.6h.01M354.9,292.3h.01M363.6,290.6h.01M352.6,297.2h.01M360.7,282.4h.01M360.5,291.7h.01M355.1,295.3h.01M366.9,288.1h.01M363.2,292.4h.01M361.7,295.6h.01M360.4,291.0h.01M358.0,292.8h.01M358.7,291.2h.01M358.0,290.3h.01M341.1,305.9h.01M357.7,292.6h.01M360.9,282.0h.01M355.7,297.6h.01M362.3,293.5h.01M361.9,293.3h.01M362.5,285.4h.01M354.4,299.6h.01M362.2,291.0h.01M357.3,297.3h.01M363.4,288.0h.01M359.9,293.9h.01M338.4,306.5h.01M362.9,286.2h.01M363.1,285.1h.01M362.7,284.5h.01M361.6,289.1h.01M364.5,288.5h.01M346.4,298.5h.01M353.4,302.8h.01M360.3,284.5h.01M366.3,287.7h.01M361.7,291.0h.01M363.9,290.0h.01M358.6,282.7h.01M363.6,290.4h.01M364.1,288.5h.01M364.5,286.2h.01M350.3,300.2h.01M363.8,285.2h.01M361.3,290.3h.01M359.5,290.7h.01M365.6,288.3h.01M356.6,275.9h.01M361.8,279.7h.01M361.6,287.8h.01M356.6,290.5h.01M341.8,267.9h.01M360.2,284.0h.01M359.8,283.3h.01M347.8,300.5h.01M362.2,286.4h.01M364.7,287.5h.01M366.1,286.7h.01M362.1,287.4h.01M359.2,284.0h.01M355.9,282.0h.01M365.2,287.5h.01M365.3,287.7h.01M345.6,308.4h.01M361.7,285.9h.01M362.3,288.6h.01M353.6,276.0h.01M355.8,281.2h.01M360.9,284.8h.01M348.7,294.6h.01M362.1,289.6h.01M344.9,307.9h.01M366.3,287.3h.01M355.5,296.1h.01M366.1,287.4h.01M331.7,319.2h.01M345.9,308.2h.01M345.9,307.8h.01M361.3,290.3h.01M363.2,284.8h.01M355.7,276.7h.01M352.7,294.8h.01M361.1,285.8h.01M363.4,286.5h.01M363.9,290.4h.01M362.2,290.6h.01M355.4,292.3h.01M362.2,285.5h.01M364.7,283.9h.01M360.1,289.7h.01M355.5,296.0h.01M351.0,298.2h.01M365.1,290.2h.01M361.2,295.2h.01M362.6,290.1h.01M358.5,283.7h.01M367.3,287.1h.01M361.6,283.3h.01M359.5,275.2h.01M358.6,279.3h.01M362.3,286.9h.01M329.6,306.2h.01M363.8,289.2h.01M364.9,286.9h.01M351.1,296.3h.01M365.2,291.2h.01M358.8,281.3h.01M332.1,280.3h.01M357.0,276.5h.01M349.6,267.6h.01M356.9,295.1h.01M362.2,284.7h.01M354.3,274.3h.01M363.0,290.9h.01M361.2,291.8h.01M353.2,293.9h.01M354.0,283.0h.01M355.0,292.8h.01M359.6,291.6h.01M363.5,291.2h.01M336.5,316.9h.01M362.6,288.3h.01M367.2,287.0h.01M354.1,296.2h.01M360.3,287.7h.01M363.9,285.5h.01M347.6,278.7h.01M359.2,295.3h.01M355.0,273.2h.01M359.0,278.3h.01M364.1,286.3h.01M367.9,287.3h.01M355.3,255.6h.01M364.9,286.7h.01M362.4,294.0h.01M364.1,288.1h.01M366.1,285.1h.01M336.9,322.1h.01M355.0,270.7h.01M362.6,284.0h.01M353.7,279.0h.01M366.4,288.2h.01M362.0,289.8h.01M362.4,291.2h.01M357.6,280.7h.01M364.9,285.7h.01M362.7,293.6h.01M355.6,293.6h.01M355.1,271.1h.01M346.9,303.6h.01M360.7,290.6h.01M356.8,284.8h.01M361.2,289.8h.01M363.0,286.2h.01M362.9,290.7h.01M350.3,272.4h.01M356.5,302.8h.01M364.6,289.8h.01M358.5,292.8h.01M356.5,297.7h.01M343.5,299.6h.01M347.9,279.4h.01M358.8,291.8h.01M363.8,286.1h.01M361.2,289.6h.01M363.6,289.9h.01M355.5,284.1h.01M359.6,282.9h.01M336.5,308.5h.01M351.9,305.8h.01M359.9,295.6h.01M356.4,290.5h.01M344.6,298.9h.01M342.3,296.2h.01M361.7,288.9h.01M343.0,274.5h.01M345.2,293.8h.01M363.1,287.7h.01M340.4,304.1h.01M352.1,293.7h.01M362.3,284.8h.01M363.5,288.1h.01M357.9,298.7h.01M359.7,281.3h.01M358.9,281.6h.01M361.3,286.3h.01M351.8,305.4h.01M364.1,278.3h.01M356.5,279.6h.01M351.5,280.6h.01M340.3,273.9h.01M362.7,289.5h.01M361.7,275.9h.01M357.0,281.7h.01M352.5,276.0h.01M349.7,297.4h.01M351.9,301.9h.01M362.2,284.6h.01M350.8,271.4h.01M355.2,296.0h.01M360.9,288.9h.01M360.5,299.3h.01M358.3,279.5h.01M356.9,277.7h.01M364.5,283.5h.01M359.1,283.5h.01M353.3,273.4h.01M337.8,275.4h.01M362.0,288.1h.01M357.3,293.0h.01M365.5,287.6h.01M361.7,284.1h.01M363.2,290.9h.01M365.1,289.6h.01M364.9,287.1h.01M361.8,289.4h.01M357.4,284.0h.01M363.8,297.9h.01M348.4,299.4h.01" stroke="#2a5ab8" stroke-width="0.9" stroke-linecap="round" opacity="0.35" fill="none"/>
<line x1="316.50" y1="229.50" x2="316.50" y2="380.20" stroke="#888" stroke-width="0.8"/>
<line x1="220.40" y1="276.50" x2="372.00" y2="276.50" stroke="#888" stroke-width="0.8"/>
<line x1="220.40" y1="298.50" x2="372.00" y2="298.50" stroke="#888" stroke-width="0.8"/>
<rect x="220.40" y="229.50" width="151.60" height="150.70" fill="none" stroke="#000" stroke-width="1.2"/>
<line x1="217.70" y1="252.50" x2="220.40" y2="252.50" stroke="#000" stroke-width="1"/>
<text x="216.10" y="255.50" font-size="8.6" fill="#231f20" text-anchor="end" textLength="3.60" lengthAdjust="spacingAndGlyphs">1</text>
<line x1="217.70" y1="287.70" x2="220.40" y2="287.70" stroke="#000" stroke-width="1"/>
<text x="216.10" y="290.70" font-size="8.6" fill="#231f20" text-anchor="end" textLength="3.60" lengthAdjust="spacingAndGlyphs">0</text>
<line x1="217.70" y1="322.90" x2="220.40" y2="322.90" stroke="#000" stroke-width="1"/>
<text x="216.10" y="325.90" font-size="8.6" fill="#231f20" text-anchor="end" textLength="9.00" lengthAdjust="spacingAndGlyphs">−1</text>
<line x1="217.70" y1="358.10" x2="220.40" y2="358.10" stroke="#000" stroke-width="1"/>
<text x="216.10" y="361.10" font-size="8.6" fill="#231f20" text-anchor="end" textLength="9.00" lengthAdjust="spacingAndGlyphs">−2</text>
<line x1="234.20" y1="380.20" x2="234.20" y2="382.90" stroke="#000" stroke-width="1"/>
<text x="232.70" y="393.40" font-size="8" fill="#231f20" text-anchor="middle" textLength="8.60" lengthAdjust="spacingAndGlyphs">−8</text>
<line x1="267.20" y1="380.20" x2="267.20" y2="382.90" stroke="#000" stroke-width="1"/>
<text x="265.70" y="393.40" font-size="8" fill="#231f20" text-anchor="middle" textLength="8.60" lengthAdjust="spacingAndGlyphs">−6</text>
<line x1="300.20" y1="380.20" x2="300.20" y2="382.90" stroke="#000" stroke-width="1"/>
<text x="298.70" y="393.40" font-size="8" fill="#231f20" text-anchor="middle" textLength="8.60" lengthAdjust="spacingAndGlyphs">−4</text>
<line x1="333.20" y1="380.20" x2="333.20" y2="382.90" stroke="#000" stroke-width="1"/>
<text x="331.70" y="393.40" font-size="8" fill="#231f20" text-anchor="middle" textLength="8.60" lengthAdjust="spacingAndGlyphs">−2</text>
<line x1="366.20" y1="380.20" x2="366.20" y2="382.90" stroke="#000" stroke-width="1"/>
<text x="366.20" y="393.40" font-size="8" fill="#231f20" text-anchor="middle" textLength="3.60" lengthAdjust="spacingAndGlyphs">0</text>
<text x="273.40" y="404.3" font-size="8.3" fill="#231f20" textLength="45.40" lengthAdjust="spacingAndGlyphs">log10 <tspan font-style="italic">P</tspan> value</text>
<text x="201.00" y="372.70" font-size="8.3" fill="#231f20" transform="rotate(-90 201.00 372.70)" textLength="136" lengthAdjust="spacingAndGlyphs">Pom – DMSO relative abundance log<tspan font-size="5.5" dy="2">2</tspan><tspan dy="-2">FC</tspan></text>
<circle cx="224.20" cy="235.60" r="0.9" fill="#c8102e"/>
<text x="227.80" y="239.00" font-size="7" fill="#231f20" textLength="10.60" lengthAdjust="spacingAndGlyphs">Hits</text>
<text x="222.20" y="284.30" font-size="8.3" fill="#231f20" textLength="78.00" lengthAdjust="spacingAndGlyphs">1.25 –fold upregulated</text>
<text x="222.20" y="298.30" font-size="8.3" fill="#231f20" textLength="86.30" lengthAdjust="spacingAndGlyphs">1.25 –fold downregulated</text>
<text x="320.70" y="378.60" font-size="1" fill="#231f20"></text>
<text x="319.30" y="378.5" font-size="7.8" fill="#231f20" textLength="30.5" lengthAdjust="spacingAndGlyphs"><tspan font-style="italic">P</tspan> = 0.001</text>
<circle cx="292.00" cy="264.60" r="0.9" fill="#c8102e"/>
<text x="292.00" y="262.20" font-size="6.6" fill="#231f20" textLength="19.00" lengthAdjust="spacingAndGlyphs">PLAUR</text>
<circle cx="305.80" cy="266.00" r="0.9" fill="#c8102e"/>
<text x="308.30" y="267.20" font-size="6.6" fill="#231f20" textLength="28.70" lengthAdjust="spacingAndGlyphs">TNFRSF21</text>
<circle cx="299.20" cy="274.20" r="0.9" fill="#c8102e"/>
<circle cx="304.40" cy="276.00" r="0.9" fill="#c8102e"/>
<circle cx="305.50" cy="271.00" r="0.9" fill="#c8102e"/>
<circle cx="285.20" cy="301.70" r="0.9" fill="#c8102e"/>
<text x="264.00" y="305.50" font-size="6.6" fill="#231f20" textLength="18.30" lengthAdjust="spacingAndGlyphs">GZMB</text>
<circle cx="292.30" cy="301.20" r="0.9" fill="#c8102e"/>
<text x="293.50" y="305.20" font-size="6.6" fill="#231f20" textLength="14.80" lengthAdjust="spacingAndGlyphs">GZF1</text>
<circle cx="309.60" cy="300.80" r="0.9" fill="#c8102e"/>
<text x="311.50" y="305.20" font-size="6.6" fill="#231f20" textLength="16.00" lengthAdjust="spacingAndGlyphs">IL2RB</text>
<circle cx="303.50" cy="307.50" r="0.9" fill="#c8102e"/>
<circle cx="307.00" cy="309.80" r="0.9" fill="#c8102e"/>
<text x="287.00" y="313.80" font-size="6.6" fill="#231f20" textLength="17.00" lengthAdjust="spacingAndGlyphs">CYTIP</text>
<text x="317.30" y="313.20" font-size="6.6" fill="#231f20" textLength="51.00" lengthAdjust="spacingAndGlyphs">KIAA1199; CEMIP</text>
<circle cx="310.60" cy="317.50" r="0.9" fill="#c8102e"/>
<text x="314.00" y="320.30" font-size="6.6" fill="#231f20" textLength="22.00" lengthAdjust="spacingAndGlyphs">DTWD1</text>
<circle cx="249.20" cy="332.70" r="0.9" fill="#c8102e"/>
<text x="253.70" y="335.30" font-size="6.6" fill="#231f20" textLength="19.20" lengthAdjust="spacingAndGlyphs">RAB28</text>
<circle cx="248.30" cy="348.50" r="0.9" fill="#c8102e"/>
<text x="253.70" y="351.10" font-size="6.6" fill="#231f20" textLength="17.60" lengthAdjust="spacingAndGlyphs">ZFP91</text>
<circle cx="222.90" cy="370.20" r="0.9" fill="#c8102e"/>
<text x="227.10" y="372.80" font-size="6.6" fill="#231f20" textLength="15.90" lengthAdjust="spacingAndGlyphs">IKZF1</text>
<circle cx="282.60" cy="360.00" r="0.9" fill="#c8102e"/>
<text x="286.00" y="362.60" font-size="6.6" fill="#231f20" textLength="12.00" lengthAdjust="spacingAndGlyphs">IL10</text>
<text x="306.50" y="273.80" font-size="5.6" fill="#231f20" textLength="21.00" lengthAdjust="spacingAndGlyphs">IFNGR1</text>
<text x="305.00" y="276.80" font-size="5.6" fill="#231f20" textLength="16.00" lengthAdjust="spacingAndGlyphs">NUB1</text>
<text x="307.00" y="276.30" font-size="5.0" fill="#231f20" textLength="19.00" lengthAdjust="spacingAndGlyphs">SERPINB9</text>
<text x="385.40" y="234.60" font-size="8.3" fill="#231f20" textLength="29.20" lengthAdjust="spacingAndGlyphs">SUDHL1</text>
<text x="385.4" y="254.8" font-size="8.3" fill="#231f20" textLength="38.1" lengthAdjust="spacingAndGlyphs">IMiDs (µM)</text>
<text x="437.40" y="257.60" font-size="8.3" fill="#231f20" textLength="23.20" lengthAdjust="spacingAndGlyphs" transform="rotate(-90 437.40 257.60)">DMSO</text>
<text x="452.80" y="257.60" font-size="8.3" fill="#231f20" textLength="19.30" lengthAdjust="spacingAndGlyphs" transform="rotate(-90 452.80 257.60)">1 Len</text>
<text x="468.20" y="257.60" font-size="8.3" fill="#231f20" textLength="22.60" lengthAdjust="spacingAndGlyphs" transform="rotate(-90 468.20 257.60)">10 Len</text>
<text x="484.20" y="257.60" font-size="8.3" fill="#231f20" textLength="20.30" lengthAdjust="spacingAndGlyphs" transform="rotate(-90 484.20 257.60)">1 Pom</text>
<text x="499.50" y="257.60" font-size="8.3" fill="#231f20" textLength="26.40" lengthAdjust="spacingAndGlyphs" transform="rotate(-90 499.50 257.60)">10 Pom</text>
<text x="505.60" y="256.80" font-size="8.3" fill="#231f20" textLength="9.00" lengthAdjust="spacingAndGlyphs">5h</text>
<rect x="424.20" y="260.40" width="80.40" height="23.90" fill="#f0f0f0" stroke="#222" stroke-width="1.2"/>
<text x="385.40" y="275.10" font-size="8.3" fill="#231f20" textLength="19.60" lengthAdjust="spacingAndGlyphs">IKZF1</text>
<rect x="424.20" y="286.60" width="80.40" height="21.90" fill="#f0f0f0" stroke="#222" stroke-width="1.2"/>
<text x="385.40" y="300.50" font-size="8.3" fill="#231f20" textLength="16.80" lengthAdjust="spacingAndGlyphs">IL-10</text>
<rect x="424.20" y="310.40" width="80.40" height="21.90" fill="#f0f0f0" stroke="#222" stroke-width="1.2"/>
<text x="385.40" y="325.10" font-size="8.3" fill="#231f20" textLength="21.30" lengthAdjust="spacingAndGlyphs">ZFP91</text>
<rect x="424.20" y="334.40" width="80.40" height="21.60" fill="#f0f0f0" stroke="#222" stroke-width="1.2"/>
<text x="385.40" y="349.00" font-size="8.3" fill="#231f20" textLength="23.60" lengthAdjust="spacingAndGlyphs">RAB28</text>
<rect x="424.20" y="358.50" width="80.40" height="22.50" fill="#f0f0f0" stroke="#222" stroke-width="1.2"/>
<text x="385.40" y="372.40" font-size="8.3" fill="#231f20" textLength="27.40" lengthAdjust="spacingAndGlyphs">GAPDH</text>
<rect x="426.25" y="264.10" width="12.50" height="5.20" rx="1.80" fill="#0d0d0d" opacity="1.00" filter="url(#b1)"/>
<rect x="442.75" y="265.10" width="11.50" height="3.20" rx="1.60" fill="#0d0d0d" opacity="0.62" filter="url(#b1)"/>
<rect x="458.85" y="265.10" width="11.50" height="3.20" rx="1.60" fill="#0d0d0d" opacity="0.62" filter="url(#b1)"/>
<rect x="474.45" y="265.10" width="11.50" height="3.20" rx="1.60" fill="#0d0d0d" opacity="0.16" filter="url(#b1)"/>
<rect x="490.45" y="265.10" width="11.50" height="3.20" rx="1.60" fill="#0d0d0d" opacity="0.10" filter="url(#b1)"/>
<rect x="426.50" y="276.15" width="12.00" height="3.70" rx="1.80" fill="#0d0d0d" opacity="1.00" filter="url(#b1)"/>
<rect x="442.50" y="276.15" width="12.00" height="3.70" rx="1.80" fill="#0d0d0d" opacity="0.92" filter="url(#b1)"/>
<rect x="458.60" y="276.15" width="12.00" height="3.70" rx="1.80" fill="#0d0d0d" opacity="0.92" filter="url(#b1)"/>
<rect x="474.20" y="276.15" width="12.00" height="3.70" rx="1.80" fill="#0d0d0d" opacity="0.62" filter="url(#b1)"/>
<rect x="490.20" y="276.15" width="12.00" height="3.70" rx="1.80" fill="#0d0d0d" opacity="0.52" filter="url(#b1)"/>
<rect x="426.75" y="294.50" width="11.50" height="5.40" rx="1.80" fill="#0d0d0d" opacity="1.00" filter="url(#b1)"/>
<rect x="443.00" y="295.30" width="11.00" height="3.80" rx="1.80" fill="#0d0d0d" opacity="0.62" filter="url(#b1)"/>
<rect x="459.10" y="295.30" width="11.00" height="3.80" rx="1.80" fill="#0d0d0d" opacity="0.58" filter="url(#b1)"/>
<rect x="474.70" y="295.30" width="11.00" height="3.80" rx="1.80" fill="#0d0d0d" opacity="0.20" filter="url(#b1)"/>
<rect x="490.70" y="295.30" width="11.00" height="3.80" rx="1.80" fill="#0d0d0d" opacity="0.10" filter="url(#b1)"/>
<rect x="426.75" y="320.30" width="11.50" height="3.20" rx="1.60" fill="#0d0d0d" opacity="0.95" filter="url(#b1)"/>
<rect x="442.75" y="320.30" width="11.50" height="3.20" rx="1.60" fill="#0d0d0d" opacity="0.92" filter="url(#b1)"/>
<rect x="459.35" y="320.30" width="8.50" height="3.20" rx="1.60" fill="#0d0d0d" opacity="0.85" filter="url(#b1)"/>
<rect x="426.50" y="342.80" width="12.00" height="4.40" rx="1.80" fill="#0d0d0d" opacity="1.00" filter="url(#b1)"/>
<rect x="442.50" y="342.80" width="12.00" height="4.40" rx="1.80" fill="#0d0d0d" opacity="0.95" filter="url(#b1)"/>
<rect x="458.60" y="342.80" width="12.00" height="4.40" rx="1.80" fill="#0d0d0d" opacity="0.95" filter="url(#b1)"/>
<rect x="474.20" y="342.80" width="12.00" height="4.40" rx="1.80" fill="#0d0d0d" opacity="1.00" filter="url(#b1)"/>
<rect x="490.20" y="342.80" width="12.00" height="4.40" rx="1.80" fill="#0d0d0d" opacity="1.00" filter="url(#b1)"/>
<rect x="425.60" y="366.40" width="13.80" height="4.80" rx="1.80" fill="#0d0d0d" opacity="1.00" filter="url(#b1)"/>
<rect x="441.60" y="366.40" width="13.80" height="4.80" rx="1.80" fill="#0d0d0d" opacity="1.00" filter="url(#b1)"/>
<rect x="457.70" y="366.40" width="13.80" height="4.80" rx="1.80" fill="#0d0d0d" opacity="1.00" filter="url(#b1)"/>
<rect x="473.30" y="366.40" width="13.80" height="4.80" rx="1.80" fill="#0d0d0d" opacity="1.00" filter="url(#b1)"/>
<rect x="489.30" y="366.40" width="13.80" height="4.80" rx="1.80" fill="#0d0d0d" opacity="1.00" filter="url(#b1)"/>
<text x="18.80" y="439.00" font-size="8.3" fill="#231f20" textLength="28.30" lengthAdjust="spacingAndGlyphs">SUDHL1</text>
<text x="18.8" y="452.8" font-size="8.3" fill="#231f20" textLength="43.7" lengthAdjust="spacingAndGlyphs">Len (2.5 µM)</text>
<text x="77.70" y="439.20" font-size="8.3" fill="#231f20" text-anchor="middle" textLength="8.50" lengthAdjust="spacingAndGlyphs">1h</text>
<line x1="64.20" y1="441.60" x2="90.40" y2="441.60" stroke="#666" stroke-width="1.4"/>
<text x="107.90" y="439.20" font-size="8.3" fill="#231f20" text-anchor="middle" textLength="8.50" lengthAdjust="spacingAndGlyphs">3h</text>
<line x1="94.50" y1="441.60" x2="120.60" y2="441.60" stroke="#666" stroke-width="1.4"/>
<text x="138.10" y="439.20" font-size="8.3" fill="#231f20" text-anchor="middle" textLength="8.50" lengthAdjust="spacingAndGlyphs">5h</text>
<line x1="124.60" y1="441.60" x2="150.70" y2="441.60" stroke="#666" stroke-width="1.4"/>
<text x="168.20" y="439.20" font-size="8.3" fill="#231f20" text-anchor="middle" textLength="12.50" lengthAdjust="spacingAndGlyphs">24h</text>
<line x1="155.00" y1="441.60" x2="181.70" y2="441.60" stroke="#666" stroke-width="1.4"/>
<text x="70.20" y="453.30" font-size="8.3" fill="#231f20" text-anchor="middle">–</text>
<text x="85.40" y="453.30" font-size="8.3" fill="#231f20" text-anchor="middle">+</text>
<text x="100.60" y="453.30" font-size="8.3" fill="#231f20" text-anchor="middle">–</text>
<text x="115.70" y="453.30" font-size="8.3" fill="#231f20" text-anchor="middle">+</text>
<text x="130.70" y="453.30" font-size="8.3" fill="#231f20" text-anchor="middle">–</text>
<text x="145.20" y="453.30" font-size="8.3" fill="#231f20" text-anchor="middle">+</text>
<text x="160.60" y="453.30" font-size="8.3" fill="#231f20" text-anchor="middle">–</text>
<text x="175.30" y="453.30" font-size="8.3" fill="#231f20" text-anchor="middle">+</text>
<rect x="61.00" y="460.00" width="123.20" height="21.50" fill="#f0f0f0" stroke="#222" stroke-width="1.2"/>
<text x="18.80" y="474.90" font-size="8.3" fill="#231f20" textLength="19.60" lengthAdjust="spacingAndGlyphs">IKZF1</text>
<rect x="61.00" y="484.10" width="123.20" height="15.80" fill="#f0f0f0" stroke="#222" stroke-width="1.2"/>
<text x="18.80" y="495.10" font-size="8.3" fill="#231f20" textLength="16.80" lengthAdjust="spacingAndGlyphs">IL-10</text>
<rect x="61.00" y="504.30" width="123.20" height="12.40" fill="#f0f0f0" stroke="#222" stroke-width="1.2"/>
<text x="18.80" y="514.40" font-size="8.3" fill="#231f20" textLength="23.60" lengthAdjust="spacingAndGlyphs">RAB28</text>
<rect x="61.00" y="520.40" width="123.20" height="16.00" fill="#f0f0f0" stroke="#222" stroke-width="1.2"/>
<text x="18.80" y="531.80" font-size="8.3" fill="#231f20" textLength="33.00" lengthAdjust="spacingAndGlyphs">α-Tubulin</text>
<rect x="63.20" y="464.30" width="14.00" height="4.00" rx="1.80" fill="#0d0d0d" opacity="1.00" filter="url(#b1)"/>
<rect x="78.40" y="464.60" width="14.00" height="3.40" rx="1.70" fill="#0d0d0d" opacity="0.95" filter="url(#b1)"/>
<rect x="93.60" y="464.30" width="14.00" height="4.00" rx="1.80" fill="#0d0d0d" opacity="1.00" filter="url(#b1)"/>
<rect x="108.70" y="464.60" width="14.00" height="3.40" rx="1.70" fill="#0d0d0d" opacity="0.80" filter="url(#b1)"/>
<rect x="123.70" y="464.30" width="14.00" height="4.00" rx="1.80" fill="#0d0d0d" opacity="1.00" filter="url(#b1)"/>
<rect x="138.20" y="464.60" width="14.00" height="3.40" rx="1.70" fill="#0d0d0d" opacity="0.35" filter="url(#b1)"/>
<rect x="153.60" y="464.30" width="14.00" height="4.00" rx="1.80" fill="#0d0d0d" opacity="1.00" filter="url(#b1)"/>
<rect x="168.30" y="464.60" width="14.00" height="3.40" rx="1.70" fill="#0d0d0d" opacity="0.15" filter="url(#b1)"/>
<rect x="63.45" y="472.20" width="13.50" height="3.20" rx="1.60" fill="#0d0d0d" opacity="0.95" filter="url(#b1)"/>
<rect x="78.65" y="472.20" width="13.50" height="3.20" rx="1.60" fill="#0d0d0d" opacity="0.90" filter="url(#b1)"/>
<rect x="93.85" y="472.20" width="13.50" height="3.20" rx="1.60" fill="#0d0d0d" opacity="0.90" filter="url(#b1)"/>
<rect x="108.95" y="472.20" width="13.50" height="3.20" rx="1.60" fill="#0d0d0d" opacity="0.85" filter="url(#b1)"/>
<rect x="123.95" y="472.20" width="13.50" height="3.20" rx="1.60" fill="#0d0d0d" opacity="0.90" filter="url(#b1)"/>
<rect x="138.45" y="472.20" width="13.50" height="3.20" rx="1.60" fill="#0d0d0d" opacity="0.75" filter="url(#b1)"/>
<rect x="153.85" y="472.20" width="13.50" height="3.20" rx="1.60" fill="#0d0d0d" opacity="0.90" filter="url(#b1)"/>
<rect x="168.55" y="472.20" width="13.50" height="3.20" rx="1.60" fill="#0d0d0d" opacity="0.45" filter="url(#b1)"/>
<rect x="63.95" y="490.90" width="12.50" height="3.00" rx="1.50" fill="#0d0d0d" opacity="0.80" filter="url(#b1)"/>
<rect x="79.15" y="490.90" width="12.50" height="3.00" rx="1.50" fill="#0d0d0d" opacity="0.80" filter="url(#b1)"/>
<rect x="93.85" y="490.20" width="13.50" height="4.40" rx="1.80" fill="#0d0d0d" opacity="1.00" filter="url(#b1)"/>
<rect x="109.45" y="490.90" width="12.50" height="3.00" rx="1.50" fill="#0d0d0d" opacity="0.72" filter="url(#b1)"/>
<rect x="124.45" y="490.90" width="12.50" height="3.00" rx="1.50" fill="#0d0d0d" opacity="0.85" filter="url(#b1)"/>
<rect x="138.95" y="490.90" width="12.50" height="3.00" rx="1.50" fill="#0d0d0d" opacity="0.32" filter="url(#b1)"/>
<rect x="154.35" y="490.90" width="12.50" height="3.00" rx="1.50" fill="#0d0d0d" opacity="0.35" filter="url(#b1)"/>
<rect x="63.70" y="509.25" width="13.00" height="2.90" rx="1.45" fill="#0d0d0d" opacity="0.85" filter="url(#b1)"/>
<rect x="78.90" y="509.25" width="13.00" height="2.90" rx="1.45" fill="#0d0d0d" opacity="0.80" filter="url(#b1)"/>
<rect x="94.10" y="509.25" width="13.00" height="2.90" rx="1.45" fill="#0d0d0d" opacity="0.95" filter="url(#b1)"/>
<rect x="109.20" y="509.25" width="13.00" height="2.90" rx="1.45" fill="#0d0d0d" opacity="0.95" filter="url(#b1)"/>
<rect x="124.20" y="509.25" width="13.00" height="2.90" rx="1.45" fill="#0d0d0d" opacity="0.95" filter="url(#b1)"/>
<rect x="138.70" y="509.25" width="13.00" height="2.90" rx="1.45" fill="#0d0d0d" opacity="0.95" filter="url(#b1)"/>
<rect x="154.10" y="509.25" width="13.00" height="2.90" rx="1.45" fill="#0d0d0d" opacity="0.90" filter="url(#b1)"/>
<rect x="168.80" y="509.25" width="13.00" height="2.90" rx="1.45" fill="#0d0d0d" opacity="0.95" filter="url(#b1)"/>
<rect x="62.60" y="526.60" width="15.20" height="4.40" rx="1.80" fill="#0d0d0d" opacity="1.00" filter="url(#b1)"/>
<rect x="77.80" y="526.60" width="15.20" height="4.40" rx="1.80" fill="#0d0d0d" opacity="1.00" filter="url(#b1)"/>
<rect x="93.00" y="526.60" width="15.20" height="4.40" rx="1.80" fill="#0d0d0d" opacity="1.00" filter="url(#b1)"/>
<rect x="108.10" y="526.60" width="15.20" height="4.40" rx="1.80" fill="#0d0d0d" opacity="1.00" filter="url(#b1)"/>
<rect x="123.10" y="526.60" width="15.20" height="4.40" rx="1.80" fill="#0d0d0d" opacity="1.00" filter="url(#b1)"/>
<rect x="137.60" y="526.60" width="15.20" height="4.40" rx="1.80" fill="#0d0d0d" opacity="1.00" filter="url(#b1)"/>
<rect x="153.00" y="526.60" width="15.20" height="4.40" rx="1.80" fill="#0d0d0d" opacity="1.00" filter="url(#b1)"/>
<rect x="167.70" y="526.60" width="15.20" height="4.40" rx="1.80" fill="#0d0d0d" opacity="1.00" filter="url(#b1)"/>
<text x="210.40" y="442.00" font-size="8.3" fill="#231f20" textLength="28.40" lengthAdjust="spacingAndGlyphs">SUDHL1</text>
<text x="210.40" y="460.00" font-size="8.3" fill="#231f20" textLength="43.10" lengthAdjust="spacingAndGlyphs">sgRNA-NTC</text>
<text x="260.00" y="460.20" font-size="9.2" fill="#231f20" textLength="21.90" lengthAdjust="spacingAndGlyphs">–Dox</text>
<text x="287.20" y="460.20" font-size="9.2" fill="#231f20" textLength="23.10" lengthAdjust="spacingAndGlyphs">+Dox</text>
<rect x="257.20" y="464.30" width="54.80" height="30.70" fill="#f0f0f0" stroke="#222" stroke-width="1.2"/>
<text x="210.40" y="484.90" font-size="8.3" fill="#231f20" textLength="19.60" lengthAdjust="spacingAndGlyphs">IKZF1</text>
<rect x="260.90" y="469.90" width="21.80" height="7.20" rx="3.24" fill="#0d0d0d" opacity="1.00" filter="url(#b2)"/>
<rect x="287.40" y="469.50" width="21.80" height="8.00" rx="3.60" fill="#0d0d0d" opacity="1.00" filter="url(#b2)"/>
<rect x="260.90" y="483.10" width="21.80" height="6.60" rx="2.97" fill="#0d0d0d" opacity="1.00" filter="url(#b2)"/>
<rect x="287.60" y="483.40" width="20.80" height="5.80" rx="2.61" fill="#0d0d0d" opacity="1.00" filter="url(#b2)"/>
<rect x="289.00" y="489.50" width="18.00" height="3.00" rx="1.35" fill="#0d0d0d" opacity="0.12" filter="url(#b2)"/>
<rect x="257.20" y="499.20" width="54.80" height="20.50" fill="#f0f0f0" stroke="#222" stroke-width="1.2"/>
<text x="210.40" y="513.10" font-size="8.3" fill="#231f20" textLength="27.40" lengthAdjust="spacingAndGlyphs">GAPDH</text>
<rect x="259.60" y="506.30" width="23.20" height="6.00" rx="2.70" fill="#0d0d0d" opacity="1.00" filter="url(#b2)"/>
<rect x="286.30" y="506.30" width="22.80" height="6.00" rx="2.70" fill="#0d0d0d" opacity="1.00" filter="url(#b2)"/>
<text x="212.70" y="561.90" font-size="8.3" fill="#231f20" textLength="47.30" lengthAdjust="spacingAndGlyphs">sgRNA-IKZF1</text>
<text x="262.30" y="562.00" font-size="9.2" fill="#231f20" textLength="22.70" lengthAdjust="spacingAndGlyphs">–Dox</text>
<text x="291.80" y="562.00" font-size="9.2" fill="#231f20" textLength="22.90" lengthAdjust="spacingAndGlyphs">+Dox</text>
<rect x="263.50" y="569.20" width="48.90" height="25.90" fill="#f0f0f0" stroke="#222" stroke-width="1.2"/>
<text x="212.70" y="587.30" font-size="8.3" fill="#231f20" textLength="19.60" lengthAdjust="spacingAndGlyphs">IKZF1</text>
<rect x="266.80" y="574.40" width="16.60" height="7.20" rx="3.24" fill="#0d0d0d" opacity="1.00" filter="url(#b2)"/>
<rect x="267.20" y="585.60" width="15.60" height="5.40" rx="2.43" fill="#0d0d0d" opacity="1.00" filter="url(#b2)"/>
<rect x="291.20" y="577.20" width="14.00" height="3.20" rx="1.44" fill="#0d0d0d" opacity="0.05" filter="url(#b2)"/>
<rect x="263.50" y="599.70" width="48.90" height="18.00" fill="#f0f0f0" stroke="#222" stroke-width="1.2"/>
<text x="212.70" y="613.40" font-size="8.3" fill="#231f20" textLength="27.40" lengthAdjust="spacingAndGlyphs">GAPDH</text>
<rect x="266.00" y="605.00" width="18.80" height="5.80" rx="2.61" fill="#0d0d0d" opacity="1.00" filter="url(#b2)"/>
<rect x="288.70" y="605.00" width="19.60" height="5.80" rx="2.61" fill="#0d0d0d" opacity="1.00" filter="url(#b2)"/>
<text x="16.30" y="570.30" font-size="8.3" fill="#231f20" textLength="29.50" lengthAdjust="spacingAndGlyphs">SUDHL1</text>
<rect x="70.20" y="563.00" width="6.80" height="7.00" fill="#c8102e"/>
<text x="80.40" y="569.50" font-size="8.3" fill="#231f20" textLength="22.70" lengthAdjust="spacingAndGlyphs">DMSO</text>
<rect x="114.40" y="563.00" width="6.80" height="7.00" fill="#15508e"/>
<text x="124" y="569.5" font-size="8.3" fill="#231f20" textLength="41" lengthAdjust="spacingAndGlyphs">Len (2.5 µM)</text>
<line x1="50.40" y1="579.80" x2="50.40" y2="645.40" stroke="#000" stroke-width="1.3"/>
<line x1="49.80" y1="644.80" x2="105.20" y2="644.80" stroke="#000" stroke-width="1.3"/>
<line x1="47.60" y1="644.80" x2="50.40" y2="644.80" stroke="#000" stroke-width="1"/>
<text x="46.20" y="647.80" font-size="8.3" fill="#231f20" text-anchor="end" textLength="26.00" lengthAdjust="spacingAndGlyphs">0.0000</text>
<line x1="47.60" y1="629.65" x2="50.40" y2="629.65" stroke="#000" stroke-width="1"/>
<text x="46.20" y="632.65" font-size="8.3" fill="#231f20" text-anchor="end" textLength="26.00" lengthAdjust="spacingAndGlyphs">0.0005</text>
<line x1="47.60" y1="614.50" x2="50.40" y2="614.50" stroke="#000" stroke-width="1"/>
<text x="46.20" y="617.50" font-size="8.3" fill="#231f20" text-anchor="end" textLength="26.00" lengthAdjust="spacingAndGlyphs">0.0010</text>
<line x1="47.60" y1="599.35" x2="50.40" y2="599.35" stroke="#000" stroke-width="1"/>
<text x="46.20" y="602.35" font-size="8.3" fill="#231f20" text-anchor="end" textLength="26.00" lengthAdjust="spacingAndGlyphs">0.0015</text>
<line x1="47.60" y1="584.20" x2="50.40" y2="584.20" stroke="#000" stroke-width="1"/>
<text x="46.20" y="587.20" font-size="8.3" fill="#231f20" text-anchor="end" textLength="26.00" lengthAdjust="spacingAndGlyphs">0.0020</text>
<rect x="54.40" y="619.40" width="6.60" height="25.40" fill="#c8102e"/>
<line x1="57.70" y1="616.90" x2="57.70" y2="619.40" stroke="#444" stroke-width="0.9"/>
<line x1="56.10" y1="616.90" x2="59.30" y2="616.90" stroke="#444" stroke-width="0.9"/>
<rect x="65.80" y="624.20" width="6.30" height="20.60" fill="#15508e"/>
<line x1="68.95" y1="623.20" x2="68.95" y2="624.20" stroke="#444" stroke-width="0.9"/>
<line x1="67.35" y1="623.20" x2="70.55" y2="623.20" stroke="#444" stroke-width="0.9"/>
<rect x="84.60" y="606.30" width="6.20" height="38.50" fill="#c8102e"/>
<line x1="87.70" y1="603.00" x2="87.70" y2="606.30" stroke="#444" stroke-width="0.9"/>
<line x1="86.10" y1="603.00" x2="89.30" y2="603.00" stroke="#444" stroke-width="0.9"/>
<rect x="95.60" y="599.40" width="6.20" height="45.40" fill="#15508e"/>
<line x1="98.70" y1="593.30" x2="98.70" y2="599.40" stroke="#444" stroke-width="0.9"/>
<line x1="97.10" y1="593.30" x2="100.30" y2="593.30" stroke="#444" stroke-width="0.9"/>
<line x1="63.50" y1="644.80" x2="63.50" y2="647.40" stroke="#000" stroke-width="1"/>
<text x="63.50" y="657.70" font-size="8.3" fill="#231f20" text-anchor="middle" textLength="8.60" lengthAdjust="spacingAndGlyphs">2h</text>
<line x1="92.90" y1="644.80" x2="92.90" y2="647.40" stroke="#000" stroke-width="1"/>
<text x="92.90" y="657.70" font-size="8.3" fill="#231f20" text-anchor="middle" textLength="8.60" lengthAdjust="spacingAndGlyphs">4h</text>
<text x="65.80" y="587.70" font-size="10.3" fill="#231f20" textLength="24.20" lengthAdjust="spacingAndGlyphs">IKZF1</text>
<text x="14.50" y="611.50" font-size="8.3" fill="#231f20" text-anchor="middle" textLength="64.50" lengthAdjust="spacingAndGlyphs" transform="rotate(-90 14.50 611.50)">Relative expression</text>
<line x1="152.50" y1="578.50" x2="152.50" y2="645.50" stroke="#000" stroke-width="1.3"/>
<line x1="151.90" y1="644.90" x2="205.30" y2="644.90" stroke="#000" stroke-width="1.3"/>
<line x1="149.70" y1="644.90" x2="152.50" y2="644.90" stroke="#000" stroke-width="1"/>
<text x="147.50" y="647.90" font-size="8.3" fill="#231f20" text-anchor="end" textLength="21.50" lengthAdjust="spacingAndGlyphs">0.000</text>
<line x1="149.70" y1="624.10" x2="152.50" y2="624.10" stroke="#000" stroke-width="1"/>
<text x="147.50" y="627.10" font-size="8.3" fill="#231f20" text-anchor="end" textLength="21.50" lengthAdjust="spacingAndGlyphs">0.005</text>
<line x1="149.70" y1="603.30" x2="152.50" y2="603.30" stroke="#000" stroke-width="1"/>
<text x="147.50" y="606.30" font-size="8.3" fill="#231f20" text-anchor="end" textLength="21.50" lengthAdjust="spacingAndGlyphs">0.010</text>
<line x1="149.70" y1="582.50" x2="152.50" y2="582.50" stroke="#000" stroke-width="1"/>
<text x="147.50" y="585.50" font-size="8.3" fill="#231f20" text-anchor="end" textLength="21.50" lengthAdjust="spacingAndGlyphs">0.015</text>
<rect x="156.40" y="595.30" width="6.00" height="49.60" fill="#c8102e"/>
<line x1="159.40" y1="593.10" x2="159.40" y2="595.30" stroke="#444" stroke-width="0.9"/>
<line x1="157.80" y1="593.10" x2="161.00" y2="593.10" stroke="#444" stroke-width="0.9"/>
<rect x="167.50" y="620.70" width="6.00" height="24.20" fill="#15508e"/>
<line x1="170.50" y1="619.20" x2="170.50" y2="620.70" stroke="#444" stroke-width="0.9"/>
<line x1="168.90" y1="619.20" x2="172.10" y2="619.20" stroke="#444" stroke-width="0.9"/>
<rect x="185.00" y="592.60" width="6.00" height="52.30" fill="#c8102e"/>
<line x1="188.00" y1="590.50" x2="188.00" y2="592.60" stroke="#444" stroke-width="0.9"/>
<line x1="186.40" y1="590.50" x2="189.60" y2="590.50" stroke="#444" stroke-width="0.9"/>
<rect x="196.10" y="628.70" width="6.10" height="16.20" fill="#15508e"/>
<line x1="199.15" y1="626.50" x2="199.15" y2="628.70" stroke="#444" stroke-width="0.9"/>
<line x1="197.55" y1="626.50" x2="200.75" y2="626.50" stroke="#444" stroke-width="0.9"/>
<line x1="164.60" y1="644.90" x2="164.60" y2="647.50" stroke="#000" stroke-width="1"/>
<text x="164.60" y="657.70" font-size="8.3" fill="#231f20" text-anchor="middle" textLength="8.60" lengthAdjust="spacingAndGlyphs">2h</text>
<line x1="193.20" y1="644.90" x2="193.20" y2="647.50" stroke="#000" stroke-width="1"/>
<text x="193.20" y="657.70" font-size="8.3" fill="#231f20" text-anchor="middle" textLength="8.60" lengthAdjust="spacingAndGlyphs">4h</text>
<text x="170.40" y="587.70" font-size="10.3" fill="#231f20" textLength="17.50" lengthAdjust="spacingAndGlyphs">IL10</text>
<text x="121.70" y="611.50" font-size="8.3" fill="#231f20" text-anchor="middle" textLength="64.50" lengthAdjust="spacingAndGlyphs" transform="rotate(-90 121.70 611.50)">Relative expression</text>
<text x="170.50" y="619.60" font-size="6.5" fill="#231f20" text-anchor="middle" textLength="5.20" lengthAdjust="spacingAndGlyphs">**</text>
<text x="199.10" y="627.00" font-size="6.5" fill="#231f20" text-anchor="middle" textLength="5.20" lengthAdjust="spacingAndGlyphs">**</text>
<line x1="372.00" y1="437.90" x2="382.80" y2="437.90" stroke="#c8102e" stroke-width="1.7" stroke-dasharray="2.2 1.4"/>
<circle cx="377.30" cy="437.90" r="2.6" fill="#c8102e"/>
<text x="385.40" y="440.90" font-size="8.3" fill="#231f20" textLength="17.30" lengthAdjust="spacingAndGlyphs">–Dox</text>
<line x1="372.00" y1="449.00" x2="382.80" y2="449.00" stroke="#15508e" stroke-width="1.7"/>
<circle cx="377.30" cy="449.00" r="2.6" fill="#15508e"/>
<text x="385.40" y="452.00" font-size="8.3" fill="#231f20" textLength="18.80" lengthAdjust="spacingAndGlyphs">+Dox</text>
<rect x="469.00" y="434.40" width="7.20" height="6.80" fill="#c8102e"/>
<text x="478.70" y="440.80" font-size="8.3" fill="#231f20" textLength="17.30" lengthAdjust="spacingAndGlyphs">–Dox</text>
<rect x="469.00" y="445.60" width="7.20" height="6.80" fill="#15508e"/>
<text x="478.70" y="452.00" font-size="8.3" fill="#231f20" textLength="18.60" lengthAdjust="spacingAndGlyphs">+Dox</text>
<text x="363.30" y="467.10" font-size="10.3" fill="#231f20" textLength="52.30" lengthAdjust="spacingAndGlyphs">sgRNA-NTC</text>
<line x1="365.60" y1="471.50" x2="365.60" y2="540.00" stroke="#000" stroke-width="1.4"/>
<line x1="362.40" y1="539.40" x2="365.60" y2="539.40" stroke="#000" stroke-width="1"/>
<text x="356.20" y="542.60" font-size="8.3" fill="#231f20" text-anchor="end" textLength="7.60" lengthAdjust="spacingAndGlyphs">10</text>
<text x="356.30" y="539.30" font-size="6.0" fill="#231f20" textLength="3.10" lengthAdjust="spacingAndGlyphs">4</text>
<line x1="363.30" y1="534.66" x2="365.60" y2="534.66" stroke="#000" stroke-width="0.9"/>
<line x1="363.30" y1="531.89" x2="365.60" y2="531.89" stroke="#000" stroke-width="0.9"/>
<line x1="363.30" y1="529.92" x2="365.60" y2="529.92" stroke="#000" stroke-width="0.9"/>
<line x1="363.30" y1="528.39" x2="365.60" y2="528.39" stroke="#000" stroke-width="0.9"/>
<line x1="363.30" y1="527.14" x2="365.60" y2="527.14" stroke="#000" stroke-width="0.9"/>
<line x1="363.30" y1="526.09" x2="365.60" y2="526.09" stroke="#000" stroke-width="0.9"/>
<line x1="363.30" y1="525.18" x2="365.60" y2="525.18" stroke="#000" stroke-width="0.9"/>
<line x1="363.30" y1="524.37" x2="365.60" y2="524.37" stroke="#000" stroke-width="0.9"/>
<line x1="362.40" y1="523.65" x2="365.60" y2="523.65" stroke="#000" stroke-width="1"/>
<text x="356.20" y="526.85" font-size="8.3" fill="#231f20" text-anchor="end" textLength="7.60" lengthAdjust="spacingAndGlyphs">10</text>
<text x="356.30" y="523.55" font-size="6.0" fill="#231f20" textLength="3.10" lengthAdjust="spacingAndGlyphs">5</text>
<line x1="363.30" y1="518.91" x2="365.60" y2="518.91" stroke="#000" stroke-width="0.9"/>
<line x1="363.30" y1="516.14" x2="365.60" y2="516.14" stroke="#000" stroke-width="0.9"/>
<line x1="363.30" y1="514.17" x2="365.60" y2="514.17" stroke="#000" stroke-width="0.9"/>
<line x1="363.30" y1="512.64" x2="365.60" y2="512.64" stroke="#000" stroke-width="0.9"/>
<line x1="363.30" y1="511.39" x2="365.60" y2="511.39" stroke="#000" stroke-width="0.9"/>
<line x1="363.30" y1="510.34" x2="365.60" y2="510.34" stroke="#000" stroke-width="0.9"/>
<line x1="363.30" y1="509.43" x2="365.60" y2="509.43" stroke="#000" stroke-width="0.9"/>
<line x1="363.30" y1="508.62" x2="365.60" y2="508.62" stroke="#000" stroke-width="0.9"/>
<line x1="362.40" y1="507.90" x2="365.60" y2="507.90" stroke="#000" stroke-width="1"/>
<text x="356.20" y="511.10" font-size="8.3" fill="#231f20" text-anchor="end" textLength="7.60" lengthAdjust="spacingAndGlyphs">10</text>
<text x="356.30" y="507.80" font-size="6.0" fill="#231f20" textLength="3.10" lengthAdjust="spacingAndGlyphs">6</text>
<line x1="363.30" y1="503.16" x2="365.60" y2="503.16" stroke="#000" stroke-width="0.9"/>
<line x1="363.30" y1="500.39" x2="365.60" y2="500.39" stroke="#000" stroke-width="0.9"/>
<line x1="363.30" y1="498.42" x2="365.60" y2="498.42" stroke="#000" stroke-width="0.9"/>
<line x1="363.30" y1="496.89" x2="365.60" y2="496.89" stroke="#000" stroke-width="0.9"/>
<line x1="363.30" y1="495.64" x2="365.60" y2="495.64" stroke="#000" stroke-width="0.9"/>
<line x1="363.30" y1="494.59" x2="365.60" y2="494.59" stroke="#000" stroke-width="0.9"/>
<line x1="363.30" y1="493.68" x2="365.60" y2="493.68" stroke="#000" stroke-width="0.9"/>
<line x1="363.30" y1="492.87" x2="365.60" y2="492.87" stroke="#000" stroke-width="0.9"/>
<line x1="362.40" y1="492.15" x2="365.60" y2="492.15" stroke="#000" stroke-width="1"/>
<text x="356.20" y="495.35" font-size="8.3" fill="#231f20" text-anchor="end" textLength="7.60" lengthAdjust="spacingAndGlyphs">10</text>
<text x="356.30" y="492.05" font-size="6.0" fill="#231f20" textLength="3.10" lengthAdjust="spacingAndGlyphs">7</text>
<line x1="363.30" y1="487.41" x2="365.60" y2="487.41" stroke="#000" stroke-width="0.9"/>
<line x1="363.30" y1="484.64" x2="365.60" y2="484.64" stroke="#000" stroke-width="0.9"/>
<line x1="363.30" y1="482.67" x2="365.60" y2="482.67" stroke="#000" stroke-width="0.9"/>
<line x1="363.30" y1="481.14" x2="365.60" y2="481.14" stroke="#000" stroke-width="0.9"/>
<line x1="363.30" y1="479.89" x2="365.60" y2="479.89" stroke="#000" stroke-width="0.9"/>
<line x1="363.30" y1="478.84" x2="365.60" y2="478.84" stroke="#000" stroke-width="0.9"/>
<line x1="363.30" y1="477.93" x2="365.60" y2="477.93" stroke="#000" stroke-width="0.9"/>
<line x1="363.30" y1="477.12" x2="365.60" y2="477.12" stroke="#000" stroke-width="0.9"/>
<line x1="362.40" y1="476.40" x2="365.60" y2="476.40" stroke="#000" stroke-width="1"/>
<text x="356.20" y="479.60" font-size="8.3" fill="#231f20" text-anchor="end" textLength="7.60" lengthAdjust="spacingAndGlyphs">10</text>
<text x="356.30" y="476.30" font-size="6.0" fill="#231f20" textLength="3.10" lengthAdjust="spacingAndGlyphs">8</text>
<line x1="363.30" y1="471.66" x2="365.60" y2="471.66" stroke="#000" stroke-width="0.9"/>
<line x1="364.90" y1="539.40" x2="413.30" y2="539.40" stroke="#000" stroke-width="1.4"/>
<line x1="365.60" y1="539.40" x2="365.60" y2="542.00" stroke="#000" stroke-width="1"/>
<text x="365.60" y="551.00" font-size="8.0" fill="#231f20" text-anchor="middle">0</text>
<line x1="376.40" y1="539.40" x2="376.40" y2="542.00" stroke="#000" stroke-width="1"/>
<text x="376.40" y="551.00" font-size="8.0" fill="#231f20" text-anchor="middle">2</text>
<line x1="387.20" y1="539.40" x2="387.20" y2="542.00" stroke="#000" stroke-width="1"/>
<text x="387.20" y="551.00" font-size="8.0" fill="#231f20" text-anchor="middle">4</text>
<line x1="398.00" y1="539.40" x2="398.00" y2="542.00" stroke="#000" stroke-width="1"/>
<text x="398.00" y="551.00" font-size="8.0" fill="#231f20" text-anchor="middle">6</text>
<line x1="408.80" y1="539.40" x2="408.80" y2="542.00" stroke="#000" stroke-width="1"/>
<text x="408.80" y="551.00" font-size="8.0" fill="#231f20" text-anchor="middle">8</text>
<text x="343.00" y="551.00" font-size="8.3" fill="#231f20" textLength="12.80" lengthAdjust="spacingAndGlyphs">Day</text>
<text x="343.50" y="505.00" font-size="8.3" fill="#231f20" text-anchor="middle" textLength="33.00" lengthAdjust="spacingAndGlyphs" transform="rotate(-90 343.50 505.00)">Cell count</text>
<polyline points="365.60,527.70 376.40,518.70 387.20,509.40 398.00,502.70 408.80,494.60" fill="none" stroke="#15508e" stroke-width="1.6" stroke-linejoin="round"/>
<circle cx="365.60" cy="527.70" r="2.5" fill="#15508e"/>
<circle cx="376.40" cy="518.70" r="2.5" fill="#15508e"/>
<circle cx="387.20" cy="509.40" r="2.5" fill="#15508e"/>
<circle cx="398.00" cy="502.70" r="2.5" fill="#15508e"/>
<circle cx="408.80" cy="494.60" r="2.5" fill="#15508e"/>
<polyline points="365.60,527.70 376.40,517.70 387.20,507.10 398.00,499.40 408.80,489.80" fill="none" stroke="#c8102e" stroke-width="1.7" stroke-linejoin="round" stroke-dasharray="2.4 1.5"/>
<circle cx="376.40" cy="517.70" r="2.5" fill="#c8102e"/>
<circle cx="387.20" cy="507.10" r="2.5" fill="#c8102e"/>
<circle cx="398.00" cy="499.40" r="2.5" fill="#c8102e"/>
<circle cx="408.80" cy="489.80" r="2.5" fill="#c8102e"/>
<text x="360.40" y="571.90" font-size="10.3" fill="#231f20" textLength="55.40" lengthAdjust="spacingAndGlyphs">sgRNA-IKZF1</text>
<line x1="365.80" y1="579.20" x2="365.80" y2="645.90" stroke="#000" stroke-width="1.4"/>
<line x1="362.60" y1="645.30" x2="365.80" y2="645.30" stroke="#000" stroke-width="1"/>
<text x="356.40" y="648.50" font-size="8.3" fill="#231f20" text-anchor="end" textLength="7.60" lengthAdjust="spacingAndGlyphs">10</text>
<text x="356.50" y="645.20" font-size="6.0" fill="#231f20" textLength="3.10" lengthAdjust="spacingAndGlyphs">4</text>
<line x1="363.50" y1="640.72" x2="365.80" y2="640.72" stroke="#000" stroke-width="0.9"/>
<line x1="363.50" y1="638.05" x2="365.80" y2="638.05" stroke="#000" stroke-width="0.9"/>
<line x1="363.50" y1="636.15" x2="365.80" y2="636.15" stroke="#000" stroke-width="0.9"/>
<line x1="363.50" y1="634.68" x2="365.80" y2="634.68" stroke="#000" stroke-width="0.9"/>
<line x1="363.50" y1="633.47" x2="365.80" y2="633.47" stroke="#000" stroke-width="0.9"/>
<line x1="363.50" y1="632.45" x2="365.80" y2="632.45" stroke="#000" stroke-width="0.9"/>
<line x1="363.50" y1="631.57" x2="365.80" y2="631.57" stroke="#000" stroke-width="0.9"/>
<line x1="363.50" y1="630.80" x2="365.80" y2="630.80" stroke="#000" stroke-width="0.9"/>
<line x1="362.60" y1="630.10" x2="365.80" y2="630.10" stroke="#000" stroke-width="1"/>
<text x="356.40" y="633.30" font-size="8.3" fill="#231f20" text-anchor="end" textLength="7.60" lengthAdjust="spacingAndGlyphs">10</text>
<text x="356.50" y="630.00" font-size="6.0" fill="#231f20" textLength="3.10" lengthAdjust="spacingAndGlyphs">5</text>
<line x1="363.50" y1="625.52" x2="365.80" y2="625.52" stroke="#000" stroke-width="0.9"/>
<line x1="363.50" y1="622.85" x2="365.80" y2="622.85" stroke="#000" stroke-width="0.9"/>
<line x1="363.50" y1="620.95" x2="365.80" y2="620.95" stroke="#000" stroke-width="0.9"/>
<line x1="363.50" y1="619.48" x2="365.80" y2="619.48" stroke="#000" stroke-width="0.9"/>
<line x1="363.50" y1="618.27" x2="365.80" y2="618.27" stroke="#000" stroke-width="0.9"/>
<line x1="363.50" y1="617.25" x2="365.80" y2="617.25" stroke="#000" stroke-width="0.9"/>
<line x1="363.50" y1="616.37" x2="365.80" y2="616.37" stroke="#000" stroke-width="0.9"/>
<line x1="363.50" y1="615.60" x2="365.80" y2="615.60" stroke="#000" stroke-width="0.9"/>
<line x1="362.60" y1="614.90" x2="365.80" y2="614.90" stroke="#000" stroke-width="1"/>
<text x="356.40" y="618.10" font-size="8.3" fill="#231f20" text-anchor="end" textLength="7.60" lengthAdjust="spacingAndGlyphs">10</text>
<text x="356.50" y="614.80" font-size="6.0" fill="#231f20" textLength="3.10" lengthAdjust="spacingAndGlyphs">6</text>
<line x1="363.50" y1="610.32" x2="365.80" y2="610.32" stroke="#000" stroke-width="0.9"/>
<line x1="363.50" y1="607.65" x2="365.80" y2="607.65" stroke="#000" stroke-width="0.9"/>
<line x1="363.50" y1="605.75" x2="365.80" y2="605.75" stroke="#000" stroke-width="0.9"/>
<line x1="363.50" y1="604.28" x2="365.80" y2="604.28" stroke="#000" stroke-width="0.9"/>
<line x1="363.50" y1="603.07" x2="365.80" y2="603.07" stroke="#000" stroke-width="0.9"/>
<line x1="363.50" y1="602.05" x2="365.80" y2="602.05" stroke="#000" stroke-width="0.9"/>
<line x1="363.50" y1="601.17" x2="365.80" y2="601.17" stroke="#000" stroke-width="0.9"/>
<line x1="363.50" y1="600.40" x2="365.80" y2="600.40" stroke="#000" stroke-width="0.9"/>
<line x1="362.60" y1="599.70" x2="365.80" y2="599.70" stroke="#000" stroke-width="1"/>
<text x="356.40" y="602.90" font-size="8.3" fill="#231f20" text-anchor="end" textLength="7.60" lengthAdjust="spacingAndGlyphs">10</text>
<text x="356.50" y="599.60" font-size="6.0" fill="#231f20" textLength="3.10" lengthAdjust="spacingAndGlyphs">7</text>
<line x1="363.50" y1="595.12" x2="365.80" y2="595.12" stroke="#000" stroke-width="0.9"/>
<line x1="363.50" y1="592.45" x2="365.80" y2="592.45" stroke="#000" stroke-width="0.9"/>
<line x1="363.50" y1="590.55" x2="365.80" y2="590.55" stroke="#000" stroke-width="0.9"/>
<line x1="363.50" y1="589.08" x2="365.80" y2="589.08" stroke="#000" stroke-width="0.9"/>
<line x1="363.50" y1="587.87" x2="365.80" y2="587.87" stroke="#000" stroke-width="0.9"/>
<line x1="363.50" y1="586.85" x2="365.80" y2="586.85" stroke="#000" stroke-width="0.9"/>
<line x1="363.50" y1="585.97" x2="365.80" y2="585.97" stroke="#000" stroke-width="0.9"/>
<line x1="363.50" y1="585.20" x2="365.80" y2="585.20" stroke="#000" stroke-width="0.9"/>
<line x1="362.60" y1="584.50" x2="365.80" y2="584.50" stroke="#000" stroke-width="1"/>
<text x="356.40" y="587.70" font-size="8.3" fill="#231f20" text-anchor="end" textLength="7.60" lengthAdjust="spacingAndGlyphs">10</text>
<text x="356.50" y="584.40" font-size="6.0" fill="#231f20" textLength="3.10" lengthAdjust="spacingAndGlyphs">8</text>
<line x1="363.50" y1="579.92" x2="365.80" y2="579.92" stroke="#000" stroke-width="0.9"/>
<line x1="365.10" y1="645.30" x2="411.30" y2="645.30" stroke="#000" stroke-width="1.4"/>
<line x1="365.80" y1="645.30" x2="365.80" y2="647.90" stroke="#000" stroke-width="1"/>
<text x="365.80" y="657.50" font-size="8.0" fill="#231f20" text-anchor="middle">0</text>
<line x1="376.55" y1="645.30" x2="376.55" y2="647.90" stroke="#000" stroke-width="1"/>
<text x="376.55" y="657.50" font-size="8.0" fill="#231f20" text-anchor="middle">2</text>
<line x1="387.30" y1="645.30" x2="387.30" y2="647.90" stroke="#000" stroke-width="1"/>
<text x="387.30" y="657.50" font-size="8.0" fill="#231f20" text-anchor="middle">4</text>
<line x1="398.05" y1="645.30" x2="398.05" y2="647.90" stroke="#000" stroke-width="1"/>
<text x="398.05" y="657.50" font-size="8.0" fill="#231f20" text-anchor="middle">6</text>
<line x1="408.80" y1="645.30" x2="408.80" y2="647.90" stroke="#000" stroke-width="1"/>
<text x="408.80" y="657.50" font-size="8.0" fill="#231f20" text-anchor="middle">8</text>
<text x="343.00" y="657.50" font-size="8.3" fill="#231f20" textLength="12.80" lengthAdjust="spacingAndGlyphs">Day</text>
<text x="343.50" y="614.20" font-size="8.3" fill="#231f20" text-anchor="middle" textLength="33.00" lengthAdjust="spacingAndGlyphs" transform="rotate(-90 343.50 614.20)">Cell count</text>
<polyline points="365.80,637.30 376.55,632.10 387.30,630.20 398.05,633.50 408.80,639.20" fill="none" stroke="#15508e" stroke-width="1.6" stroke-linejoin="round"/>
<circle cx="365.80" cy="637.30" r="2.5" fill="#15508e"/>
<circle cx="376.55" cy="632.10" r="2.5" fill="#15508e"/>
<circle cx="387.30" cy="630.20" r="2.5" fill="#15508e"/>
<circle cx="398.05" cy="633.50" r="2.5" fill="#15508e"/>
<circle cx="408.80" cy="639.20" r="2.5" fill="#15508e"/>
<polyline points="365.80,637.30 376.55,625.40 387.30,613.50 398.05,602.30 408.80,593.10" fill="none" stroke="#c8102e" stroke-width="1.7" stroke-linejoin="round" stroke-dasharray="2.4 1.5"/>
<circle cx="376.55" cy="625.40" r="2.5" fill="#c8102e"/>
<circle cx="387.30" cy="613.50" r="2.5" fill="#c8102e"/>
<circle cx="398.05" cy="602.30" r="2.5" fill="#c8102e"/>
<circle cx="408.80" cy="593.10" r="2.5" fill="#c8102e"/>
<line x1="412.00" y1="595.60" x2="412.00" y2="636.90" stroke="#444" stroke-width="1.2"/>
<circle cx="417.30" cy="613.00" r="0.95" fill="#1a1a1a"/>
<circle cx="417.30" cy="615.80" r="0.95" fill="#1a1a1a"/>
<circle cx="417.30" cy="618.60" r="0.95" fill="#1a1a1a"/>
<text x="461.30" y="467.40" font-size="10.3" fill="#231f20" textLength="52.00" lengthAdjust="spacingAndGlyphs">sgRNA-NTC</text>
<line x1="461.20" y1="471.50" x2="461.20" y2="539.40" stroke="#000" stroke-width="1.4"/>
<line x1="460.50" y1="538.80" x2="503.30" y2="538.80" stroke="#000" stroke-width="1.4"/>
<line x1="458.20" y1="538.80" x2="461.20" y2="538.80" stroke="#000" stroke-width="1"/>
<text x="456.00" y="541.80" font-size="8.5" fill="#231f20" text-anchor="end" textLength="4.05" lengthAdjust="spacingAndGlyphs">0</text>
<line x1="458.20" y1="526.28" x2="461.20" y2="526.28" stroke="#000" stroke-width="1"/>
<text x="456.00" y="529.28" font-size="8.5" fill="#231f20" text-anchor="end" textLength="8.10" lengthAdjust="spacingAndGlyphs">20</text>
<line x1="458.20" y1="513.76" x2="461.20" y2="513.76" stroke="#000" stroke-width="1"/>
<text x="456.00" y="516.76" font-size="8.5" fill="#231f20" text-anchor="end" textLength="8.10" lengthAdjust="spacingAndGlyphs">40</text>
<line x1="458.20" y1="501.24" x2="461.20" y2="501.24" stroke="#000" stroke-width="1"/>
<text x="456.00" y="504.24" font-size="8.5" fill="#231f20" text-anchor="end" textLength="8.10" lengthAdjust="spacingAndGlyphs">60</text>
<line x1="458.20" y1="488.72" x2="461.20" y2="488.72" stroke="#000" stroke-width="1"/>
<text x="456.00" y="491.72" font-size="8.5" fill="#231f20" text-anchor="end" textLength="8.10" lengthAdjust="spacingAndGlyphs">80</text>
<line x1="458.20" y1="476.20" x2="461.20" y2="476.20" stroke="#000" stroke-width="1"/>
<text x="456.00" y="479.20" font-size="8.5" fill="#231f20" text-anchor="end" textLength="12.15" lengthAdjust="spacingAndGlyphs">100</text>
<line x1="466.20" y1="538.80" x2="466.20" y2="541.40" stroke="#000" stroke-width="1"/>
<text x="466.20" y="551.10" font-size="8.0" fill="#231f20" text-anchor="middle">2</text>
<rect x="462.90" y="528.47" width="2.40" height="10.33" fill="#c8102e"/>
<rect x="467.20" y="527.72" width="2.40" height="11.08" fill="#15508e"/>
<line x1="477.00" y1="538.80" x2="477.00" y2="541.40" stroke="#000" stroke-width="1"/>
<text x="477.00" y="551.10" font-size="8.0" fill="#231f20" text-anchor="middle">4</text>
<rect x="473.70" y="533.79" width="2.40" height="5.01" fill="#c8102e"/>
<rect x="478.00" y="532.98" width="2.40" height="5.82" fill="#15508e"/>
<line x1="487.80" y1="538.80" x2="487.80" y2="541.40" stroke="#000" stroke-width="1"/>
<text x="487.80" y="551.10" font-size="8.0" fill="#231f20" text-anchor="middle">6</text>
<rect x="484.50" y="529.41" width="2.40" height="9.39" fill="#c8102e"/>
<rect x="488.80" y="528.78" width="2.40" height="10.02" fill="#15508e"/>
<line x1="498.90" y1="538.80" x2="498.90" y2="541.40" stroke="#000" stroke-width="1"/>
<text x="498.90" y="551.10" font-size="8.0" fill="#231f20" text-anchor="middle">8</text>
<rect x="495.60" y="528.78" width="2.40" height="10.02" fill="#c8102e"/>
<rect x="499.90" y="522.71" width="2.40" height="16.09" fill="#15508e"/>
<text x="441.90" y="551.10" font-size="8.3" fill="#231f20" textLength="13.20" lengthAdjust="spacingAndGlyphs">Day</text>
<text x="441.50" y="507.15" font-size="8.8" fill="#231f20" text-anchor="middle" textLength="38.40" lengthAdjust="spacingAndGlyphs" transform="rotate(-90 441.50 507.15)">%PI positive</text>
<text x="454.00" y="571.80" font-size="10.3" fill="#231f20" textLength="56.40" lengthAdjust="spacingAndGlyphs">sgRNA-IKZF1</text>
<line x1="461.00" y1="578.10" x2="461.00" y2="646.00" stroke="#000" stroke-width="1.4"/>
<line x1="460.30" y1="645.40" x2="503.30" y2="645.40" stroke="#000" stroke-width="1.4"/>
<line x1="458.00" y1="645.40" x2="461.00" y2="645.40" stroke="#000" stroke-width="1"/>
<text x="455.80" y="648.40" font-size="8.5" fill="#231f20" text-anchor="end" textLength="4.05" lengthAdjust="spacingAndGlyphs">0</text>
<line x1="458.00" y1="632.82" x2="461.00" y2="632.82" stroke="#000" stroke-width="1"/>
<text x="455.80" y="635.82" font-size="8.5" fill="#231f20" text-anchor="end" textLength="8.10" lengthAdjust="spacingAndGlyphs">20</text>
<line x1="458.00" y1="620.24" x2="461.00" y2="620.24" stroke="#000" stroke-width="1"/>
<text x="455.80" y="623.24" font-size="8.5" fill="#231f20" text-anchor="end" textLength="8.10" lengthAdjust="spacingAndGlyphs">40</text>
<line x1="458.00" y1="607.66" x2="461.00" y2="607.66" stroke="#000" stroke-width="1"/>
<text x="455.80" y="610.66" font-size="8.5" fill="#231f20" text-anchor="end" textLength="8.10" lengthAdjust="spacingAndGlyphs">60</text>
<line x1="458.00" y1="595.08" x2="461.00" y2="595.08" stroke="#000" stroke-width="1"/>
<text x="455.80" y="598.08" font-size="8.5" fill="#231f20" text-anchor="end" textLength="8.10" lengthAdjust="spacingAndGlyphs">80</text>
<line x1="458.00" y1="582.50" x2="461.00" y2="582.50" stroke="#000" stroke-width="1"/>
<text x="455.80" y="585.50" font-size="8.5" fill="#231f20" text-anchor="end" textLength="12.15" lengthAdjust="spacingAndGlyphs">100</text>
<line x1="466.20" y1="645.40" x2="466.20" y2="648.00" stroke="#000" stroke-width="1"/>
<text x="466.20" y="657.80" font-size="8.0" fill="#231f20" text-anchor="middle">2</text>
<rect x="462.90" y="639.11" width="2.40" height="6.29" fill="#c8102e"/>
<rect x="467.20" y="624.01" width="2.40" height="21.39" fill="#15508e"/>
<circle cx="468.40" cy="620.01" r="0.95" fill="#1a1a1a"/>
<circle cx="468.40" cy="616.91" r="0.95" fill="#1a1a1a"/>
<circle cx="468.40" cy="613.81" r="0.95" fill="#1a1a1a"/>
<line x1="477.20" y1="645.40" x2="477.20" y2="648.00" stroke="#000" stroke-width="1"/>
<text x="477.20" y="657.80" font-size="8.0" fill="#231f20" text-anchor="middle">4</text>
<rect x="473.90" y="639.11" width="2.40" height="6.29" fill="#c8102e"/>
<rect x="478.20" y="607.66" width="2.40" height="37.74" fill="#15508e"/>
<circle cx="479.40" cy="603.66" r="0.95" fill="#1a1a1a"/>
<circle cx="479.40" cy="600.56" r="0.95" fill="#1a1a1a"/>
<circle cx="479.40" cy="597.46" r="0.95" fill="#1a1a1a"/>
<line x1="488.00" y1="645.40" x2="488.00" y2="648.00" stroke="#000" stroke-width="1"/>
<text x="488.00" y="657.80" font-size="8.0" fill="#231f20" text-anchor="middle">6</text>
<rect x="484.70" y="637.85" width="2.40" height="7.55" fill="#c8102e"/>
<rect x="489.00" y="592.56" width="2.40" height="52.84" fill="#15508e"/>
<circle cx="490.20" cy="588.56" r="0.95" fill="#1a1a1a"/>
<circle cx="490.20" cy="585.46" r="0.95" fill="#1a1a1a"/>
<circle cx="490.20" cy="582.36" r="0.95" fill="#1a1a1a"/>
<line x1="499.00" y1="645.40" x2="499.00" y2="648.00" stroke="#000" stroke-width="1"/>
<text x="499.00" y="657.80" font-size="8.0" fill="#231f20" text-anchor="middle">8</text>
<rect x="495.70" y="634.08" width="2.40" height="11.32" fill="#c8102e"/>
<rect x="500.00" y="590.05" width="2.40" height="55.35" fill="#15508e"/>
<circle cx="501.20" cy="586.05" r="0.95" fill="#1a1a1a"/>
<circle cx="501.20" cy="582.95" r="0.95" fill="#1a1a1a"/>
<circle cx="501.20" cy="579.85" r="0.95" fill="#1a1a1a"/>
<text x="441.90" y="657.80" font-size="8.3" fill="#231f20" textLength="13.20" lengthAdjust="spacingAndGlyphs">Day</text>
<text x="439.00" y="613.75" font-size="8.8" fill="#231f20" text-anchor="middle" textLength="38.40" lengthAdjust="spacingAndGlyphs" transform="rotate(-90 439.00 613.75)">%PI positive</text>
</svg></body></html>
